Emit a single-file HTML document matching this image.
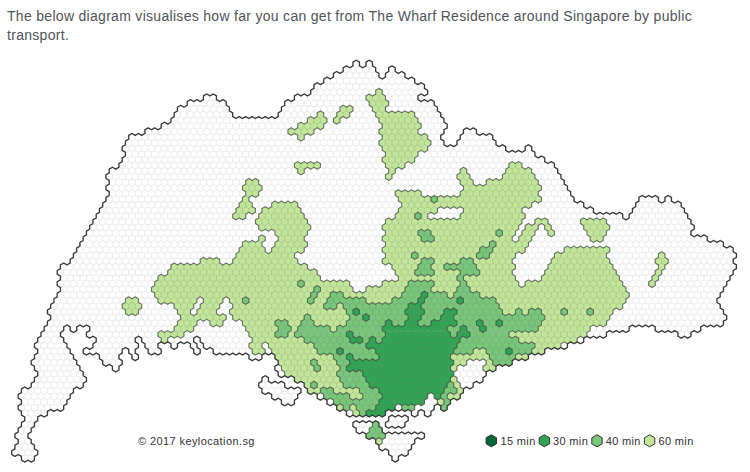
<!DOCTYPE html>
<html><head><meta charset="utf-8">
<style>
html,body{margin:0;padding:0;background:#fff;width:750px;height:472px;overflow:hidden}
body{font-family:"Liberation Sans",sans-serif;color:#333}
.intro{position:absolute;left:7px;top:7px;width:740px;font-size:14px;letter-spacing:0.3px;line-height:19.2px;color:#4f5459}
svg{position:absolute;left:0;top:0}
.copy{position:absolute;left:138px;top:435px;font-size:11px;letter-spacing:0.4px;color:#333;white-space:nowrap}
.lg{position:absolute;top:435px;font-size:11px;letter-spacing:0.35px;color:#333;white-space:nowrap}
</style></head><body>
<div class="intro">The below diagram visualises how far you can get from The Wharf Residence around Singapore by public transport.</div>
<svg width="750" height="472" viewBox="0 0 750 472">
<path fill="#ffffff" stroke="rgba(0,0,0,0.07)" stroke-width="1.2" d="M359.45,62.12v3.75l-3.25,1.88-3.25-1.88v-3.75l3.25-1.88zM372.45,62.12v3.75l-3.25,1.88-3.25-1.88v-3.75l3.25-1.88zM349.7,67.76v3.75l-3.25,1.88-3.25-1.88v-3.75l3.25-1.88zM356.2,67.76v3.75l-3.25,1.88-3.25-1.88v-3.75l3.25-1.88zM362.7,67.76v3.75l-3.25,1.88-3.25-1.88v-3.75l3.25-1.88zM369.2,67.76v3.75l-3.25,1.88-3.25-1.88v-3.75l3.25-1.88zM375.7,67.76v3.75l-3.25,1.88-3.25-1.88v-3.75l3.25-1.88zM395.2,67.76v3.75l-3.25,1.88-3.25-1.88v-3.75l3.25-1.88zM339.95,73.39v3.75l-3.25,1.88-3.25-1.88v-3.75l3.25-1.88zM346.45,73.39v3.75l-3.25,1.88-3.25-1.88v-3.75l3.25-1.88zM352.95,73.39v3.75l-3.25,1.88-3.25-1.88v-3.75l3.25-1.88zM359.45,73.39v3.75l-3.25,1.88-3.25-1.88v-3.75l3.25-1.88zM365.95,73.39v3.75l-3.25,1.88-3.25-1.88v-3.75l3.25-1.88zM372.45,73.39v3.75l-3.25,1.88-3.25-1.88v-3.75l3.25-1.88zM378.95,73.39v3.75l-3.25,1.88-3.25-1.88v-3.75l3.25-1.88zM391.95,73.39v3.75l-3.25,1.88-3.25-1.88v-3.75l3.25-1.88zM398.45,73.39v3.75l-3.25,1.88-3.25-1.88v-3.75l3.25-1.88zM404.95,73.39v3.75l-3.25,1.88-3.25-1.88v-3.75l3.25-1.88zM330.2,79.02v3.75l-3.25,1.88-3.25-1.88v-3.75l3.25-1.88zM336.7,79.02v3.75l-3.25,1.88-3.25-1.88v-3.75l3.25-1.88zM343.2,79.02v3.75l-3.25,1.88-3.25-1.88v-3.75l3.25-1.88zM349.7,79.02v3.75l-3.25,1.88-3.25-1.88v-3.75l3.25-1.88zM356.2,79.02v3.75l-3.25,1.88-3.25-1.88v-3.75l3.25-1.88zM362.7,79.02v3.75l-3.25,1.88-3.25-1.88v-3.75l3.25-1.88zM369.2,79.02v3.75l-3.25,1.88-3.25-1.88v-3.75l3.25-1.88zM375.7,79.02v3.75l-3.25,1.88-3.25-1.88v-3.75l3.25-1.88zM382.2,79.02v3.75l-3.25,1.88-3.25-1.88v-3.75l3.25-1.88zM388.7,79.02v3.75l-3.25,1.88-3.25-1.88v-3.75l3.25-1.88zM395.2,79.02v3.75l-3.25,1.88-3.25-1.88v-3.75l3.25-1.88zM401.7,79.02v3.75l-3.25,1.88-3.25-1.88v-3.75l3.25-1.88zM408.2,79.02v3.75l-3.25,1.88-3.25-1.88v-3.75l3.25-1.88zM414.7,79.02v3.75l-3.25,1.88-3.25-1.88v-3.75l3.25-1.88zM320.45,84.66v3.75l-3.25,1.88-3.25-1.88v-3.75l3.25-1.88zM326.95,84.66v3.75l-3.25,1.88-3.25-1.88v-3.75l3.25-1.88zM333.45,84.66v3.75l-3.25,1.88-3.25-1.88v-3.75l3.25-1.88zM339.95,84.66v3.75l-3.25,1.88-3.25-1.88v-3.75l3.25-1.88zM346.45,84.66v3.75l-3.25,1.88-3.25-1.88v-3.75l3.25-1.88zM352.95,84.66v3.75l-3.25,1.88-3.25-1.88v-3.75l3.25-1.88zM359.45,84.66v3.75l-3.25,1.88-3.25-1.88v-3.75l3.25-1.88zM365.95,84.66v3.75l-3.25,1.88-3.25-1.88v-3.75l3.25-1.88zM372.45,84.66v3.75l-3.25,1.88-3.25-1.88v-3.75l3.25-1.88zM378.95,84.66v3.75l-3.25,1.88-3.25-1.88v-3.75l3.25-1.88zM385.45,84.66v3.75l-3.25,1.88-3.25-1.88v-3.75l3.25-1.88zM391.95,84.66v3.75l-3.25,1.88-3.25-1.88v-3.75l3.25-1.88zM398.45,84.66v3.75l-3.25,1.88-3.25-1.88v-3.75l3.25-1.88zM404.95,84.66v3.75l-3.25,1.88-3.25-1.88v-3.75l3.25-1.88zM411.45,84.66v3.75l-3.25,1.88-3.25-1.88v-3.75l3.25-1.88zM417.95,84.66v3.75l-3.25,1.88-3.25-1.88v-3.75l3.25-1.88zM424.45,84.66v3.75l-3.25,1.88-3.25-1.88v-3.75l3.25-1.88zM317.2,90.29v3.75l-3.25,1.88-3.25-1.88v-3.75l3.25-1.88zM323.7,90.29v3.75l-3.25,1.88-3.25-1.88v-3.75l3.25-1.88zM330.2,90.29v3.75l-3.25,1.88-3.25-1.88v-3.75l3.25-1.88zM336.7,90.29v3.75l-3.25,1.88-3.25-1.88v-3.75l3.25-1.88zM343.2,90.29v3.75l-3.25,1.88-3.25-1.88v-3.75l3.25-1.88zM349.7,90.29v3.75l-3.25,1.88-3.25-1.88v-3.75l3.25-1.88zM356.2,90.29v3.75l-3.25,1.88-3.25-1.88v-3.75l3.25-1.88zM362.7,90.29v3.75l-3.25,1.88-3.25-1.88v-3.75l3.25-1.88zM369.2,90.29v3.75l-3.25,1.88-3.25-1.88v-3.75l3.25-1.88zM375.7,90.29v3.75l-3.25,1.88-3.25-1.88v-3.75l3.25-1.88zM388.7,90.29v3.75l-3.25,1.88-3.25-1.88v-3.75l3.25-1.88zM395.2,90.29v3.75l-3.25,1.88-3.25-1.88v-3.75l3.25-1.88zM401.7,90.29v3.75l-3.25,1.88-3.25-1.88v-3.75l3.25-1.88zM408.2,90.29v3.75l-3.25,1.88-3.25-1.88v-3.75l3.25-1.88zM414.7,90.29v3.75l-3.25,1.88-3.25-1.88v-3.75l3.25-1.88zM421.2,90.29v3.75l-3.25,1.88-3.25-1.88v-3.75l3.25-1.88zM427.7,90.29v3.75l-3.25,1.88-3.25-1.88v-3.75l3.25-1.88zM209.95,95.92v3.75l-3.25,1.88-3.25-1.88v-3.75l3.25-1.88zM216.45,95.92v3.75l-3.25,1.88-3.25-1.88v-3.75l3.25-1.88zM300.95,95.92v3.75l-3.25,1.88-3.25-1.88v-3.75l3.25-1.88zM307.45,95.92v3.75l-3.25,1.88-3.25-1.88v-3.75l3.25-1.88zM313.95,95.92v3.75l-3.25,1.88-3.25-1.88v-3.75l3.25-1.88zM320.45,95.92v3.75l-3.25,1.88-3.25-1.88v-3.75l3.25-1.88zM326.95,95.92v3.75l-3.25,1.88-3.25-1.88v-3.75l3.25-1.88zM333.45,95.92v3.75l-3.25,1.88-3.25-1.88v-3.75l3.25-1.88zM339.95,95.92v3.75l-3.25,1.88-3.25-1.88v-3.75l3.25-1.88zM346.45,95.92v3.75l-3.25,1.88-3.25-1.88v-3.75l3.25-1.88zM352.95,95.92v3.75l-3.25,1.88-3.25-1.88v-3.75l3.25-1.88zM359.45,95.92v3.75l-3.25,1.88-3.25-1.88v-3.75l3.25-1.88zM365.95,95.92v3.75l-3.25,1.88-3.25-1.88v-3.75l3.25-1.88zM391.95,95.92v3.75l-3.25,1.88-3.25-1.88v-3.75l3.25-1.88zM398.45,95.92v3.75l-3.25,1.88-3.25-1.88v-3.75l3.25-1.88zM404.95,95.92v3.75l-3.25,1.88-3.25-1.88v-3.75l3.25-1.88zM411.45,95.92v3.75l-3.25,1.88-3.25-1.88v-3.75l3.25-1.88zM417.95,95.92v3.75l-3.25,1.88-3.25-1.88v-3.75l3.25-1.88zM193.7,101.55v3.75l-3.25,1.88-3.25-1.88v-3.75l3.25-1.88zM200.2,101.55v3.75l-3.25,1.88-3.25-1.88v-3.75l3.25-1.88zM206.7,101.55v3.75l-3.25,1.88-3.25-1.88v-3.75l3.25-1.88zM213.2,101.55v3.75l-3.25,1.88-3.25-1.88v-3.75l3.25-1.88zM219.7,101.55v3.75l-3.25,1.88-3.25-1.88v-3.75l3.25-1.88zM226.2,101.55v3.75l-3.25,1.88-3.25-1.88v-3.75l3.25-1.88zM291.2,101.55v3.75l-3.25,1.88-3.25-1.88v-3.75l3.25-1.88zM297.7,101.55v3.75l-3.25,1.88-3.25-1.88v-3.75l3.25-1.88zM304.2,101.55v3.75l-3.25,1.88-3.25-1.88v-3.75l3.25-1.88zM310.7,101.55v3.75l-3.25,1.88-3.25-1.88v-3.75l3.25-1.88zM317.2,101.55v3.75l-3.25,1.88-3.25-1.88v-3.75l3.25-1.88zM323.7,101.55v3.75l-3.25,1.88-3.25-1.88v-3.75l3.25-1.88zM330.2,101.55v3.75l-3.25,1.88-3.25-1.88v-3.75l3.25-1.88zM336.7,101.55v3.75l-3.25,1.88-3.25-1.88v-3.75l3.25-1.88zM343.2,101.55v3.75l-3.25,1.88-3.25-1.88v-3.75l3.25-1.88zM349.7,101.55v3.75l-3.25,1.88-3.25-1.88v-3.75l3.25-1.88zM356.2,101.55v3.75l-3.25,1.88-3.25-1.88v-3.75l3.25-1.88zM362.7,101.55v3.75l-3.25,1.88-3.25-1.88v-3.75l3.25-1.88zM369.2,101.55v3.75l-3.25,1.88-3.25-1.88v-3.75l3.25-1.88zM395.2,101.55v3.75l-3.25,1.88-3.25-1.88v-3.75l3.25-1.88zM401.7,101.55v3.75l-3.25,1.88-3.25-1.88v-3.75l3.25-1.88zM408.2,101.55v3.75l-3.25,1.88-3.25-1.88v-3.75l3.25-1.88zM414.7,101.55v3.75l-3.25,1.88-3.25-1.88v-3.75l3.25-1.88zM421.2,101.55v3.75l-3.25,1.88-3.25-1.88v-3.75l3.25-1.88zM427.7,101.55v3.75l-3.25,1.88-3.25-1.88v-3.75l3.25-1.88zM434.2,101.55v3.75l-3.25,1.88-3.25-1.88v-3.75l3.25-1.88zM183.95,107.19v3.75l-3.25,1.88-3.25-1.88v-3.75l3.25-1.88zM190.45,107.19v3.75l-3.25,1.88-3.25-1.88v-3.75l3.25-1.88zM196.95,107.19v3.75l-3.25,1.88-3.25-1.88v-3.75l3.25-1.88zM203.45,107.19v3.75l-3.25,1.88-3.25-1.88v-3.75l3.25-1.88zM209.95,107.19v3.75l-3.25,1.88-3.25-1.88v-3.75l3.25-1.88zM216.45,107.19v3.75l-3.25,1.88-3.25-1.88v-3.75l3.25-1.88zM222.95,107.19v3.75l-3.25,1.88-3.25-1.88v-3.75l3.25-1.88zM229.45,107.19v3.75l-3.25,1.88-3.25-1.88v-3.75l3.25-1.88zM287.95,107.19v3.75l-3.25,1.88-3.25-1.88v-3.75l3.25-1.88zM294.45,107.19v3.75l-3.25,1.88-3.25-1.88v-3.75l3.25-1.88zM300.95,107.19v3.75l-3.25,1.88-3.25-1.88v-3.75l3.25-1.88zM307.45,107.19v3.75l-3.25,1.88-3.25-1.88v-3.75l3.25-1.88zM313.95,107.19v3.75l-3.25,1.88-3.25-1.88v-3.75l3.25-1.88zM320.45,107.19v3.75l-3.25,1.88-3.25-1.88v-3.75l3.25-1.88zM326.95,107.19v3.75l-3.25,1.88-3.25-1.88v-3.75l3.25-1.88zM333.45,107.19v3.75l-3.25,1.88-3.25-1.88v-3.75l3.25-1.88zM339.95,107.19v3.75l-3.25,1.88-3.25-1.88v-3.75l3.25-1.88zM359.45,107.19v3.75l-3.25,1.88-3.25-1.88v-3.75l3.25-1.88zM365.95,107.19v3.75l-3.25,1.88-3.25-1.88v-3.75l3.25-1.88zM372.45,107.19v3.75l-3.25,1.88-3.25-1.88v-3.75l3.25-1.88zM391.95,107.19v3.75l-3.25,1.88-3.25-1.88v-3.75l3.25-1.88zM398.45,107.19v3.75l-3.25,1.88-3.25-1.88v-3.75l3.25-1.88zM404.95,107.19v3.75l-3.25,1.88-3.25-1.88v-3.75l3.25-1.88zM411.45,107.19v3.75l-3.25,1.88-3.25-1.88v-3.75l3.25-1.88zM417.95,107.19v3.75l-3.25,1.88-3.25-1.88v-3.75l3.25-1.88zM424.45,107.19v3.75l-3.25,1.88-3.25-1.88v-3.75l3.25-1.88zM430.95,107.19v3.75l-3.25,1.88-3.25-1.88v-3.75l3.25-1.88zM437.45,107.19v3.75l-3.25,1.88-3.25-1.88v-3.75l3.25-1.88zM180.7,112.82v3.75l-3.25,1.88-3.25-1.88v-3.75l3.25-1.88zM187.2,112.82v3.75l-3.25,1.88-3.25-1.88v-3.75l3.25-1.88zM193.7,112.82v3.75l-3.25,1.88-3.25-1.88v-3.75l3.25-1.88zM200.2,112.82v3.75l-3.25,1.88-3.25-1.88v-3.75l3.25-1.88zM206.7,112.82v3.75l-3.25,1.88-3.25-1.88v-3.75l3.25-1.88zM213.2,112.82v3.75l-3.25,1.88-3.25-1.88v-3.75l3.25-1.88zM219.7,112.82v3.75l-3.25,1.88-3.25-1.88v-3.75l3.25-1.88zM226.2,112.82v3.75l-3.25,1.88-3.25-1.88v-3.75l3.25-1.88zM232.7,112.82v3.75l-3.25,1.88-3.25-1.88v-3.75l3.25-1.88zM284.7,112.82v3.75l-3.25,1.88-3.25-1.88v-3.75l3.25-1.88zM291.2,112.82v3.75l-3.25,1.88-3.25-1.88v-3.75l3.25-1.88zM297.7,112.82v3.75l-3.25,1.88-3.25-1.88v-3.75l3.25-1.88zM304.2,112.82v3.75l-3.25,1.88-3.25-1.88v-3.75l3.25-1.88zM310.7,112.82v3.75l-3.25,1.88-3.25-1.88v-3.75l3.25-1.88zM317.2,112.82v3.75l-3.25,1.88-3.25-1.88v-3.75l3.25-1.88zM330.2,112.82v3.75l-3.25,1.88-3.25-1.88v-3.75l3.25-1.88zM336.7,112.82v3.75l-3.25,1.88-3.25-1.88v-3.75l3.25-1.88zM356.2,112.82v3.75l-3.25,1.88-3.25-1.88v-3.75l3.25-1.88zM362.7,112.82v3.75l-3.25,1.88-3.25-1.88v-3.75l3.25-1.88zM369.2,112.82v3.75l-3.25,1.88-3.25-1.88v-3.75l3.25-1.88zM375.7,112.82v3.75l-3.25,1.88-3.25-1.88v-3.75l3.25-1.88zM421.2,112.82v3.75l-3.25,1.88-3.25-1.88v-3.75l3.25-1.88zM427.7,112.82v3.75l-3.25,1.88-3.25-1.88v-3.75l3.25-1.88zM434.2,112.82v3.75l-3.25,1.88-3.25-1.88v-3.75l3.25-1.88zM440.7,112.82v3.75l-3.25,1.88-3.25-1.88v-3.75l3.25-1.88zM177.45,118.45v3.75l-3.25,1.88-3.25-1.88v-3.75l3.25-1.88zM183.95,118.45v3.75l-3.25,1.88-3.25-1.88v-3.75l3.25-1.88zM190.45,118.45v3.75l-3.25,1.88-3.25-1.88v-3.75l3.25-1.88zM196.95,118.45v3.75l-3.25,1.88-3.25-1.88v-3.75l3.25-1.88zM203.45,118.45v3.75l-3.25,1.88-3.25-1.88v-3.75l3.25-1.88zM209.95,118.45v3.75l-3.25,1.88-3.25-1.88v-3.75l3.25-1.88zM216.45,118.45v3.75l-3.25,1.88-3.25-1.88v-3.75l3.25-1.88zM222.95,118.45v3.75l-3.25,1.88-3.25-1.88v-3.75l3.25-1.88zM229.45,118.45v3.75l-3.25,1.88-3.25-1.88v-3.75l3.25-1.88zM235.95,118.45v3.75l-3.25,1.88-3.25-1.88v-3.75l3.25-1.88zM242.45,118.45v3.75l-3.25,1.88-3.25-1.88v-3.75l3.25-1.88zM248.95,118.45v3.75l-3.25,1.88-3.25-1.88v-3.75l3.25-1.88zM255.45,118.45v3.75l-3.25,1.88-3.25-1.88v-3.75l3.25-1.88zM261.95,118.45v3.75l-3.25,1.88-3.25-1.88v-3.75l3.25-1.88zM268.45,118.45v3.75l-3.25,1.88-3.25-1.88v-3.75l3.25-1.88zM274.95,118.45v3.75l-3.25,1.88-3.25-1.88v-3.75l3.25-1.88zM281.45,118.45v3.75l-3.25,1.88-3.25-1.88v-3.75l3.25-1.88zM287.95,118.45v3.75l-3.25,1.88-3.25-1.88v-3.75l3.25-1.88zM294.45,118.45v3.75l-3.25,1.88-3.25-1.88v-3.75l3.25-1.88zM300.95,118.45v3.75l-3.25,1.88-3.25-1.88v-3.75l3.25-1.88zM307.45,118.45v3.75l-3.25,1.88-3.25-1.88v-3.75l3.25-1.88zM333.45,118.45v3.75l-3.25,1.88-3.25-1.88v-3.75l3.25-1.88zM346.45,118.45v3.75l-3.25,1.88-3.25-1.88v-3.75l3.25-1.88zM352.95,118.45v3.75l-3.25,1.88-3.25-1.88v-3.75l3.25-1.88zM359.45,118.45v3.75l-3.25,1.88-3.25-1.88v-3.75l3.25-1.88zM365.95,118.45v3.75l-3.25,1.88-3.25-1.88v-3.75l3.25-1.88zM372.45,118.45v3.75l-3.25,1.88-3.25-1.88v-3.75l3.25-1.88zM378.95,118.45v3.75l-3.25,1.88-3.25-1.88v-3.75l3.25-1.88zM424.45,118.45v3.75l-3.25,1.88-3.25-1.88v-3.75l3.25-1.88zM430.95,118.45v3.75l-3.25,1.88-3.25-1.88v-3.75l3.25-1.88zM437.45,118.45v3.75l-3.25,1.88-3.25-1.88v-3.75l3.25-1.88zM443.95,118.45v3.75l-3.25,1.88-3.25-1.88v-3.75l3.25-1.88zM167.7,124.09v3.75l-3.25,1.88-3.25-1.88v-3.75l3.25-1.88zM174.2,124.09v3.75l-3.25,1.88-3.25-1.88v-3.75l3.25-1.88zM180.7,124.09v3.75l-3.25,1.88-3.25-1.88v-3.75l3.25-1.88zM187.2,124.09v3.75l-3.25,1.88-3.25-1.88v-3.75l3.25-1.88zM193.7,124.09v3.75l-3.25,1.88-3.25-1.88v-3.75l3.25-1.88zM200.2,124.09v3.75l-3.25,1.88-3.25-1.88v-3.75l3.25-1.88zM206.7,124.09v3.75l-3.25,1.88-3.25-1.88v-3.75l3.25-1.88zM213.2,124.09v3.75l-3.25,1.88-3.25-1.88v-3.75l3.25-1.88zM219.7,124.09v3.75l-3.25,1.88-3.25-1.88v-3.75l3.25-1.88zM226.2,124.09v3.75l-3.25,1.88-3.25-1.88v-3.75l3.25-1.88zM232.7,124.09v3.75l-3.25,1.88-3.25-1.88v-3.75l3.25-1.88zM239.2,124.09v3.75l-3.25,1.88-3.25-1.88v-3.75l3.25-1.88zM245.7,124.09v3.75l-3.25,1.88-3.25-1.88v-3.75l3.25-1.88zM252.2,124.09v3.75l-3.25,1.88-3.25-1.88v-3.75l3.25-1.88zM258.7,124.09v3.75l-3.25,1.88-3.25-1.88v-3.75l3.25-1.88zM265.2,124.09v3.75l-3.25,1.88-3.25-1.88v-3.75l3.25-1.88zM271.7,124.09v3.75l-3.25,1.88-3.25-1.88v-3.75l3.25-1.88zM278.2,124.09v3.75l-3.25,1.88-3.25-1.88v-3.75l3.25-1.88zM284.7,124.09v3.75l-3.25,1.88-3.25-1.88v-3.75l3.25-1.88zM291.2,124.09v3.75l-3.25,1.88-3.25-1.88v-3.75l3.25-1.88zM297.7,124.09v3.75l-3.25,1.88-3.25-1.88v-3.75l3.25-1.88zM330.2,124.09v3.75l-3.25,1.88-3.25-1.88v-3.75l3.25-1.88zM336.7,124.09v3.75l-3.25,1.88-3.25-1.88v-3.75l3.25-1.88zM343.2,124.09v3.75l-3.25,1.88-3.25-1.88v-3.75l3.25-1.88zM349.7,124.09v3.75l-3.25,1.88-3.25-1.88v-3.75l3.25-1.88zM356.2,124.09v3.75l-3.25,1.88-3.25-1.88v-3.75l3.25-1.88zM362.7,124.09v3.75l-3.25,1.88-3.25-1.88v-3.75l3.25-1.88zM369.2,124.09v3.75l-3.25,1.88-3.25-1.88v-3.75l3.25-1.88zM375.7,124.09v3.75l-3.25,1.88-3.25-1.88v-3.75l3.25-1.88zM382.2,124.09v3.75l-3.25,1.88-3.25-1.88v-3.75l3.25-1.88zM427.7,124.09v3.75l-3.25,1.88-3.25-1.88v-3.75l3.25-1.88zM434.2,124.09v3.75l-3.25,1.88-3.25-1.88v-3.75l3.25-1.88zM440.7,124.09v3.75l-3.25,1.88-3.25-1.88v-3.75l3.25-1.88zM447.2,124.09v3.75l-3.25,1.88-3.25-1.88v-3.75l3.25-1.88zM151.45,129.72v3.75l-3.25,1.88-3.25-1.88v-3.75l3.25-1.88zM157.95,129.72v3.75l-3.25,1.88-3.25-1.88v-3.75l3.25-1.88zM164.45,129.72v3.75l-3.25,1.88-3.25-1.88v-3.75l3.25-1.88zM170.95,129.72v3.75l-3.25,1.88-3.25-1.88v-3.75l3.25-1.88zM177.45,129.72v3.75l-3.25,1.88-3.25-1.88v-3.75l3.25-1.88zM183.95,129.72v3.75l-3.25,1.88-3.25-1.88v-3.75l3.25-1.88zM190.45,129.72v3.75l-3.25,1.88-3.25-1.88v-3.75l3.25-1.88zM196.95,129.72v3.75l-3.25,1.88-3.25-1.88v-3.75l3.25-1.88zM203.45,129.72v3.75l-3.25,1.88-3.25-1.88v-3.75l3.25-1.88zM209.95,129.72v3.75l-3.25,1.88-3.25-1.88v-3.75l3.25-1.88zM216.45,129.72v3.75l-3.25,1.88-3.25-1.88v-3.75l3.25-1.88zM222.95,129.72v3.75l-3.25,1.88-3.25-1.88v-3.75l3.25-1.88zM229.45,129.72v3.75l-3.25,1.88-3.25-1.88v-3.75l3.25-1.88zM235.95,129.72v3.75l-3.25,1.88-3.25-1.88v-3.75l3.25-1.88zM242.45,129.72v3.75l-3.25,1.88-3.25-1.88v-3.75l3.25-1.88zM248.95,129.72v3.75l-3.25,1.88-3.25-1.88v-3.75l3.25-1.88zM255.45,129.72v3.75l-3.25,1.88-3.25-1.88v-3.75l3.25-1.88zM261.95,129.72v3.75l-3.25,1.88-3.25-1.88v-3.75l3.25-1.88zM268.45,129.72v3.75l-3.25,1.88-3.25-1.88v-3.75l3.25-1.88zM274.95,129.72v3.75l-3.25,1.88-3.25-1.88v-3.75l3.25-1.88zM281.45,129.72v3.75l-3.25,1.88-3.25-1.88v-3.75l3.25-1.88zM287.95,129.72v3.75l-3.25,1.88-3.25-1.88v-3.75l3.25-1.88zM320.45,129.72v3.75l-3.25,1.88-3.25-1.88v-3.75l3.25-1.88zM326.95,129.72v3.75l-3.25,1.88-3.25-1.88v-3.75l3.25-1.88zM333.45,129.72v3.75l-3.25,1.88-3.25-1.88v-3.75l3.25-1.88zM339.95,129.72v3.75l-3.25,1.88-3.25-1.88v-3.75l3.25-1.88zM346.45,129.72v3.75l-3.25,1.88-3.25-1.88v-3.75l3.25-1.88zM352.95,129.72v3.75l-3.25,1.88-3.25-1.88v-3.75l3.25-1.88zM359.45,129.72v3.75l-3.25,1.88-3.25-1.88v-3.75l3.25-1.88zM365.95,129.72v3.75l-3.25,1.88-3.25-1.88v-3.75l3.25-1.88zM372.45,129.72v3.75l-3.25,1.88-3.25-1.88v-3.75l3.25-1.88zM378.95,129.72v3.75l-3.25,1.88-3.25-1.88v-3.75l3.25-1.88zM424.45,129.72v3.75l-3.25,1.88-3.25-1.88v-3.75l3.25-1.88zM430.95,129.72v3.75l-3.25,1.88-3.25-1.88v-3.75l3.25-1.88zM437.45,129.72v3.75l-3.25,1.88-3.25-1.88v-3.75l3.25-1.88zM443.95,129.72v3.75l-3.25,1.88-3.25-1.88v-3.75l3.25-1.88zM469.95,129.72v3.75l-3.25,1.88-3.25-1.88v-3.75l3.25-1.88zM476.45,129.72v3.75l-3.25,1.88-3.25-1.88v-3.75l3.25-1.88zM135.2,135.35v3.75l-3.25,1.88-3.25-1.88v-3.75l3.25-1.88zM141.7,135.35v3.75l-3.25,1.88-3.25-1.88v-3.75l3.25-1.88zM148.2,135.35v3.75l-3.25,1.88-3.25-1.88v-3.75l3.25-1.88zM154.7,135.35v3.75l-3.25,1.88-3.25-1.88v-3.75l3.25-1.88zM161.2,135.35v3.75l-3.25,1.88-3.25-1.88v-3.75l3.25-1.88zM167.7,135.35v3.75l-3.25,1.88-3.25-1.88v-3.75l3.25-1.88zM174.2,135.35v3.75l-3.25,1.88-3.25-1.88v-3.75l3.25-1.88zM180.7,135.35v3.75l-3.25,1.88-3.25-1.88v-3.75l3.25-1.88zM187.2,135.35v3.75l-3.25,1.88-3.25-1.88v-3.75l3.25-1.88zM193.7,135.35v3.75l-3.25,1.88-3.25-1.88v-3.75l3.25-1.88zM200.2,135.35v3.75l-3.25,1.88-3.25-1.88v-3.75l3.25-1.88zM206.7,135.35v3.75l-3.25,1.88-3.25-1.88v-3.75l3.25-1.88zM213.2,135.35v3.75l-3.25,1.88-3.25-1.88v-3.75l3.25-1.88zM219.7,135.35v3.75l-3.25,1.88-3.25-1.88v-3.75l3.25-1.88zM226.2,135.35v3.75l-3.25,1.88-3.25-1.88v-3.75l3.25-1.88zM232.7,135.35v3.75l-3.25,1.88-3.25-1.88v-3.75l3.25-1.88zM239.2,135.35v3.75l-3.25,1.88-3.25-1.88v-3.75l3.25-1.88zM245.7,135.35v3.75l-3.25,1.88-3.25-1.88v-3.75l3.25-1.88zM252.2,135.35v3.75l-3.25,1.88-3.25-1.88v-3.75l3.25-1.88zM258.7,135.35v3.75l-3.25,1.88-3.25-1.88v-3.75l3.25-1.88zM265.2,135.35v3.75l-3.25,1.88-3.25-1.88v-3.75l3.25-1.88zM271.7,135.35v3.75l-3.25,1.88-3.25-1.88v-3.75l3.25-1.88zM278.2,135.35v3.75l-3.25,1.88-3.25-1.88v-3.75l3.25-1.88zM284.7,135.35v3.75l-3.25,1.88-3.25-1.88v-3.75l3.25-1.88zM291.2,135.35v3.75l-3.25,1.88-3.25-1.88v-3.75l3.25-1.88zM297.7,135.35v3.75l-3.25,1.88-3.25-1.88v-3.75l3.25-1.88zM310.7,135.35v3.75l-3.25,1.88-3.25-1.88v-3.75l3.25-1.88zM317.2,135.35v3.75l-3.25,1.88-3.25-1.88v-3.75l3.25-1.88zM323.7,135.35v3.75l-3.25,1.88-3.25-1.88v-3.75l3.25-1.88zM330.2,135.35v3.75l-3.25,1.88-3.25-1.88v-3.75l3.25-1.88zM336.7,135.35v3.75l-3.25,1.88-3.25-1.88v-3.75l3.25-1.88zM343.2,135.35v3.75l-3.25,1.88-3.25-1.88v-3.75l3.25-1.88zM349.7,135.35v3.75l-3.25,1.88-3.25-1.88v-3.75l3.25-1.88zM356.2,135.35v3.75l-3.25,1.88-3.25-1.88v-3.75l3.25-1.88zM362.7,135.35v3.75l-3.25,1.88-3.25-1.88v-3.75l3.25-1.88zM369.2,135.35v3.75l-3.25,1.88-3.25-1.88v-3.75l3.25-1.88zM375.7,135.35v3.75l-3.25,1.88-3.25-1.88v-3.75l3.25-1.88zM382.2,135.35v3.75l-3.25,1.88-3.25-1.88v-3.75l3.25-1.88zM434.2,135.35v3.75l-3.25,1.88-3.25-1.88v-3.75l3.25-1.88zM440.7,135.35v3.75l-3.25,1.88-3.25-1.88v-3.75l3.25-1.88zM466.7,135.35v3.75l-3.25,1.88-3.25-1.88v-3.75l3.25-1.88zM473.2,135.35v3.75l-3.25,1.88-3.25-1.88v-3.75l3.25-1.88zM479.7,135.35v3.75l-3.25,1.88-3.25-1.88v-3.75l3.25-1.88zM486.2,135.35v3.75l-3.25,1.88-3.25-1.88v-3.75l3.25-1.88zM492.7,135.35v3.75l-3.25,1.88-3.25-1.88v-3.75l3.25-1.88zM131.95,140.99v3.75l-3.25,1.88-3.25-1.88v-3.75l3.25-1.88zM138.45,140.99v3.75l-3.25,1.88-3.25-1.88v-3.75l3.25-1.88zM144.95,140.99v3.75l-3.25,1.88-3.25-1.88v-3.75l3.25-1.88zM151.45,140.99v3.75l-3.25,1.88-3.25-1.88v-3.75l3.25-1.88zM157.95,140.99v3.75l-3.25,1.88-3.25-1.88v-3.75l3.25-1.88zM164.45,140.99v3.75l-3.25,1.88-3.25-1.88v-3.75l3.25-1.88zM170.95,140.99v3.75l-3.25,1.88-3.25-1.88v-3.75l3.25-1.88zM177.45,140.99v3.75l-3.25,1.88-3.25-1.88v-3.75l3.25-1.88zM183.95,140.99v3.75l-3.25,1.88-3.25-1.88v-3.75l3.25-1.88zM190.45,140.99v3.75l-3.25,1.88-3.25-1.88v-3.75l3.25-1.88zM196.95,140.99v3.75l-3.25,1.88-3.25-1.88v-3.75l3.25-1.88zM203.45,140.99v3.75l-3.25,1.88-3.25-1.88v-3.75l3.25-1.88zM209.95,140.99v3.75l-3.25,1.88-3.25-1.88v-3.75l3.25-1.88zM216.45,140.99v3.75l-3.25,1.88-3.25-1.88v-3.75l3.25-1.88zM222.95,140.99v3.75l-3.25,1.88-3.25-1.88v-3.75l3.25-1.88zM229.45,140.99v3.75l-3.25,1.88-3.25-1.88v-3.75l3.25-1.88zM235.95,140.99v3.75l-3.25,1.88-3.25-1.88v-3.75l3.25-1.88zM242.45,140.99v3.75l-3.25,1.88-3.25-1.88v-3.75l3.25-1.88zM248.95,140.99v3.75l-3.25,1.88-3.25-1.88v-3.75l3.25-1.88zM255.45,140.99v3.75l-3.25,1.88-3.25-1.88v-3.75l3.25-1.88zM261.95,140.99v3.75l-3.25,1.88-3.25-1.88v-3.75l3.25-1.88zM268.45,140.99v3.75l-3.25,1.88-3.25-1.88v-3.75l3.25-1.88zM274.95,140.99v3.75l-3.25,1.88-3.25-1.88v-3.75l3.25-1.88zM281.45,140.99v3.75l-3.25,1.88-3.25-1.88v-3.75l3.25-1.88zM287.95,140.99v3.75l-3.25,1.88-3.25-1.88v-3.75l3.25-1.88zM294.45,140.99v3.75l-3.25,1.88-3.25-1.88v-3.75l3.25-1.88zM300.95,140.99v3.75l-3.25,1.88-3.25-1.88v-3.75l3.25-1.88zM307.45,140.99v3.75l-3.25,1.88-3.25-1.88v-3.75l3.25-1.88zM313.95,140.99v3.75l-3.25,1.88-3.25-1.88v-3.75l3.25-1.88zM320.45,140.99v3.75l-3.25,1.88-3.25-1.88v-3.75l3.25-1.88zM326.95,140.99v3.75l-3.25,1.88-3.25-1.88v-3.75l3.25-1.88zM333.45,140.99v3.75l-3.25,1.88-3.25-1.88v-3.75l3.25-1.88zM339.95,140.99v3.75l-3.25,1.88-3.25-1.88v-3.75l3.25-1.88zM346.45,140.99v3.75l-3.25,1.88-3.25-1.88v-3.75l3.25-1.88zM352.95,140.99v3.75l-3.25,1.88-3.25-1.88v-3.75l3.25-1.88zM359.45,140.99v3.75l-3.25,1.88-3.25-1.88v-3.75l3.25-1.88zM365.95,140.99v3.75l-3.25,1.88-3.25-1.88v-3.75l3.25-1.88zM372.45,140.99v3.75l-3.25,1.88-3.25-1.88v-3.75l3.25-1.88zM378.95,140.99v3.75l-3.25,1.88-3.25-1.88v-3.75l3.25-1.88zM437.45,140.99v3.75l-3.25,1.88-3.25-1.88v-3.75l3.25-1.88zM443.95,140.99v3.75l-3.25,1.88-3.25-1.88v-3.75l3.25-1.88zM463.45,140.99v3.75l-3.25,1.88-3.25-1.88v-3.75l3.25-1.88zM469.95,140.99v3.75l-3.25,1.88-3.25-1.88v-3.75l3.25-1.88zM476.45,140.99v3.75l-3.25,1.88-3.25-1.88v-3.75l3.25-1.88zM482.95,140.99v3.75l-3.25,1.88-3.25-1.88v-3.75l3.25-1.88zM489.45,140.99v3.75l-3.25,1.88-3.25-1.88v-3.75l3.25-1.88zM495.95,140.99v3.75l-3.25,1.88-3.25-1.88v-3.75l3.25-1.88zM128.7,146.62v3.75l-3.25,1.88-3.25-1.88v-3.75l3.25-1.88zM135.2,146.62v3.75l-3.25,1.88-3.25-1.88v-3.75l3.25-1.88zM141.7,146.62v3.75l-3.25,1.88-3.25-1.88v-3.75l3.25-1.88zM148.2,146.62v3.75l-3.25,1.88-3.25-1.88v-3.75l3.25-1.88zM154.7,146.62v3.75l-3.25,1.88-3.25-1.88v-3.75l3.25-1.88zM161.2,146.62v3.75l-3.25,1.88-3.25-1.88v-3.75l3.25-1.88zM167.7,146.62v3.75l-3.25,1.88-3.25-1.88v-3.75l3.25-1.88zM174.2,146.62v3.75l-3.25,1.88-3.25-1.88v-3.75l3.25-1.88zM180.7,146.62v3.75l-3.25,1.88-3.25-1.88v-3.75l3.25-1.88zM187.2,146.62v3.75l-3.25,1.88-3.25-1.88v-3.75l3.25-1.88zM193.7,146.62v3.75l-3.25,1.88-3.25-1.88v-3.75l3.25-1.88zM200.2,146.62v3.75l-3.25,1.88-3.25-1.88v-3.75l3.25-1.88zM206.7,146.62v3.75l-3.25,1.88-3.25-1.88v-3.75l3.25-1.88zM213.2,146.62v3.75l-3.25,1.88-3.25-1.88v-3.75l3.25-1.88zM219.7,146.62v3.75l-3.25,1.88-3.25-1.88v-3.75l3.25-1.88zM226.2,146.62v3.75l-3.25,1.88-3.25-1.88v-3.75l3.25-1.88zM232.7,146.62v3.75l-3.25,1.88-3.25-1.88v-3.75l3.25-1.88zM239.2,146.62v3.75l-3.25,1.88-3.25-1.88v-3.75l3.25-1.88zM245.7,146.62v3.75l-3.25,1.88-3.25-1.88v-3.75l3.25-1.88zM252.2,146.62v3.75l-3.25,1.88-3.25-1.88v-3.75l3.25-1.88zM258.7,146.62v3.75l-3.25,1.88-3.25-1.88v-3.75l3.25-1.88zM265.2,146.62v3.75l-3.25,1.88-3.25-1.88v-3.75l3.25-1.88zM271.7,146.62v3.75l-3.25,1.88-3.25-1.88v-3.75l3.25-1.88zM278.2,146.62v3.75l-3.25,1.88-3.25-1.88v-3.75l3.25-1.88zM284.7,146.62v3.75l-3.25,1.88-3.25-1.88v-3.75l3.25-1.88zM291.2,146.62v3.75l-3.25,1.88-3.25-1.88v-3.75l3.25-1.88zM297.7,146.62v3.75l-3.25,1.88-3.25-1.88v-3.75l3.25-1.88zM304.2,146.62v3.75l-3.25,1.88-3.25-1.88v-3.75l3.25-1.88zM310.7,146.62v3.75l-3.25,1.88-3.25-1.88v-3.75l3.25-1.88zM317.2,146.62v3.75l-3.25,1.88-3.25-1.88v-3.75l3.25-1.88zM323.7,146.62v3.75l-3.25,1.88-3.25-1.88v-3.75l3.25-1.88zM330.2,146.62v3.75l-3.25,1.88-3.25-1.88v-3.75l3.25-1.88zM336.7,146.62v3.75l-3.25,1.88-3.25-1.88v-3.75l3.25-1.88zM343.2,146.62v3.75l-3.25,1.88-3.25-1.88v-3.75l3.25-1.88zM349.7,146.62v3.75l-3.25,1.88-3.25-1.88v-3.75l3.25-1.88zM356.2,146.62v3.75l-3.25,1.88-3.25-1.88v-3.75l3.25-1.88zM362.7,146.62v3.75l-3.25,1.88-3.25-1.88v-3.75l3.25-1.88zM369.2,146.62v3.75l-3.25,1.88-3.25-1.88v-3.75l3.25-1.88zM375.7,146.62v3.75l-3.25,1.88-3.25-1.88v-3.75l3.25-1.88zM382.2,146.62v3.75l-3.25,1.88-3.25-1.88v-3.75l3.25-1.88zM434.2,146.62v3.75l-3.25,1.88-3.25-1.88v-3.75l3.25-1.88zM440.7,146.62v3.75l-3.25,1.88-3.25-1.88v-3.75l3.25-1.88zM447.2,146.62v3.75l-3.25,1.88-3.25-1.88v-3.75l3.25-1.88zM453.7,146.62v3.75l-3.25,1.88-3.25-1.88v-3.75l3.25-1.88zM460.2,146.62v3.75l-3.25,1.88-3.25-1.88v-3.75l3.25-1.88zM466.7,146.62v3.75l-3.25,1.88-3.25-1.88v-3.75l3.25-1.88zM473.2,146.62v3.75l-3.25,1.88-3.25-1.88v-3.75l3.25-1.88zM479.7,146.62v3.75l-3.25,1.88-3.25-1.88v-3.75l3.25-1.88zM486.2,146.62v3.75l-3.25,1.88-3.25-1.88v-3.75l3.25-1.88zM492.7,146.62v3.75l-3.25,1.88-3.25-1.88v-3.75l3.25-1.88zM499.2,146.62v3.75l-3.25,1.88-3.25-1.88v-3.75l3.25-1.88zM505.7,146.62v3.75l-3.25,1.88-3.25-1.88v-3.75l3.25-1.88zM531.7,146.62v3.75l-3.25,1.88-3.25-1.88v-3.75l3.25-1.88zM131.95,152.25v3.75l-3.25,1.88-3.25-1.88v-3.75l3.25-1.88zM138.45,152.25v3.75l-3.25,1.88-3.25-1.88v-3.75l3.25-1.88zM144.95,152.25v3.75l-3.25,1.88-3.25-1.88v-3.75l3.25-1.88zM151.45,152.25v3.75l-3.25,1.88-3.25-1.88v-3.75l3.25-1.88zM157.95,152.25v3.75l-3.25,1.88-3.25-1.88v-3.75l3.25-1.88zM164.45,152.25v3.75l-3.25,1.88-3.25-1.88v-3.75l3.25-1.88zM170.95,152.25v3.75l-3.25,1.88-3.25-1.88v-3.75l3.25-1.88zM177.45,152.25v3.75l-3.25,1.88-3.25-1.88v-3.75l3.25-1.88zM183.95,152.25v3.75l-3.25,1.88-3.25-1.88v-3.75l3.25-1.88zM190.45,152.25v3.75l-3.25,1.88-3.25-1.88v-3.75l3.25-1.88zM196.95,152.25v3.75l-3.25,1.88-3.25-1.88v-3.75l3.25-1.88zM203.45,152.25v3.75l-3.25,1.88-3.25-1.88v-3.75l3.25-1.88zM209.95,152.25v3.75l-3.25,1.88-3.25-1.88v-3.75l3.25-1.88zM216.45,152.25v3.75l-3.25,1.88-3.25-1.88v-3.75l3.25-1.88zM222.95,152.25v3.75l-3.25,1.88-3.25-1.88v-3.75l3.25-1.88zM229.45,152.25v3.75l-3.25,1.88-3.25-1.88v-3.75l3.25-1.88zM235.95,152.25v3.75l-3.25,1.88-3.25-1.88v-3.75l3.25-1.88zM242.45,152.25v3.75l-3.25,1.88-3.25-1.88v-3.75l3.25-1.88zM248.95,152.25v3.75l-3.25,1.88-3.25-1.88v-3.75l3.25-1.88zM255.45,152.25v3.75l-3.25,1.88-3.25-1.88v-3.75l3.25-1.88zM261.95,152.25v3.75l-3.25,1.88-3.25-1.88v-3.75l3.25-1.88zM268.45,152.25v3.75l-3.25,1.88-3.25-1.88v-3.75l3.25-1.88zM274.95,152.25v3.75l-3.25,1.88-3.25-1.88v-3.75l3.25-1.88zM281.45,152.25v3.75l-3.25,1.88-3.25-1.88v-3.75l3.25-1.88zM287.95,152.25v3.75l-3.25,1.88-3.25-1.88v-3.75l3.25-1.88zM294.45,152.25v3.75l-3.25,1.88-3.25-1.88v-3.75l3.25-1.88zM300.95,152.25v3.75l-3.25,1.88-3.25-1.88v-3.75l3.25-1.88zM307.45,152.25v3.75l-3.25,1.88-3.25-1.88v-3.75l3.25-1.88zM313.95,152.25v3.75l-3.25,1.88-3.25-1.88v-3.75l3.25-1.88zM320.45,152.25v3.75l-3.25,1.88-3.25-1.88v-3.75l3.25-1.88zM326.95,152.25v3.75l-3.25,1.88-3.25-1.88v-3.75l3.25-1.88zM333.45,152.25v3.75l-3.25,1.88-3.25-1.88v-3.75l3.25-1.88zM339.95,152.25v3.75l-3.25,1.88-3.25-1.88v-3.75l3.25-1.88zM346.45,152.25v3.75l-3.25,1.88-3.25-1.88v-3.75l3.25-1.88zM352.95,152.25v3.75l-3.25,1.88-3.25-1.88v-3.75l3.25-1.88zM359.45,152.25v3.75l-3.25,1.88-3.25-1.88v-3.75l3.25-1.88zM365.95,152.25v3.75l-3.25,1.88-3.25-1.88v-3.75l3.25-1.88zM372.45,152.25v3.75l-3.25,1.88-3.25-1.88v-3.75l3.25-1.88zM378.95,152.25v3.75l-3.25,1.88-3.25-1.88v-3.75l3.25-1.88zM385.45,152.25v3.75l-3.25,1.88-3.25-1.88v-3.75l3.25-1.88zM424.45,152.25v3.75l-3.25,1.88-3.25-1.88v-3.75l3.25-1.88zM430.95,152.25v3.75l-3.25,1.88-3.25-1.88v-3.75l3.25-1.88zM437.45,152.25v3.75l-3.25,1.88-3.25-1.88v-3.75l3.25-1.88zM443.95,152.25v3.75l-3.25,1.88-3.25-1.88v-3.75l3.25-1.88zM450.45,152.25v3.75l-3.25,1.88-3.25-1.88v-3.75l3.25-1.88zM456.95,152.25v3.75l-3.25,1.88-3.25-1.88v-3.75l3.25-1.88zM463.45,152.25v3.75l-3.25,1.88-3.25-1.88v-3.75l3.25-1.88zM469.95,152.25v3.75l-3.25,1.88-3.25-1.88v-3.75l3.25-1.88zM476.45,152.25v3.75l-3.25,1.88-3.25-1.88v-3.75l3.25-1.88zM482.95,152.25v3.75l-3.25,1.88-3.25-1.88v-3.75l3.25-1.88zM489.45,152.25v3.75l-3.25,1.88-3.25-1.88v-3.75l3.25-1.88zM495.95,152.25v3.75l-3.25,1.88-3.25-1.88v-3.75l3.25-1.88zM502.45,152.25v3.75l-3.25,1.88-3.25-1.88v-3.75l3.25-1.88zM508.95,152.25v3.75l-3.25,1.88-3.25-1.88v-3.75l3.25-1.88zM515.45,152.25v3.75l-3.25,1.88-3.25-1.88v-3.75l3.25-1.88zM521.95,152.25v3.75l-3.25,1.88-3.25-1.88v-3.75l3.25-1.88zM528.45,152.25v3.75l-3.25,1.88-3.25-1.88v-3.75l3.25-1.88zM534.95,152.25v3.75l-3.25,1.88-3.25-1.88v-3.75l3.25-1.88zM128.7,157.88v3.75l-3.25,1.88-3.25-1.88v-3.75l3.25-1.88zM135.2,157.88v3.75l-3.25,1.88-3.25-1.88v-3.75l3.25-1.88zM141.7,157.88v3.75l-3.25,1.88-3.25-1.88v-3.75l3.25-1.88zM148.2,157.88v3.75l-3.25,1.88-3.25-1.88v-3.75l3.25-1.88zM154.7,157.88v3.75l-3.25,1.88-3.25-1.88v-3.75l3.25-1.88zM161.2,157.88v3.75l-3.25,1.88-3.25-1.88v-3.75l3.25-1.88zM167.7,157.88v3.75l-3.25,1.88-3.25-1.88v-3.75l3.25-1.88zM174.2,157.88v3.75l-3.25,1.88-3.25-1.88v-3.75l3.25-1.88zM180.7,157.88v3.75l-3.25,1.88-3.25-1.88v-3.75l3.25-1.88zM187.2,157.88v3.75l-3.25,1.88-3.25-1.88v-3.75l3.25-1.88zM193.7,157.88v3.75l-3.25,1.88-3.25-1.88v-3.75l3.25-1.88zM200.2,157.88v3.75l-3.25,1.88-3.25-1.88v-3.75l3.25-1.88zM206.7,157.88v3.75l-3.25,1.88-3.25-1.88v-3.75l3.25-1.88zM213.2,157.88v3.75l-3.25,1.88-3.25-1.88v-3.75l3.25-1.88zM219.7,157.88v3.75l-3.25,1.88-3.25-1.88v-3.75l3.25-1.88zM226.2,157.88v3.75l-3.25,1.88-3.25-1.88v-3.75l3.25-1.88zM232.7,157.88v3.75l-3.25,1.88-3.25-1.88v-3.75l3.25-1.88zM239.2,157.88v3.75l-3.25,1.88-3.25-1.88v-3.75l3.25-1.88zM245.7,157.88v3.75l-3.25,1.88-3.25-1.88v-3.75l3.25-1.88zM252.2,157.88v3.75l-3.25,1.88-3.25-1.88v-3.75l3.25-1.88zM258.7,157.88v3.75l-3.25,1.88-3.25-1.88v-3.75l3.25-1.88zM265.2,157.88v3.75l-3.25,1.88-3.25-1.88v-3.75l3.25-1.88zM271.7,157.88v3.75l-3.25,1.88-3.25-1.88v-3.75l3.25-1.88zM278.2,157.88v3.75l-3.25,1.88-3.25-1.88v-3.75l3.25-1.88zM284.7,157.88v3.75l-3.25,1.88-3.25-1.88v-3.75l3.25-1.88zM291.2,157.88v3.75l-3.25,1.88-3.25-1.88v-3.75l3.25-1.88zM297.7,157.88v3.75l-3.25,1.88-3.25-1.88v-3.75l3.25-1.88zM304.2,157.88v3.75l-3.25,1.88-3.25-1.88v-3.75l3.25-1.88zM310.7,157.88v3.75l-3.25,1.88-3.25-1.88v-3.75l3.25-1.88zM317.2,157.88v3.75l-3.25,1.88-3.25-1.88v-3.75l3.25-1.88zM323.7,157.88v3.75l-3.25,1.88-3.25-1.88v-3.75l3.25-1.88zM330.2,157.88v3.75l-3.25,1.88-3.25-1.88v-3.75l3.25-1.88zM336.7,157.88v3.75l-3.25,1.88-3.25-1.88v-3.75l3.25-1.88zM343.2,157.88v3.75l-3.25,1.88-3.25-1.88v-3.75l3.25-1.88zM349.7,157.88v3.75l-3.25,1.88-3.25-1.88v-3.75l3.25-1.88zM356.2,157.88v3.75l-3.25,1.88-3.25-1.88v-3.75l3.25-1.88zM362.7,157.88v3.75l-3.25,1.88-3.25-1.88v-3.75l3.25-1.88zM369.2,157.88v3.75l-3.25,1.88-3.25-1.88v-3.75l3.25-1.88zM375.7,157.88v3.75l-3.25,1.88-3.25-1.88v-3.75l3.25-1.88zM382.2,157.88v3.75l-3.25,1.88-3.25-1.88v-3.75l3.25-1.88zM421.2,157.88v3.75l-3.25,1.88-3.25-1.88v-3.75l3.25-1.88zM427.7,157.88v3.75l-3.25,1.88-3.25-1.88v-3.75l3.25-1.88zM434.2,157.88v3.75l-3.25,1.88-3.25-1.88v-3.75l3.25-1.88zM440.7,157.88v3.75l-3.25,1.88-3.25-1.88v-3.75l3.25-1.88zM447.2,157.88v3.75l-3.25,1.88-3.25-1.88v-3.75l3.25-1.88zM453.7,157.88v3.75l-3.25,1.88-3.25-1.88v-3.75l3.25-1.88zM460.2,157.88v3.75l-3.25,1.88-3.25-1.88v-3.75l3.25-1.88zM466.7,157.88v3.75l-3.25,1.88-3.25-1.88v-3.75l3.25-1.88zM473.2,157.88v3.75l-3.25,1.88-3.25-1.88v-3.75l3.25-1.88zM479.7,157.88v3.75l-3.25,1.88-3.25-1.88v-3.75l3.25-1.88zM486.2,157.88v3.75l-3.25,1.88-3.25-1.88v-3.75l3.25-1.88zM492.7,157.88v3.75l-3.25,1.88-3.25-1.88v-3.75l3.25-1.88zM499.2,157.88v3.75l-3.25,1.88-3.25-1.88v-3.75l3.25-1.88zM505.7,157.88v3.75l-3.25,1.88-3.25-1.88v-3.75l3.25-1.88zM512.2,157.88v3.75l-3.25,1.88-3.25-1.88v-3.75l3.25-1.88zM518.7,157.88v3.75l-3.25,1.88-3.25-1.88v-3.75l3.25-1.88zM525.2,157.88v3.75l-3.25,1.88-3.25-1.88v-3.75l3.25-1.88zM531.7,157.88v3.75l-3.25,1.88-3.25-1.88v-3.75l3.25-1.88zM538.2,157.88v3.75l-3.25,1.88-3.25-1.88v-3.75l3.25-1.88zM544.7,157.88v3.75l-3.25,1.88-3.25-1.88v-3.75l3.25-1.88zM125.45,163.52v3.75l-3.25,1.88-3.25-1.88v-3.75l3.25-1.88zM131.95,163.52v3.75l-3.25,1.88-3.25-1.88v-3.75l3.25-1.88zM138.45,163.52v3.75l-3.25,1.88-3.25-1.88v-3.75l3.25-1.88zM144.95,163.52v3.75l-3.25,1.88-3.25-1.88v-3.75l3.25-1.88zM151.45,163.52v3.75l-3.25,1.88-3.25-1.88v-3.75l3.25-1.88zM157.95,163.52v3.75l-3.25,1.88-3.25-1.88v-3.75l3.25-1.88zM164.45,163.52v3.75l-3.25,1.88-3.25-1.88v-3.75l3.25-1.88zM170.95,163.52v3.75l-3.25,1.88-3.25-1.88v-3.75l3.25-1.88zM177.45,163.52v3.75l-3.25,1.88-3.25-1.88v-3.75l3.25-1.88zM183.95,163.52v3.75l-3.25,1.88-3.25-1.88v-3.75l3.25-1.88zM190.45,163.52v3.75l-3.25,1.88-3.25-1.88v-3.75l3.25-1.88zM196.95,163.52v3.75l-3.25,1.88-3.25-1.88v-3.75l3.25-1.88zM203.45,163.52v3.75l-3.25,1.88-3.25-1.88v-3.75l3.25-1.88zM209.95,163.52v3.75l-3.25,1.88-3.25-1.88v-3.75l3.25-1.88zM216.45,163.52v3.75l-3.25,1.88-3.25-1.88v-3.75l3.25-1.88zM222.95,163.52v3.75l-3.25,1.88-3.25-1.88v-3.75l3.25-1.88zM229.45,163.52v3.75l-3.25,1.88-3.25-1.88v-3.75l3.25-1.88zM235.95,163.52v3.75l-3.25,1.88-3.25-1.88v-3.75l3.25-1.88zM242.45,163.52v3.75l-3.25,1.88-3.25-1.88v-3.75l3.25-1.88zM248.95,163.52v3.75l-3.25,1.88-3.25-1.88v-3.75l3.25-1.88zM255.45,163.52v3.75l-3.25,1.88-3.25-1.88v-3.75l3.25-1.88zM261.95,163.52v3.75l-3.25,1.88-3.25-1.88v-3.75l3.25-1.88zM268.45,163.52v3.75l-3.25,1.88-3.25-1.88v-3.75l3.25-1.88zM274.95,163.52v3.75l-3.25,1.88-3.25-1.88v-3.75l3.25-1.88zM281.45,163.52v3.75l-3.25,1.88-3.25-1.88v-3.75l3.25-1.88zM287.95,163.52v3.75l-3.25,1.88-3.25-1.88v-3.75l3.25-1.88zM294.45,163.52v3.75l-3.25,1.88-3.25-1.88v-3.75l3.25-1.88zM326.95,163.52v3.75l-3.25,1.88-3.25-1.88v-3.75l3.25-1.88zM333.45,163.52v3.75l-3.25,1.88-3.25-1.88v-3.75l3.25-1.88zM339.95,163.52v3.75l-3.25,1.88-3.25-1.88v-3.75l3.25-1.88zM346.45,163.52v3.75l-3.25,1.88-3.25-1.88v-3.75l3.25-1.88zM352.95,163.52v3.75l-3.25,1.88-3.25-1.88v-3.75l3.25-1.88zM359.45,163.52v3.75l-3.25,1.88-3.25-1.88v-3.75l3.25-1.88zM365.95,163.52v3.75l-3.25,1.88-3.25-1.88v-3.75l3.25-1.88zM372.45,163.52v3.75l-3.25,1.88-3.25-1.88v-3.75l3.25-1.88zM378.95,163.52v3.75l-3.25,1.88-3.25-1.88v-3.75l3.25-1.88zM385.45,163.52v3.75l-3.25,1.88-3.25-1.88v-3.75l3.25-1.88zM411.45,163.52v3.75l-3.25,1.88-3.25-1.88v-3.75l3.25-1.88zM417.95,163.52v3.75l-3.25,1.88-3.25-1.88v-3.75l3.25-1.88zM424.45,163.52v3.75l-3.25,1.88-3.25-1.88v-3.75l3.25-1.88zM430.95,163.52v3.75l-3.25,1.88-3.25-1.88v-3.75l3.25-1.88zM437.45,163.52v3.75l-3.25,1.88-3.25-1.88v-3.75l3.25-1.88zM443.95,163.52v3.75l-3.25,1.88-3.25-1.88v-3.75l3.25-1.88zM450.45,163.52v3.75l-3.25,1.88-3.25-1.88v-3.75l3.25-1.88zM456.95,163.52v3.75l-3.25,1.88-3.25-1.88v-3.75l3.25-1.88zM463.45,163.52v3.75l-3.25,1.88-3.25-1.88v-3.75l3.25-1.88zM469.95,163.52v3.75l-3.25,1.88-3.25-1.88v-3.75l3.25-1.88zM476.45,163.52v3.75l-3.25,1.88-3.25-1.88v-3.75l3.25-1.88zM482.95,163.52v3.75l-3.25,1.88-3.25-1.88v-3.75l3.25-1.88zM489.45,163.52v3.75l-3.25,1.88-3.25-1.88v-3.75l3.25-1.88zM495.95,163.52v3.75l-3.25,1.88-3.25-1.88v-3.75l3.25-1.88zM502.45,163.52v3.75l-3.25,1.88-3.25-1.88v-3.75l3.25-1.88zM508.95,163.52v3.75l-3.25,1.88-3.25-1.88v-3.75l3.25-1.88zM528.45,163.52v3.75l-3.25,1.88-3.25-1.88v-3.75l3.25-1.88zM534.95,163.52v3.75l-3.25,1.88-3.25-1.88v-3.75l3.25-1.88zM541.45,163.52v3.75l-3.25,1.88-3.25-1.88v-3.75l3.25-1.88zM547.95,163.52v3.75l-3.25,1.88-3.25-1.88v-3.75l3.25-1.88zM554.45,163.52v3.75l-3.25,1.88-3.25-1.88v-3.75l3.25-1.88zM115.7,169.15v3.75l-3.25,1.88-3.25-1.88v-3.75l3.25-1.88zM122.2,169.15v3.75l-3.25,1.88-3.25-1.88v-3.75l3.25-1.88zM128.7,169.15v3.75l-3.25,1.88-3.25-1.88v-3.75l3.25-1.88zM135.2,169.15v3.75l-3.25,1.88-3.25-1.88v-3.75l3.25-1.88zM141.7,169.15v3.75l-3.25,1.88-3.25-1.88v-3.75l3.25-1.88zM148.2,169.15v3.75l-3.25,1.88-3.25-1.88v-3.75l3.25-1.88zM154.7,169.15v3.75l-3.25,1.88-3.25-1.88v-3.75l3.25-1.88zM161.2,169.15v3.75l-3.25,1.88-3.25-1.88v-3.75l3.25-1.88zM167.7,169.15v3.75l-3.25,1.88-3.25-1.88v-3.75l3.25-1.88zM174.2,169.15v3.75l-3.25,1.88-3.25-1.88v-3.75l3.25-1.88zM180.7,169.15v3.75l-3.25,1.88-3.25-1.88v-3.75l3.25-1.88zM187.2,169.15v3.75l-3.25,1.88-3.25-1.88v-3.75l3.25-1.88zM193.7,169.15v3.75l-3.25,1.88-3.25-1.88v-3.75l3.25-1.88zM200.2,169.15v3.75l-3.25,1.88-3.25-1.88v-3.75l3.25-1.88zM206.7,169.15v3.75l-3.25,1.88-3.25-1.88v-3.75l3.25-1.88zM213.2,169.15v3.75l-3.25,1.88-3.25-1.88v-3.75l3.25-1.88zM219.7,169.15v3.75l-3.25,1.88-3.25-1.88v-3.75l3.25-1.88zM226.2,169.15v3.75l-3.25,1.88-3.25-1.88v-3.75l3.25-1.88zM232.7,169.15v3.75l-3.25,1.88-3.25-1.88v-3.75l3.25-1.88zM239.2,169.15v3.75l-3.25,1.88-3.25-1.88v-3.75l3.25-1.88zM245.7,169.15v3.75l-3.25,1.88-3.25-1.88v-3.75l3.25-1.88zM252.2,169.15v3.75l-3.25,1.88-3.25-1.88v-3.75l3.25-1.88zM258.7,169.15v3.75l-3.25,1.88-3.25-1.88v-3.75l3.25-1.88zM265.2,169.15v3.75l-3.25,1.88-3.25-1.88v-3.75l3.25-1.88zM271.7,169.15v3.75l-3.25,1.88-3.25-1.88v-3.75l3.25-1.88zM278.2,169.15v3.75l-3.25,1.88-3.25-1.88v-3.75l3.25-1.88zM284.7,169.15v3.75l-3.25,1.88-3.25-1.88v-3.75l3.25-1.88zM291.2,169.15v3.75l-3.25,1.88-3.25-1.88v-3.75l3.25-1.88zM297.7,169.15v3.75l-3.25,1.88-3.25-1.88v-3.75l3.25-1.88zM310.7,169.15v3.75l-3.25,1.88-3.25-1.88v-3.75l3.25-1.88zM317.2,169.15v3.75l-3.25,1.88-3.25-1.88v-3.75l3.25-1.88zM323.7,169.15v3.75l-3.25,1.88-3.25-1.88v-3.75l3.25-1.88zM330.2,169.15v3.75l-3.25,1.88-3.25-1.88v-3.75l3.25-1.88zM336.7,169.15v3.75l-3.25,1.88-3.25-1.88v-3.75l3.25-1.88zM343.2,169.15v3.75l-3.25,1.88-3.25-1.88v-3.75l3.25-1.88zM349.7,169.15v3.75l-3.25,1.88-3.25-1.88v-3.75l3.25-1.88zM356.2,169.15v3.75l-3.25,1.88-3.25-1.88v-3.75l3.25-1.88zM362.7,169.15v3.75l-3.25,1.88-3.25-1.88v-3.75l3.25-1.88zM369.2,169.15v3.75l-3.25,1.88-3.25-1.88v-3.75l3.25-1.88zM375.7,169.15v3.75l-3.25,1.88-3.25-1.88v-3.75l3.25-1.88zM382.2,169.15v3.75l-3.25,1.88-3.25-1.88v-3.75l3.25-1.88zM388.7,169.15v3.75l-3.25,1.88-3.25-1.88v-3.75l3.25-1.88zM401.7,169.15v3.75l-3.25,1.88-3.25-1.88v-3.75l3.25-1.88zM408.2,169.15v3.75l-3.25,1.88-3.25-1.88v-3.75l3.25-1.88zM414.7,169.15v3.75l-3.25,1.88-3.25-1.88v-3.75l3.25-1.88zM421.2,169.15v3.75l-3.25,1.88-3.25-1.88v-3.75l3.25-1.88zM427.7,169.15v3.75l-3.25,1.88-3.25-1.88v-3.75l3.25-1.88zM434.2,169.15v3.75l-3.25,1.88-3.25-1.88v-3.75l3.25-1.88zM440.7,169.15v3.75l-3.25,1.88-3.25-1.88v-3.75l3.25-1.88zM447.2,169.15v3.75l-3.25,1.88-3.25-1.88v-3.75l3.25-1.88zM453.7,169.15v3.75l-3.25,1.88-3.25-1.88v-3.75l3.25-1.88zM460.2,169.15v3.75l-3.25,1.88-3.25-1.88v-3.75l3.25-1.88zM473.2,169.15v3.75l-3.25,1.88-3.25-1.88v-3.75l3.25-1.88zM479.7,169.15v3.75l-3.25,1.88-3.25-1.88v-3.75l3.25-1.88zM486.2,169.15v3.75l-3.25,1.88-3.25-1.88v-3.75l3.25-1.88zM492.7,169.15v3.75l-3.25,1.88-3.25-1.88v-3.75l3.25-1.88zM499.2,169.15v3.75l-3.25,1.88-3.25-1.88v-3.75l3.25-1.88zM505.7,169.15v3.75l-3.25,1.88-3.25-1.88v-3.75l3.25-1.88zM538.2,169.15v3.75l-3.25,1.88-3.25-1.88v-3.75l3.25-1.88zM544.7,169.15v3.75l-3.25,1.88-3.25-1.88v-3.75l3.25-1.88zM551.2,169.15v3.75l-3.25,1.88-3.25-1.88v-3.75l3.25-1.88zM557.7,169.15v3.75l-3.25,1.88-3.25-1.88v-3.75l3.25-1.88zM112.45,174.78v3.75l-3.25,1.88-3.25-1.88v-3.75l3.25-1.88zM118.95,174.78v3.75l-3.25,1.88-3.25-1.88v-3.75l3.25-1.88zM125.45,174.78v3.75l-3.25,1.88-3.25-1.88v-3.75l3.25-1.88zM131.95,174.78v3.75l-3.25,1.88-3.25-1.88v-3.75l3.25-1.88zM138.45,174.78v3.75l-3.25,1.88-3.25-1.88v-3.75l3.25-1.88zM144.95,174.78v3.75l-3.25,1.88-3.25-1.88v-3.75l3.25-1.88zM151.45,174.78v3.75l-3.25,1.88-3.25-1.88v-3.75l3.25-1.88zM157.95,174.78v3.75l-3.25,1.88-3.25-1.88v-3.75l3.25-1.88zM164.45,174.78v3.75l-3.25,1.88-3.25-1.88v-3.75l3.25-1.88zM170.95,174.78v3.75l-3.25,1.88-3.25-1.88v-3.75l3.25-1.88zM177.45,174.78v3.75l-3.25,1.88-3.25-1.88v-3.75l3.25-1.88zM183.95,174.78v3.75l-3.25,1.88-3.25-1.88v-3.75l3.25-1.88zM190.45,174.78v3.75l-3.25,1.88-3.25-1.88v-3.75l3.25-1.88zM196.95,174.78v3.75l-3.25,1.88-3.25-1.88v-3.75l3.25-1.88zM203.45,174.78v3.75l-3.25,1.88-3.25-1.88v-3.75l3.25-1.88zM209.95,174.78v3.75l-3.25,1.88-3.25-1.88v-3.75l3.25-1.88zM216.45,174.78v3.75l-3.25,1.88-3.25-1.88v-3.75l3.25-1.88zM222.95,174.78v3.75l-3.25,1.88-3.25-1.88v-3.75l3.25-1.88zM229.45,174.78v3.75l-3.25,1.88-3.25-1.88v-3.75l3.25-1.88zM235.95,174.78v3.75l-3.25,1.88-3.25-1.88v-3.75l3.25-1.88zM242.45,174.78v3.75l-3.25,1.88-3.25-1.88v-3.75l3.25-1.88zM248.95,174.78v3.75l-3.25,1.88-3.25-1.88v-3.75l3.25-1.88zM255.45,174.78v3.75l-3.25,1.88-3.25-1.88v-3.75l3.25-1.88zM261.95,174.78v3.75l-3.25,1.88-3.25-1.88v-3.75l3.25-1.88zM268.45,174.78v3.75l-3.25,1.88-3.25-1.88v-3.75l3.25-1.88zM274.95,174.78v3.75l-3.25,1.88-3.25-1.88v-3.75l3.25-1.88zM281.45,174.78v3.75l-3.25,1.88-3.25-1.88v-3.75l3.25-1.88zM287.95,174.78v3.75l-3.25,1.88-3.25-1.88v-3.75l3.25-1.88zM294.45,174.78v3.75l-3.25,1.88-3.25-1.88v-3.75l3.25-1.88zM300.95,174.78v3.75l-3.25,1.88-3.25-1.88v-3.75l3.25-1.88zM307.45,174.78v3.75l-3.25,1.88-3.25-1.88v-3.75l3.25-1.88zM313.95,174.78v3.75l-3.25,1.88-3.25-1.88v-3.75l3.25-1.88zM320.45,174.78v3.75l-3.25,1.88-3.25-1.88v-3.75l3.25-1.88zM326.95,174.78v3.75l-3.25,1.88-3.25-1.88v-3.75l3.25-1.88zM333.45,174.78v3.75l-3.25,1.88-3.25-1.88v-3.75l3.25-1.88zM339.95,174.78v3.75l-3.25,1.88-3.25-1.88v-3.75l3.25-1.88zM346.45,174.78v3.75l-3.25,1.88-3.25-1.88v-3.75l3.25-1.88zM352.95,174.78v3.75l-3.25,1.88-3.25-1.88v-3.75l3.25-1.88zM359.45,174.78v3.75l-3.25,1.88-3.25-1.88v-3.75l3.25-1.88zM365.95,174.78v3.75l-3.25,1.88-3.25-1.88v-3.75l3.25-1.88zM372.45,174.78v3.75l-3.25,1.88-3.25-1.88v-3.75l3.25-1.88zM378.95,174.78v3.75l-3.25,1.88-3.25-1.88v-3.75l3.25-1.88zM385.45,174.78v3.75l-3.25,1.88-3.25-1.88v-3.75l3.25-1.88zM398.45,174.78v3.75l-3.25,1.88-3.25-1.88v-3.75l3.25-1.88zM404.95,174.78v3.75l-3.25,1.88-3.25-1.88v-3.75l3.25-1.88zM411.45,174.78v3.75l-3.25,1.88-3.25-1.88v-3.75l3.25-1.88zM417.95,174.78v3.75l-3.25,1.88-3.25-1.88v-3.75l3.25-1.88zM424.45,174.78v3.75l-3.25,1.88-3.25-1.88v-3.75l3.25-1.88zM430.95,174.78v3.75l-3.25,1.88-3.25-1.88v-3.75l3.25-1.88zM437.45,174.78v3.75l-3.25,1.88-3.25-1.88v-3.75l3.25-1.88zM443.95,174.78v3.75l-3.25,1.88-3.25-1.88v-3.75l3.25-1.88zM450.45,174.78v3.75l-3.25,1.88-3.25-1.88v-3.75l3.25-1.88zM456.95,174.78v3.75l-3.25,1.88-3.25-1.88v-3.75l3.25-1.88zM476.45,174.78v3.75l-3.25,1.88-3.25-1.88v-3.75l3.25-1.88zM482.95,174.78v3.75l-3.25,1.88-3.25-1.88v-3.75l3.25-1.88zM489.45,174.78v3.75l-3.25,1.88-3.25-1.88v-3.75l3.25-1.88zM495.95,174.78v3.75l-3.25,1.88-3.25-1.88v-3.75l3.25-1.88zM502.45,174.78v3.75l-3.25,1.88-3.25-1.88v-3.75l3.25-1.88zM541.45,174.78v3.75l-3.25,1.88-3.25-1.88v-3.75l3.25-1.88zM547.95,174.78v3.75l-3.25,1.88-3.25-1.88v-3.75l3.25-1.88zM554.45,174.78v3.75l-3.25,1.88-3.25-1.88v-3.75l3.25-1.88zM560.95,174.78v3.75l-3.25,1.88-3.25-1.88v-3.75l3.25-1.88zM115.7,180.42v3.75l-3.25,1.88-3.25-1.88v-3.75l3.25-1.88zM122.2,180.42v3.75l-3.25,1.88-3.25-1.88v-3.75l3.25-1.88zM128.7,180.42v3.75l-3.25,1.88-3.25-1.88v-3.75l3.25-1.88zM135.2,180.42v3.75l-3.25,1.88-3.25-1.88v-3.75l3.25-1.88zM141.7,180.42v3.75l-3.25,1.88-3.25-1.88v-3.75l3.25-1.88zM148.2,180.42v3.75l-3.25,1.88-3.25-1.88v-3.75l3.25-1.88zM154.7,180.42v3.75l-3.25,1.88-3.25-1.88v-3.75l3.25-1.88zM161.2,180.42v3.75l-3.25,1.88-3.25-1.88v-3.75l3.25-1.88zM167.7,180.42v3.75l-3.25,1.88-3.25-1.88v-3.75l3.25-1.88zM174.2,180.42v3.75l-3.25,1.88-3.25-1.88v-3.75l3.25-1.88zM180.7,180.42v3.75l-3.25,1.88-3.25-1.88v-3.75l3.25-1.88zM187.2,180.42v3.75l-3.25,1.88-3.25-1.88v-3.75l3.25-1.88zM193.7,180.42v3.75l-3.25,1.88-3.25-1.88v-3.75l3.25-1.88zM200.2,180.42v3.75l-3.25,1.88-3.25-1.88v-3.75l3.25-1.88zM206.7,180.42v3.75l-3.25,1.88-3.25-1.88v-3.75l3.25-1.88zM213.2,180.42v3.75l-3.25,1.88-3.25-1.88v-3.75l3.25-1.88zM219.7,180.42v3.75l-3.25,1.88-3.25-1.88v-3.75l3.25-1.88zM226.2,180.42v3.75l-3.25,1.88-3.25-1.88v-3.75l3.25-1.88zM232.7,180.42v3.75l-3.25,1.88-3.25-1.88v-3.75l3.25-1.88zM239.2,180.42v3.75l-3.25,1.88-3.25-1.88v-3.75l3.25-1.88zM245.7,180.42v3.75l-3.25,1.88-3.25-1.88v-3.75l3.25-1.88zM265.2,180.42v3.75l-3.25,1.88-3.25-1.88v-3.75l3.25-1.88zM271.7,180.42v3.75l-3.25,1.88-3.25-1.88v-3.75l3.25-1.88zM278.2,180.42v3.75l-3.25,1.88-3.25-1.88v-3.75l3.25-1.88zM284.7,180.42v3.75l-3.25,1.88-3.25-1.88v-3.75l3.25-1.88zM291.2,180.42v3.75l-3.25,1.88-3.25-1.88v-3.75l3.25-1.88zM297.7,180.42v3.75l-3.25,1.88-3.25-1.88v-3.75l3.25-1.88zM304.2,180.42v3.75l-3.25,1.88-3.25-1.88v-3.75l3.25-1.88zM310.7,180.42v3.75l-3.25,1.88-3.25-1.88v-3.75l3.25-1.88zM317.2,180.42v3.75l-3.25,1.88-3.25-1.88v-3.75l3.25-1.88zM323.7,180.42v3.75l-3.25,1.88-3.25-1.88v-3.75l3.25-1.88zM330.2,180.42v3.75l-3.25,1.88-3.25-1.88v-3.75l3.25-1.88zM336.7,180.42v3.75l-3.25,1.88-3.25-1.88v-3.75l3.25-1.88zM343.2,180.42v3.75l-3.25,1.88-3.25-1.88v-3.75l3.25-1.88zM349.7,180.42v3.75l-3.25,1.88-3.25-1.88v-3.75l3.25-1.88zM356.2,180.42v3.75l-3.25,1.88-3.25-1.88v-3.75l3.25-1.88zM362.7,180.42v3.75l-3.25,1.88-3.25-1.88v-3.75l3.25-1.88zM369.2,180.42v3.75l-3.25,1.88-3.25-1.88v-3.75l3.25-1.88zM375.7,180.42v3.75l-3.25,1.88-3.25-1.88v-3.75l3.25-1.88zM382.2,180.42v3.75l-3.25,1.88-3.25-1.88v-3.75l3.25-1.88zM388.7,180.42v3.75l-3.25,1.88-3.25-1.88v-3.75l3.25-1.88zM395.2,180.42v3.75l-3.25,1.88-3.25-1.88v-3.75l3.25-1.88zM401.7,180.42v3.75l-3.25,1.88-3.25-1.88v-3.75l3.25-1.88zM408.2,180.42v3.75l-3.25,1.88-3.25-1.88v-3.75l3.25-1.88zM414.7,180.42v3.75l-3.25,1.88-3.25-1.88v-3.75l3.25-1.88zM421.2,180.42v3.75l-3.25,1.88-3.25-1.88v-3.75l3.25-1.88zM427.7,180.42v3.75l-3.25,1.88-3.25-1.88v-3.75l3.25-1.88zM434.2,180.42v3.75l-3.25,1.88-3.25-1.88v-3.75l3.25-1.88zM440.7,180.42v3.75l-3.25,1.88-3.25-1.88v-3.75l3.25-1.88zM447.2,180.42v3.75l-3.25,1.88-3.25-1.88v-3.75l3.25-1.88zM453.7,180.42v3.75l-3.25,1.88-3.25-1.88v-3.75l3.25-1.88zM460.2,180.42v3.75l-3.25,1.88-3.25-1.88v-3.75l3.25-1.88zM479.7,180.42v3.75l-3.25,1.88-3.25-1.88v-3.75l3.25-1.88zM486.2,180.42v3.75l-3.25,1.88-3.25-1.88v-3.75l3.25-1.88zM544.7,180.42v3.75l-3.25,1.88-3.25-1.88v-3.75l3.25-1.88zM551.2,180.42v3.75l-3.25,1.88-3.25-1.88v-3.75l3.25-1.88zM557.7,180.42v3.75l-3.25,1.88-3.25-1.88v-3.75l3.25-1.88zM564.2,180.42v3.75l-3.25,1.88-3.25-1.88v-3.75l3.25-1.88zM112.45,186.05v3.75l-3.25,1.88-3.25-1.88v-3.75l3.25-1.88zM118.95,186.05v3.75l-3.25,1.88-3.25-1.88v-3.75l3.25-1.88zM125.45,186.05v3.75l-3.25,1.88-3.25-1.88v-3.75l3.25-1.88zM131.95,186.05v3.75l-3.25,1.88-3.25-1.88v-3.75l3.25-1.88zM138.45,186.05v3.75l-3.25,1.88-3.25-1.88v-3.75l3.25-1.88zM144.95,186.05v3.75l-3.25,1.88-3.25-1.88v-3.75l3.25-1.88zM151.45,186.05v3.75l-3.25,1.88-3.25-1.88v-3.75l3.25-1.88zM157.95,186.05v3.75l-3.25,1.88-3.25-1.88v-3.75l3.25-1.88zM164.45,186.05v3.75l-3.25,1.88-3.25-1.88v-3.75l3.25-1.88zM170.95,186.05v3.75l-3.25,1.88-3.25-1.88v-3.75l3.25-1.88zM177.45,186.05v3.75l-3.25,1.88-3.25-1.88v-3.75l3.25-1.88zM183.95,186.05v3.75l-3.25,1.88-3.25-1.88v-3.75l3.25-1.88zM190.45,186.05v3.75l-3.25,1.88-3.25-1.88v-3.75l3.25-1.88zM196.95,186.05v3.75l-3.25,1.88-3.25-1.88v-3.75l3.25-1.88zM203.45,186.05v3.75l-3.25,1.88-3.25-1.88v-3.75l3.25-1.88zM209.95,186.05v3.75l-3.25,1.88-3.25-1.88v-3.75l3.25-1.88zM216.45,186.05v3.75l-3.25,1.88-3.25-1.88v-3.75l3.25-1.88zM222.95,186.05v3.75l-3.25,1.88-3.25-1.88v-3.75l3.25-1.88zM229.45,186.05v3.75l-3.25,1.88-3.25-1.88v-3.75l3.25-1.88zM235.95,186.05v3.75l-3.25,1.88-3.25-1.88v-3.75l3.25-1.88zM242.45,186.05v3.75l-3.25,1.88-3.25-1.88v-3.75l3.25-1.88zM268.45,186.05v3.75l-3.25,1.88-3.25-1.88v-3.75l3.25-1.88zM274.95,186.05v3.75l-3.25,1.88-3.25-1.88v-3.75l3.25-1.88zM281.45,186.05v3.75l-3.25,1.88-3.25-1.88v-3.75l3.25-1.88zM287.95,186.05v3.75l-3.25,1.88-3.25-1.88v-3.75l3.25-1.88zM294.45,186.05v3.75l-3.25,1.88-3.25-1.88v-3.75l3.25-1.88zM300.95,186.05v3.75l-3.25,1.88-3.25-1.88v-3.75l3.25-1.88zM307.45,186.05v3.75l-3.25,1.88-3.25-1.88v-3.75l3.25-1.88zM313.95,186.05v3.75l-3.25,1.88-3.25-1.88v-3.75l3.25-1.88zM320.45,186.05v3.75l-3.25,1.88-3.25-1.88v-3.75l3.25-1.88zM326.95,186.05v3.75l-3.25,1.88-3.25-1.88v-3.75l3.25-1.88zM333.45,186.05v3.75l-3.25,1.88-3.25-1.88v-3.75l3.25-1.88zM339.95,186.05v3.75l-3.25,1.88-3.25-1.88v-3.75l3.25-1.88zM346.45,186.05v3.75l-3.25,1.88-3.25-1.88v-3.75l3.25-1.88zM352.95,186.05v3.75l-3.25,1.88-3.25-1.88v-3.75l3.25-1.88zM359.45,186.05v3.75l-3.25,1.88-3.25-1.88v-3.75l3.25-1.88zM365.95,186.05v3.75l-3.25,1.88-3.25-1.88v-3.75l3.25-1.88zM372.45,186.05v3.75l-3.25,1.88-3.25-1.88v-3.75l3.25-1.88zM378.95,186.05v3.75l-3.25,1.88-3.25-1.88v-3.75l3.25-1.88zM385.45,186.05v3.75l-3.25,1.88-3.25-1.88v-3.75l3.25-1.88zM391.95,186.05v3.75l-3.25,1.88-3.25-1.88v-3.75l3.25-1.88zM398.45,186.05v3.75l-3.25,1.88-3.25-1.88v-3.75l3.25-1.88zM404.95,186.05v3.75l-3.25,1.88-3.25-1.88v-3.75l3.25-1.88zM411.45,186.05v3.75l-3.25,1.88-3.25-1.88v-3.75l3.25-1.88zM417.95,186.05v3.75l-3.25,1.88-3.25-1.88v-3.75l3.25-1.88zM424.45,186.05v3.75l-3.25,1.88-3.25-1.88v-3.75l3.25-1.88zM430.95,186.05v3.75l-3.25,1.88-3.25-1.88v-3.75l3.25-1.88zM437.45,186.05v3.75l-3.25,1.88-3.25-1.88v-3.75l3.25-1.88zM443.95,186.05v3.75l-3.25,1.88-3.25-1.88v-3.75l3.25-1.88zM450.45,186.05v3.75l-3.25,1.88-3.25-1.88v-3.75l3.25-1.88zM456.95,186.05v3.75l-3.25,1.88-3.25-1.88v-3.75l3.25-1.88zM463.45,186.05v3.75l-3.25,1.88-3.25-1.88v-3.75l3.25-1.88zM547.95,186.05v3.75l-3.25,1.88-3.25-1.88v-3.75l3.25-1.88zM554.45,186.05v3.75l-3.25,1.88-3.25-1.88v-3.75l3.25-1.88zM560.95,186.05v3.75l-3.25,1.88-3.25-1.88v-3.75l3.25-1.88zM567.45,186.05v3.75l-3.25,1.88-3.25-1.88v-3.75l3.25-1.88zM115.7,191.68v3.75l-3.25,1.88-3.25-1.88v-3.75l3.25-1.88zM122.2,191.68v3.75l-3.25,1.88-3.25-1.88v-3.75l3.25-1.88zM128.7,191.68v3.75l-3.25,1.88-3.25-1.88v-3.75l3.25-1.88zM135.2,191.68v3.75l-3.25,1.88-3.25-1.88v-3.75l3.25-1.88zM141.7,191.68v3.75l-3.25,1.88-3.25-1.88v-3.75l3.25-1.88zM148.2,191.68v3.75l-3.25,1.88-3.25-1.88v-3.75l3.25-1.88zM154.7,191.68v3.75l-3.25,1.88-3.25-1.88v-3.75l3.25-1.88zM161.2,191.68v3.75l-3.25,1.88-3.25-1.88v-3.75l3.25-1.88zM167.7,191.68v3.75l-3.25,1.88-3.25-1.88v-3.75l3.25-1.88zM174.2,191.68v3.75l-3.25,1.88-3.25-1.88v-3.75l3.25-1.88zM180.7,191.68v3.75l-3.25,1.88-3.25-1.88v-3.75l3.25-1.88zM187.2,191.68v3.75l-3.25,1.88-3.25-1.88v-3.75l3.25-1.88zM193.7,191.68v3.75l-3.25,1.88-3.25-1.88v-3.75l3.25-1.88zM200.2,191.68v3.75l-3.25,1.88-3.25-1.88v-3.75l3.25-1.88zM206.7,191.68v3.75l-3.25,1.88-3.25-1.88v-3.75l3.25-1.88zM213.2,191.68v3.75l-3.25,1.88-3.25-1.88v-3.75l3.25-1.88zM219.7,191.68v3.75l-3.25,1.88-3.25-1.88v-3.75l3.25-1.88zM226.2,191.68v3.75l-3.25,1.88-3.25-1.88v-3.75l3.25-1.88zM232.7,191.68v3.75l-3.25,1.88-3.25-1.88v-3.75l3.25-1.88zM239.2,191.68v3.75l-3.25,1.88-3.25-1.88v-3.75l3.25-1.88zM245.7,191.68v3.75l-3.25,1.88-3.25-1.88v-3.75l3.25-1.88zM265.2,191.68v3.75l-3.25,1.88-3.25-1.88v-3.75l3.25-1.88zM271.7,191.68v3.75l-3.25,1.88-3.25-1.88v-3.75l3.25-1.88zM278.2,191.68v3.75l-3.25,1.88-3.25-1.88v-3.75l3.25-1.88zM284.7,191.68v3.75l-3.25,1.88-3.25-1.88v-3.75l3.25-1.88zM291.2,191.68v3.75l-3.25,1.88-3.25-1.88v-3.75l3.25-1.88zM297.7,191.68v3.75l-3.25,1.88-3.25-1.88v-3.75l3.25-1.88zM304.2,191.68v3.75l-3.25,1.88-3.25-1.88v-3.75l3.25-1.88zM310.7,191.68v3.75l-3.25,1.88-3.25-1.88v-3.75l3.25-1.88zM317.2,191.68v3.75l-3.25,1.88-3.25-1.88v-3.75l3.25-1.88zM323.7,191.68v3.75l-3.25,1.88-3.25-1.88v-3.75l3.25-1.88zM330.2,191.68v3.75l-3.25,1.88-3.25-1.88v-3.75l3.25-1.88zM336.7,191.68v3.75l-3.25,1.88-3.25-1.88v-3.75l3.25-1.88zM343.2,191.68v3.75l-3.25,1.88-3.25-1.88v-3.75l3.25-1.88zM349.7,191.68v3.75l-3.25,1.88-3.25-1.88v-3.75l3.25-1.88zM356.2,191.68v3.75l-3.25,1.88-3.25-1.88v-3.75l3.25-1.88zM362.7,191.68v3.75l-3.25,1.88-3.25-1.88v-3.75l3.25-1.88zM369.2,191.68v3.75l-3.25,1.88-3.25-1.88v-3.75l3.25-1.88zM375.7,191.68v3.75l-3.25,1.88-3.25-1.88v-3.75l3.25-1.88zM382.2,191.68v3.75l-3.25,1.88-3.25-1.88v-3.75l3.25-1.88zM388.7,191.68v3.75l-3.25,1.88-3.25-1.88v-3.75l3.25-1.88zM395.2,191.68v3.75l-3.25,1.88-3.25-1.88v-3.75l3.25-1.88zM427.7,191.68v3.75l-3.25,1.88-3.25-1.88v-3.75l3.25-1.88zM434.2,191.68v3.75l-3.25,1.88-3.25-1.88v-3.75l3.25-1.88zM440.7,191.68v3.75l-3.25,1.88-3.25-1.88v-3.75l3.25-1.88zM447.2,191.68v3.75l-3.25,1.88-3.25-1.88v-3.75l3.25-1.88zM453.7,191.68v3.75l-3.25,1.88-3.25-1.88v-3.75l3.25-1.88zM460.2,191.68v3.75l-3.25,1.88-3.25-1.88v-3.75l3.25-1.88zM544.7,191.68v3.75l-3.25,1.88-3.25-1.88v-3.75l3.25-1.88zM551.2,191.68v3.75l-3.25,1.88-3.25-1.88v-3.75l3.25-1.88zM557.7,191.68v3.75l-3.25,1.88-3.25-1.88v-3.75l3.25-1.88zM564.2,191.68v3.75l-3.25,1.88-3.25-1.88v-3.75l3.25-1.88zM570.7,191.68v3.75l-3.25,1.88-3.25-1.88v-3.75l3.25-1.88zM112.45,197.32v3.75l-3.25,1.88-3.25-1.88v-3.75l3.25-1.88zM118.95,197.32v3.75l-3.25,1.88-3.25-1.88v-3.75l3.25-1.88zM125.45,197.32v3.75l-3.25,1.88-3.25-1.88v-3.75l3.25-1.88zM131.95,197.32v3.75l-3.25,1.88-3.25-1.88v-3.75l3.25-1.88zM138.45,197.32v3.75l-3.25,1.88-3.25-1.88v-3.75l3.25-1.88zM144.95,197.32v3.75l-3.25,1.88-3.25-1.88v-3.75l3.25-1.88zM151.45,197.32v3.75l-3.25,1.88-3.25-1.88v-3.75l3.25-1.88zM157.95,197.32v3.75l-3.25,1.88-3.25-1.88v-3.75l3.25-1.88zM164.45,197.32v3.75l-3.25,1.88-3.25-1.88v-3.75l3.25-1.88zM170.95,197.32v3.75l-3.25,1.88-3.25-1.88v-3.75l3.25-1.88zM177.45,197.32v3.75l-3.25,1.88-3.25-1.88v-3.75l3.25-1.88zM183.95,197.32v3.75l-3.25,1.88-3.25-1.88v-3.75l3.25-1.88zM190.45,197.32v3.75l-3.25,1.88-3.25-1.88v-3.75l3.25-1.88zM196.95,197.32v3.75l-3.25,1.88-3.25-1.88v-3.75l3.25-1.88zM203.45,197.32v3.75l-3.25,1.88-3.25-1.88v-3.75l3.25-1.88zM209.95,197.32v3.75l-3.25,1.88-3.25-1.88v-3.75l3.25-1.88zM216.45,197.32v3.75l-3.25,1.88-3.25-1.88v-3.75l3.25-1.88zM222.95,197.32v3.75l-3.25,1.88-3.25-1.88v-3.75l3.25-1.88zM229.45,197.32v3.75l-3.25,1.88-3.25-1.88v-3.75l3.25-1.88zM235.95,197.32v3.75l-3.25,1.88-3.25-1.88v-3.75l3.25-1.88zM242.45,197.32v3.75l-3.25,1.88-3.25-1.88v-3.75l3.25-1.88zM255.45,197.32v3.75l-3.25,1.88-3.25-1.88v-3.75l3.25-1.88zM261.95,197.32v3.75l-3.25,1.88-3.25-1.88v-3.75l3.25-1.88zM268.45,197.32v3.75l-3.25,1.88-3.25-1.88v-3.75l3.25-1.88zM274.95,197.32v3.75l-3.25,1.88-3.25-1.88v-3.75l3.25-1.88zM281.45,197.32v3.75l-3.25,1.88-3.25-1.88v-3.75l3.25-1.88zM287.95,197.32v3.75l-3.25,1.88-3.25-1.88v-3.75l3.25-1.88zM294.45,197.32v3.75l-3.25,1.88-3.25-1.88v-3.75l3.25-1.88zM300.95,197.32v3.75l-3.25,1.88-3.25-1.88v-3.75l3.25-1.88zM307.45,197.32v3.75l-3.25,1.88-3.25-1.88v-3.75l3.25-1.88zM313.95,197.32v3.75l-3.25,1.88-3.25-1.88v-3.75l3.25-1.88zM320.45,197.32v3.75l-3.25,1.88-3.25-1.88v-3.75l3.25-1.88zM326.95,197.32v3.75l-3.25,1.88-3.25-1.88v-3.75l3.25-1.88zM333.45,197.32v3.75l-3.25,1.88-3.25-1.88v-3.75l3.25-1.88zM339.95,197.32v3.75l-3.25,1.88-3.25-1.88v-3.75l3.25-1.88zM346.45,197.32v3.75l-3.25,1.88-3.25-1.88v-3.75l3.25-1.88zM352.95,197.32v3.75l-3.25,1.88-3.25-1.88v-3.75l3.25-1.88zM359.45,197.32v3.75l-3.25,1.88-3.25-1.88v-3.75l3.25-1.88zM365.95,197.32v3.75l-3.25,1.88-3.25-1.88v-3.75l3.25-1.88zM372.45,197.32v3.75l-3.25,1.88-3.25-1.88v-3.75l3.25-1.88zM378.95,197.32v3.75l-3.25,1.88-3.25-1.88v-3.75l3.25-1.88zM385.45,197.32v3.75l-3.25,1.88-3.25-1.88v-3.75l3.25-1.88zM391.95,197.32v3.75l-3.25,1.88-3.25-1.88v-3.75l3.25-1.88zM398.45,197.32v3.75l-3.25,1.88-3.25-1.88v-3.75l3.25-1.88zM547.95,197.32v3.75l-3.25,1.88-3.25-1.88v-3.75l3.25-1.88zM554.45,197.32v3.75l-3.25,1.88-3.25-1.88v-3.75l3.25-1.88zM560.95,197.32v3.75l-3.25,1.88-3.25-1.88v-3.75l3.25-1.88zM567.45,197.32v3.75l-3.25,1.88-3.25-1.88v-3.75l3.25-1.88zM573.95,197.32v3.75l-3.25,1.88-3.25-1.88v-3.75l3.25-1.88zM645.45,197.32v3.75l-3.25,1.88-3.25-1.88v-3.75l3.25-1.88zM651.95,197.32v3.75l-3.25,1.88-3.25-1.88v-3.75l3.25-1.88zM658.45,197.32v3.75l-3.25,1.88-3.25-1.88v-3.75l3.25-1.88zM671.45,197.32v3.75l-3.25,1.88-3.25-1.88v-3.75l3.25-1.88zM109.2,202.95v3.75l-3.25,1.88-3.25-1.88v-3.75l3.25-1.88zM115.7,202.95v3.75l-3.25,1.88-3.25-1.88v-3.75l3.25-1.88zM122.2,202.95v3.75l-3.25,1.88-3.25-1.88v-3.75l3.25-1.88zM128.7,202.95v3.75l-3.25,1.88-3.25-1.88v-3.75l3.25-1.88zM135.2,202.95v3.75l-3.25,1.88-3.25-1.88v-3.75l3.25-1.88zM141.7,202.95v3.75l-3.25,1.88-3.25-1.88v-3.75l3.25-1.88zM148.2,202.95v3.75l-3.25,1.88-3.25-1.88v-3.75l3.25-1.88zM154.7,202.95v3.75l-3.25,1.88-3.25-1.88v-3.75l3.25-1.88zM161.2,202.95v3.75l-3.25,1.88-3.25-1.88v-3.75l3.25-1.88zM167.7,202.95v3.75l-3.25,1.88-3.25-1.88v-3.75l3.25-1.88zM174.2,202.95v3.75l-3.25,1.88-3.25-1.88v-3.75l3.25-1.88zM180.7,202.95v3.75l-3.25,1.88-3.25-1.88v-3.75l3.25-1.88zM187.2,202.95v3.75l-3.25,1.88-3.25-1.88v-3.75l3.25-1.88zM193.7,202.95v3.75l-3.25,1.88-3.25-1.88v-3.75l3.25-1.88zM200.2,202.95v3.75l-3.25,1.88-3.25-1.88v-3.75l3.25-1.88zM206.7,202.95v3.75l-3.25,1.88-3.25-1.88v-3.75l3.25-1.88zM213.2,202.95v3.75l-3.25,1.88-3.25-1.88v-3.75l3.25-1.88zM219.7,202.95v3.75l-3.25,1.88-3.25-1.88v-3.75l3.25-1.88zM226.2,202.95v3.75l-3.25,1.88-3.25-1.88v-3.75l3.25-1.88zM232.7,202.95v3.75l-3.25,1.88-3.25-1.88v-3.75l3.25-1.88zM239.2,202.95v3.75l-3.25,1.88-3.25-1.88v-3.75l3.25-1.88zM258.7,202.95v3.75l-3.25,1.88-3.25-1.88v-3.75l3.25-1.88zM265.2,202.95v3.75l-3.25,1.88-3.25-1.88v-3.75l3.25-1.88zM271.7,202.95v3.75l-3.25,1.88-3.25-1.88v-3.75l3.25-1.88zM304.2,202.95v3.75l-3.25,1.88-3.25-1.88v-3.75l3.25-1.88zM310.7,202.95v3.75l-3.25,1.88-3.25-1.88v-3.75l3.25-1.88zM317.2,202.95v3.75l-3.25,1.88-3.25-1.88v-3.75l3.25-1.88zM323.7,202.95v3.75l-3.25,1.88-3.25-1.88v-3.75l3.25-1.88zM330.2,202.95v3.75l-3.25,1.88-3.25-1.88v-3.75l3.25-1.88zM336.7,202.95v3.75l-3.25,1.88-3.25-1.88v-3.75l3.25-1.88zM343.2,202.95v3.75l-3.25,1.88-3.25-1.88v-3.75l3.25-1.88zM349.7,202.95v3.75l-3.25,1.88-3.25-1.88v-3.75l3.25-1.88zM356.2,202.95v3.75l-3.25,1.88-3.25-1.88v-3.75l3.25-1.88zM362.7,202.95v3.75l-3.25,1.88-3.25-1.88v-3.75l3.25-1.88zM369.2,202.95v3.75l-3.25,1.88-3.25-1.88v-3.75l3.25-1.88zM375.7,202.95v3.75l-3.25,1.88-3.25-1.88v-3.75l3.25-1.88zM382.2,202.95v3.75l-3.25,1.88-3.25-1.88v-3.75l3.25-1.88zM388.7,202.95v3.75l-3.25,1.88-3.25-1.88v-3.75l3.25-1.88zM395.2,202.95v3.75l-3.25,1.88-3.25-1.88v-3.75l3.25-1.88zM401.7,202.95v3.75l-3.25,1.88-3.25-1.88v-3.75l3.25-1.88zM538.2,202.95v3.75l-3.25,1.88-3.25-1.88v-3.75l3.25-1.88zM544.7,202.95v3.75l-3.25,1.88-3.25-1.88v-3.75l3.25-1.88zM551.2,202.95v3.75l-3.25,1.88-3.25-1.88v-3.75l3.25-1.88zM557.7,202.95v3.75l-3.25,1.88-3.25-1.88v-3.75l3.25-1.88zM564.2,202.95v3.75l-3.25,1.88-3.25-1.88v-3.75l3.25-1.88zM570.7,202.95v3.75l-3.25,1.88-3.25-1.88v-3.75l3.25-1.88zM577.2,202.95v3.75l-3.25,1.88-3.25-1.88v-3.75l3.25-1.88zM583.7,202.95v3.75l-3.25,1.88-3.25-1.88v-3.75l3.25-1.88zM642.2,202.95v3.75l-3.25,1.88-3.25-1.88v-3.75l3.25-1.88zM648.7,202.95v3.75l-3.25,1.88-3.25-1.88v-3.75l3.25-1.88zM655.2,202.95v3.75l-3.25,1.88-3.25-1.88v-3.75l3.25-1.88zM661.7,202.95v3.75l-3.25,1.88-3.25-1.88v-3.75l3.25-1.88zM668.2,202.95v3.75l-3.25,1.88-3.25-1.88v-3.75l3.25-1.88zM674.7,202.95v3.75l-3.25,1.88-3.25-1.88v-3.75l3.25-1.88zM681.2,202.95v3.75l-3.25,1.88-3.25-1.88v-3.75l3.25-1.88zM105.95,208.58v3.75l-3.25,1.88-3.25-1.88v-3.75l3.25-1.88zM112.45,208.58v3.75l-3.25,1.88-3.25-1.88v-3.75l3.25-1.88zM118.95,208.58v3.75l-3.25,1.88-3.25-1.88v-3.75l3.25-1.88zM125.45,208.58v3.75l-3.25,1.88-3.25-1.88v-3.75l3.25-1.88zM131.95,208.58v3.75l-3.25,1.88-3.25-1.88v-3.75l3.25-1.88zM138.45,208.58v3.75l-3.25,1.88-3.25-1.88v-3.75l3.25-1.88zM144.95,208.58v3.75l-3.25,1.88-3.25-1.88v-3.75l3.25-1.88zM151.45,208.58v3.75l-3.25,1.88-3.25-1.88v-3.75l3.25-1.88zM157.95,208.58v3.75l-3.25,1.88-3.25-1.88v-3.75l3.25-1.88zM164.45,208.58v3.75l-3.25,1.88-3.25-1.88v-3.75l3.25-1.88zM170.95,208.58v3.75l-3.25,1.88-3.25-1.88v-3.75l3.25-1.88zM177.45,208.58v3.75l-3.25,1.88-3.25-1.88v-3.75l3.25-1.88zM183.95,208.58v3.75l-3.25,1.88-3.25-1.88v-3.75l3.25-1.88zM190.45,208.58v3.75l-3.25,1.88-3.25-1.88v-3.75l3.25-1.88zM196.95,208.58v3.75l-3.25,1.88-3.25-1.88v-3.75l3.25-1.88zM203.45,208.58v3.75l-3.25,1.88-3.25-1.88v-3.75l3.25-1.88zM209.95,208.58v3.75l-3.25,1.88-3.25-1.88v-3.75l3.25-1.88zM216.45,208.58v3.75l-3.25,1.88-3.25-1.88v-3.75l3.25-1.88zM222.95,208.58v3.75l-3.25,1.88-3.25-1.88v-3.75l3.25-1.88zM229.45,208.58v3.75l-3.25,1.88-3.25-1.88v-3.75l3.25-1.88zM235.95,208.58v3.75l-3.25,1.88-3.25-1.88v-3.75l3.25-1.88zM261.95,208.58v3.75l-3.25,1.88-3.25-1.88v-3.75l3.25-1.88zM307.45,208.58v3.75l-3.25,1.88-3.25-1.88v-3.75l3.25-1.88zM313.95,208.58v3.75l-3.25,1.88-3.25-1.88v-3.75l3.25-1.88zM320.45,208.58v3.75l-3.25,1.88-3.25-1.88v-3.75l3.25-1.88zM326.95,208.58v3.75l-3.25,1.88-3.25-1.88v-3.75l3.25-1.88zM333.45,208.58v3.75l-3.25,1.88-3.25-1.88v-3.75l3.25-1.88zM339.95,208.58v3.75l-3.25,1.88-3.25-1.88v-3.75l3.25-1.88zM346.45,208.58v3.75l-3.25,1.88-3.25-1.88v-3.75l3.25-1.88zM352.95,208.58v3.75l-3.25,1.88-3.25-1.88v-3.75l3.25-1.88zM359.45,208.58v3.75l-3.25,1.88-3.25-1.88v-3.75l3.25-1.88zM365.95,208.58v3.75l-3.25,1.88-3.25-1.88v-3.75l3.25-1.88zM372.45,208.58v3.75l-3.25,1.88-3.25-1.88v-3.75l3.25-1.88zM378.95,208.58v3.75l-3.25,1.88-3.25-1.88v-3.75l3.25-1.88zM385.45,208.58v3.75l-3.25,1.88-3.25-1.88v-3.75l3.25-1.88zM391.95,208.58v3.75l-3.25,1.88-3.25-1.88v-3.75l3.25-1.88zM398.45,208.58v3.75l-3.25,1.88-3.25-1.88v-3.75l3.25-1.88zM443.95,208.58v3.75l-3.25,1.88-3.25-1.88v-3.75l3.25-1.88zM450.45,208.58v3.75l-3.25,1.88-3.25-1.88v-3.75l3.25-1.88zM456.95,208.58v3.75l-3.25,1.88-3.25-1.88v-3.75l3.25-1.88zM463.45,208.58v3.75l-3.25,1.88-3.25-1.88v-3.75l3.25-1.88zM528.45,208.58v3.75l-3.25,1.88-3.25-1.88v-3.75l3.25-1.88zM534.95,208.58v3.75l-3.25,1.88-3.25-1.88v-3.75l3.25-1.88zM541.45,208.58v3.75l-3.25,1.88-3.25-1.88v-3.75l3.25-1.88zM547.95,208.58v3.75l-3.25,1.88-3.25-1.88v-3.75l3.25-1.88zM554.45,208.58v3.75l-3.25,1.88-3.25-1.88v-3.75l3.25-1.88zM560.95,208.58v3.75l-3.25,1.88-3.25-1.88v-3.75l3.25-1.88zM567.45,208.58v3.75l-3.25,1.88-3.25-1.88v-3.75l3.25-1.88zM573.95,208.58v3.75l-3.25,1.88-3.25-1.88v-3.75l3.25-1.88zM580.45,208.58v3.75l-3.25,1.88-3.25-1.88v-3.75l3.25-1.88zM586.95,208.58v3.75l-3.25,1.88-3.25-1.88v-3.75l3.25-1.88zM593.45,208.58v3.75l-3.25,1.88-3.25-1.88v-3.75l3.25-1.88zM638.95,208.58v3.75l-3.25,1.88-3.25-1.88v-3.75l3.25-1.88zM645.45,208.58v3.75l-3.25,1.88-3.25-1.88v-3.75l3.25-1.88zM651.95,208.58v3.75l-3.25,1.88-3.25-1.88v-3.75l3.25-1.88zM658.45,208.58v3.75l-3.25,1.88-3.25-1.88v-3.75l3.25-1.88zM664.95,208.58v3.75l-3.25,1.88-3.25-1.88v-3.75l3.25-1.88zM671.45,208.58v3.75l-3.25,1.88-3.25-1.88v-3.75l3.25-1.88zM677.95,208.58v3.75l-3.25,1.88-3.25-1.88v-3.75l3.25-1.88zM684.45,208.58v3.75l-3.25,1.88-3.25-1.88v-3.75l3.25-1.88zM102.7,214.21v3.75l-3.25,1.88-3.25-1.88v-3.75l3.25-1.88zM109.2,214.21v3.75l-3.25,1.88-3.25-1.88v-3.75l3.25-1.88zM115.7,214.21v3.75l-3.25,1.88-3.25-1.88v-3.75l3.25-1.88zM122.2,214.21v3.75l-3.25,1.88-3.25-1.88v-3.75l3.25-1.88zM128.7,214.21v3.75l-3.25,1.88-3.25-1.88v-3.75l3.25-1.88zM135.2,214.21v3.75l-3.25,1.88-3.25-1.88v-3.75l3.25-1.88zM141.7,214.21v3.75l-3.25,1.88-3.25-1.88v-3.75l3.25-1.88zM148.2,214.21v3.75l-3.25,1.88-3.25-1.88v-3.75l3.25-1.88zM154.7,214.21v3.75l-3.25,1.88-3.25-1.88v-3.75l3.25-1.88zM161.2,214.21v3.75l-3.25,1.88-3.25-1.88v-3.75l3.25-1.88zM167.7,214.21v3.75l-3.25,1.88-3.25-1.88v-3.75l3.25-1.88zM174.2,214.21v3.75l-3.25,1.88-3.25-1.88v-3.75l3.25-1.88zM180.7,214.21v3.75l-3.25,1.88-3.25-1.88v-3.75l3.25-1.88zM187.2,214.21v3.75l-3.25,1.88-3.25-1.88v-3.75l3.25-1.88zM193.7,214.21v3.75l-3.25,1.88-3.25-1.88v-3.75l3.25-1.88zM200.2,214.21v3.75l-3.25,1.88-3.25-1.88v-3.75l3.25-1.88zM206.7,214.21v3.75l-3.25,1.88-3.25-1.88v-3.75l3.25-1.88zM213.2,214.21v3.75l-3.25,1.88-3.25-1.88v-3.75l3.25-1.88zM219.7,214.21v3.75l-3.25,1.88-3.25-1.88v-3.75l3.25-1.88zM226.2,214.21v3.75l-3.25,1.88-3.25-1.88v-3.75l3.25-1.88zM232.7,214.21v3.75l-3.25,1.88-3.25-1.88v-3.75l3.25-1.88zM252.2,214.21v3.75l-3.25,1.88-3.25-1.88v-3.75l3.25-1.88zM258.7,214.21v3.75l-3.25,1.88-3.25-1.88v-3.75l3.25-1.88zM310.7,214.21v3.75l-3.25,1.88-3.25-1.88v-3.75l3.25-1.88zM317.2,214.21v3.75l-3.25,1.88-3.25-1.88v-3.75l3.25-1.88zM323.7,214.21v3.75l-3.25,1.88-3.25-1.88v-3.75l3.25-1.88zM330.2,214.21v3.75l-3.25,1.88-3.25-1.88v-3.75l3.25-1.88zM336.7,214.21v3.75l-3.25,1.88-3.25-1.88v-3.75l3.25-1.88zM343.2,214.21v3.75l-3.25,1.88-3.25-1.88v-3.75l3.25-1.88zM349.7,214.21v3.75l-3.25,1.88-3.25-1.88v-3.75l3.25-1.88zM356.2,214.21v3.75l-3.25,1.88-3.25-1.88v-3.75l3.25-1.88zM362.7,214.21v3.75l-3.25,1.88-3.25-1.88v-3.75l3.25-1.88zM369.2,214.21v3.75l-3.25,1.88-3.25-1.88v-3.75l3.25-1.88zM375.7,214.21v3.75l-3.25,1.88-3.25-1.88v-3.75l3.25-1.88zM382.2,214.21v3.75l-3.25,1.88-3.25-1.88v-3.75l3.25-1.88zM388.7,214.21v3.75l-3.25,1.88-3.25-1.88v-3.75l3.25-1.88zM395.2,214.21v3.75l-3.25,1.88-3.25-1.88v-3.75l3.25-1.88zM434.2,214.21v3.75l-3.25,1.88-3.25-1.88v-3.75l3.25-1.88zM440.7,214.21v3.75l-3.25,1.88-3.25-1.88v-3.75l3.25-1.88zM447.2,214.21v3.75l-3.25,1.88-3.25-1.88v-3.75l3.25-1.88zM453.7,214.21v3.75l-3.25,1.88-3.25-1.88v-3.75l3.25-1.88zM460.2,214.21v3.75l-3.25,1.88-3.25-1.88v-3.75l3.25-1.88zM531.7,214.21v3.75l-3.25,1.88-3.25-1.88v-3.75l3.25-1.88zM538.2,214.21v3.75l-3.25,1.88-3.25-1.88v-3.75l3.25-1.88zM544.7,214.21v3.75l-3.25,1.88-3.25-1.88v-3.75l3.25-1.88zM551.2,214.21v3.75l-3.25,1.88-3.25-1.88v-3.75l3.25-1.88zM557.7,214.21v3.75l-3.25,1.88-3.25-1.88v-3.75l3.25-1.88zM564.2,214.21v3.75l-3.25,1.88-3.25-1.88v-3.75l3.25-1.88zM570.7,214.21v3.75l-3.25,1.88-3.25-1.88v-3.75l3.25-1.88zM577.2,214.21v3.75l-3.25,1.88-3.25-1.88v-3.75l3.25-1.88zM583.7,214.21v3.75l-3.25,1.88-3.25-1.88v-3.75l3.25-1.88zM590.2,214.21v3.75l-3.25,1.88-3.25-1.88v-3.75l3.25-1.88zM596.7,214.21v3.75l-3.25,1.88-3.25-1.88v-3.75l3.25-1.88zM603.2,214.21v3.75l-3.25,1.88-3.25-1.88v-3.75l3.25-1.88zM609.7,214.21v3.75l-3.25,1.88-3.25-1.88v-3.75l3.25-1.88zM616.2,214.21v3.75l-3.25,1.88-3.25-1.88v-3.75l3.25-1.88zM622.7,214.21v3.75l-3.25,1.88-3.25-1.88v-3.75l3.25-1.88zM635.7,214.21v3.75l-3.25,1.88-3.25-1.88v-3.75l3.25-1.88zM642.2,214.21v3.75l-3.25,1.88-3.25-1.88v-3.75l3.25-1.88zM648.7,214.21v3.75l-3.25,1.88-3.25-1.88v-3.75l3.25-1.88zM655.2,214.21v3.75l-3.25,1.88-3.25-1.88v-3.75l3.25-1.88zM661.7,214.21v3.75l-3.25,1.88-3.25-1.88v-3.75l3.25-1.88zM668.2,214.21v3.75l-3.25,1.88-3.25-1.88v-3.75l3.25-1.88zM674.7,214.21v3.75l-3.25,1.88-3.25-1.88v-3.75l3.25-1.88zM681.2,214.21v3.75l-3.25,1.88-3.25-1.88v-3.75l3.25-1.88zM687.7,214.21v3.75l-3.25,1.88-3.25-1.88v-3.75l3.25-1.88zM99.45,219.85v3.75l-3.25,1.88-3.25-1.88v-3.75l3.25-1.88zM105.95,219.85v3.75l-3.25,1.88-3.25-1.88v-3.75l3.25-1.88zM112.45,219.85v3.75l-3.25,1.88-3.25-1.88v-3.75l3.25-1.88zM118.95,219.85v3.75l-3.25,1.88-3.25-1.88v-3.75l3.25-1.88zM125.45,219.85v3.75l-3.25,1.88-3.25-1.88v-3.75l3.25-1.88zM131.95,219.85v3.75l-3.25,1.88-3.25-1.88v-3.75l3.25-1.88zM138.45,219.85v3.75l-3.25,1.88-3.25-1.88v-3.75l3.25-1.88zM144.95,219.85v3.75l-3.25,1.88-3.25-1.88v-3.75l3.25-1.88zM151.45,219.85v3.75l-3.25,1.88-3.25-1.88v-3.75l3.25-1.88zM157.95,219.85v3.75l-3.25,1.88-3.25-1.88v-3.75l3.25-1.88zM164.45,219.85v3.75l-3.25,1.88-3.25-1.88v-3.75l3.25-1.88zM170.95,219.85v3.75l-3.25,1.88-3.25-1.88v-3.75l3.25-1.88zM177.45,219.85v3.75l-3.25,1.88-3.25-1.88v-3.75l3.25-1.88zM183.95,219.85v3.75l-3.25,1.88-3.25-1.88v-3.75l3.25-1.88zM190.45,219.85v3.75l-3.25,1.88-3.25-1.88v-3.75l3.25-1.88zM196.95,219.85v3.75l-3.25,1.88-3.25-1.88v-3.75l3.25-1.88zM203.45,219.85v3.75l-3.25,1.88-3.25-1.88v-3.75l3.25-1.88zM209.95,219.85v3.75l-3.25,1.88-3.25-1.88v-3.75l3.25-1.88zM216.45,219.85v3.75l-3.25,1.88-3.25-1.88v-3.75l3.25-1.88zM222.95,219.85v3.75l-3.25,1.88-3.25-1.88v-3.75l3.25-1.88zM229.45,219.85v3.75l-3.25,1.88-3.25-1.88v-3.75l3.25-1.88zM235.95,219.85v3.75l-3.25,1.88-3.25-1.88v-3.75l3.25-1.88zM242.45,219.85v3.75l-3.25,1.88-3.25-1.88v-3.75l3.25-1.88zM248.95,219.85v3.75l-3.25,1.88-3.25-1.88v-3.75l3.25-1.88zM255.45,219.85v3.75l-3.25,1.88-3.25-1.88v-3.75l3.25-1.88zM313.95,219.85v3.75l-3.25,1.88-3.25-1.88v-3.75l3.25-1.88zM320.45,219.85v3.75l-3.25,1.88-3.25-1.88v-3.75l3.25-1.88zM326.95,219.85v3.75l-3.25,1.88-3.25-1.88v-3.75l3.25-1.88zM333.45,219.85v3.75l-3.25,1.88-3.25-1.88v-3.75l3.25-1.88zM339.95,219.85v3.75l-3.25,1.88-3.25-1.88v-3.75l3.25-1.88zM346.45,219.85v3.75l-3.25,1.88-3.25-1.88v-3.75l3.25-1.88zM352.95,219.85v3.75l-3.25,1.88-3.25-1.88v-3.75l3.25-1.88zM359.45,219.85v3.75l-3.25,1.88-3.25-1.88v-3.75l3.25-1.88zM365.95,219.85v3.75l-3.25,1.88-3.25-1.88v-3.75l3.25-1.88zM372.45,219.85v3.75l-3.25,1.88-3.25-1.88v-3.75l3.25-1.88zM378.95,219.85v3.75l-3.25,1.88-3.25-1.88v-3.75l3.25-1.88zM385.45,219.85v3.75l-3.25,1.88-3.25-1.88v-3.75l3.25-1.88zM528.45,219.85v3.75l-3.25,1.88-3.25-1.88v-3.75l3.25-1.88zM534.95,219.85v3.75l-3.25,1.88-3.25-1.88v-3.75l3.25-1.88zM554.45,219.85v3.75l-3.25,1.88-3.25-1.88v-3.75l3.25-1.88zM560.95,219.85v3.75l-3.25,1.88-3.25-1.88v-3.75l3.25-1.88zM567.45,219.85v3.75l-3.25,1.88-3.25-1.88v-3.75l3.25-1.88zM573.95,219.85v3.75l-3.25,1.88-3.25-1.88v-3.75l3.25-1.88zM580.45,219.85v3.75l-3.25,1.88-3.25-1.88v-3.75l3.25-1.88zM612.95,219.85v3.75l-3.25,1.88-3.25-1.88v-3.75l3.25-1.88zM619.45,219.85v3.75l-3.25,1.88-3.25-1.88v-3.75l3.25-1.88zM625.95,219.85v3.75l-3.25,1.88-3.25-1.88v-3.75l3.25-1.88zM632.45,219.85v3.75l-3.25,1.88-3.25-1.88v-3.75l3.25-1.88zM638.95,219.85v3.75l-3.25,1.88-3.25-1.88v-3.75l3.25-1.88zM645.45,219.85v3.75l-3.25,1.88-3.25-1.88v-3.75l3.25-1.88zM651.95,219.85v3.75l-3.25,1.88-3.25-1.88v-3.75l3.25-1.88zM658.45,219.85v3.75l-3.25,1.88-3.25-1.88v-3.75l3.25-1.88zM664.95,219.85v3.75l-3.25,1.88-3.25-1.88v-3.75l3.25-1.88zM671.45,219.85v3.75l-3.25,1.88-3.25-1.88v-3.75l3.25-1.88zM677.95,219.85v3.75l-3.25,1.88-3.25-1.88v-3.75l3.25-1.88zM684.45,219.85v3.75l-3.25,1.88-3.25-1.88v-3.75l3.25-1.88zM690.95,219.85v3.75l-3.25,1.88-3.25-1.88v-3.75l3.25-1.88zM96.2,225.48v3.75l-3.25,1.88-3.25-1.88v-3.75l3.25-1.88zM102.7,225.48v3.75l-3.25,1.88-3.25-1.88v-3.75l3.25-1.88zM109.2,225.48v3.75l-3.25,1.88-3.25-1.88v-3.75l3.25-1.88zM115.7,225.48v3.75l-3.25,1.88-3.25-1.88v-3.75l3.25-1.88zM122.2,225.48v3.75l-3.25,1.88-3.25-1.88v-3.75l3.25-1.88zM128.7,225.48v3.75l-3.25,1.88-3.25-1.88v-3.75l3.25-1.88zM135.2,225.48v3.75l-3.25,1.88-3.25-1.88v-3.75l3.25-1.88zM141.7,225.48v3.75l-3.25,1.88-3.25-1.88v-3.75l3.25-1.88zM148.2,225.48v3.75l-3.25,1.88-3.25-1.88v-3.75l3.25-1.88zM154.7,225.48v3.75l-3.25,1.88-3.25-1.88v-3.75l3.25-1.88zM161.2,225.48v3.75l-3.25,1.88-3.25-1.88v-3.75l3.25-1.88zM167.7,225.48v3.75l-3.25,1.88-3.25-1.88v-3.75l3.25-1.88zM174.2,225.48v3.75l-3.25,1.88-3.25-1.88v-3.75l3.25-1.88zM180.7,225.48v3.75l-3.25,1.88-3.25-1.88v-3.75l3.25-1.88zM187.2,225.48v3.75l-3.25,1.88-3.25-1.88v-3.75l3.25-1.88zM193.7,225.48v3.75l-3.25,1.88-3.25-1.88v-3.75l3.25-1.88zM200.2,225.48v3.75l-3.25,1.88-3.25-1.88v-3.75l3.25-1.88zM206.7,225.48v3.75l-3.25,1.88-3.25-1.88v-3.75l3.25-1.88zM213.2,225.48v3.75l-3.25,1.88-3.25-1.88v-3.75l3.25-1.88zM219.7,225.48v3.75l-3.25,1.88-3.25-1.88v-3.75l3.25-1.88zM226.2,225.48v3.75l-3.25,1.88-3.25-1.88v-3.75l3.25-1.88zM232.7,225.48v3.75l-3.25,1.88-3.25-1.88v-3.75l3.25-1.88zM239.2,225.48v3.75l-3.25,1.88-3.25-1.88v-3.75l3.25-1.88zM245.7,225.48v3.75l-3.25,1.88-3.25-1.88v-3.75l3.25-1.88zM252.2,225.48v3.75l-3.25,1.88-3.25-1.88v-3.75l3.25-1.88zM258.7,225.48v3.75l-3.25,1.88-3.25-1.88v-3.75l3.25-1.88zM317.2,225.48v3.75l-3.25,1.88-3.25-1.88v-3.75l3.25-1.88zM323.7,225.48v3.75l-3.25,1.88-3.25-1.88v-3.75l3.25-1.88zM330.2,225.48v3.75l-3.25,1.88-3.25-1.88v-3.75l3.25-1.88zM336.7,225.48v3.75l-3.25,1.88-3.25-1.88v-3.75l3.25-1.88zM343.2,225.48v3.75l-3.25,1.88-3.25-1.88v-3.75l3.25-1.88zM349.7,225.48v3.75l-3.25,1.88-3.25-1.88v-3.75l3.25-1.88zM356.2,225.48v3.75l-3.25,1.88-3.25-1.88v-3.75l3.25-1.88zM362.7,225.48v3.75l-3.25,1.88-3.25-1.88v-3.75l3.25-1.88zM369.2,225.48v3.75l-3.25,1.88-3.25-1.88v-3.75l3.25-1.88zM375.7,225.48v3.75l-3.25,1.88-3.25-1.88v-3.75l3.25-1.88zM382.2,225.48v3.75l-3.25,1.88-3.25-1.88v-3.75l3.25-1.88zM525.2,225.48v3.75l-3.25,1.88-3.25-1.88v-3.75l3.25-1.88zM544.7,225.48v3.75l-3.25,1.88-3.25-1.88v-3.75l3.25-1.88zM557.7,225.48v3.75l-3.25,1.88-3.25-1.88v-3.75l3.25-1.88zM564.2,225.48v3.75l-3.25,1.88-3.25-1.88v-3.75l3.25-1.88zM570.7,225.48v3.75l-3.25,1.88-3.25-1.88v-3.75l3.25-1.88zM577.2,225.48v3.75l-3.25,1.88-3.25-1.88v-3.75l3.25-1.88zM583.7,225.48v3.75l-3.25,1.88-3.25-1.88v-3.75l3.25-1.88zM616.2,225.48v3.75l-3.25,1.88-3.25-1.88v-3.75l3.25-1.88zM622.7,225.48v3.75l-3.25,1.88-3.25-1.88v-3.75l3.25-1.88zM629.2,225.48v3.75l-3.25,1.88-3.25-1.88v-3.75l3.25-1.88zM635.7,225.48v3.75l-3.25,1.88-3.25-1.88v-3.75l3.25-1.88zM642.2,225.48v3.75l-3.25,1.88-3.25-1.88v-3.75l3.25-1.88zM648.7,225.48v3.75l-3.25,1.88-3.25-1.88v-3.75l3.25-1.88zM655.2,225.48v3.75l-3.25,1.88-3.25-1.88v-3.75l3.25-1.88zM661.7,225.48v3.75l-3.25,1.88-3.25-1.88v-3.75l3.25-1.88zM668.2,225.48v3.75l-3.25,1.88-3.25-1.88v-3.75l3.25-1.88zM674.7,225.48v3.75l-3.25,1.88-3.25-1.88v-3.75l3.25-1.88zM681.2,225.48v3.75l-3.25,1.88-3.25-1.88v-3.75l3.25-1.88zM687.7,225.48v3.75l-3.25,1.88-3.25-1.88v-3.75l3.25-1.88zM694.2,225.48v3.75l-3.25,1.88-3.25-1.88v-3.75l3.25-1.88zM92.95,231.11v3.75l-3.25,1.88-3.25-1.88v-3.75l3.25-1.88zM99.45,231.11v3.75l-3.25,1.88-3.25-1.88v-3.75l3.25-1.88zM105.95,231.11v3.75l-3.25,1.88-3.25-1.88v-3.75l3.25-1.88zM112.45,231.11v3.75l-3.25,1.88-3.25-1.88v-3.75l3.25-1.88zM118.95,231.11v3.75l-3.25,1.88-3.25-1.88v-3.75l3.25-1.88zM125.45,231.11v3.75l-3.25,1.88-3.25-1.88v-3.75l3.25-1.88zM131.95,231.11v3.75l-3.25,1.88-3.25-1.88v-3.75l3.25-1.88zM138.45,231.11v3.75l-3.25,1.88-3.25-1.88v-3.75l3.25-1.88zM144.95,231.11v3.75l-3.25,1.88-3.25-1.88v-3.75l3.25-1.88zM151.45,231.11v3.75l-3.25,1.88-3.25-1.88v-3.75l3.25-1.88zM157.95,231.11v3.75l-3.25,1.88-3.25-1.88v-3.75l3.25-1.88zM164.45,231.11v3.75l-3.25,1.88-3.25-1.88v-3.75l3.25-1.88zM170.95,231.11v3.75l-3.25,1.88-3.25-1.88v-3.75l3.25-1.88zM177.45,231.11v3.75l-3.25,1.88-3.25-1.88v-3.75l3.25-1.88zM183.95,231.11v3.75l-3.25,1.88-3.25-1.88v-3.75l3.25-1.88zM190.45,231.11v3.75l-3.25,1.88-3.25-1.88v-3.75l3.25-1.88zM196.95,231.11v3.75l-3.25,1.88-3.25-1.88v-3.75l3.25-1.88zM203.45,231.11v3.75l-3.25,1.88-3.25-1.88v-3.75l3.25-1.88zM209.95,231.11v3.75l-3.25,1.88-3.25-1.88v-3.75l3.25-1.88zM216.45,231.11v3.75l-3.25,1.88-3.25-1.88v-3.75l3.25-1.88zM222.95,231.11v3.75l-3.25,1.88-3.25-1.88v-3.75l3.25-1.88zM229.45,231.11v3.75l-3.25,1.88-3.25-1.88v-3.75l3.25-1.88zM235.95,231.11v3.75l-3.25,1.88-3.25-1.88v-3.75l3.25-1.88zM242.45,231.11v3.75l-3.25,1.88-3.25-1.88v-3.75l3.25-1.88zM248.95,231.11v3.75l-3.25,1.88-3.25-1.88v-3.75l3.25-1.88zM255.45,231.11v3.75l-3.25,1.88-3.25-1.88v-3.75l3.25-1.88zM261.95,231.11v3.75l-3.25,1.88-3.25-1.88v-3.75l3.25-1.88zM268.45,231.11v3.75l-3.25,1.88-3.25-1.88v-3.75l3.25-1.88zM274.95,231.11v3.75l-3.25,1.88-3.25-1.88v-3.75l3.25-1.88zM313.95,231.11v3.75l-3.25,1.88-3.25-1.88v-3.75l3.25-1.88zM320.45,231.11v3.75l-3.25,1.88-3.25-1.88v-3.75l3.25-1.88zM326.95,231.11v3.75l-3.25,1.88-3.25-1.88v-3.75l3.25-1.88zM333.45,231.11v3.75l-3.25,1.88-3.25-1.88v-3.75l3.25-1.88zM339.95,231.11v3.75l-3.25,1.88-3.25-1.88v-3.75l3.25-1.88zM346.45,231.11v3.75l-3.25,1.88-3.25-1.88v-3.75l3.25-1.88zM352.95,231.11v3.75l-3.25,1.88-3.25-1.88v-3.75l3.25-1.88zM359.45,231.11v3.75l-3.25,1.88-3.25-1.88v-3.75l3.25-1.88zM365.95,231.11v3.75l-3.25,1.88-3.25-1.88v-3.75l3.25-1.88zM372.45,231.11v3.75l-3.25,1.88-3.25-1.88v-3.75l3.25-1.88zM378.95,231.11v3.75l-3.25,1.88-3.25-1.88v-3.75l3.25-1.88zM385.45,231.11v3.75l-3.25,1.88-3.25-1.88v-3.75l3.25-1.88zM521.95,231.11v3.75l-3.25,1.88-3.25-1.88v-3.75l3.25-1.88zM541.45,231.11v3.75l-3.25,1.88-3.25-1.88v-3.75l3.25-1.88zM547.95,231.11v3.75l-3.25,1.88-3.25-1.88v-3.75l3.25-1.88zM560.95,231.11v3.75l-3.25,1.88-3.25-1.88v-3.75l3.25-1.88zM567.45,231.11v3.75l-3.25,1.88-3.25-1.88v-3.75l3.25-1.88zM573.95,231.11v3.75l-3.25,1.88-3.25-1.88v-3.75l3.25-1.88zM580.45,231.11v3.75l-3.25,1.88-3.25-1.88v-3.75l3.25-1.88zM586.95,231.11v3.75l-3.25,1.88-3.25-1.88v-3.75l3.25-1.88zM612.95,231.11v3.75l-3.25,1.88-3.25-1.88v-3.75l3.25-1.88zM619.45,231.11v3.75l-3.25,1.88-3.25-1.88v-3.75l3.25-1.88zM625.95,231.11v3.75l-3.25,1.88-3.25-1.88v-3.75l3.25-1.88zM632.45,231.11v3.75l-3.25,1.88-3.25-1.88v-3.75l3.25-1.88zM638.95,231.11v3.75l-3.25,1.88-3.25-1.88v-3.75l3.25-1.88zM645.45,231.11v3.75l-3.25,1.88-3.25-1.88v-3.75l3.25-1.88zM651.95,231.11v3.75l-3.25,1.88-3.25-1.88v-3.75l3.25-1.88zM658.45,231.11v3.75l-3.25,1.88-3.25-1.88v-3.75l3.25-1.88zM664.95,231.11v3.75l-3.25,1.88-3.25-1.88v-3.75l3.25-1.88zM671.45,231.11v3.75l-3.25,1.88-3.25-1.88v-3.75l3.25-1.88zM677.95,231.11v3.75l-3.25,1.88-3.25-1.88v-3.75l3.25-1.88zM684.45,231.11v3.75l-3.25,1.88-3.25-1.88v-3.75l3.25-1.88zM690.95,231.11v3.75l-3.25,1.88-3.25-1.88v-3.75l3.25-1.88zM89.7,236.75v3.75l-3.25,1.88-3.25-1.88v-3.75l3.25-1.88zM96.2,236.75v3.75l-3.25,1.88-3.25-1.88v-3.75l3.25-1.88zM102.7,236.75v3.75l-3.25,1.88-3.25-1.88v-3.75l3.25-1.88zM109.2,236.75v3.75l-3.25,1.88-3.25-1.88v-3.75l3.25-1.88zM115.7,236.75v3.75l-3.25,1.88-3.25-1.88v-3.75l3.25-1.88zM122.2,236.75v3.75l-3.25,1.88-3.25-1.88v-3.75l3.25-1.88zM128.7,236.75v3.75l-3.25,1.88-3.25-1.88v-3.75l3.25-1.88zM135.2,236.75v3.75l-3.25,1.88-3.25-1.88v-3.75l3.25-1.88zM141.7,236.75v3.75l-3.25,1.88-3.25-1.88v-3.75l3.25-1.88zM148.2,236.75v3.75l-3.25,1.88-3.25-1.88v-3.75l3.25-1.88zM154.7,236.75v3.75l-3.25,1.88-3.25-1.88v-3.75l3.25-1.88zM161.2,236.75v3.75l-3.25,1.88-3.25-1.88v-3.75l3.25-1.88zM167.7,236.75v3.75l-3.25,1.88-3.25-1.88v-3.75l3.25-1.88zM174.2,236.75v3.75l-3.25,1.88-3.25-1.88v-3.75l3.25-1.88zM180.7,236.75v3.75l-3.25,1.88-3.25-1.88v-3.75l3.25-1.88zM187.2,236.75v3.75l-3.25,1.88-3.25-1.88v-3.75l3.25-1.88zM193.7,236.75v3.75l-3.25,1.88-3.25-1.88v-3.75l3.25-1.88zM200.2,236.75v3.75l-3.25,1.88-3.25-1.88v-3.75l3.25-1.88zM206.7,236.75v3.75l-3.25,1.88-3.25-1.88v-3.75l3.25-1.88zM213.2,236.75v3.75l-3.25,1.88-3.25-1.88v-3.75l3.25-1.88zM219.7,236.75v3.75l-3.25,1.88-3.25-1.88v-3.75l3.25-1.88zM226.2,236.75v3.75l-3.25,1.88-3.25-1.88v-3.75l3.25-1.88zM232.7,236.75v3.75l-3.25,1.88-3.25-1.88v-3.75l3.25-1.88zM239.2,236.75v3.75l-3.25,1.88-3.25-1.88v-3.75l3.25-1.88zM245.7,236.75v3.75l-3.25,1.88-3.25-1.88v-3.75l3.25-1.88zM252.2,236.75v3.75l-3.25,1.88-3.25-1.88v-3.75l3.25-1.88zM258.7,236.75v3.75l-3.25,1.88-3.25-1.88v-3.75l3.25-1.88zM271.7,236.75v3.75l-3.25,1.88-3.25-1.88v-3.75l3.25-1.88zM278.2,236.75v3.75l-3.25,1.88-3.25-1.88v-3.75l3.25-1.88zM310.7,236.75v3.75l-3.25,1.88-3.25-1.88v-3.75l3.25-1.88zM317.2,236.75v3.75l-3.25,1.88-3.25-1.88v-3.75l3.25-1.88zM323.7,236.75v3.75l-3.25,1.88-3.25-1.88v-3.75l3.25-1.88zM330.2,236.75v3.75l-3.25,1.88-3.25-1.88v-3.75l3.25-1.88zM336.7,236.75v3.75l-3.25,1.88-3.25-1.88v-3.75l3.25-1.88zM343.2,236.75v3.75l-3.25,1.88-3.25-1.88v-3.75l3.25-1.88zM349.7,236.75v3.75l-3.25,1.88-3.25-1.88v-3.75l3.25-1.88zM356.2,236.75v3.75l-3.25,1.88-3.25-1.88v-3.75l3.25-1.88zM362.7,236.75v3.75l-3.25,1.88-3.25-1.88v-3.75l3.25-1.88zM369.2,236.75v3.75l-3.25,1.88-3.25-1.88v-3.75l3.25-1.88zM375.7,236.75v3.75l-3.25,1.88-3.25-1.88v-3.75l3.25-1.88zM382.2,236.75v3.75l-3.25,1.88-3.25-1.88v-3.75l3.25-1.88zM518.7,236.75v3.75l-3.25,1.88-3.25-1.88v-3.75l3.25-1.88zM538.2,236.75v3.75l-3.25,1.88-3.25-1.88v-3.75l3.25-1.88zM544.7,236.75v3.75l-3.25,1.88-3.25-1.88v-3.75l3.25-1.88zM551.2,236.75v3.75l-3.25,1.88-3.25-1.88v-3.75l3.25-1.88zM557.7,236.75v3.75l-3.25,1.88-3.25-1.88v-3.75l3.25-1.88zM564.2,236.75v3.75l-3.25,1.88-3.25-1.88v-3.75l3.25-1.88zM570.7,236.75v3.75l-3.25,1.88-3.25-1.88v-3.75l3.25-1.88zM577.2,236.75v3.75l-3.25,1.88-3.25-1.88v-3.75l3.25-1.88zM583.7,236.75v3.75l-3.25,1.88-3.25-1.88v-3.75l3.25-1.88zM590.2,236.75v3.75l-3.25,1.88-3.25-1.88v-3.75l3.25-1.88zM609.7,236.75v3.75l-3.25,1.88-3.25-1.88v-3.75l3.25-1.88zM616.2,236.75v3.75l-3.25,1.88-3.25-1.88v-3.75l3.25-1.88zM622.7,236.75v3.75l-3.25,1.88-3.25-1.88v-3.75l3.25-1.88zM629.2,236.75v3.75l-3.25,1.88-3.25-1.88v-3.75l3.25-1.88zM635.7,236.75v3.75l-3.25,1.88-3.25-1.88v-3.75l3.25-1.88zM642.2,236.75v3.75l-3.25,1.88-3.25-1.88v-3.75l3.25-1.88zM648.7,236.75v3.75l-3.25,1.88-3.25-1.88v-3.75l3.25-1.88zM655.2,236.75v3.75l-3.25,1.88-3.25-1.88v-3.75l3.25-1.88zM661.7,236.75v3.75l-3.25,1.88-3.25-1.88v-3.75l3.25-1.88zM668.2,236.75v3.75l-3.25,1.88-3.25-1.88v-3.75l3.25-1.88zM674.7,236.75v3.75l-3.25,1.88-3.25-1.88v-3.75l3.25-1.88zM681.2,236.75v3.75l-3.25,1.88-3.25-1.88v-3.75l3.25-1.88zM687.7,236.75v3.75l-3.25,1.88-3.25-1.88v-3.75l3.25-1.88zM694.2,236.75v3.75l-3.25,1.88-3.25-1.88v-3.75l3.25-1.88zM700.7,236.75v3.75l-3.25,1.88-3.25-1.88v-3.75l3.25-1.88zM707.2,236.75v3.75l-3.25,1.88-3.25-1.88v-3.75l3.25-1.88zM86.45,242.38v3.75l-3.25,1.88-3.25-1.88v-3.75l3.25-1.88zM92.95,242.38v3.75l-3.25,1.88-3.25-1.88v-3.75l3.25-1.88zM99.45,242.38v3.75l-3.25,1.88-3.25-1.88v-3.75l3.25-1.88zM105.95,242.38v3.75l-3.25,1.88-3.25-1.88v-3.75l3.25-1.88zM112.45,242.38v3.75l-3.25,1.88-3.25-1.88v-3.75l3.25-1.88zM118.95,242.38v3.75l-3.25,1.88-3.25-1.88v-3.75l3.25-1.88zM125.45,242.38v3.75l-3.25,1.88-3.25-1.88v-3.75l3.25-1.88zM131.95,242.38v3.75l-3.25,1.88-3.25-1.88v-3.75l3.25-1.88zM138.45,242.38v3.75l-3.25,1.88-3.25-1.88v-3.75l3.25-1.88zM144.95,242.38v3.75l-3.25,1.88-3.25-1.88v-3.75l3.25-1.88zM151.45,242.38v3.75l-3.25,1.88-3.25-1.88v-3.75l3.25-1.88zM157.95,242.38v3.75l-3.25,1.88-3.25-1.88v-3.75l3.25-1.88zM164.45,242.38v3.75l-3.25,1.88-3.25-1.88v-3.75l3.25-1.88zM170.95,242.38v3.75l-3.25,1.88-3.25-1.88v-3.75l3.25-1.88zM177.45,242.38v3.75l-3.25,1.88-3.25-1.88v-3.75l3.25-1.88zM183.95,242.38v3.75l-3.25,1.88-3.25-1.88v-3.75l3.25-1.88zM190.45,242.38v3.75l-3.25,1.88-3.25-1.88v-3.75l3.25-1.88zM196.95,242.38v3.75l-3.25,1.88-3.25-1.88v-3.75l3.25-1.88zM203.45,242.38v3.75l-3.25,1.88-3.25-1.88v-3.75l3.25-1.88zM209.95,242.38v3.75l-3.25,1.88-3.25-1.88v-3.75l3.25-1.88zM216.45,242.38v3.75l-3.25,1.88-3.25-1.88v-3.75l3.25-1.88zM222.95,242.38v3.75l-3.25,1.88-3.25-1.88v-3.75l3.25-1.88zM229.45,242.38v3.75l-3.25,1.88-3.25-1.88v-3.75l3.25-1.88zM235.95,242.38v3.75l-3.25,1.88-3.25-1.88v-3.75l3.25-1.88zM242.45,242.38v3.75l-3.25,1.88-3.25-1.88v-3.75l3.25-1.88zM268.45,242.38v3.75l-3.25,1.88-3.25-1.88v-3.75l3.25-1.88zM274.95,242.38v3.75l-3.25,1.88-3.25-1.88v-3.75l3.25-1.88zM313.95,242.38v3.75l-3.25,1.88-3.25-1.88v-3.75l3.25-1.88zM320.45,242.38v3.75l-3.25,1.88-3.25-1.88v-3.75l3.25-1.88zM326.95,242.38v3.75l-3.25,1.88-3.25-1.88v-3.75l3.25-1.88zM333.45,242.38v3.75l-3.25,1.88-3.25-1.88v-3.75l3.25-1.88zM339.95,242.38v3.75l-3.25,1.88-3.25-1.88v-3.75l3.25-1.88zM346.45,242.38v3.75l-3.25,1.88-3.25-1.88v-3.75l3.25-1.88zM352.95,242.38v3.75l-3.25,1.88-3.25-1.88v-3.75l3.25-1.88zM359.45,242.38v3.75l-3.25,1.88-3.25-1.88v-3.75l3.25-1.88zM365.95,242.38v3.75l-3.25,1.88-3.25-1.88v-3.75l3.25-1.88zM372.45,242.38v3.75l-3.25,1.88-3.25-1.88v-3.75l3.25-1.88zM378.95,242.38v3.75l-3.25,1.88-3.25-1.88v-3.75l3.25-1.88zM385.45,242.38v3.75l-3.25,1.88-3.25-1.88v-3.75l3.25-1.88zM534.95,242.38v3.75l-3.25,1.88-3.25-1.88v-3.75l3.25-1.88zM541.45,242.38v3.75l-3.25,1.88-3.25-1.88v-3.75l3.25-1.88zM547.95,242.38v3.75l-3.25,1.88-3.25-1.88v-3.75l3.25-1.88zM554.45,242.38v3.75l-3.25,1.88-3.25-1.88v-3.75l3.25-1.88zM560.95,242.38v3.75l-3.25,1.88-3.25-1.88v-3.75l3.25-1.88zM567.45,242.38v3.75l-3.25,1.88-3.25-1.88v-3.75l3.25-1.88zM573.95,242.38v3.75l-3.25,1.88-3.25-1.88v-3.75l3.25-1.88zM580.45,242.38v3.75l-3.25,1.88-3.25-1.88v-3.75l3.25-1.88zM586.95,242.38v3.75l-3.25,1.88-3.25-1.88v-3.75l3.25-1.88zM593.45,242.38v3.75l-3.25,1.88-3.25-1.88v-3.75l3.25-1.88zM599.95,242.38v3.75l-3.25,1.88-3.25-1.88v-3.75l3.25-1.88zM606.45,242.38v3.75l-3.25,1.88-3.25-1.88v-3.75l3.25-1.88zM612.95,242.38v3.75l-3.25,1.88-3.25-1.88v-3.75l3.25-1.88zM619.45,242.38v3.75l-3.25,1.88-3.25-1.88v-3.75l3.25-1.88zM625.95,242.38v3.75l-3.25,1.88-3.25-1.88v-3.75l3.25-1.88zM632.45,242.38v3.75l-3.25,1.88-3.25-1.88v-3.75l3.25-1.88zM638.95,242.38v3.75l-3.25,1.88-3.25-1.88v-3.75l3.25-1.88zM645.45,242.38v3.75l-3.25,1.88-3.25-1.88v-3.75l3.25-1.88zM651.95,242.38v3.75l-3.25,1.88-3.25-1.88v-3.75l3.25-1.88zM658.45,242.38v3.75l-3.25,1.88-3.25-1.88v-3.75l3.25-1.88zM664.95,242.38v3.75l-3.25,1.88-3.25-1.88v-3.75l3.25-1.88zM671.45,242.38v3.75l-3.25,1.88-3.25-1.88v-3.75l3.25-1.88zM677.95,242.38v3.75l-3.25,1.88-3.25-1.88v-3.75l3.25-1.88zM684.45,242.38v3.75l-3.25,1.88-3.25-1.88v-3.75l3.25-1.88zM690.95,242.38v3.75l-3.25,1.88-3.25-1.88v-3.75l3.25-1.88zM697.45,242.38v3.75l-3.25,1.88-3.25-1.88v-3.75l3.25-1.88zM703.95,242.38v3.75l-3.25,1.88-3.25-1.88v-3.75l3.25-1.88zM710.45,242.38v3.75l-3.25,1.88-3.25-1.88v-3.75l3.25-1.88zM716.95,242.38v3.75l-3.25,1.88-3.25-1.88v-3.75l3.25-1.88zM723.45,242.38v3.75l-3.25,1.88-3.25-1.88v-3.75l3.25-1.88zM83.2,248.01v3.75l-3.25,1.88-3.25-1.88v-3.75l3.25-1.88zM89.7,248.01v3.75l-3.25,1.88-3.25-1.88v-3.75l3.25-1.88zM96.2,248.01v3.75l-3.25,1.88-3.25-1.88v-3.75l3.25-1.88zM102.7,248.01v3.75l-3.25,1.88-3.25-1.88v-3.75l3.25-1.88zM109.2,248.01v3.75l-3.25,1.88-3.25-1.88v-3.75l3.25-1.88zM115.7,248.01v3.75l-3.25,1.88-3.25-1.88v-3.75l3.25-1.88zM122.2,248.01v3.75l-3.25,1.88-3.25-1.88v-3.75l3.25-1.88zM128.7,248.01v3.75l-3.25,1.88-3.25-1.88v-3.75l3.25-1.88zM135.2,248.01v3.75l-3.25,1.88-3.25-1.88v-3.75l3.25-1.88zM141.7,248.01v3.75l-3.25,1.88-3.25-1.88v-3.75l3.25-1.88zM148.2,248.01v3.75l-3.25,1.88-3.25-1.88v-3.75l3.25-1.88zM154.7,248.01v3.75l-3.25,1.88-3.25-1.88v-3.75l3.25-1.88zM161.2,248.01v3.75l-3.25,1.88-3.25-1.88v-3.75l3.25-1.88zM167.7,248.01v3.75l-3.25,1.88-3.25-1.88v-3.75l3.25-1.88zM174.2,248.01v3.75l-3.25,1.88-3.25-1.88v-3.75l3.25-1.88zM180.7,248.01v3.75l-3.25,1.88-3.25-1.88v-3.75l3.25-1.88zM187.2,248.01v3.75l-3.25,1.88-3.25-1.88v-3.75l3.25-1.88zM193.7,248.01v3.75l-3.25,1.88-3.25-1.88v-3.75l3.25-1.88zM200.2,248.01v3.75l-3.25,1.88-3.25-1.88v-3.75l3.25-1.88zM206.7,248.01v3.75l-3.25,1.88-3.25-1.88v-3.75l3.25-1.88zM213.2,248.01v3.75l-3.25,1.88-3.25-1.88v-3.75l3.25-1.88zM219.7,248.01v3.75l-3.25,1.88-3.25-1.88v-3.75l3.25-1.88zM226.2,248.01v3.75l-3.25,1.88-3.25-1.88v-3.75l3.25-1.88zM232.7,248.01v3.75l-3.25,1.88-3.25-1.88v-3.75l3.25-1.88zM239.2,248.01v3.75l-3.25,1.88-3.25-1.88v-3.75l3.25-1.88zM271.7,248.01v3.75l-3.25,1.88-3.25-1.88v-3.75l3.25-1.88zM310.7,248.01v3.75l-3.25,1.88-3.25-1.88v-3.75l3.25-1.88zM317.2,248.01v3.75l-3.25,1.88-3.25-1.88v-3.75l3.25-1.88zM323.7,248.01v3.75l-3.25,1.88-3.25-1.88v-3.75l3.25-1.88zM330.2,248.01v3.75l-3.25,1.88-3.25-1.88v-3.75l3.25-1.88zM336.7,248.01v3.75l-3.25,1.88-3.25-1.88v-3.75l3.25-1.88zM343.2,248.01v3.75l-3.25,1.88-3.25-1.88v-3.75l3.25-1.88zM349.7,248.01v3.75l-3.25,1.88-3.25-1.88v-3.75l3.25-1.88zM356.2,248.01v3.75l-3.25,1.88-3.25-1.88v-3.75l3.25-1.88zM362.7,248.01v3.75l-3.25,1.88-3.25-1.88v-3.75l3.25-1.88zM369.2,248.01v3.75l-3.25,1.88-3.25-1.88v-3.75l3.25-1.88zM375.7,248.01v3.75l-3.25,1.88-3.25-1.88v-3.75l3.25-1.88zM382.2,248.01v3.75l-3.25,1.88-3.25-1.88v-3.75l3.25-1.88zM531.7,248.01v3.75l-3.25,1.88-3.25-1.88v-3.75l3.25-1.88zM538.2,248.01v3.75l-3.25,1.88-3.25-1.88v-3.75l3.25-1.88zM544.7,248.01v3.75l-3.25,1.88-3.25-1.88v-3.75l3.25-1.88zM551.2,248.01v3.75l-3.25,1.88-3.25-1.88v-3.75l3.25-1.88zM557.7,248.01v3.75l-3.25,1.88-3.25-1.88v-3.75l3.25-1.88zM564.2,248.01v3.75l-3.25,1.88-3.25-1.88v-3.75l3.25-1.88zM616.2,248.01v3.75l-3.25,1.88-3.25-1.88v-3.75l3.25-1.88zM622.7,248.01v3.75l-3.25,1.88-3.25-1.88v-3.75l3.25-1.88zM629.2,248.01v3.75l-3.25,1.88-3.25-1.88v-3.75l3.25-1.88zM635.7,248.01v3.75l-3.25,1.88-3.25-1.88v-3.75l3.25-1.88zM642.2,248.01v3.75l-3.25,1.88-3.25-1.88v-3.75l3.25-1.88zM648.7,248.01v3.75l-3.25,1.88-3.25-1.88v-3.75l3.25-1.88zM655.2,248.01v3.75l-3.25,1.88-3.25-1.88v-3.75l3.25-1.88zM661.7,248.01v3.75l-3.25,1.88-3.25-1.88v-3.75l3.25-1.88zM668.2,248.01v3.75l-3.25,1.88-3.25-1.88v-3.75l3.25-1.88zM674.7,248.01v3.75l-3.25,1.88-3.25-1.88v-3.75l3.25-1.88zM681.2,248.01v3.75l-3.25,1.88-3.25-1.88v-3.75l3.25-1.88zM687.7,248.01v3.75l-3.25,1.88-3.25-1.88v-3.75l3.25-1.88zM694.2,248.01v3.75l-3.25,1.88-3.25-1.88v-3.75l3.25-1.88zM700.7,248.01v3.75l-3.25,1.88-3.25-1.88v-3.75l3.25-1.88zM707.2,248.01v3.75l-3.25,1.88-3.25-1.88v-3.75l3.25-1.88zM713.7,248.01v3.75l-3.25,1.88-3.25-1.88v-3.75l3.25-1.88zM720.2,248.01v3.75l-3.25,1.88-3.25-1.88v-3.75l3.25-1.88zM726.7,248.01v3.75l-3.25,1.88-3.25-1.88v-3.75l3.25-1.88zM733.2,248.01v3.75l-3.25,1.88-3.25-1.88v-3.75l3.25-1.88zM79.95,253.65v3.75l-3.25,1.88-3.25-1.88v-3.75l3.25-1.88zM86.45,253.65v3.75l-3.25,1.88-3.25-1.88v-3.75l3.25-1.88zM92.95,253.65v3.75l-3.25,1.88-3.25-1.88v-3.75l3.25-1.88zM99.45,253.65v3.75l-3.25,1.88-3.25-1.88v-3.75l3.25-1.88zM105.95,253.65v3.75l-3.25,1.88-3.25-1.88v-3.75l3.25-1.88zM112.45,253.65v3.75l-3.25,1.88-3.25-1.88v-3.75l3.25-1.88zM118.95,253.65v3.75l-3.25,1.88-3.25-1.88v-3.75l3.25-1.88zM125.45,253.65v3.75l-3.25,1.88-3.25-1.88v-3.75l3.25-1.88zM131.95,253.65v3.75l-3.25,1.88-3.25-1.88v-3.75l3.25-1.88zM138.45,253.65v3.75l-3.25,1.88-3.25-1.88v-3.75l3.25-1.88zM144.95,253.65v3.75l-3.25,1.88-3.25-1.88v-3.75l3.25-1.88zM151.45,253.65v3.75l-3.25,1.88-3.25-1.88v-3.75l3.25-1.88zM157.95,253.65v3.75l-3.25,1.88-3.25-1.88v-3.75l3.25-1.88zM164.45,253.65v3.75l-3.25,1.88-3.25-1.88v-3.75l3.25-1.88zM170.95,253.65v3.75l-3.25,1.88-3.25-1.88v-3.75l3.25-1.88zM177.45,253.65v3.75l-3.25,1.88-3.25-1.88v-3.75l3.25-1.88zM183.95,253.65v3.75l-3.25,1.88-3.25-1.88v-3.75l3.25-1.88zM190.45,253.65v3.75l-3.25,1.88-3.25-1.88v-3.75l3.25-1.88zM196.95,253.65v3.75l-3.25,1.88-3.25-1.88v-3.75l3.25-1.88zM203.45,253.65v3.75l-3.25,1.88-3.25-1.88v-3.75l3.25-1.88zM209.95,253.65v3.75l-3.25,1.88-3.25-1.88v-3.75l3.25-1.88zM216.45,253.65v3.75l-3.25,1.88-3.25-1.88v-3.75l3.25-1.88zM222.95,253.65v3.75l-3.25,1.88-3.25-1.88v-3.75l3.25-1.88zM229.45,253.65v3.75l-3.25,1.88-3.25-1.88v-3.75l3.25-1.88zM235.95,253.65v3.75l-3.25,1.88-3.25-1.88v-3.75l3.25-1.88zM300.95,253.65v3.75l-3.25,1.88-3.25-1.88v-3.75l3.25-1.88zM307.45,253.65v3.75l-3.25,1.88-3.25-1.88v-3.75l3.25-1.88zM313.95,253.65v3.75l-3.25,1.88-3.25-1.88v-3.75l3.25-1.88zM320.45,253.65v3.75l-3.25,1.88-3.25-1.88v-3.75l3.25-1.88zM326.95,253.65v3.75l-3.25,1.88-3.25-1.88v-3.75l3.25-1.88zM333.45,253.65v3.75l-3.25,1.88-3.25-1.88v-3.75l3.25-1.88zM339.95,253.65v3.75l-3.25,1.88-3.25-1.88v-3.75l3.25-1.88zM346.45,253.65v3.75l-3.25,1.88-3.25-1.88v-3.75l3.25-1.88zM352.95,253.65v3.75l-3.25,1.88-3.25-1.88v-3.75l3.25-1.88zM359.45,253.65v3.75l-3.25,1.88-3.25-1.88v-3.75l3.25-1.88zM365.95,253.65v3.75l-3.25,1.88-3.25-1.88v-3.75l3.25-1.88zM372.45,253.65v3.75l-3.25,1.88-3.25-1.88v-3.75l3.25-1.88zM378.95,253.65v3.75l-3.25,1.88-3.25-1.88v-3.75l3.25-1.88zM385.45,253.65v3.75l-3.25,1.88-3.25-1.88v-3.75l3.25-1.88zM521.95,253.65v3.75l-3.25,1.88-3.25-1.88v-3.75l3.25-1.88zM528.45,253.65v3.75l-3.25,1.88-3.25-1.88v-3.75l3.25-1.88zM534.95,253.65v3.75l-3.25,1.88-3.25-1.88v-3.75l3.25-1.88zM541.45,253.65v3.75l-3.25,1.88-3.25-1.88v-3.75l3.25-1.88zM547.95,253.65v3.75l-3.25,1.88-3.25-1.88v-3.75l3.25-1.88zM554.45,253.65v3.75l-3.25,1.88-3.25-1.88v-3.75l3.25-1.88zM612.95,253.65v3.75l-3.25,1.88-3.25-1.88v-3.75l3.25-1.88zM619.45,253.65v3.75l-3.25,1.88-3.25-1.88v-3.75l3.25-1.88zM625.95,253.65v3.75l-3.25,1.88-3.25-1.88v-3.75l3.25-1.88zM632.45,253.65v3.75l-3.25,1.88-3.25-1.88v-3.75l3.25-1.88zM638.95,253.65v3.75l-3.25,1.88-3.25-1.88v-3.75l3.25-1.88zM645.45,253.65v3.75l-3.25,1.88-3.25-1.88v-3.75l3.25-1.88zM651.95,253.65v3.75l-3.25,1.88-3.25-1.88v-3.75l3.25-1.88zM658.45,253.65v3.75l-3.25,1.88-3.25-1.88v-3.75l3.25-1.88zM671.45,253.65v3.75l-3.25,1.88-3.25-1.88v-3.75l3.25-1.88zM677.95,253.65v3.75l-3.25,1.88-3.25-1.88v-3.75l3.25-1.88zM684.45,253.65v3.75l-3.25,1.88-3.25-1.88v-3.75l3.25-1.88zM690.95,253.65v3.75l-3.25,1.88-3.25-1.88v-3.75l3.25-1.88zM697.45,253.65v3.75l-3.25,1.88-3.25-1.88v-3.75l3.25-1.88zM703.95,253.65v3.75l-3.25,1.88-3.25-1.88v-3.75l3.25-1.88zM710.45,253.65v3.75l-3.25,1.88-3.25-1.88v-3.75l3.25-1.88zM716.95,253.65v3.75l-3.25,1.88-3.25-1.88v-3.75l3.25-1.88zM723.45,253.65v3.75l-3.25,1.88-3.25-1.88v-3.75l3.25-1.88zM729.95,253.65v3.75l-3.25,1.88-3.25-1.88v-3.75l3.25-1.88zM736.45,253.65v3.75l-3.25,1.88-3.25-1.88v-3.75l3.25-1.88zM76.7,259.28v3.75l-3.25,1.88-3.25-1.88v-3.75l3.25-1.88zM83.2,259.28v3.75l-3.25,1.88-3.25-1.88v-3.75l3.25-1.88zM89.7,259.28v3.75l-3.25,1.88-3.25-1.88v-3.75l3.25-1.88zM96.2,259.28v3.75l-3.25,1.88-3.25-1.88v-3.75l3.25-1.88zM102.7,259.28v3.75l-3.25,1.88-3.25-1.88v-3.75l3.25-1.88zM109.2,259.28v3.75l-3.25,1.88-3.25-1.88v-3.75l3.25-1.88zM115.7,259.28v3.75l-3.25,1.88-3.25-1.88v-3.75l3.25-1.88zM122.2,259.28v3.75l-3.25,1.88-3.25-1.88v-3.75l3.25-1.88zM128.7,259.28v3.75l-3.25,1.88-3.25-1.88v-3.75l3.25-1.88zM135.2,259.28v3.75l-3.25,1.88-3.25-1.88v-3.75l3.25-1.88zM141.7,259.28v3.75l-3.25,1.88-3.25-1.88v-3.75l3.25-1.88zM148.2,259.28v3.75l-3.25,1.88-3.25-1.88v-3.75l3.25-1.88zM154.7,259.28v3.75l-3.25,1.88-3.25-1.88v-3.75l3.25-1.88zM161.2,259.28v3.75l-3.25,1.88-3.25-1.88v-3.75l3.25-1.88zM167.7,259.28v3.75l-3.25,1.88-3.25-1.88v-3.75l3.25-1.88zM174.2,259.28v3.75l-3.25,1.88-3.25-1.88v-3.75l3.25-1.88zM180.7,259.28v3.75l-3.25,1.88-3.25-1.88v-3.75l3.25-1.88zM187.2,259.28v3.75l-3.25,1.88-3.25-1.88v-3.75l3.25-1.88zM193.7,259.28v3.75l-3.25,1.88-3.25-1.88v-3.75l3.25-1.88zM200.2,259.28v3.75l-3.25,1.88-3.25-1.88v-3.75l3.25-1.88zM226.2,259.28v3.75l-3.25,1.88-3.25-1.88v-3.75l3.25-1.88zM232.7,259.28v3.75l-3.25,1.88-3.25-1.88v-3.75l3.25-1.88zM304.2,259.28v3.75l-3.25,1.88-3.25-1.88v-3.75l3.25-1.88zM310.7,259.28v3.75l-3.25,1.88-3.25-1.88v-3.75l3.25-1.88zM317.2,259.28v3.75l-3.25,1.88-3.25-1.88v-3.75l3.25-1.88zM323.7,259.28v3.75l-3.25,1.88-3.25-1.88v-3.75l3.25-1.88zM330.2,259.28v3.75l-3.25,1.88-3.25-1.88v-3.75l3.25-1.88zM336.7,259.28v3.75l-3.25,1.88-3.25-1.88v-3.75l3.25-1.88zM343.2,259.28v3.75l-3.25,1.88-3.25-1.88v-3.75l3.25-1.88zM349.7,259.28v3.75l-3.25,1.88-3.25-1.88v-3.75l3.25-1.88zM356.2,259.28v3.75l-3.25,1.88-3.25-1.88v-3.75l3.25-1.88zM362.7,259.28v3.75l-3.25,1.88-3.25-1.88v-3.75l3.25-1.88zM369.2,259.28v3.75l-3.25,1.88-3.25-1.88v-3.75l3.25-1.88zM375.7,259.28v3.75l-3.25,1.88-3.25-1.88v-3.75l3.25-1.88zM382.2,259.28v3.75l-3.25,1.88-3.25-1.88v-3.75l3.25-1.88zM518.7,259.28v3.75l-3.25,1.88-3.25-1.88v-3.75l3.25-1.88zM525.2,259.28v3.75l-3.25,1.88-3.25-1.88v-3.75l3.25-1.88zM531.7,259.28v3.75l-3.25,1.88-3.25-1.88v-3.75l3.25-1.88zM538.2,259.28v3.75l-3.25,1.88-3.25-1.88v-3.75l3.25-1.88zM544.7,259.28v3.75l-3.25,1.88-3.25-1.88v-3.75l3.25-1.88zM551.2,259.28v3.75l-3.25,1.88-3.25-1.88v-3.75l3.25-1.88zM616.2,259.28v3.75l-3.25,1.88-3.25-1.88v-3.75l3.25-1.88zM622.7,259.28v3.75l-3.25,1.88-3.25-1.88v-3.75l3.25-1.88zM629.2,259.28v3.75l-3.25,1.88-3.25-1.88v-3.75l3.25-1.88zM635.7,259.28v3.75l-3.25,1.88-3.25-1.88v-3.75l3.25-1.88zM642.2,259.28v3.75l-3.25,1.88-3.25-1.88v-3.75l3.25-1.88zM648.7,259.28v3.75l-3.25,1.88-3.25-1.88v-3.75l3.25-1.88zM655.2,259.28v3.75l-3.25,1.88-3.25-1.88v-3.75l3.25-1.88zM674.7,259.28v3.75l-3.25,1.88-3.25-1.88v-3.75l3.25-1.88zM681.2,259.28v3.75l-3.25,1.88-3.25-1.88v-3.75l3.25-1.88zM687.7,259.28v3.75l-3.25,1.88-3.25-1.88v-3.75l3.25-1.88zM694.2,259.28v3.75l-3.25,1.88-3.25-1.88v-3.75l3.25-1.88zM700.7,259.28v3.75l-3.25,1.88-3.25-1.88v-3.75l3.25-1.88zM707.2,259.28v3.75l-3.25,1.88-3.25-1.88v-3.75l3.25-1.88zM713.7,259.28v3.75l-3.25,1.88-3.25-1.88v-3.75l3.25-1.88zM720.2,259.28v3.75l-3.25,1.88-3.25-1.88v-3.75l3.25-1.88zM726.7,259.28v3.75l-3.25,1.88-3.25-1.88v-3.75l3.25-1.88zM733.2,259.28v3.75l-3.25,1.88-3.25-1.88v-3.75l3.25-1.88zM66.95,264.91v3.75l-3.25,1.88-3.25-1.88v-3.75l3.25-1.88zM73.45,264.91v3.75l-3.25,1.88-3.25-1.88v-3.75l3.25-1.88zM79.95,264.91v3.75l-3.25,1.88-3.25-1.88v-3.75l3.25-1.88zM86.45,264.91v3.75l-3.25,1.88-3.25-1.88v-3.75l3.25-1.88zM92.95,264.91v3.75l-3.25,1.88-3.25-1.88v-3.75l3.25-1.88zM99.45,264.91v3.75l-3.25,1.88-3.25-1.88v-3.75l3.25-1.88zM105.95,264.91v3.75l-3.25,1.88-3.25-1.88v-3.75l3.25-1.88zM112.45,264.91v3.75l-3.25,1.88-3.25-1.88v-3.75l3.25-1.88zM118.95,264.91v3.75l-3.25,1.88-3.25-1.88v-3.75l3.25-1.88zM125.45,264.91v3.75l-3.25,1.88-3.25-1.88v-3.75l3.25-1.88zM131.95,264.91v3.75l-3.25,1.88-3.25-1.88v-3.75l3.25-1.88zM138.45,264.91v3.75l-3.25,1.88-3.25-1.88v-3.75l3.25-1.88zM144.95,264.91v3.75l-3.25,1.88-3.25-1.88v-3.75l3.25-1.88zM151.45,264.91v3.75l-3.25,1.88-3.25-1.88v-3.75l3.25-1.88zM157.95,264.91v3.75l-3.25,1.88-3.25-1.88v-3.75l3.25-1.88zM164.45,264.91v3.75l-3.25,1.88-3.25-1.88v-3.75l3.25-1.88zM170.95,264.91v3.75l-3.25,1.88-3.25-1.88v-3.75l3.25-1.88zM313.95,264.91v3.75l-3.25,1.88-3.25-1.88v-3.75l3.25-1.88zM320.45,264.91v3.75l-3.25,1.88-3.25-1.88v-3.75l3.25-1.88zM326.95,264.91v3.75l-3.25,1.88-3.25-1.88v-3.75l3.25-1.88zM333.45,264.91v3.75l-3.25,1.88-3.25-1.88v-3.75l3.25-1.88zM339.95,264.91v3.75l-3.25,1.88-3.25-1.88v-3.75l3.25-1.88zM346.45,264.91v3.75l-3.25,1.88-3.25-1.88v-3.75l3.25-1.88zM352.95,264.91v3.75l-3.25,1.88-3.25-1.88v-3.75l3.25-1.88zM359.45,264.91v3.75l-3.25,1.88-3.25-1.88v-3.75l3.25-1.88zM365.95,264.91v3.75l-3.25,1.88-3.25-1.88v-3.75l3.25-1.88zM372.45,264.91v3.75l-3.25,1.88-3.25-1.88v-3.75l3.25-1.88zM378.95,264.91v3.75l-3.25,1.88-3.25-1.88v-3.75l3.25-1.88zM385.45,264.91v3.75l-3.25,1.88-3.25-1.88v-3.75l3.25-1.88zM391.95,264.91v3.75l-3.25,1.88-3.25-1.88v-3.75l3.25-1.88zM521.95,264.91v3.75l-3.25,1.88-3.25-1.88v-3.75l3.25-1.88zM528.45,264.91v3.75l-3.25,1.88-3.25-1.88v-3.75l3.25-1.88zM534.95,264.91v3.75l-3.25,1.88-3.25-1.88v-3.75l3.25-1.88zM541.45,264.91v3.75l-3.25,1.88-3.25-1.88v-3.75l3.25-1.88zM547.95,264.91v3.75l-3.25,1.88-3.25-1.88v-3.75l3.25-1.88zM619.45,264.91v3.75l-3.25,1.88-3.25-1.88v-3.75l3.25-1.88zM625.95,264.91v3.75l-3.25,1.88-3.25-1.88v-3.75l3.25-1.88zM632.45,264.91v3.75l-3.25,1.88-3.25-1.88v-3.75l3.25-1.88zM638.95,264.91v3.75l-3.25,1.88-3.25-1.88v-3.75l3.25-1.88zM645.45,264.91v3.75l-3.25,1.88-3.25-1.88v-3.75l3.25-1.88zM651.95,264.91v3.75l-3.25,1.88-3.25-1.88v-3.75l3.25-1.88zM658.45,264.91v3.75l-3.25,1.88-3.25-1.88v-3.75l3.25-1.88zM671.45,264.91v3.75l-3.25,1.88-3.25-1.88v-3.75l3.25-1.88zM677.95,264.91v3.75l-3.25,1.88-3.25-1.88v-3.75l3.25-1.88zM684.45,264.91v3.75l-3.25,1.88-3.25-1.88v-3.75l3.25-1.88zM690.95,264.91v3.75l-3.25,1.88-3.25-1.88v-3.75l3.25-1.88zM697.45,264.91v3.75l-3.25,1.88-3.25-1.88v-3.75l3.25-1.88zM703.95,264.91v3.75l-3.25,1.88-3.25-1.88v-3.75l3.25-1.88zM710.45,264.91v3.75l-3.25,1.88-3.25-1.88v-3.75l3.25-1.88zM716.95,264.91v3.75l-3.25,1.88-3.25-1.88v-3.75l3.25-1.88zM723.45,264.91v3.75l-3.25,1.88-3.25-1.88v-3.75l3.25-1.88zM729.95,264.91v3.75l-3.25,1.88-3.25-1.88v-3.75l3.25-1.88zM736.45,264.91v3.75l-3.25,1.88-3.25-1.88v-3.75l3.25-1.88zM63.7,270.54v3.75l-3.25,1.88-3.25-1.88v-3.75l3.25-1.88zM70.2,270.54v3.75l-3.25,1.88-3.25-1.88v-3.75l3.25-1.88zM76.7,270.54v3.75l-3.25,1.88-3.25-1.88v-3.75l3.25-1.88zM83.2,270.54v3.75l-3.25,1.88-3.25-1.88v-3.75l3.25-1.88zM89.7,270.54v3.75l-3.25,1.88-3.25-1.88v-3.75l3.25-1.88zM96.2,270.54v3.75l-3.25,1.88-3.25-1.88v-3.75l3.25-1.88zM102.7,270.54v3.75l-3.25,1.88-3.25-1.88v-3.75l3.25-1.88zM109.2,270.54v3.75l-3.25,1.88-3.25-1.88v-3.75l3.25-1.88zM115.7,270.54v3.75l-3.25,1.88-3.25-1.88v-3.75l3.25-1.88zM122.2,270.54v3.75l-3.25,1.88-3.25-1.88v-3.75l3.25-1.88zM128.7,270.54v3.75l-3.25,1.88-3.25-1.88v-3.75l3.25-1.88zM135.2,270.54v3.75l-3.25,1.88-3.25-1.88v-3.75l3.25-1.88zM141.7,270.54v3.75l-3.25,1.88-3.25-1.88v-3.75l3.25-1.88zM148.2,270.54v3.75l-3.25,1.88-3.25-1.88v-3.75l3.25-1.88zM154.7,270.54v3.75l-3.25,1.88-3.25-1.88v-3.75l3.25-1.88zM161.2,270.54v3.75l-3.25,1.88-3.25-1.88v-3.75l3.25-1.88zM167.7,270.54v3.75l-3.25,1.88-3.25-1.88v-3.75l3.25-1.88zM323.7,270.54v3.75l-3.25,1.88-3.25-1.88v-3.75l3.25-1.88zM330.2,270.54v3.75l-3.25,1.88-3.25-1.88v-3.75l3.25-1.88zM336.7,270.54v3.75l-3.25,1.88-3.25-1.88v-3.75l3.25-1.88zM343.2,270.54v3.75l-3.25,1.88-3.25-1.88v-3.75l3.25-1.88zM349.7,270.54v3.75l-3.25,1.88-3.25-1.88v-3.75l3.25-1.88zM356.2,270.54v3.75l-3.25,1.88-3.25-1.88v-3.75l3.25-1.88zM362.7,270.54v3.75l-3.25,1.88-3.25-1.88v-3.75l3.25-1.88zM369.2,270.54v3.75l-3.25,1.88-3.25-1.88v-3.75l3.25-1.88zM375.7,270.54v3.75l-3.25,1.88-3.25-1.88v-3.75l3.25-1.88zM382.2,270.54v3.75l-3.25,1.88-3.25-1.88v-3.75l3.25-1.88zM388.7,270.54v3.75l-3.25,1.88-3.25-1.88v-3.75l3.25-1.88zM395.2,270.54v3.75l-3.25,1.88-3.25-1.88v-3.75l3.25-1.88zM518.7,270.54v3.75l-3.25,1.88-3.25-1.88v-3.75l3.25-1.88zM525.2,270.54v3.75l-3.25,1.88-3.25-1.88v-3.75l3.25-1.88zM531.7,270.54v3.75l-3.25,1.88-3.25-1.88v-3.75l3.25-1.88zM538.2,270.54v3.75l-3.25,1.88-3.25-1.88v-3.75l3.25-1.88zM544.7,270.54v3.75l-3.25,1.88-3.25-1.88v-3.75l3.25-1.88zM622.7,270.54v3.75l-3.25,1.88-3.25-1.88v-3.75l3.25-1.88zM629.2,270.54v3.75l-3.25,1.88-3.25-1.88v-3.75l3.25-1.88zM635.7,270.54v3.75l-3.25,1.88-3.25-1.88v-3.75l3.25-1.88zM642.2,270.54v3.75l-3.25,1.88-3.25-1.88v-3.75l3.25-1.88zM648.7,270.54v3.75l-3.25,1.88-3.25-1.88v-3.75l3.25-1.88zM655.2,270.54v3.75l-3.25,1.88-3.25-1.88v-3.75l3.25-1.88zM668.2,270.54v3.75l-3.25,1.88-3.25-1.88v-3.75l3.25-1.88zM674.7,270.54v3.75l-3.25,1.88-3.25-1.88v-3.75l3.25-1.88zM681.2,270.54v3.75l-3.25,1.88-3.25-1.88v-3.75l3.25-1.88zM687.7,270.54v3.75l-3.25,1.88-3.25-1.88v-3.75l3.25-1.88zM694.2,270.54v3.75l-3.25,1.88-3.25-1.88v-3.75l3.25-1.88zM700.7,270.54v3.75l-3.25,1.88-3.25-1.88v-3.75l3.25-1.88zM707.2,270.54v3.75l-3.25,1.88-3.25-1.88v-3.75l3.25-1.88zM713.7,270.54v3.75l-3.25,1.88-3.25-1.88v-3.75l3.25-1.88zM720.2,270.54v3.75l-3.25,1.88-3.25-1.88v-3.75l3.25-1.88zM726.7,270.54v3.75l-3.25,1.88-3.25-1.88v-3.75l3.25-1.88zM733.2,270.54v3.75l-3.25,1.88-3.25-1.88v-3.75l3.25-1.88zM66.95,276.18v3.75l-3.25,1.88-3.25-1.88v-3.75l3.25-1.88zM73.45,276.18v3.75l-3.25,1.88-3.25-1.88v-3.75l3.25-1.88zM79.95,276.18v3.75l-3.25,1.88-3.25-1.88v-3.75l3.25-1.88zM86.45,276.18v3.75l-3.25,1.88-3.25-1.88v-3.75l3.25-1.88zM92.95,276.18v3.75l-3.25,1.88-3.25-1.88v-3.75l3.25-1.88zM99.45,276.18v3.75l-3.25,1.88-3.25-1.88v-3.75l3.25-1.88zM105.95,276.18v3.75l-3.25,1.88-3.25-1.88v-3.75l3.25-1.88zM112.45,276.18v3.75l-3.25,1.88-3.25-1.88v-3.75l3.25-1.88zM118.95,276.18v3.75l-3.25,1.88-3.25-1.88v-3.75l3.25-1.88zM125.45,276.18v3.75l-3.25,1.88-3.25-1.88v-3.75l3.25-1.88zM131.95,276.18v3.75l-3.25,1.88-3.25-1.88v-3.75l3.25-1.88zM138.45,276.18v3.75l-3.25,1.88-3.25-1.88v-3.75l3.25-1.88zM144.95,276.18v3.75l-3.25,1.88-3.25-1.88v-3.75l3.25-1.88zM151.45,276.18v3.75l-3.25,1.88-3.25-1.88v-3.75l3.25-1.88zM157.95,276.18v3.75l-3.25,1.88-3.25-1.88v-3.75l3.25-1.88zM326.95,276.18v3.75l-3.25,1.88-3.25-1.88v-3.75l3.25-1.88zM333.45,276.18v3.75l-3.25,1.88-3.25-1.88v-3.75l3.25-1.88zM339.95,276.18v3.75l-3.25,1.88-3.25-1.88v-3.75l3.25-1.88zM346.45,276.18v3.75l-3.25,1.88-3.25-1.88v-3.75l3.25-1.88zM352.95,276.18v3.75l-3.25,1.88-3.25-1.88v-3.75l3.25-1.88zM359.45,276.18v3.75l-3.25,1.88-3.25-1.88v-3.75l3.25-1.88zM365.95,276.18v3.75l-3.25,1.88-3.25-1.88v-3.75l3.25-1.88zM372.45,276.18v3.75l-3.25,1.88-3.25-1.88v-3.75l3.25-1.88zM378.95,276.18v3.75l-3.25,1.88-3.25-1.88v-3.75l3.25-1.88zM385.45,276.18v3.75l-3.25,1.88-3.25-1.88v-3.75l3.25-1.88zM391.95,276.18v3.75l-3.25,1.88-3.25-1.88v-3.75l3.25-1.88zM398.45,276.18v3.75l-3.25,1.88-3.25-1.88v-3.75l3.25-1.88zM521.95,276.18v3.75l-3.25,1.88-3.25-1.88v-3.75l3.25-1.88zM528.45,276.18v3.75l-3.25,1.88-3.25-1.88v-3.75l3.25-1.88zM534.95,276.18v3.75l-3.25,1.88-3.25-1.88v-3.75l3.25-1.88zM541.45,276.18v3.75l-3.25,1.88-3.25-1.88v-3.75l3.25-1.88zM625.95,276.18v3.75l-3.25,1.88-3.25-1.88v-3.75l3.25-1.88zM632.45,276.18v3.75l-3.25,1.88-3.25-1.88v-3.75l3.25-1.88zM638.95,276.18v3.75l-3.25,1.88-3.25-1.88v-3.75l3.25-1.88zM645.45,276.18v3.75l-3.25,1.88-3.25-1.88v-3.75l3.25-1.88zM651.95,276.18v3.75l-3.25,1.88-3.25-1.88v-3.75l3.25-1.88zM664.95,276.18v3.75l-3.25,1.88-3.25-1.88v-3.75l3.25-1.88zM671.45,276.18v3.75l-3.25,1.88-3.25-1.88v-3.75l3.25-1.88zM677.95,276.18v3.75l-3.25,1.88-3.25-1.88v-3.75l3.25-1.88zM684.45,276.18v3.75l-3.25,1.88-3.25-1.88v-3.75l3.25-1.88zM690.95,276.18v3.75l-3.25,1.88-3.25-1.88v-3.75l3.25-1.88zM697.45,276.18v3.75l-3.25,1.88-3.25-1.88v-3.75l3.25-1.88zM703.95,276.18v3.75l-3.25,1.88-3.25-1.88v-3.75l3.25-1.88zM710.45,276.18v3.75l-3.25,1.88-3.25-1.88v-3.75l3.25-1.88zM716.95,276.18v3.75l-3.25,1.88-3.25-1.88v-3.75l3.25-1.88zM723.45,276.18v3.75l-3.25,1.88-3.25-1.88v-3.75l3.25-1.88zM729.95,276.18v3.75l-3.25,1.88-3.25-1.88v-3.75l3.25-1.88zM63.7,281.81v3.75l-3.25,1.88-3.25-1.88v-3.75l3.25-1.88zM70.2,281.81v3.75l-3.25,1.88-3.25-1.88v-3.75l3.25-1.88zM76.7,281.81v3.75l-3.25,1.88-3.25-1.88v-3.75l3.25-1.88zM83.2,281.81v3.75l-3.25,1.88-3.25-1.88v-3.75l3.25-1.88zM89.7,281.81v3.75l-3.25,1.88-3.25-1.88v-3.75l3.25-1.88zM96.2,281.81v3.75l-3.25,1.88-3.25-1.88v-3.75l3.25-1.88zM102.7,281.81v3.75l-3.25,1.88-3.25-1.88v-3.75l3.25-1.88zM109.2,281.81v3.75l-3.25,1.88-3.25-1.88v-3.75l3.25-1.88zM115.7,281.81v3.75l-3.25,1.88-3.25-1.88v-3.75l3.25-1.88zM122.2,281.81v3.75l-3.25,1.88-3.25-1.88v-3.75l3.25-1.88zM128.7,281.81v3.75l-3.25,1.88-3.25-1.88v-3.75l3.25-1.88zM135.2,281.81v3.75l-3.25,1.88-3.25-1.88v-3.75l3.25-1.88zM141.7,281.81v3.75l-3.25,1.88-3.25-1.88v-3.75l3.25-1.88zM148.2,281.81v3.75l-3.25,1.88-3.25-1.88v-3.75l3.25-1.88zM154.7,281.81v3.75l-3.25,1.88-3.25-1.88v-3.75l3.25-1.88zM356.2,281.81v3.75l-3.25,1.88-3.25-1.88v-3.75l3.25-1.88zM362.7,281.81v3.75l-3.25,1.88-3.25-1.88v-3.75l3.25-1.88zM369.2,281.81v3.75l-3.25,1.88-3.25-1.88v-3.75l3.25-1.88zM375.7,281.81v3.75l-3.25,1.88-3.25-1.88v-3.75l3.25-1.88zM382.2,281.81v3.75l-3.25,1.88-3.25-1.88v-3.75l3.25-1.88zM525.2,281.81v3.75l-3.25,1.88-3.25-1.88v-3.75l3.25-1.88zM629.2,281.81v3.75l-3.25,1.88-3.25-1.88v-3.75l3.25-1.88zM635.7,281.81v3.75l-3.25,1.88-3.25-1.88v-3.75l3.25-1.88zM642.2,281.81v3.75l-3.25,1.88-3.25-1.88v-3.75l3.25-1.88zM648.7,281.81v3.75l-3.25,1.88-3.25-1.88v-3.75l3.25-1.88zM661.7,281.81v3.75l-3.25,1.88-3.25-1.88v-3.75l3.25-1.88zM668.2,281.81v3.75l-3.25,1.88-3.25-1.88v-3.75l3.25-1.88zM674.7,281.81v3.75l-3.25,1.88-3.25-1.88v-3.75l3.25-1.88zM681.2,281.81v3.75l-3.25,1.88-3.25-1.88v-3.75l3.25-1.88zM687.7,281.81v3.75l-3.25,1.88-3.25-1.88v-3.75l3.25-1.88zM694.2,281.81v3.75l-3.25,1.88-3.25-1.88v-3.75l3.25-1.88zM700.7,281.81v3.75l-3.25,1.88-3.25-1.88v-3.75l3.25-1.88zM707.2,281.81v3.75l-3.25,1.88-3.25-1.88v-3.75l3.25-1.88zM713.7,281.81v3.75l-3.25,1.88-3.25-1.88v-3.75l3.25-1.88zM720.2,281.81v3.75l-3.25,1.88-3.25-1.88v-3.75l3.25-1.88zM726.7,281.81v3.75l-3.25,1.88-3.25-1.88v-3.75l3.25-1.88zM66.95,287.44v3.75l-3.25,1.88-3.25-1.88v-3.75l3.25-1.88zM73.45,287.44v3.75l-3.25,1.88-3.25-1.88v-3.75l3.25-1.88zM79.95,287.44v3.75l-3.25,1.88-3.25-1.88v-3.75l3.25-1.88zM86.45,287.44v3.75l-3.25,1.88-3.25-1.88v-3.75l3.25-1.88zM92.95,287.44v3.75l-3.25,1.88-3.25-1.88v-3.75l3.25-1.88zM99.45,287.44v3.75l-3.25,1.88-3.25-1.88v-3.75l3.25-1.88zM105.95,287.44v3.75l-3.25,1.88-3.25-1.88v-3.75l3.25-1.88zM112.45,287.44v3.75l-3.25,1.88-3.25-1.88v-3.75l3.25-1.88zM118.95,287.44v3.75l-3.25,1.88-3.25-1.88v-3.75l3.25-1.88zM125.45,287.44v3.75l-3.25,1.88-3.25-1.88v-3.75l3.25-1.88zM131.95,287.44v3.75l-3.25,1.88-3.25-1.88v-3.75l3.25-1.88zM138.45,287.44v3.75l-3.25,1.88-3.25-1.88v-3.75l3.25-1.88zM144.95,287.44v3.75l-3.25,1.88-3.25-1.88v-3.75l3.25-1.88zM151.45,287.44v3.75l-3.25,1.88-3.25-1.88v-3.75l3.25-1.88zM359.45,287.44v3.75l-3.25,1.88-3.25-1.88v-3.75l3.25-1.88zM365.95,287.44v3.75l-3.25,1.88-3.25-1.88v-3.75l3.25-1.88zM632.45,287.44v3.75l-3.25,1.88-3.25-1.88v-3.75l3.25-1.88zM638.95,287.44v3.75l-3.25,1.88-3.25-1.88v-3.75l3.25-1.88zM645.45,287.44v3.75l-3.25,1.88-3.25-1.88v-3.75l3.25-1.88zM651.95,287.44v3.75l-3.25,1.88-3.25-1.88v-3.75l3.25-1.88zM658.45,287.44v3.75l-3.25,1.88-3.25-1.88v-3.75l3.25-1.88zM664.95,287.44v3.75l-3.25,1.88-3.25-1.88v-3.75l3.25-1.88zM671.45,287.44v3.75l-3.25,1.88-3.25-1.88v-3.75l3.25-1.88zM677.95,287.44v3.75l-3.25,1.88-3.25-1.88v-3.75l3.25-1.88zM684.45,287.44v3.75l-3.25,1.88-3.25-1.88v-3.75l3.25-1.88zM690.95,287.44v3.75l-3.25,1.88-3.25-1.88v-3.75l3.25-1.88zM697.45,287.44v3.75l-3.25,1.88-3.25-1.88v-3.75l3.25-1.88zM703.95,287.44v3.75l-3.25,1.88-3.25-1.88v-3.75l3.25-1.88zM710.45,287.44v3.75l-3.25,1.88-3.25-1.88v-3.75l3.25-1.88zM716.95,287.44v3.75l-3.25,1.88-3.25-1.88v-3.75l3.25-1.88zM723.45,287.44v3.75l-3.25,1.88-3.25-1.88v-3.75l3.25-1.88zM63.7,293.08v3.75l-3.25,1.88-3.25-1.88v-3.75l3.25-1.88zM70.2,293.08v3.75l-3.25,1.88-3.25-1.88v-3.75l3.25-1.88zM76.7,293.08v3.75l-3.25,1.88-3.25-1.88v-3.75l3.25-1.88zM83.2,293.08v3.75l-3.25,1.88-3.25-1.88v-3.75l3.25-1.88zM89.7,293.08v3.75l-3.25,1.88-3.25-1.88v-3.75l3.25-1.88zM96.2,293.08v3.75l-3.25,1.88-3.25-1.88v-3.75l3.25-1.88zM102.7,293.08v3.75l-3.25,1.88-3.25-1.88v-3.75l3.25-1.88zM109.2,293.08v3.75l-3.25,1.88-3.25-1.88v-3.75l3.25-1.88zM115.7,293.08v3.75l-3.25,1.88-3.25-1.88v-3.75l3.25-1.88zM122.2,293.08v3.75l-3.25,1.88-3.25-1.88v-3.75l3.25-1.88zM128.7,293.08v3.75l-3.25,1.88-3.25-1.88v-3.75l3.25-1.88zM135.2,293.08v3.75l-3.25,1.88-3.25-1.88v-3.75l3.25-1.88zM141.7,293.08v3.75l-3.25,1.88-3.25-1.88v-3.75l3.25-1.88zM148.2,293.08v3.75l-3.25,1.88-3.25-1.88v-3.75l3.25-1.88zM154.7,293.08v3.75l-3.25,1.88-3.25-1.88v-3.75l3.25-1.88zM635.7,293.08v3.75l-3.25,1.88-3.25-1.88v-3.75l3.25-1.88zM642.2,293.08v3.75l-3.25,1.88-3.25-1.88v-3.75l3.25-1.88zM648.7,293.08v3.75l-3.25,1.88-3.25-1.88v-3.75l3.25-1.88zM655.2,293.08v3.75l-3.25,1.88-3.25-1.88v-3.75l3.25-1.88zM661.7,293.08v3.75l-3.25,1.88-3.25-1.88v-3.75l3.25-1.88zM668.2,293.08v3.75l-3.25,1.88-3.25-1.88v-3.75l3.25-1.88zM674.7,293.08v3.75l-3.25,1.88-3.25-1.88v-3.75l3.25-1.88zM681.2,293.08v3.75l-3.25,1.88-3.25-1.88v-3.75l3.25-1.88zM687.7,293.08v3.75l-3.25,1.88-3.25-1.88v-3.75l3.25-1.88zM694.2,293.08v3.75l-3.25,1.88-3.25-1.88v-3.75l3.25-1.88zM700.7,293.08v3.75l-3.25,1.88-3.25-1.88v-3.75l3.25-1.88zM707.2,293.08v3.75l-3.25,1.88-3.25-1.88v-3.75l3.25-1.88zM713.7,293.08v3.75l-3.25,1.88-3.25-1.88v-3.75l3.25-1.88zM720.2,293.08v3.75l-3.25,1.88-3.25-1.88v-3.75l3.25-1.88zM60.45,298.71v3.75l-3.25,1.88-3.25-1.88v-3.75l3.25-1.88zM66.95,298.71v3.75l-3.25,1.88-3.25-1.88v-3.75l3.25-1.88zM73.45,298.71v3.75l-3.25,1.88-3.25-1.88v-3.75l3.25-1.88zM79.95,298.71v3.75l-3.25,1.88-3.25-1.88v-3.75l3.25-1.88zM86.45,298.71v3.75l-3.25,1.88-3.25-1.88v-3.75l3.25-1.88zM92.95,298.71v3.75l-3.25,1.88-3.25-1.88v-3.75l3.25-1.88zM99.45,298.71v3.75l-3.25,1.88-3.25-1.88v-3.75l3.25-1.88zM105.95,298.71v3.75l-3.25,1.88-3.25-1.88v-3.75l3.25-1.88zM112.45,298.71v3.75l-3.25,1.88-3.25-1.88v-3.75l3.25-1.88zM118.95,298.71v3.75l-3.25,1.88-3.25-1.88v-3.75l3.25-1.88zM125.45,298.71v3.75l-3.25,1.88-3.25-1.88v-3.75l3.25-1.88zM144.95,298.71v3.75l-3.25,1.88-3.25-1.88v-3.75l3.25-1.88zM151.45,298.71v3.75l-3.25,1.88-3.25-1.88v-3.75l3.25-1.88zM157.95,298.71v3.75l-3.25,1.88-3.25-1.88v-3.75l3.25-1.88zM203.45,298.71v3.75l-3.25,1.88-3.25-1.88v-3.75l3.25-1.88zM229.45,298.71v3.75l-3.25,1.88-3.25-1.88v-3.75l3.25-1.88zM632.45,298.71v3.75l-3.25,1.88-3.25-1.88v-3.75l3.25-1.88zM638.95,298.71v3.75l-3.25,1.88-3.25-1.88v-3.75l3.25-1.88zM645.45,298.71v3.75l-3.25,1.88-3.25-1.88v-3.75l3.25-1.88zM651.95,298.71v3.75l-3.25,1.88-3.25-1.88v-3.75l3.25-1.88zM658.45,298.71v3.75l-3.25,1.88-3.25-1.88v-3.75l3.25-1.88zM664.95,298.71v3.75l-3.25,1.88-3.25-1.88v-3.75l3.25-1.88zM671.45,298.71v3.75l-3.25,1.88-3.25-1.88v-3.75l3.25-1.88zM677.95,298.71v3.75l-3.25,1.88-3.25-1.88v-3.75l3.25-1.88zM684.45,298.71v3.75l-3.25,1.88-3.25-1.88v-3.75l3.25-1.88zM690.95,298.71v3.75l-3.25,1.88-3.25-1.88v-3.75l3.25-1.88zM697.45,298.71v3.75l-3.25,1.88-3.25-1.88v-3.75l3.25-1.88zM703.95,298.71v3.75l-3.25,1.88-3.25-1.88v-3.75l3.25-1.88zM710.45,298.71v3.75l-3.25,1.88-3.25-1.88v-3.75l3.25-1.88zM716.95,298.71v3.75l-3.25,1.88-3.25-1.88v-3.75l3.25-1.88zM57.2,304.34v3.75l-3.25,1.88-3.25-1.88v-3.75l3.25-1.88zM63.7,304.34v3.75l-3.25,1.88-3.25-1.88v-3.75l3.25-1.88zM70.2,304.34v3.75l-3.25,1.88-3.25-1.88v-3.75l3.25-1.88zM76.7,304.34v3.75l-3.25,1.88-3.25-1.88v-3.75l3.25-1.88zM83.2,304.34v3.75l-3.25,1.88-3.25-1.88v-3.75l3.25-1.88zM89.7,304.34v3.75l-3.25,1.88-3.25-1.88v-3.75l3.25-1.88zM96.2,304.34v3.75l-3.25,1.88-3.25-1.88v-3.75l3.25-1.88zM102.7,304.34v3.75l-3.25,1.88-3.25-1.88v-3.75l3.25-1.88zM109.2,304.34v3.75l-3.25,1.88-3.25-1.88v-3.75l3.25-1.88zM115.7,304.34v3.75l-3.25,1.88-3.25-1.88v-3.75l3.25-1.88zM122.2,304.34v3.75l-3.25,1.88-3.25-1.88v-3.75l3.25-1.88zM148.2,304.34v3.75l-3.25,1.88-3.25-1.88v-3.75l3.25-1.88zM154.7,304.34v3.75l-3.25,1.88-3.25-1.88v-3.75l3.25-1.88zM161.2,304.34v3.75l-3.25,1.88-3.25-1.88v-3.75l3.25-1.88zM167.7,304.34v3.75l-3.25,1.88-3.25-1.88v-3.75l3.25-1.88zM174.2,304.34v3.75l-3.25,1.88-3.25-1.88v-3.75l3.25-1.88zM200.2,304.34v3.75l-3.25,1.88-3.25-1.88v-3.75l3.25-1.88zM226.2,304.34v3.75l-3.25,1.88-3.25-1.88v-3.75l3.25-1.88zM232.7,304.34v3.75l-3.25,1.88-3.25-1.88v-3.75l3.25-1.88zM629.2,304.34v3.75l-3.25,1.88-3.25-1.88v-3.75l3.25-1.88zM635.7,304.34v3.75l-3.25,1.88-3.25-1.88v-3.75l3.25-1.88zM642.2,304.34v3.75l-3.25,1.88-3.25-1.88v-3.75l3.25-1.88zM648.7,304.34v3.75l-3.25,1.88-3.25-1.88v-3.75l3.25-1.88zM655.2,304.34v3.75l-3.25,1.88-3.25-1.88v-3.75l3.25-1.88zM661.7,304.34v3.75l-3.25,1.88-3.25-1.88v-3.75l3.25-1.88zM668.2,304.34v3.75l-3.25,1.88-3.25-1.88v-3.75l3.25-1.88zM674.7,304.34v3.75l-3.25,1.88-3.25-1.88v-3.75l3.25-1.88zM681.2,304.34v3.75l-3.25,1.88-3.25-1.88v-3.75l3.25-1.88zM687.7,304.34v3.75l-3.25,1.88-3.25-1.88v-3.75l3.25-1.88zM694.2,304.34v3.75l-3.25,1.88-3.25-1.88v-3.75l3.25-1.88zM700.7,304.34v3.75l-3.25,1.88-3.25-1.88v-3.75l3.25-1.88zM707.2,304.34v3.75l-3.25,1.88-3.25-1.88v-3.75l3.25-1.88zM713.7,304.34v3.75l-3.25,1.88-3.25-1.88v-3.75l3.25-1.88zM720.2,304.34v3.75l-3.25,1.88-3.25-1.88v-3.75l3.25-1.88zM53.95,309.98v3.75l-3.25,1.88-3.25-1.88v-3.75l3.25-1.88zM60.45,309.98v3.75l-3.25,1.88-3.25-1.88v-3.75l3.25-1.88zM66.95,309.98v3.75l-3.25,1.88-3.25-1.88v-3.75l3.25-1.88zM73.45,309.98v3.75l-3.25,1.88-3.25-1.88v-3.75l3.25-1.88zM79.95,309.98v3.75l-3.25,1.88-3.25-1.88v-3.75l3.25-1.88zM86.45,309.98v3.75l-3.25,1.88-3.25-1.88v-3.75l3.25-1.88zM92.95,309.98v3.75l-3.25,1.88-3.25-1.88v-3.75l3.25-1.88zM99.45,309.98v3.75l-3.25,1.88-3.25-1.88v-3.75l3.25-1.88zM105.95,309.98v3.75l-3.25,1.88-3.25-1.88v-3.75l3.25-1.88zM112.45,309.98v3.75l-3.25,1.88-3.25-1.88v-3.75l3.25-1.88zM118.95,309.98v3.75l-3.25,1.88-3.25-1.88v-3.75l3.25-1.88zM125.45,309.98v3.75l-3.25,1.88-3.25-1.88v-3.75l3.25-1.88zM144.95,309.98v3.75l-3.25,1.88-3.25-1.88v-3.75l3.25-1.88zM151.45,309.98v3.75l-3.25,1.88-3.25-1.88v-3.75l3.25-1.88zM157.95,309.98v3.75l-3.25,1.88-3.25-1.88v-3.75l3.25-1.88zM164.45,309.98v3.75l-3.25,1.88-3.25-1.88v-3.75l3.25-1.88zM170.95,309.98v3.75l-3.25,1.88-3.25-1.88v-3.75l3.25-1.88zM177.45,309.98v3.75l-3.25,1.88-3.25-1.88v-3.75l3.25-1.88zM196.95,309.98v3.75l-3.25,1.88-3.25-1.88v-3.75l3.25-1.88zM222.95,309.98v3.75l-3.25,1.88-3.25-1.88v-3.75l3.25-1.88zM229.45,309.98v3.75l-3.25,1.88-3.25-1.88v-3.75l3.25-1.88zM619.45,309.98v3.75l-3.25,1.88-3.25-1.88v-3.75l3.25-1.88zM625.95,309.98v3.75l-3.25,1.88-3.25-1.88v-3.75l3.25-1.88zM632.45,309.98v3.75l-3.25,1.88-3.25-1.88v-3.75l3.25-1.88zM638.95,309.98v3.75l-3.25,1.88-3.25-1.88v-3.75l3.25-1.88zM645.45,309.98v3.75l-3.25,1.88-3.25-1.88v-3.75l3.25-1.88zM651.95,309.98v3.75l-3.25,1.88-3.25-1.88v-3.75l3.25-1.88zM658.45,309.98v3.75l-3.25,1.88-3.25-1.88v-3.75l3.25-1.88zM664.95,309.98v3.75l-3.25,1.88-3.25-1.88v-3.75l3.25-1.88zM671.45,309.98v3.75l-3.25,1.88-3.25-1.88v-3.75l3.25-1.88zM677.95,309.98v3.75l-3.25,1.88-3.25-1.88v-3.75l3.25-1.88zM684.45,309.98v3.75l-3.25,1.88-3.25-1.88v-3.75l3.25-1.88zM690.95,309.98v3.75l-3.25,1.88-3.25-1.88v-3.75l3.25-1.88zM697.45,309.98v3.75l-3.25,1.88-3.25-1.88v-3.75l3.25-1.88zM703.95,309.98v3.75l-3.25,1.88-3.25-1.88v-3.75l3.25-1.88zM710.45,309.98v3.75l-3.25,1.88-3.25-1.88v-3.75l3.25-1.88zM716.95,309.98v3.75l-3.25,1.88-3.25-1.88v-3.75l3.25-1.88zM723.45,309.98v3.75l-3.25,1.88-3.25-1.88v-3.75l3.25-1.88zM57.2,315.61v3.75l-3.25,1.88-3.25-1.88v-3.75l3.25-1.88zM63.7,315.61v3.75l-3.25,1.88-3.25-1.88v-3.75l3.25-1.88zM70.2,315.61v3.75l-3.25,1.88-3.25-1.88v-3.75l3.25-1.88zM76.7,315.61v3.75l-3.25,1.88-3.25-1.88v-3.75l3.25-1.88zM83.2,315.61v3.75l-3.25,1.88-3.25-1.88v-3.75l3.25-1.88zM89.7,315.61v3.75l-3.25,1.88-3.25-1.88v-3.75l3.25-1.88zM96.2,315.61v3.75l-3.25,1.88-3.25-1.88v-3.75l3.25-1.88zM102.7,315.61v3.75l-3.25,1.88-3.25-1.88v-3.75l3.25-1.88zM109.2,315.61v3.75l-3.25,1.88-3.25-1.88v-3.75l3.25-1.88zM115.7,315.61v3.75l-3.25,1.88-3.25-1.88v-3.75l3.25-1.88zM122.2,315.61v3.75l-3.25,1.88-3.25-1.88v-3.75l3.25-1.88zM128.7,315.61v3.75l-3.25,1.88-3.25-1.88v-3.75l3.25-1.88zM135.2,315.61v3.75l-3.25,1.88-3.25-1.88v-3.75l3.25-1.88zM141.7,315.61v3.75l-3.25,1.88-3.25-1.88v-3.75l3.25-1.88zM148.2,315.61v3.75l-3.25,1.88-3.25-1.88v-3.75l3.25-1.88zM154.7,315.61v3.75l-3.25,1.88-3.25-1.88v-3.75l3.25-1.88zM161.2,315.61v3.75l-3.25,1.88-3.25-1.88v-3.75l3.25-1.88zM167.7,315.61v3.75l-3.25,1.88-3.25-1.88v-3.75l3.25-1.88zM174.2,315.61v3.75l-3.25,1.88-3.25-1.88v-3.75l3.25-1.88zM180.7,315.61v3.75l-3.25,1.88-3.25-1.88v-3.75l3.25-1.88zM232.7,315.61v3.75l-3.25,1.88-3.25-1.88v-3.75l3.25-1.88zM616.2,315.61v3.75l-3.25,1.88-3.25-1.88v-3.75l3.25-1.88zM622.7,315.61v3.75l-3.25,1.88-3.25-1.88v-3.75l3.25-1.88zM629.2,315.61v3.75l-3.25,1.88-3.25-1.88v-3.75l3.25-1.88zM635.7,315.61v3.75l-3.25,1.88-3.25-1.88v-3.75l3.25-1.88zM642.2,315.61v3.75l-3.25,1.88-3.25-1.88v-3.75l3.25-1.88zM648.7,315.61v3.75l-3.25,1.88-3.25-1.88v-3.75l3.25-1.88zM655.2,315.61v3.75l-3.25,1.88-3.25-1.88v-3.75l3.25-1.88zM661.7,315.61v3.75l-3.25,1.88-3.25-1.88v-3.75l3.25-1.88zM668.2,315.61v3.75l-3.25,1.88-3.25-1.88v-3.75l3.25-1.88zM674.7,315.61v3.75l-3.25,1.88-3.25-1.88v-3.75l3.25-1.88zM681.2,315.61v3.75l-3.25,1.88-3.25-1.88v-3.75l3.25-1.88zM687.7,315.61v3.75l-3.25,1.88-3.25-1.88v-3.75l3.25-1.88zM694.2,315.61v3.75l-3.25,1.88-3.25-1.88v-3.75l3.25-1.88zM700.7,315.61v3.75l-3.25,1.88-3.25-1.88v-3.75l3.25-1.88zM707.2,315.61v3.75l-3.25,1.88-3.25-1.88v-3.75l3.25-1.88zM713.7,315.61v3.75l-3.25,1.88-3.25-1.88v-3.75l3.25-1.88zM720.2,315.61v3.75l-3.25,1.88-3.25-1.88v-3.75l3.25-1.88zM726.7,315.61v3.75l-3.25,1.88-3.25-1.88v-3.75l3.25-1.88zM53.95,321.24v3.75l-3.25,1.88-3.25-1.88v-3.75l3.25-1.88zM60.45,321.24v3.75l-3.25,1.88-3.25-1.88v-3.75l3.25-1.88zM66.95,321.24v3.75l-3.25,1.88-3.25-1.88v-3.75l3.25-1.88zM73.45,321.24v3.75l-3.25,1.88-3.25-1.88v-3.75l3.25-1.88zM79.95,321.24v3.75l-3.25,1.88-3.25-1.88v-3.75l3.25-1.88zM86.45,321.24v3.75l-3.25,1.88-3.25-1.88v-3.75l3.25-1.88zM92.95,321.24v3.75l-3.25,1.88-3.25-1.88v-3.75l3.25-1.88zM99.45,321.24v3.75l-3.25,1.88-3.25-1.88v-3.75l3.25-1.88zM105.95,321.24v3.75l-3.25,1.88-3.25-1.88v-3.75l3.25-1.88zM112.45,321.24v3.75l-3.25,1.88-3.25-1.88v-3.75l3.25-1.88zM118.95,321.24v3.75l-3.25,1.88-3.25-1.88v-3.75l3.25-1.88zM125.45,321.24v3.75l-3.25,1.88-3.25-1.88v-3.75l3.25-1.88zM131.95,321.24v3.75l-3.25,1.88-3.25-1.88v-3.75l3.25-1.88zM138.45,321.24v3.75l-3.25,1.88-3.25-1.88v-3.75l3.25-1.88zM144.95,321.24v3.75l-3.25,1.88-3.25-1.88v-3.75l3.25-1.88zM151.45,321.24v3.75l-3.25,1.88-3.25-1.88v-3.75l3.25-1.88zM157.95,321.24v3.75l-3.25,1.88-3.25-1.88v-3.75l3.25-1.88zM164.45,321.24v3.75l-3.25,1.88-3.25-1.88v-3.75l3.25-1.88zM170.95,321.24v3.75l-3.25,1.88-3.25-1.88v-3.75l3.25-1.88zM177.45,321.24v3.75l-3.25,1.88-3.25-1.88v-3.75l3.25-1.88zM203.45,321.24v3.75l-3.25,1.88-3.25-1.88v-3.75l3.25-1.88zM209.95,321.24v3.75l-3.25,1.88-3.25-1.88v-3.75l3.25-1.88zM229.45,321.24v3.75l-3.25,1.88-3.25-1.88v-3.75l3.25-1.88zM235.95,321.24v3.75l-3.25,1.88-3.25-1.88v-3.75l3.25-1.88zM242.45,321.24v3.75l-3.25,1.88-3.25-1.88v-3.75l3.25-1.88zM612.95,321.24v3.75l-3.25,1.88-3.25-1.88v-3.75l3.25-1.88zM619.45,321.24v3.75l-3.25,1.88-3.25-1.88v-3.75l3.25-1.88zM625.95,321.24v3.75l-3.25,1.88-3.25-1.88v-3.75l3.25-1.88zM632.45,321.24v3.75l-3.25,1.88-3.25-1.88v-3.75l3.25-1.88zM638.95,321.24v3.75l-3.25,1.88-3.25-1.88v-3.75l3.25-1.88zM645.45,321.24v3.75l-3.25,1.88-3.25-1.88v-3.75l3.25-1.88zM651.95,321.24v3.75l-3.25,1.88-3.25-1.88v-3.75l3.25-1.88zM658.45,321.24v3.75l-3.25,1.88-3.25-1.88v-3.75l3.25-1.88zM664.95,321.24v3.75l-3.25,1.88-3.25-1.88v-3.75l3.25-1.88zM671.45,321.24v3.75l-3.25,1.88-3.25-1.88v-3.75l3.25-1.88zM677.95,321.24v3.75l-3.25,1.88-3.25-1.88v-3.75l3.25-1.88zM684.45,321.24v3.75l-3.25,1.88-3.25-1.88v-3.75l3.25-1.88zM690.95,321.24v3.75l-3.25,1.88-3.25-1.88v-3.75l3.25-1.88zM697.45,321.24v3.75l-3.25,1.88-3.25-1.88v-3.75l3.25-1.88zM703.95,321.24v3.75l-3.25,1.88-3.25-1.88v-3.75l3.25-1.88zM710.45,321.24v3.75l-3.25,1.88-3.25-1.88v-3.75l3.25-1.88zM716.95,321.24v3.75l-3.25,1.88-3.25-1.88v-3.75l3.25-1.88zM723.45,321.24v3.75l-3.25,1.88-3.25-1.88v-3.75l3.25-1.88zM50.7,326.87v3.75l-3.25,1.88-3.25-1.88v-3.75l3.25-1.88zM57.2,326.87v3.75l-3.25,1.88-3.25-1.88v-3.75l3.25-1.88zM63.7,326.87v3.75l-3.25,1.88-3.25-1.88v-3.75l3.25-1.88zM76.7,326.87v3.75l-3.25,1.88-3.25-1.88v-3.75l3.25-1.88zM96.2,326.87v3.75l-3.25,1.88-3.25-1.88v-3.75l3.25-1.88zM102.7,326.87v3.75l-3.25,1.88-3.25-1.88v-3.75l3.25-1.88zM109.2,326.87v3.75l-3.25,1.88-3.25-1.88v-3.75l3.25-1.88zM115.7,326.87v3.75l-3.25,1.88-3.25-1.88v-3.75l3.25-1.88zM122.2,326.87v3.75l-3.25,1.88-3.25-1.88v-3.75l3.25-1.88zM128.7,326.87v3.75l-3.25,1.88-3.25-1.88v-3.75l3.25-1.88zM135.2,326.87v3.75l-3.25,1.88-3.25-1.88v-3.75l3.25-1.88zM141.7,326.87v3.75l-3.25,1.88-3.25-1.88v-3.75l3.25-1.88zM148.2,326.87v3.75l-3.25,1.88-3.25-1.88v-3.75l3.25-1.88zM154.7,326.87v3.75l-3.25,1.88-3.25-1.88v-3.75l3.25-1.88zM161.2,326.87v3.75l-3.25,1.88-3.25-1.88v-3.75l3.25-1.88zM167.7,326.87v3.75l-3.25,1.88-3.25-1.88v-3.75l3.25-1.88zM174.2,326.87v3.75l-3.25,1.88-3.25-1.88v-3.75l3.25-1.88zM200.2,326.87v3.75l-3.25,1.88-3.25-1.88v-3.75l3.25-1.88zM206.7,326.87v3.75l-3.25,1.88-3.25-1.88v-3.75l3.25-1.88zM213.2,326.87v3.75l-3.25,1.88-3.25-1.88v-3.75l3.25-1.88zM219.7,326.87v3.75l-3.25,1.88-3.25-1.88v-3.75l3.25-1.88zM226.2,326.87v3.75l-3.25,1.88-3.25-1.88v-3.75l3.25-1.88zM232.7,326.87v3.75l-3.25,1.88-3.25-1.88v-3.75l3.25-1.88zM239.2,326.87v3.75l-3.25,1.88-3.25-1.88v-3.75l3.25-1.88zM245.7,326.87v3.75l-3.25,1.88-3.25-1.88v-3.75l3.25-1.88zM596.7,326.87v3.75l-3.25,1.88-3.25-1.88v-3.75l3.25-1.88zM603.2,326.87v3.75l-3.25,1.88-3.25-1.88v-3.75l3.25-1.88zM609.7,326.87v3.75l-3.25,1.88-3.25-1.88v-3.75l3.25-1.88zM616.2,326.87v3.75l-3.25,1.88-3.25-1.88v-3.75l3.25-1.88zM622.7,326.87v3.75l-3.25,1.88-3.25-1.88v-3.75l3.25-1.88zM629.2,326.87v3.75l-3.25,1.88-3.25-1.88v-3.75l3.25-1.88zM661.7,326.87v3.75l-3.25,1.88-3.25-1.88v-3.75l3.25-1.88zM668.2,326.87v3.75l-3.25,1.88-3.25-1.88v-3.75l3.25-1.88zM674.7,326.87v3.75l-3.25,1.88-3.25-1.88v-3.75l3.25-1.88zM681.2,326.87v3.75l-3.25,1.88-3.25-1.88v-3.75l3.25-1.88zM687.7,326.87v3.75l-3.25,1.88-3.25-1.88v-3.75l3.25-1.88zM694.2,326.87v3.75l-3.25,1.88-3.25-1.88v-3.75l3.25-1.88zM700.7,326.87v3.75l-3.25,1.88-3.25-1.88v-3.75l3.25-1.88zM47.45,332.51v3.75l-3.25,1.88-3.25-1.88v-3.75l3.25-1.88zM53.95,332.51v3.75l-3.25,1.88-3.25-1.88v-3.75l3.25-1.88zM60.45,332.51v3.75l-3.25,1.88-3.25-1.88v-3.75l3.25-1.88zM92.95,332.51v3.75l-3.25,1.88-3.25-1.88v-3.75l3.25-1.88zM99.45,332.51v3.75l-3.25,1.88-3.25-1.88v-3.75l3.25-1.88zM105.95,332.51v3.75l-3.25,1.88-3.25-1.88v-3.75l3.25-1.88zM112.45,332.51v3.75l-3.25,1.88-3.25-1.88v-3.75l3.25-1.88zM118.95,332.51v3.75l-3.25,1.88-3.25-1.88v-3.75l3.25-1.88zM125.45,332.51v3.75l-3.25,1.88-3.25-1.88v-3.75l3.25-1.88zM131.95,332.51v3.75l-3.25,1.88-3.25-1.88v-3.75l3.25-1.88zM138.45,332.51v3.75l-3.25,1.88-3.25-1.88v-3.75l3.25-1.88zM144.95,332.51v3.75l-3.25,1.88-3.25-1.88v-3.75l3.25-1.88zM151.45,332.51v3.75l-3.25,1.88-3.25-1.88v-3.75l3.25-1.88zM157.95,332.51v3.75l-3.25,1.88-3.25-1.88v-3.75l3.25-1.88zM190.45,332.51v3.75l-3.25,1.88-3.25-1.88v-3.75l3.25-1.88zM196.95,332.51v3.75l-3.25,1.88-3.25-1.88v-3.75l3.25-1.88zM203.45,332.51v3.75l-3.25,1.88-3.25-1.88v-3.75l3.25-1.88zM209.95,332.51v3.75l-3.25,1.88-3.25-1.88v-3.75l3.25-1.88zM216.45,332.51v3.75l-3.25,1.88-3.25-1.88v-3.75l3.25-1.88zM222.95,332.51v3.75l-3.25,1.88-3.25-1.88v-3.75l3.25-1.88zM229.45,332.51v3.75l-3.25,1.88-3.25-1.88v-3.75l3.25-1.88zM235.95,332.51v3.75l-3.25,1.88-3.25-1.88v-3.75l3.25-1.88zM242.45,332.51v3.75l-3.25,1.88-3.25-1.88v-3.75l3.25-1.88zM248.95,332.51v3.75l-3.25,1.88-3.25-1.88v-3.75l3.25-1.88zM593.45,332.51v3.75l-3.25,1.88-3.25-1.88v-3.75l3.25-1.88zM599.95,332.51v3.75l-3.25,1.88-3.25-1.88v-3.75l3.25-1.88zM606.45,332.51v3.75l-3.25,1.88-3.25-1.88v-3.75l3.25-1.88zM684.45,332.51v3.75l-3.25,1.88-3.25-1.88v-3.75l3.25-1.88zM690.95,332.51v3.75l-3.25,1.88-3.25-1.88v-3.75l3.25-1.88zM44.2,338.14v3.75l-3.25,1.88-3.25-1.88v-3.75l3.25-1.88zM50.7,338.14v3.75l-3.25,1.88-3.25-1.88v-3.75l3.25-1.88zM57.2,338.14v3.75l-3.25,1.88-3.25-1.88v-3.75l3.25-1.88zM63.7,338.14v3.75l-3.25,1.88-3.25-1.88v-3.75l3.25-1.88zM102.7,338.14v3.75l-3.25,1.88-3.25-1.88v-3.75l3.25-1.88zM109.2,338.14v3.75l-3.25,1.88-3.25-1.88v-3.75l3.25-1.88zM115.7,338.14v3.75l-3.25,1.88-3.25-1.88v-3.75l3.25-1.88zM122.2,338.14v3.75l-3.25,1.88-3.25-1.88v-3.75l3.25-1.88zM128.7,338.14v3.75l-3.25,1.88-3.25-1.88v-3.75l3.25-1.88zM135.2,338.14v3.75l-3.25,1.88-3.25-1.88v-3.75l3.25-1.88zM148.2,338.14v3.75l-3.25,1.88-3.25-1.88v-3.75l3.25-1.88zM154.7,338.14v3.75l-3.25,1.88-3.25-1.88v-3.75l3.25-1.88zM161.2,338.14v3.75l-3.25,1.88-3.25-1.88v-3.75l3.25-1.88zM174.2,338.14v3.75l-3.25,1.88-3.25-1.88v-3.75l3.25-1.88zM180.7,338.14v3.75l-3.25,1.88-3.25-1.88v-3.75l3.25-1.88zM187.2,338.14v3.75l-3.25,1.88-3.25-1.88v-3.75l3.25-1.88zM193.7,338.14v3.75l-3.25,1.88-3.25-1.88v-3.75l3.25-1.88zM206.7,338.14v3.75l-3.25,1.88-3.25-1.88v-3.75l3.25-1.88zM213.2,338.14v3.75l-3.25,1.88-3.25-1.88v-3.75l3.25-1.88zM219.7,338.14v3.75l-3.25,1.88-3.25-1.88v-3.75l3.25-1.88zM226.2,338.14v3.75l-3.25,1.88-3.25-1.88v-3.75l3.25-1.88zM232.7,338.14v3.75l-3.25,1.88-3.25-1.88v-3.75l3.25-1.88zM239.2,338.14v3.75l-3.25,1.88-3.25-1.88v-3.75l3.25-1.88zM245.7,338.14v3.75l-3.25,1.88-3.25-1.88v-3.75l3.25-1.88zM252.2,338.14v3.75l-3.25,1.88-3.25-1.88v-3.75l3.25-1.88zM583.7,338.14v3.75l-3.25,1.88-3.25-1.88v-3.75l3.25-1.88zM40.95,343.77v3.75l-3.25,1.88-3.25-1.88v-3.75l3.25-1.88zM47.45,343.77v3.75l-3.25,1.88-3.25-1.88v-3.75l3.25-1.88zM53.95,343.77v3.75l-3.25,1.88-3.25-1.88v-3.75l3.25-1.88zM60.45,343.77v3.75l-3.25,1.88-3.25-1.88v-3.75l3.25-1.88zM66.95,343.77v3.75l-3.25,1.88-3.25-1.88v-3.75l3.25-1.88zM99.45,343.77v3.75l-3.25,1.88-3.25-1.88v-3.75l3.25-1.88zM105.95,343.77v3.75l-3.25,1.88-3.25-1.88v-3.75l3.25-1.88zM112.45,343.77v3.75l-3.25,1.88-3.25-1.88v-3.75l3.25-1.88zM118.95,343.77v3.75l-3.25,1.88-3.25-1.88v-3.75l3.25-1.88zM125.45,343.77v3.75l-3.25,1.88-3.25-1.88v-3.75l3.25-1.88zM131.95,343.77v3.75l-3.25,1.88-3.25-1.88v-3.75l3.25-1.88zM138.45,343.77v3.75l-3.25,1.88-3.25-1.88v-3.75l3.25-1.88zM151.45,343.77v3.75l-3.25,1.88-3.25-1.88v-3.75l3.25-1.88zM157.95,343.77v3.75l-3.25,1.88-3.25-1.88v-3.75l3.25-1.88zM177.45,343.77v3.75l-3.25,1.88-3.25-1.88v-3.75l3.25-1.88zM196.95,343.77v3.75l-3.25,1.88-3.25-1.88v-3.75l3.25-1.88zM209.95,343.77v3.75l-3.25,1.88-3.25-1.88v-3.75l3.25-1.88zM216.45,343.77v3.75l-3.25,1.88-3.25-1.88v-3.75l3.25-1.88zM222.95,343.77v3.75l-3.25,1.88-3.25-1.88v-3.75l3.25-1.88zM229.45,343.77v3.75l-3.25,1.88-3.25-1.88v-3.75l3.25-1.88zM235.95,343.77v3.75l-3.25,1.88-3.25-1.88v-3.75l3.25-1.88zM242.45,343.77v3.75l-3.25,1.88-3.25-1.88v-3.75l3.25-1.88zM248.95,343.77v3.75l-3.25,1.88-3.25-1.88v-3.75l3.25-1.88zM268.45,343.77v3.75l-3.25,1.88-3.25-1.88v-3.75l3.25-1.88zM567.45,343.77v3.75l-3.25,1.88-3.25-1.88v-3.75l3.25-1.88zM44.2,349.41v3.75l-3.25,1.88-3.25-1.88v-3.75l3.25-1.88zM50.7,349.41v3.75l-3.25,1.88-3.25-1.88v-3.75l3.25-1.88zM57.2,349.41v3.75l-3.25,1.88-3.25-1.88v-3.75l3.25-1.88zM63.7,349.41v3.75l-3.25,1.88-3.25-1.88v-3.75l3.25-1.88zM70.2,349.41v3.75l-3.25,1.88-3.25-1.88v-3.75l3.25-1.88zM89.7,349.41v3.75l-3.25,1.88-3.25-1.88v-3.75l3.25-1.88zM96.2,349.41v3.75l-3.25,1.88-3.25-1.88v-3.75l3.25-1.88zM102.7,349.41v3.75l-3.25,1.88-3.25-1.88v-3.75l3.25-1.88zM109.2,349.41v3.75l-3.25,1.88-3.25-1.88v-3.75l3.25-1.88zM115.7,349.41v3.75l-3.25,1.88-3.25-1.88v-3.75l3.25-1.88zM122.2,349.41v3.75l-3.25,1.88-3.25-1.88v-3.75l3.25-1.88zM135.2,349.41v3.75l-3.25,1.88-3.25-1.88v-3.75l3.25-1.88zM154.7,349.41v3.75l-3.25,1.88-3.25-1.88v-3.75l3.25-1.88zM161.2,349.41v3.75l-3.25,1.88-3.25-1.88v-3.75l3.25-1.88zM200.2,349.41v3.75l-3.25,1.88-3.25-1.88v-3.75l3.25-1.88zM219.7,349.41v3.75l-3.25,1.88-3.25-1.88v-3.75l3.25-1.88zM226.2,349.41v3.75l-3.25,1.88-3.25-1.88v-3.75l3.25-1.88zM232.7,349.41v3.75l-3.25,1.88-3.25-1.88v-3.75l3.25-1.88zM239.2,349.41v3.75l-3.25,1.88-3.25-1.88v-3.75l3.25-1.88zM245.7,349.41v3.75l-3.25,1.88-3.25-1.88v-3.75l3.25-1.88zM252.2,349.41v3.75l-3.25,1.88-3.25-1.88v-3.75l3.25-1.88zM271.7,349.41v3.75l-3.25,1.88-3.25-1.88v-3.75l3.25-1.88zM40.95,355.04v3.75l-3.25,1.88-3.25-1.88v-3.75l3.25-1.88zM47.45,355.04v3.75l-3.25,1.88-3.25-1.88v-3.75l3.25-1.88zM53.95,355.04v3.75l-3.25,1.88-3.25-1.88v-3.75l3.25-1.88zM60.45,355.04v3.75l-3.25,1.88-3.25-1.88v-3.75l3.25-1.88zM66.95,355.04v3.75l-3.25,1.88-3.25-1.88v-3.75l3.25-1.88zM73.45,355.04v3.75l-3.25,1.88-3.25-1.88v-3.75l3.25-1.88zM105.95,355.04v3.75l-3.25,1.88-3.25-1.88v-3.75l3.25-1.88zM112.45,355.04v3.75l-3.25,1.88-3.25-1.88v-3.75l3.25-1.88zM118.95,355.04v3.75l-3.25,1.88-3.25-1.88v-3.75l3.25-1.88zM138.45,355.04v3.75l-3.25,1.88-3.25-1.88v-3.75l3.25-1.88zM255.45,355.04v3.75l-3.25,1.88-3.25-1.88v-3.75l3.25-1.88zM261.95,355.04v3.75l-3.25,1.88-3.25-1.88v-3.75l3.25-1.88zM37.7,360.67v3.75l-3.25,1.88-3.25-1.88v-3.75l3.25-1.88zM44.2,360.67v3.75l-3.25,1.88-3.25-1.88v-3.75l3.25-1.88zM50.7,360.67v3.75l-3.25,1.88-3.25-1.88v-3.75l3.25-1.88zM57.2,360.67v3.75l-3.25,1.88-3.25-1.88v-3.75l3.25-1.88zM63.7,360.67v3.75l-3.25,1.88-3.25-1.88v-3.75l3.25-1.88zM70.2,360.67v3.75l-3.25,1.88-3.25-1.88v-3.75l3.25-1.88zM76.7,360.67v3.75l-3.25,1.88-3.25-1.88v-3.75l3.25-1.88zM109.2,360.67v3.75l-3.25,1.88-3.25-1.88v-3.75l3.25-1.88zM115.7,360.67v3.75l-3.25,1.88-3.25-1.88v-3.75l3.25-1.88zM122.2,360.67v3.75l-3.25,1.88-3.25-1.88v-3.75l3.25-1.88zM473.2,360.67v3.75l-3.25,1.88-3.25-1.88v-3.75l3.25-1.88zM479.7,360.67v3.75l-3.25,1.88-3.25-1.88v-3.75l3.25-1.88zM486.2,360.67v3.75l-3.25,1.88-3.25-1.88v-3.75l3.25-1.88zM40.95,366.31v3.75l-3.25,1.88-3.25-1.88v-3.75l3.25-1.88zM47.45,366.31v3.75l-3.25,1.88-3.25-1.88v-3.75l3.25-1.88zM53.95,366.31v3.75l-3.25,1.88-3.25-1.88v-3.75l3.25-1.88zM60.45,366.31v3.75l-3.25,1.88-3.25-1.88v-3.75l3.25-1.88zM66.95,366.31v3.75l-3.25,1.88-3.25-1.88v-3.75l3.25-1.88zM73.45,366.31v3.75l-3.25,1.88-3.25-1.88v-3.75l3.25-1.88zM79.95,366.31v3.75l-3.25,1.88-3.25-1.88v-3.75l3.25-1.88zM118.95,366.31v3.75l-3.25,1.88-3.25-1.88v-3.75l3.25-1.88zM281.45,366.31v3.75l-3.25,1.88-3.25-1.88v-3.75l3.25-1.88zM463.45,366.31v3.75l-3.25,1.88-3.25-1.88v-3.75l3.25-1.88zM469.95,366.31v3.75l-3.25,1.88-3.25-1.88v-3.75l3.25-1.88zM476.45,366.31v3.75l-3.25,1.88-3.25-1.88v-3.75l3.25-1.88zM482.95,366.31v3.75l-3.25,1.88-3.25-1.88v-3.75l3.25-1.88zM44.2,371.94v3.75l-3.25,1.88-3.25-1.88v-3.75l3.25-1.88zM50.7,371.94v3.75l-3.25,1.88-3.25-1.88v-3.75l3.25-1.88zM57.2,371.94v3.75l-3.25,1.88-3.25-1.88v-3.75l3.25-1.88zM63.7,371.94v3.75l-3.25,1.88-3.25-1.88v-3.75l3.25-1.88zM70.2,371.94v3.75l-3.25,1.88-3.25-1.88v-3.75l3.25-1.88zM76.7,371.94v3.75l-3.25,1.88-3.25-1.88v-3.75l3.25-1.88zM83.2,371.94v3.75l-3.25,1.88-3.25-1.88v-3.75l3.25-1.88zM284.7,371.94v3.75l-3.25,1.88-3.25-1.88v-3.75l3.25-1.88zM460.2,371.94v3.75l-3.25,1.88-3.25-1.88v-3.75l3.25-1.88zM466.7,371.94v3.75l-3.25,1.88-3.25-1.88v-3.75l3.25-1.88zM473.2,371.94v3.75l-3.25,1.88-3.25-1.88v-3.75l3.25-1.88zM479.7,371.94v3.75l-3.25,1.88-3.25-1.88v-3.75l3.25-1.88zM486.2,371.94v3.75l-3.25,1.88-3.25-1.88v-3.75l3.25-1.88zM40.95,377.57v3.75l-3.25,1.88-3.25-1.88v-3.75l3.25-1.88zM47.45,377.57v3.75l-3.25,1.88-3.25-1.88v-3.75l3.25-1.88zM53.95,377.57v3.75l-3.25,1.88-3.25-1.88v-3.75l3.25-1.88zM60.45,377.57v3.75l-3.25,1.88-3.25-1.88v-3.75l3.25-1.88zM66.95,377.57v3.75l-3.25,1.88-3.25-1.88v-3.75l3.25-1.88zM73.45,377.57v3.75l-3.25,1.88-3.25-1.88v-3.75l3.25-1.88zM79.95,377.57v3.75l-3.25,1.88-3.25-1.88v-3.75l3.25-1.88zM86.45,377.57v3.75l-3.25,1.88-3.25-1.88v-3.75l3.25-1.88zM463.45,377.57v3.75l-3.25,1.88-3.25-1.88v-3.75l3.25-1.88zM469.95,377.57v3.75l-3.25,1.88-3.25-1.88v-3.75l3.25-1.88zM476.45,377.57v3.75l-3.25,1.88-3.25-1.88v-3.75l3.25-1.88zM482.95,377.57v3.75l-3.25,1.88-3.25-1.88v-3.75l3.25-1.88zM37.7,383.2v3.75l-3.25,1.88-3.25-1.88v-3.75l3.25-1.88zM44.2,383.2v3.75l-3.25,1.88-3.25-1.88v-3.75l3.25-1.88zM50.7,383.2v3.75l-3.25,1.88-3.25-1.88v-3.75l3.25-1.88zM57.2,383.2v3.75l-3.25,1.88-3.25-1.88v-3.75l3.25-1.88zM63.7,383.2v3.75l-3.25,1.88-3.25-1.88v-3.75l3.25-1.88zM70.2,383.2v3.75l-3.25,1.88-3.25-1.88v-3.75l3.25-1.88zM76.7,383.2v3.75l-3.25,1.88-3.25-1.88v-3.75l3.25-1.88zM83.2,383.2v3.75l-3.25,1.88-3.25-1.88v-3.75l3.25-1.88zM466.7,383.2v3.75l-3.25,1.88-3.25-1.88v-3.75l3.25-1.88zM473.2,383.2v3.75l-3.25,1.88-3.25-1.88v-3.75l3.25-1.88zM27.95,388.84v3.75l-3.25,1.88-3.25-1.88v-3.75l3.25-1.88zM34.45,388.84v3.75l-3.25,1.88-3.25-1.88v-3.75l3.25-1.88zM40.95,388.84v3.75l-3.25,1.88-3.25-1.88v-3.75l3.25-1.88zM47.45,388.84v3.75l-3.25,1.88-3.25-1.88v-3.75l3.25-1.88zM53.95,388.84v3.75l-3.25,1.88-3.25-1.88v-3.75l3.25-1.88zM60.45,388.84v3.75l-3.25,1.88-3.25-1.88v-3.75l3.25-1.88zM66.95,388.84v3.75l-3.25,1.88-3.25-1.88v-3.75l3.25-1.88zM73.45,388.84v3.75l-3.25,1.88-3.25-1.88v-3.75l3.25-1.88zM24.7,394.47v3.75l-3.25,1.88-3.25-1.88v-3.75l3.25-1.88zM31.2,394.47v3.75l-3.25,1.88-3.25-1.88v-3.75l3.25-1.88zM37.7,394.47v3.75l-3.25,1.88-3.25-1.88v-3.75l3.25-1.88zM44.2,394.47v3.75l-3.25,1.88-3.25-1.88v-3.75l3.25-1.88zM50.7,394.47v3.75l-3.25,1.88-3.25-1.88v-3.75l3.25-1.88zM57.2,394.47v3.75l-3.25,1.88-3.25-1.88v-3.75l3.25-1.88zM63.7,394.47v3.75l-3.25,1.88-3.25-1.88v-3.75l3.25-1.88zM70.2,394.47v3.75l-3.25,1.88-3.25-1.88v-3.75l3.25-1.88zM323.7,394.47v3.75l-3.25,1.88-3.25-1.88v-3.75l3.25-1.88zM434.2,394.47v3.75l-3.25,1.88-3.25-1.88v-3.75l3.25-1.88zM27.95,400.1v3.75l-3.25,1.88-3.25-1.88v-3.75l3.25-1.88zM34.45,400.1v3.75l-3.25,1.88-3.25-1.88v-3.75l3.25-1.88zM40.95,400.1v3.75l-3.25,1.88-3.25-1.88v-3.75l3.25-1.88zM47.45,400.1v3.75l-3.25,1.88-3.25-1.88v-3.75l3.25-1.88zM53.95,400.1v3.75l-3.25,1.88-3.25-1.88v-3.75l3.25-1.88zM60.45,400.1v3.75l-3.25,1.88-3.25-1.88v-3.75l3.25-1.88zM66.95,400.1v3.75l-3.25,1.88-3.25-1.88v-3.75l3.25-1.88zM333.45,400.1v3.75l-3.25,1.88-3.25-1.88v-3.75l3.25-1.88zM430.95,400.1v3.75l-3.25,1.88-3.25-1.88v-3.75l3.25-1.88zM437.45,400.1v3.75l-3.25,1.88-3.25-1.88v-3.75l3.25-1.88zM24.7,405.74v3.75l-3.25,1.88-3.25-1.88v-3.75l3.25-1.88zM31.2,405.74v3.75l-3.25,1.88-3.25-1.88v-3.75l3.25-1.88zM37.7,405.74v3.75l-3.25,1.88-3.25-1.88v-3.75l3.25-1.88zM44.2,405.74v3.75l-3.25,1.88-3.25-1.88v-3.75l3.25-1.88zM50.7,405.74v3.75l-3.25,1.88-3.25-1.88v-3.75l3.25-1.88zM57.2,405.74v3.75l-3.25,1.88-3.25-1.88v-3.75l3.25-1.88zM63.7,405.74v3.75l-3.25,1.88-3.25-1.88v-3.75l3.25-1.88zM401.7,405.74v3.75l-3.25,1.88-3.25-1.88v-3.75l3.25-1.88zM421.2,405.74v3.75l-3.25,1.88-3.25-1.88v-3.75l3.25-1.88zM427.7,405.74v3.75l-3.25,1.88-3.25-1.88v-3.75l3.25-1.88zM27.95,411.37v3.75l-3.25,1.88-3.25-1.88v-3.75l3.25-1.88zM34.45,411.37v3.75l-3.25,1.88-3.25-1.88v-3.75l3.25-1.88zM40.95,411.37v3.75l-3.25,1.88-3.25-1.88v-3.75l3.25-1.88zM47.45,411.37v3.75l-3.25,1.88-3.25-1.88v-3.75l3.25-1.88zM352.95,411.37v3.75l-3.25,1.88-3.25-1.88v-3.75l3.25-1.88zM31.2,417v3.75l-3.25,1.88-3.25-1.88v-3.75l3.25-1.88zM37.7,417v3.75l-3.25,1.88-3.25-1.88v-3.75l3.25-1.88zM27.95,422.64v3.75l-3.25,1.88-3.25-1.88v-3.75l3.25-1.88zM34.45,422.64v3.75l-3.25,1.88-3.25-1.88v-3.75l3.25-1.88zM24.7,428.27v3.75l-3.25,1.88-3.25-1.88v-3.75l3.25-1.88zM31.2,428.27v3.75l-3.25,1.88-3.25-1.88v-3.75l3.25-1.88zM21.45,433.9v3.75l-3.25,1.88-3.25-1.88v-3.75l3.25-1.88zM27.95,433.9v3.75l-3.25,1.88-3.25-1.88v-3.75l3.25-1.88zM24.7,439.53v3.75l-3.25,1.88-3.25-1.88v-3.75l3.25-1.88zM31.2,439.53v3.75l-3.25,1.88-3.25-1.88v-3.75l3.25-1.88zM21.45,445.17v3.75l-3.25,1.88-3.25-1.88v-3.75l3.25-1.88zM27.95,445.17v3.75l-3.25,1.88-3.25-1.88v-3.75l3.25-1.88zM34.45,445.17v3.75l-3.25,1.88-3.25-1.88v-3.75l3.25-1.88zM18.2,450.8v3.75l-3.25,1.88-3.25-1.88v-3.75l3.25-1.88zM24.7,450.8v3.75l-3.25,1.88-3.25-1.88v-3.75l3.25-1.88zM31.2,450.8v3.75l-3.25,1.88-3.25-1.88v-3.75l3.25-1.88zM37.7,450.8v3.75l-3.25,1.88-3.25-1.88v-3.75l3.25-1.88zM27.95,456.43v3.75l-3.25,1.88-3.25-1.88v-3.75l3.25-1.88zM34.45,456.43v3.75l-3.25,1.88-3.25-1.88v-3.75l3.25-1.88zM268.45,377.57v3.75l-3.25,1.88-3.25-1.88v-3.75l3.25-1.88zM265.2,383.2v3.75l-3.25,1.88-3.25-1.88v-3.75l3.25-1.88zM271.7,383.2v3.75l-3.25,1.88-3.25-1.88v-3.75l3.25-1.88zM278.2,383.2v3.75l-3.25,1.88-3.25-1.88v-3.75l3.25-1.88zM284.7,383.2v3.75l-3.25,1.88-3.25-1.88v-3.75l3.25-1.88zM268.45,388.84v3.75l-3.25,1.88-3.25-1.88v-3.75l3.25-1.88zM274.95,388.84v3.75l-3.25,1.88-3.25-1.88v-3.75l3.25-1.88zM281.45,388.84v3.75l-3.25,1.88-3.25-1.88v-3.75l3.25-1.88zM287.95,388.84v3.75l-3.25,1.88-3.25-1.88v-3.75l3.25-1.88zM294.45,388.84v3.75l-3.25,1.88-3.25-1.88v-3.75l3.25-1.88zM300.95,388.84v3.75l-3.25,1.88-3.25-1.88v-3.75l3.25-1.88zM278.2,394.47v3.75l-3.25,1.88-3.25-1.88v-3.75l3.25-1.88zM284.7,394.47v3.75l-3.25,1.88-3.25-1.88v-3.75l3.25-1.88zM291.2,394.47v3.75l-3.25,1.88-3.25-1.88v-3.75l3.25-1.88zM297.7,394.47v3.75l-3.25,1.88-3.25-1.88v-3.75l3.25-1.88zM287.95,400.1v3.75l-3.25,1.88-3.25-1.88v-3.75l3.25-1.88zM294.45,400.1v3.75l-3.25,1.88-3.25-1.88v-3.75l3.25-1.88zM395.2,417v3.75l-3.25,1.88-3.25-1.88v-3.75l3.25-1.88zM401.7,417v3.75l-3.25,1.88-3.25-1.88v-3.75l3.25-1.88zM408.2,417v3.75l-3.25,1.88-3.25-1.88v-3.75l3.25-1.88zM391.95,422.64v3.75l-3.25,1.88-3.25-1.88v-3.75l3.25-1.88zM398.45,422.64v3.75l-3.25,1.88-3.25-1.88v-3.75l3.25-1.88zM404.95,422.64v3.75l-3.25,1.88-3.25-1.88v-3.75l3.25-1.88zM359.45,422.64v3.75l-3.25,1.88-3.25-1.88v-3.75l3.25-1.88zM365.95,422.64v3.75l-3.25,1.88-3.25-1.88v-3.75l3.25-1.88zM372.45,422.64v3.75l-3.25,1.88-3.25-1.88v-3.75l3.25-1.88zM362.7,428.27v3.75l-3.25,1.88-3.25-1.88v-3.75l3.25-1.88zM369.2,428.27v3.75l-3.25,1.88-3.25-1.88v-3.75l3.25-1.88zM391.95,433.9v3.75l-3.25,1.88-3.25-1.88v-3.75l3.25-1.88zM398.45,433.9v3.75l-3.25,1.88-3.25-1.88v-3.75l3.25-1.88zM404.95,433.9v3.75l-3.25,1.88-3.25-1.88v-3.75l3.25-1.88zM411.45,433.9v3.75l-3.25,1.88-3.25-1.88v-3.75l3.25-1.88zM417.95,433.9v3.75l-3.25,1.88-3.25-1.88v-3.75l3.25-1.88zM424.45,433.9v3.75l-3.25,1.88-3.25-1.88v-3.75l3.25-1.88zM388.7,439.53v3.75l-3.25,1.88-3.25-1.88v-3.75l3.25-1.88zM395.2,439.53v3.75l-3.25,1.88-3.25-1.88v-3.75l3.25-1.88zM401.7,439.53v3.75l-3.25,1.88-3.25-1.88v-3.75l3.25-1.88zM408.2,439.53v3.75l-3.25,1.88-3.25-1.88v-3.75l3.25-1.88zM414.7,439.53v3.75l-3.25,1.88-3.25-1.88v-3.75l3.25-1.88zM385.45,445.17v3.75l-3.25,1.88-3.25-1.88v-3.75l3.25-1.88zM391.95,445.17v3.75l-3.25,1.88-3.25-1.88v-3.75l3.25-1.88zM398.45,445.17v3.75l-3.25,1.88-3.25-1.88v-3.75l3.25-1.88zM404.95,445.17v3.75l-3.25,1.88-3.25-1.88v-3.75l3.25-1.88zM411.45,445.17v3.75l-3.25,1.88-3.25-1.88v-3.75l3.25-1.88zM395.2,450.8v3.75l-3.25,1.88-3.25-1.88v-3.75l3.25-1.88zM401.7,450.8v3.75l-3.25,1.88-3.25-1.88v-3.75l3.25-1.88zM408.2,450.8v3.75l-3.25,1.88-3.25-1.88v-3.75l3.25-1.88zM398.45,456.43v3.75l-3.25,1.88-3.25-1.88v-3.75l3.25-1.88zM434.2,405.74v3.75l-3.25,1.88-3.25-1.88v-3.75l3.25-1.88zM417.95,411.37v3.75l-3.25,1.88-3.25-1.88v-3.75l3.25-1.88zM430.95,411.37v3.75l-3.25,1.88-3.25-1.88v-3.75l3.25-1.88z"/>
<path fill="#c2e699" stroke="rgba(120,120,120,0.12)" stroke-width="1" d="M382.2,90.29v3.75l-3.25,1.88-3.25-1.88v-3.75l3.25-1.88zM372.45,95.92v3.75l-3.25,1.88-3.25-1.88v-3.75l3.25-1.88zM378.95,95.92v3.75l-3.25,1.88-3.25-1.88v-3.75l3.25-1.88zM385.45,95.92v3.75l-3.25,1.88-3.25-1.88v-3.75l3.25-1.88zM375.7,101.55v3.75l-3.25,1.88-3.25-1.88v-3.75l3.25-1.88zM382.2,101.55v3.75l-3.25,1.88-3.25-1.88v-3.75l3.25-1.88zM388.7,101.55v3.75l-3.25,1.88-3.25-1.88v-3.75l3.25-1.88zM346.45,107.19v3.75l-3.25,1.88-3.25-1.88v-3.75l3.25-1.88zM352.95,107.19v3.75l-3.25,1.88-3.25-1.88v-3.75l3.25-1.88zM378.95,107.19v3.75l-3.25,1.88-3.25-1.88v-3.75l3.25-1.88zM385.45,107.19v3.75l-3.25,1.88-3.25-1.88v-3.75l3.25-1.88zM323.7,112.82v3.75l-3.25,1.88-3.25-1.88v-3.75l3.25-1.88zM343.2,112.82v3.75l-3.25,1.88-3.25-1.88v-3.75l3.25-1.88zM349.7,112.82v3.75l-3.25,1.88-3.25-1.88v-3.75l3.25-1.88zM382.2,112.82v3.75l-3.25,1.88-3.25-1.88v-3.75l3.25-1.88zM388.7,112.82v3.75l-3.25,1.88-3.25-1.88v-3.75l3.25-1.88zM395.2,112.82v3.75l-3.25,1.88-3.25-1.88v-3.75l3.25-1.88zM401.7,112.82v3.75l-3.25,1.88-3.25-1.88v-3.75l3.25-1.88zM408.2,112.82v3.75l-3.25,1.88-3.25-1.88v-3.75l3.25-1.88zM414.7,112.82v3.75l-3.25,1.88-3.25-1.88v-3.75l3.25-1.88zM313.95,118.45v3.75l-3.25,1.88-3.25-1.88v-3.75l3.25-1.88zM320.45,118.45v3.75l-3.25,1.88-3.25-1.88v-3.75l3.25-1.88zM326.95,118.45v3.75l-3.25,1.88-3.25-1.88v-3.75l3.25-1.88zM339.95,118.45v3.75l-3.25,1.88-3.25-1.88v-3.75l3.25-1.88zM385.45,118.45v3.75l-3.25,1.88-3.25-1.88v-3.75l3.25-1.88zM391.95,118.45v3.75l-3.25,1.88-3.25-1.88v-3.75l3.25-1.88zM398.45,118.45v3.75l-3.25,1.88-3.25-1.88v-3.75l3.25-1.88zM404.95,118.45v3.75l-3.25,1.88-3.25-1.88v-3.75l3.25-1.88zM411.45,118.45v3.75l-3.25,1.88-3.25-1.88v-3.75l3.25-1.88zM417.95,118.45v3.75l-3.25,1.88-3.25-1.88v-3.75l3.25-1.88zM304.2,124.09v3.75l-3.25,1.88-3.25-1.88v-3.75l3.25-1.88zM310.7,124.09v3.75l-3.25,1.88-3.25-1.88v-3.75l3.25-1.88zM317.2,124.09v3.75l-3.25,1.88-3.25-1.88v-3.75l3.25-1.88zM323.7,124.09v3.75l-3.25,1.88-3.25-1.88v-3.75l3.25-1.88zM388.7,124.09v3.75l-3.25,1.88-3.25-1.88v-3.75l3.25-1.88zM395.2,124.09v3.75l-3.25,1.88-3.25-1.88v-3.75l3.25-1.88zM401.7,124.09v3.75l-3.25,1.88-3.25-1.88v-3.75l3.25-1.88zM408.2,124.09v3.75l-3.25,1.88-3.25-1.88v-3.75l3.25-1.88zM414.7,124.09v3.75l-3.25,1.88-3.25-1.88v-3.75l3.25-1.88zM421.2,124.09v3.75l-3.25,1.88-3.25-1.88v-3.75l3.25-1.88zM294.45,129.72v3.75l-3.25,1.88-3.25-1.88v-3.75l3.25-1.88zM300.95,129.72v3.75l-3.25,1.88-3.25-1.88v-3.75l3.25-1.88zM307.45,129.72v3.75l-3.25,1.88-3.25-1.88v-3.75l3.25-1.88zM313.95,129.72v3.75l-3.25,1.88-3.25-1.88v-3.75l3.25-1.88zM385.45,129.72v3.75l-3.25,1.88-3.25-1.88v-3.75l3.25-1.88zM391.95,129.72v3.75l-3.25,1.88-3.25-1.88v-3.75l3.25-1.88zM398.45,129.72v3.75l-3.25,1.88-3.25-1.88v-3.75l3.25-1.88zM404.95,129.72v3.75l-3.25,1.88-3.25-1.88v-3.75l3.25-1.88zM411.45,129.72v3.75l-3.25,1.88-3.25-1.88v-3.75l3.25-1.88zM417.95,129.72v3.75l-3.25,1.88-3.25-1.88v-3.75l3.25-1.88zM304.2,135.35v3.75l-3.25,1.88-3.25-1.88v-3.75l3.25-1.88zM388.7,135.35v3.75l-3.25,1.88-3.25-1.88v-3.75l3.25-1.88zM395.2,135.35v3.75l-3.25,1.88-3.25-1.88v-3.75l3.25-1.88zM401.7,135.35v3.75l-3.25,1.88-3.25-1.88v-3.75l3.25-1.88zM408.2,135.35v3.75l-3.25,1.88-3.25-1.88v-3.75l3.25-1.88zM414.7,135.35v3.75l-3.25,1.88-3.25-1.88v-3.75l3.25-1.88zM421.2,135.35v3.75l-3.25,1.88-3.25-1.88v-3.75l3.25-1.88zM427.7,135.35v3.75l-3.25,1.88-3.25-1.88v-3.75l3.25-1.88zM385.45,140.99v3.75l-3.25,1.88-3.25-1.88v-3.75l3.25-1.88zM391.95,140.99v3.75l-3.25,1.88-3.25-1.88v-3.75l3.25-1.88zM398.45,140.99v3.75l-3.25,1.88-3.25-1.88v-3.75l3.25-1.88zM404.95,140.99v3.75l-3.25,1.88-3.25-1.88v-3.75l3.25-1.88zM411.45,140.99v3.75l-3.25,1.88-3.25-1.88v-3.75l3.25-1.88zM417.95,140.99v3.75l-3.25,1.88-3.25-1.88v-3.75l3.25-1.88zM424.45,140.99v3.75l-3.25,1.88-3.25-1.88v-3.75l3.25-1.88zM430.95,140.99v3.75l-3.25,1.88-3.25-1.88v-3.75l3.25-1.88zM388.7,146.62v3.75l-3.25,1.88-3.25-1.88v-3.75l3.25-1.88zM395.2,146.62v3.75l-3.25,1.88-3.25-1.88v-3.75l3.25-1.88zM401.7,146.62v3.75l-3.25,1.88-3.25-1.88v-3.75l3.25-1.88zM408.2,146.62v3.75l-3.25,1.88-3.25-1.88v-3.75l3.25-1.88zM414.7,146.62v3.75l-3.25,1.88-3.25-1.88v-3.75l3.25-1.88zM421.2,146.62v3.75l-3.25,1.88-3.25-1.88v-3.75l3.25-1.88zM427.7,146.62v3.75l-3.25,1.88-3.25-1.88v-3.75l3.25-1.88zM391.95,152.25v3.75l-3.25,1.88-3.25-1.88v-3.75l3.25-1.88zM398.45,152.25v3.75l-3.25,1.88-3.25-1.88v-3.75l3.25-1.88zM404.95,152.25v3.75l-3.25,1.88-3.25-1.88v-3.75l3.25-1.88zM411.45,152.25v3.75l-3.25,1.88-3.25-1.88v-3.75l3.25-1.88zM417.95,152.25v3.75l-3.25,1.88-3.25-1.88v-3.75l3.25-1.88zM388.7,157.88v3.75l-3.25,1.88-3.25-1.88v-3.75l3.25-1.88zM395.2,157.88v3.75l-3.25,1.88-3.25-1.88v-3.75l3.25-1.88zM401.7,157.88v3.75l-3.25,1.88-3.25-1.88v-3.75l3.25-1.88zM408.2,157.88v3.75l-3.25,1.88-3.25-1.88v-3.75l3.25-1.88zM414.7,157.88v3.75l-3.25,1.88-3.25-1.88v-3.75l3.25-1.88zM300.95,163.52v3.75l-3.25,1.88-3.25-1.88v-3.75l3.25-1.88zM307.45,163.52v3.75l-3.25,1.88-3.25-1.88v-3.75l3.25-1.88zM313.95,163.52v3.75l-3.25,1.88-3.25-1.88v-3.75l3.25-1.88zM320.45,163.52v3.75l-3.25,1.88-3.25-1.88v-3.75l3.25-1.88zM391.95,163.52v3.75l-3.25,1.88-3.25-1.88v-3.75l3.25-1.88zM398.45,163.52v3.75l-3.25,1.88-3.25-1.88v-3.75l3.25-1.88zM404.95,163.52v3.75l-3.25,1.88-3.25-1.88v-3.75l3.25-1.88zM515.45,163.52v3.75l-3.25,1.88-3.25-1.88v-3.75l3.25-1.88zM521.95,163.52v3.75l-3.25,1.88-3.25-1.88v-3.75l3.25-1.88zM304.2,169.15v3.75l-3.25,1.88-3.25-1.88v-3.75l3.25-1.88zM395.2,169.15v3.75l-3.25,1.88-3.25-1.88v-3.75l3.25-1.88zM466.7,169.15v3.75l-3.25,1.88-3.25-1.88v-3.75l3.25-1.88zM512.2,169.15v3.75l-3.25,1.88-3.25-1.88v-3.75l3.25-1.88zM518.7,169.15v3.75l-3.25,1.88-3.25-1.88v-3.75l3.25-1.88zM525.2,169.15v3.75l-3.25,1.88-3.25-1.88v-3.75l3.25-1.88zM531.7,169.15v3.75l-3.25,1.88-3.25-1.88v-3.75l3.25-1.88zM391.95,174.78v3.75l-3.25,1.88-3.25-1.88v-3.75l3.25-1.88zM463.45,174.78v3.75l-3.25,1.88-3.25-1.88v-3.75l3.25-1.88zM469.95,174.78v3.75l-3.25,1.88-3.25-1.88v-3.75l3.25-1.88zM508.95,174.78v3.75l-3.25,1.88-3.25-1.88v-3.75l3.25-1.88zM515.45,174.78v3.75l-3.25,1.88-3.25-1.88v-3.75l3.25-1.88zM521.95,174.78v3.75l-3.25,1.88-3.25-1.88v-3.75l3.25-1.88zM528.45,174.78v3.75l-3.25,1.88-3.25-1.88v-3.75l3.25-1.88zM534.95,174.78v3.75l-3.25,1.88-3.25-1.88v-3.75l3.25-1.88zM252.2,180.42v3.75l-3.25,1.88-3.25-1.88v-3.75l3.25-1.88zM258.7,180.42v3.75l-3.25,1.88-3.25-1.88v-3.75l3.25-1.88zM466.7,180.42v3.75l-3.25,1.88-3.25-1.88v-3.75l3.25-1.88zM473.2,180.42v3.75l-3.25,1.88-3.25-1.88v-3.75l3.25-1.88zM492.7,180.42v3.75l-3.25,1.88-3.25-1.88v-3.75l3.25-1.88zM499.2,180.42v3.75l-3.25,1.88-3.25-1.88v-3.75l3.25-1.88zM505.7,180.42v3.75l-3.25,1.88-3.25-1.88v-3.75l3.25-1.88zM512.2,180.42v3.75l-3.25,1.88-3.25-1.88v-3.75l3.25-1.88zM518.7,180.42v3.75l-3.25,1.88-3.25-1.88v-3.75l3.25-1.88zM525.2,180.42v3.75l-3.25,1.88-3.25-1.88v-3.75l3.25-1.88zM531.7,180.42v3.75l-3.25,1.88-3.25-1.88v-3.75l3.25-1.88zM538.2,180.42v3.75l-3.25,1.88-3.25-1.88v-3.75l3.25-1.88zM248.95,186.05v3.75l-3.25,1.88-3.25-1.88v-3.75l3.25-1.88zM255.45,186.05v3.75l-3.25,1.88-3.25-1.88v-3.75l3.25-1.88zM261.95,186.05v3.75l-3.25,1.88-3.25-1.88v-3.75l3.25-1.88zM469.95,186.05v3.75l-3.25,1.88-3.25-1.88v-3.75l3.25-1.88zM476.45,186.05v3.75l-3.25,1.88-3.25-1.88v-3.75l3.25-1.88zM482.95,186.05v3.75l-3.25,1.88-3.25-1.88v-3.75l3.25-1.88zM489.45,186.05v3.75l-3.25,1.88-3.25-1.88v-3.75l3.25-1.88zM495.95,186.05v3.75l-3.25,1.88-3.25-1.88v-3.75l3.25-1.88zM502.45,186.05v3.75l-3.25,1.88-3.25-1.88v-3.75l3.25-1.88zM508.95,186.05v3.75l-3.25,1.88-3.25-1.88v-3.75l3.25-1.88zM515.45,186.05v3.75l-3.25,1.88-3.25-1.88v-3.75l3.25-1.88zM521.95,186.05v3.75l-3.25,1.88-3.25-1.88v-3.75l3.25-1.88zM528.45,186.05v3.75l-3.25,1.88-3.25-1.88v-3.75l3.25-1.88zM534.95,186.05v3.75l-3.25,1.88-3.25-1.88v-3.75l3.25-1.88zM541.45,186.05v3.75l-3.25,1.88-3.25-1.88v-3.75l3.25-1.88zM252.2,191.68v3.75l-3.25,1.88-3.25-1.88v-3.75l3.25-1.88zM258.7,191.68v3.75l-3.25,1.88-3.25-1.88v-3.75l3.25-1.88zM401.7,191.68v3.75l-3.25,1.88-3.25-1.88v-3.75l3.25-1.88zM408.2,191.68v3.75l-3.25,1.88-3.25-1.88v-3.75l3.25-1.88zM414.7,191.68v3.75l-3.25,1.88-3.25-1.88v-3.75l3.25-1.88zM421.2,191.68v3.75l-3.25,1.88-3.25-1.88v-3.75l3.25-1.88zM466.7,191.68v3.75l-3.25,1.88-3.25-1.88v-3.75l3.25-1.88zM473.2,191.68v3.75l-3.25,1.88-3.25-1.88v-3.75l3.25-1.88zM479.7,191.68v3.75l-3.25,1.88-3.25-1.88v-3.75l3.25-1.88zM486.2,191.68v3.75l-3.25,1.88-3.25-1.88v-3.75l3.25-1.88zM492.7,191.68v3.75l-3.25,1.88-3.25-1.88v-3.75l3.25-1.88zM499.2,191.68v3.75l-3.25,1.88-3.25-1.88v-3.75l3.25-1.88zM505.7,191.68v3.75l-3.25,1.88-3.25-1.88v-3.75l3.25-1.88zM512.2,191.68v3.75l-3.25,1.88-3.25-1.88v-3.75l3.25-1.88zM518.7,191.68v3.75l-3.25,1.88-3.25-1.88v-3.75l3.25-1.88zM525.2,191.68v3.75l-3.25,1.88-3.25-1.88v-3.75l3.25-1.88zM531.7,191.68v3.75l-3.25,1.88-3.25-1.88v-3.75l3.25-1.88zM538.2,191.68v3.75l-3.25,1.88-3.25-1.88v-3.75l3.25-1.88zM248.95,197.32v3.75l-3.25,1.88-3.25-1.88v-3.75l3.25-1.88zM404.95,197.32v3.75l-3.25,1.88-3.25-1.88v-3.75l3.25-1.88zM411.45,197.32v3.75l-3.25,1.88-3.25-1.88v-3.75l3.25-1.88zM417.95,197.32v3.75l-3.25,1.88-3.25-1.88v-3.75l3.25-1.88zM424.45,197.32v3.75l-3.25,1.88-3.25-1.88v-3.75l3.25-1.88zM430.95,197.32v3.75l-3.25,1.88-3.25-1.88v-3.75l3.25-1.88zM443.95,197.32v3.75l-3.25,1.88-3.25-1.88v-3.75l3.25-1.88zM450.45,197.32v3.75l-3.25,1.88-3.25-1.88v-3.75l3.25-1.88zM456.95,197.32v3.75l-3.25,1.88-3.25-1.88v-3.75l3.25-1.88zM463.45,197.32v3.75l-3.25,1.88-3.25-1.88v-3.75l3.25-1.88zM469.95,197.32v3.75l-3.25,1.88-3.25-1.88v-3.75l3.25-1.88zM476.45,197.32v3.75l-3.25,1.88-3.25-1.88v-3.75l3.25-1.88zM482.95,197.32v3.75l-3.25,1.88-3.25-1.88v-3.75l3.25-1.88zM489.45,197.32v3.75l-3.25,1.88-3.25-1.88v-3.75l3.25-1.88zM495.95,197.32v3.75l-3.25,1.88-3.25-1.88v-3.75l3.25-1.88zM502.45,197.32v3.75l-3.25,1.88-3.25-1.88v-3.75l3.25-1.88zM508.95,197.32v3.75l-3.25,1.88-3.25-1.88v-3.75l3.25-1.88zM515.45,197.32v3.75l-3.25,1.88-3.25-1.88v-3.75l3.25-1.88zM521.95,197.32v3.75l-3.25,1.88-3.25-1.88v-3.75l3.25-1.88zM528.45,197.32v3.75l-3.25,1.88-3.25-1.88v-3.75l3.25-1.88zM534.95,197.32v3.75l-3.25,1.88-3.25-1.88v-3.75l3.25-1.88zM541.45,197.32v3.75l-3.25,1.88-3.25-1.88v-3.75l3.25-1.88zM245.7,202.95v3.75l-3.25,1.88-3.25-1.88v-3.75l3.25-1.88zM252.2,202.95v3.75l-3.25,1.88-3.25-1.88v-3.75l3.25-1.88zM278.2,202.95v3.75l-3.25,1.88-3.25-1.88v-3.75l3.25-1.88zM284.7,202.95v3.75l-3.25,1.88-3.25-1.88v-3.75l3.25-1.88zM291.2,202.95v3.75l-3.25,1.88-3.25-1.88v-3.75l3.25-1.88zM297.7,202.95v3.75l-3.25,1.88-3.25-1.88v-3.75l3.25-1.88zM408.2,202.95v3.75l-3.25,1.88-3.25-1.88v-3.75l3.25-1.88zM414.7,202.95v3.75l-3.25,1.88-3.25-1.88v-3.75l3.25-1.88zM421.2,202.95v3.75l-3.25,1.88-3.25-1.88v-3.75l3.25-1.88zM427.7,202.95v3.75l-3.25,1.88-3.25-1.88v-3.75l3.25-1.88zM434.2,202.95v3.75l-3.25,1.88-3.25-1.88v-3.75l3.25-1.88zM440.7,202.95v3.75l-3.25,1.88-3.25-1.88v-3.75l3.25-1.88zM447.2,202.95v3.75l-3.25,1.88-3.25-1.88v-3.75l3.25-1.88zM453.7,202.95v3.75l-3.25,1.88-3.25-1.88v-3.75l3.25-1.88zM460.2,202.95v3.75l-3.25,1.88-3.25-1.88v-3.75l3.25-1.88zM466.7,202.95v3.75l-3.25,1.88-3.25-1.88v-3.75l3.25-1.88zM473.2,202.95v3.75l-3.25,1.88-3.25-1.88v-3.75l3.25-1.88zM479.7,202.95v3.75l-3.25,1.88-3.25-1.88v-3.75l3.25-1.88zM486.2,202.95v3.75l-3.25,1.88-3.25-1.88v-3.75l3.25-1.88zM492.7,202.95v3.75l-3.25,1.88-3.25-1.88v-3.75l3.25-1.88zM499.2,202.95v3.75l-3.25,1.88-3.25-1.88v-3.75l3.25-1.88zM505.7,202.95v3.75l-3.25,1.88-3.25-1.88v-3.75l3.25-1.88zM512.2,202.95v3.75l-3.25,1.88-3.25-1.88v-3.75l3.25-1.88zM518.7,202.95v3.75l-3.25,1.88-3.25-1.88v-3.75l3.25-1.88zM525.2,202.95v3.75l-3.25,1.88-3.25-1.88v-3.75l3.25-1.88zM531.7,202.95v3.75l-3.25,1.88-3.25-1.88v-3.75l3.25-1.88zM242.45,208.58v3.75l-3.25,1.88-3.25-1.88v-3.75l3.25-1.88zM248.95,208.58v3.75l-3.25,1.88-3.25-1.88v-3.75l3.25-1.88zM255.45,208.58v3.75l-3.25,1.88-3.25-1.88v-3.75l3.25-1.88zM268.45,208.58v3.75l-3.25,1.88-3.25-1.88v-3.75l3.25-1.88zM274.95,208.58v3.75l-3.25,1.88-3.25-1.88v-3.75l3.25-1.88zM281.45,208.58v3.75l-3.25,1.88-3.25-1.88v-3.75l3.25-1.88zM287.95,208.58v3.75l-3.25,1.88-3.25-1.88v-3.75l3.25-1.88zM294.45,208.58v3.75l-3.25,1.88-3.25-1.88v-3.75l3.25-1.88zM300.95,208.58v3.75l-3.25,1.88-3.25-1.88v-3.75l3.25-1.88zM404.95,208.58v3.75l-3.25,1.88-3.25-1.88v-3.75l3.25-1.88zM411.45,208.58v3.75l-3.25,1.88-3.25-1.88v-3.75l3.25-1.88zM417.95,208.58v3.75l-3.25,1.88-3.25-1.88v-3.75l3.25-1.88zM424.45,208.58v3.75l-3.25,1.88-3.25-1.88v-3.75l3.25-1.88zM430.95,208.58v3.75l-3.25,1.88-3.25-1.88v-3.75l3.25-1.88zM437.45,208.58v3.75l-3.25,1.88-3.25-1.88v-3.75l3.25-1.88zM469.95,208.58v3.75l-3.25,1.88-3.25-1.88v-3.75l3.25-1.88zM476.45,208.58v3.75l-3.25,1.88-3.25-1.88v-3.75l3.25-1.88zM482.95,208.58v3.75l-3.25,1.88-3.25-1.88v-3.75l3.25-1.88zM489.45,208.58v3.75l-3.25,1.88-3.25-1.88v-3.75l3.25-1.88zM495.95,208.58v3.75l-3.25,1.88-3.25-1.88v-3.75l3.25-1.88zM502.45,208.58v3.75l-3.25,1.88-3.25-1.88v-3.75l3.25-1.88zM508.95,208.58v3.75l-3.25,1.88-3.25-1.88v-3.75l3.25-1.88zM515.45,208.58v3.75l-3.25,1.88-3.25-1.88v-3.75l3.25-1.88zM521.95,208.58v3.75l-3.25,1.88-3.25-1.88v-3.75l3.25-1.88zM239.2,214.21v3.75l-3.25,1.88-3.25-1.88v-3.75l3.25-1.88zM245.7,214.21v3.75l-3.25,1.88-3.25-1.88v-3.75l3.25-1.88zM265.2,214.21v3.75l-3.25,1.88-3.25-1.88v-3.75l3.25-1.88zM271.7,214.21v3.75l-3.25,1.88-3.25-1.88v-3.75l3.25-1.88zM278.2,214.21v3.75l-3.25,1.88-3.25-1.88v-3.75l3.25-1.88zM284.7,214.21v3.75l-3.25,1.88-3.25-1.88v-3.75l3.25-1.88zM291.2,214.21v3.75l-3.25,1.88-3.25-1.88v-3.75l3.25-1.88zM297.7,214.21v3.75l-3.25,1.88-3.25-1.88v-3.75l3.25-1.88zM304.2,214.21v3.75l-3.25,1.88-3.25-1.88v-3.75l3.25-1.88zM401.7,214.21v3.75l-3.25,1.88-3.25-1.88v-3.75l3.25-1.88zM408.2,214.21v3.75l-3.25,1.88-3.25-1.88v-3.75l3.25-1.88zM414.7,214.21v3.75l-3.25,1.88-3.25-1.88v-3.75l3.25-1.88zM427.7,214.21v3.75l-3.25,1.88-3.25-1.88v-3.75l3.25-1.88zM466.7,214.21v3.75l-3.25,1.88-3.25-1.88v-3.75l3.25-1.88zM473.2,214.21v3.75l-3.25,1.88-3.25-1.88v-3.75l3.25-1.88zM479.7,214.21v3.75l-3.25,1.88-3.25-1.88v-3.75l3.25-1.88zM486.2,214.21v3.75l-3.25,1.88-3.25-1.88v-3.75l3.25-1.88zM492.7,214.21v3.75l-3.25,1.88-3.25-1.88v-3.75l3.25-1.88zM499.2,214.21v3.75l-3.25,1.88-3.25-1.88v-3.75l3.25-1.88zM505.7,214.21v3.75l-3.25,1.88-3.25-1.88v-3.75l3.25-1.88zM512.2,214.21v3.75l-3.25,1.88-3.25-1.88v-3.75l3.25-1.88zM518.7,214.21v3.75l-3.25,1.88-3.25-1.88v-3.75l3.25-1.88zM525.2,214.21v3.75l-3.25,1.88-3.25-1.88v-3.75l3.25-1.88zM261.95,219.85v3.75l-3.25,1.88-3.25-1.88v-3.75l3.25-1.88zM268.45,219.85v3.75l-3.25,1.88-3.25-1.88v-3.75l3.25-1.88zM274.95,219.85v3.75l-3.25,1.88-3.25-1.88v-3.75l3.25-1.88zM281.45,219.85v3.75l-3.25,1.88-3.25-1.88v-3.75l3.25-1.88zM287.95,219.85v3.75l-3.25,1.88-3.25-1.88v-3.75l3.25-1.88zM294.45,219.85v3.75l-3.25,1.88-3.25-1.88v-3.75l3.25-1.88zM300.95,219.85v3.75l-3.25,1.88-3.25-1.88v-3.75l3.25-1.88zM307.45,219.85v3.75l-3.25,1.88-3.25-1.88v-3.75l3.25-1.88zM391.95,219.85v3.75l-3.25,1.88-3.25-1.88v-3.75l3.25-1.88zM398.45,219.85v3.75l-3.25,1.88-3.25-1.88v-3.75l3.25-1.88zM404.95,219.85v3.75l-3.25,1.88-3.25-1.88v-3.75l3.25-1.88zM411.45,219.85v3.75l-3.25,1.88-3.25-1.88v-3.75l3.25-1.88zM417.95,219.85v3.75l-3.25,1.88-3.25-1.88v-3.75l3.25-1.88zM424.45,219.85v3.75l-3.25,1.88-3.25-1.88v-3.75l3.25-1.88zM430.95,219.85v3.75l-3.25,1.88-3.25-1.88v-3.75l3.25-1.88zM437.45,219.85v3.75l-3.25,1.88-3.25-1.88v-3.75l3.25-1.88zM443.95,219.85v3.75l-3.25,1.88-3.25-1.88v-3.75l3.25-1.88zM450.45,219.85v3.75l-3.25,1.88-3.25-1.88v-3.75l3.25-1.88zM456.95,219.85v3.75l-3.25,1.88-3.25-1.88v-3.75l3.25-1.88zM463.45,219.85v3.75l-3.25,1.88-3.25-1.88v-3.75l3.25-1.88zM469.95,219.85v3.75l-3.25,1.88-3.25-1.88v-3.75l3.25-1.88zM476.45,219.85v3.75l-3.25,1.88-3.25-1.88v-3.75l3.25-1.88zM482.95,219.85v3.75l-3.25,1.88-3.25-1.88v-3.75l3.25-1.88zM489.45,219.85v3.75l-3.25,1.88-3.25-1.88v-3.75l3.25-1.88zM495.95,219.85v3.75l-3.25,1.88-3.25-1.88v-3.75l3.25-1.88zM502.45,219.85v3.75l-3.25,1.88-3.25-1.88v-3.75l3.25-1.88zM508.95,219.85v3.75l-3.25,1.88-3.25-1.88v-3.75l3.25-1.88zM515.45,219.85v3.75l-3.25,1.88-3.25-1.88v-3.75l3.25-1.88zM521.95,219.85v3.75l-3.25,1.88-3.25-1.88v-3.75l3.25-1.88zM541.45,219.85v3.75l-3.25,1.88-3.25-1.88v-3.75l3.25-1.88zM547.95,219.85v3.75l-3.25,1.88-3.25-1.88v-3.75l3.25-1.88zM586.95,219.85v3.75l-3.25,1.88-3.25-1.88v-3.75l3.25-1.88zM593.45,219.85v3.75l-3.25,1.88-3.25-1.88v-3.75l3.25-1.88zM599.95,219.85v3.75l-3.25,1.88-3.25-1.88v-3.75l3.25-1.88zM606.45,219.85v3.75l-3.25,1.88-3.25-1.88v-3.75l3.25-1.88zM265.2,225.48v3.75l-3.25,1.88-3.25-1.88v-3.75l3.25-1.88zM271.7,225.48v3.75l-3.25,1.88-3.25-1.88v-3.75l3.25-1.88zM278.2,225.48v3.75l-3.25,1.88-3.25-1.88v-3.75l3.25-1.88zM284.7,225.48v3.75l-3.25,1.88-3.25-1.88v-3.75l3.25-1.88zM291.2,225.48v3.75l-3.25,1.88-3.25-1.88v-3.75l3.25-1.88zM297.7,225.48v3.75l-3.25,1.88-3.25-1.88v-3.75l3.25-1.88zM304.2,225.48v3.75l-3.25,1.88-3.25-1.88v-3.75l3.25-1.88zM310.7,225.48v3.75l-3.25,1.88-3.25-1.88v-3.75l3.25-1.88zM388.7,225.48v3.75l-3.25,1.88-3.25-1.88v-3.75l3.25-1.88zM395.2,225.48v3.75l-3.25,1.88-3.25-1.88v-3.75l3.25-1.88zM401.7,225.48v3.75l-3.25,1.88-3.25-1.88v-3.75l3.25-1.88zM408.2,225.48v3.75l-3.25,1.88-3.25-1.88v-3.75l3.25-1.88zM414.7,225.48v3.75l-3.25,1.88-3.25-1.88v-3.75l3.25-1.88zM421.2,225.48v3.75l-3.25,1.88-3.25-1.88v-3.75l3.25-1.88zM427.7,225.48v3.75l-3.25,1.88-3.25-1.88v-3.75l3.25-1.88zM434.2,225.48v3.75l-3.25,1.88-3.25-1.88v-3.75l3.25-1.88zM440.7,225.48v3.75l-3.25,1.88-3.25-1.88v-3.75l3.25-1.88zM447.2,225.48v3.75l-3.25,1.88-3.25-1.88v-3.75l3.25-1.88zM453.7,225.48v3.75l-3.25,1.88-3.25-1.88v-3.75l3.25-1.88zM460.2,225.48v3.75l-3.25,1.88-3.25-1.88v-3.75l3.25-1.88zM466.7,225.48v3.75l-3.25,1.88-3.25-1.88v-3.75l3.25-1.88zM473.2,225.48v3.75l-3.25,1.88-3.25-1.88v-3.75l3.25-1.88zM479.7,225.48v3.75l-3.25,1.88-3.25-1.88v-3.75l3.25-1.88zM486.2,225.48v3.75l-3.25,1.88-3.25-1.88v-3.75l3.25-1.88zM492.7,225.48v3.75l-3.25,1.88-3.25-1.88v-3.75l3.25-1.88zM499.2,225.48v3.75l-3.25,1.88-3.25-1.88v-3.75l3.25-1.88zM505.7,225.48v3.75l-3.25,1.88-3.25-1.88v-3.75l3.25-1.88zM512.2,225.48v3.75l-3.25,1.88-3.25-1.88v-3.75l3.25-1.88zM518.7,225.48v3.75l-3.25,1.88-3.25-1.88v-3.75l3.25-1.88zM531.7,225.48v3.75l-3.25,1.88-3.25-1.88v-3.75l3.25-1.88zM538.2,225.48v3.75l-3.25,1.88-3.25-1.88v-3.75l3.25-1.88zM551.2,225.48v3.75l-3.25,1.88-3.25-1.88v-3.75l3.25-1.88zM590.2,225.48v3.75l-3.25,1.88-3.25-1.88v-3.75l3.25-1.88zM596.7,225.48v3.75l-3.25,1.88-3.25-1.88v-3.75l3.25-1.88zM603.2,225.48v3.75l-3.25,1.88-3.25-1.88v-3.75l3.25-1.88zM609.7,225.48v3.75l-3.25,1.88-3.25-1.88v-3.75l3.25-1.88zM281.45,231.11v3.75l-3.25,1.88-3.25-1.88v-3.75l3.25-1.88zM287.95,231.11v3.75l-3.25,1.88-3.25-1.88v-3.75l3.25-1.88zM294.45,231.11v3.75l-3.25,1.88-3.25-1.88v-3.75l3.25-1.88zM300.95,231.11v3.75l-3.25,1.88-3.25-1.88v-3.75l3.25-1.88zM307.45,231.11v3.75l-3.25,1.88-3.25-1.88v-3.75l3.25-1.88zM391.95,231.11v3.75l-3.25,1.88-3.25-1.88v-3.75l3.25-1.88zM398.45,231.11v3.75l-3.25,1.88-3.25-1.88v-3.75l3.25-1.88zM404.95,231.11v3.75l-3.25,1.88-3.25-1.88v-3.75l3.25-1.88zM411.45,231.11v3.75l-3.25,1.88-3.25-1.88v-3.75l3.25-1.88zM417.95,231.11v3.75l-3.25,1.88-3.25-1.88v-3.75l3.25-1.88zM437.45,231.11v3.75l-3.25,1.88-3.25-1.88v-3.75l3.25-1.88zM443.95,231.11v3.75l-3.25,1.88-3.25-1.88v-3.75l3.25-1.88zM450.45,231.11v3.75l-3.25,1.88-3.25-1.88v-3.75l3.25-1.88zM456.95,231.11v3.75l-3.25,1.88-3.25-1.88v-3.75l3.25-1.88zM463.45,231.11v3.75l-3.25,1.88-3.25-1.88v-3.75l3.25-1.88zM469.95,231.11v3.75l-3.25,1.88-3.25-1.88v-3.75l3.25-1.88zM476.45,231.11v3.75l-3.25,1.88-3.25-1.88v-3.75l3.25-1.88zM482.95,231.11v3.75l-3.25,1.88-3.25-1.88v-3.75l3.25-1.88zM489.45,231.11v3.75l-3.25,1.88-3.25-1.88v-3.75l3.25-1.88zM495.95,231.11v3.75l-3.25,1.88-3.25-1.88v-3.75l3.25-1.88zM508.95,231.11v3.75l-3.25,1.88-3.25-1.88v-3.75l3.25-1.88zM515.45,231.11v3.75l-3.25,1.88-3.25-1.88v-3.75l3.25-1.88zM528.45,231.11v3.75l-3.25,1.88-3.25-1.88v-3.75l3.25-1.88zM534.95,231.11v3.75l-3.25,1.88-3.25-1.88v-3.75l3.25-1.88zM554.45,231.11v3.75l-3.25,1.88-3.25-1.88v-3.75l3.25-1.88zM593.45,231.11v3.75l-3.25,1.88-3.25-1.88v-3.75l3.25-1.88zM599.95,231.11v3.75l-3.25,1.88-3.25-1.88v-3.75l3.25-1.88zM606.45,231.11v3.75l-3.25,1.88-3.25-1.88v-3.75l3.25-1.88zM265.2,236.75v3.75l-3.25,1.88-3.25-1.88v-3.75l3.25-1.88zM284.7,236.75v3.75l-3.25,1.88-3.25-1.88v-3.75l3.25-1.88zM291.2,236.75v3.75l-3.25,1.88-3.25-1.88v-3.75l3.25-1.88zM297.7,236.75v3.75l-3.25,1.88-3.25-1.88v-3.75l3.25-1.88zM304.2,236.75v3.75l-3.25,1.88-3.25-1.88v-3.75l3.25-1.88zM388.7,236.75v3.75l-3.25,1.88-3.25-1.88v-3.75l3.25-1.88zM395.2,236.75v3.75l-3.25,1.88-3.25-1.88v-3.75l3.25-1.88zM401.7,236.75v3.75l-3.25,1.88-3.25-1.88v-3.75l3.25-1.88zM408.2,236.75v3.75l-3.25,1.88-3.25-1.88v-3.75l3.25-1.88zM414.7,236.75v3.75l-3.25,1.88-3.25-1.88v-3.75l3.25-1.88zM421.2,236.75v3.75l-3.25,1.88-3.25-1.88v-3.75l3.25-1.88zM440.7,236.75v3.75l-3.25,1.88-3.25-1.88v-3.75l3.25-1.88zM447.2,236.75v3.75l-3.25,1.88-3.25-1.88v-3.75l3.25-1.88zM453.7,236.75v3.75l-3.25,1.88-3.25-1.88v-3.75l3.25-1.88zM460.2,236.75v3.75l-3.25,1.88-3.25-1.88v-3.75l3.25-1.88zM466.7,236.75v3.75l-3.25,1.88-3.25-1.88v-3.75l3.25-1.88zM473.2,236.75v3.75l-3.25,1.88-3.25-1.88v-3.75l3.25-1.88zM479.7,236.75v3.75l-3.25,1.88-3.25-1.88v-3.75l3.25-1.88zM486.2,236.75v3.75l-3.25,1.88-3.25-1.88v-3.75l3.25-1.88zM492.7,236.75v3.75l-3.25,1.88-3.25-1.88v-3.75l3.25-1.88zM499.2,236.75v3.75l-3.25,1.88-3.25-1.88v-3.75l3.25-1.88zM505.7,236.75v3.75l-3.25,1.88-3.25-1.88v-3.75l3.25-1.88zM512.2,236.75v3.75l-3.25,1.88-3.25-1.88v-3.75l3.25-1.88zM525.2,236.75v3.75l-3.25,1.88-3.25-1.88v-3.75l3.25-1.88zM531.7,236.75v3.75l-3.25,1.88-3.25-1.88v-3.75l3.25-1.88zM596.7,236.75v3.75l-3.25,1.88-3.25-1.88v-3.75l3.25-1.88zM603.2,236.75v3.75l-3.25,1.88-3.25-1.88v-3.75l3.25-1.88zM248.95,242.38v3.75l-3.25,1.88-3.25-1.88v-3.75l3.25-1.88zM255.45,242.38v3.75l-3.25,1.88-3.25-1.88v-3.75l3.25-1.88zM261.95,242.38v3.75l-3.25,1.88-3.25-1.88v-3.75l3.25-1.88zM281.45,242.38v3.75l-3.25,1.88-3.25-1.88v-3.75l3.25-1.88zM287.95,242.38v3.75l-3.25,1.88-3.25-1.88v-3.75l3.25-1.88zM294.45,242.38v3.75l-3.25,1.88-3.25-1.88v-3.75l3.25-1.88zM300.95,242.38v3.75l-3.25,1.88-3.25-1.88v-3.75l3.25-1.88zM307.45,242.38v3.75l-3.25,1.88-3.25-1.88v-3.75l3.25-1.88zM391.95,242.38v3.75l-3.25,1.88-3.25-1.88v-3.75l3.25-1.88zM398.45,242.38v3.75l-3.25,1.88-3.25-1.88v-3.75l3.25-1.88zM404.95,242.38v3.75l-3.25,1.88-3.25-1.88v-3.75l3.25-1.88zM411.45,242.38v3.75l-3.25,1.88-3.25-1.88v-3.75l3.25-1.88zM417.95,242.38v3.75l-3.25,1.88-3.25-1.88v-3.75l3.25-1.88zM424.45,242.38v3.75l-3.25,1.88-3.25-1.88v-3.75l3.25-1.88zM430.95,242.38v3.75l-3.25,1.88-3.25-1.88v-3.75l3.25-1.88zM437.45,242.38v3.75l-3.25,1.88-3.25-1.88v-3.75l3.25-1.88zM443.95,242.38v3.75l-3.25,1.88-3.25-1.88v-3.75l3.25-1.88zM450.45,242.38v3.75l-3.25,1.88-3.25-1.88v-3.75l3.25-1.88zM456.95,242.38v3.75l-3.25,1.88-3.25-1.88v-3.75l3.25-1.88zM463.45,242.38v3.75l-3.25,1.88-3.25-1.88v-3.75l3.25-1.88zM469.95,242.38v3.75l-3.25,1.88-3.25-1.88v-3.75l3.25-1.88zM476.45,242.38v3.75l-3.25,1.88-3.25-1.88v-3.75l3.25-1.88zM482.95,242.38v3.75l-3.25,1.88-3.25-1.88v-3.75l3.25-1.88zM489.45,242.38v3.75l-3.25,1.88-3.25-1.88v-3.75l3.25-1.88zM502.45,242.38v3.75l-3.25,1.88-3.25-1.88v-3.75l3.25-1.88zM508.95,242.38v3.75l-3.25,1.88-3.25-1.88v-3.75l3.25-1.88zM515.45,242.38v3.75l-3.25,1.88-3.25-1.88v-3.75l3.25-1.88zM521.95,242.38v3.75l-3.25,1.88-3.25-1.88v-3.75l3.25-1.88zM528.45,242.38v3.75l-3.25,1.88-3.25-1.88v-3.75l3.25-1.88zM245.7,248.01v3.75l-3.25,1.88-3.25-1.88v-3.75l3.25-1.88zM252.2,248.01v3.75l-3.25,1.88-3.25-1.88v-3.75l3.25-1.88zM258.7,248.01v3.75l-3.25,1.88-3.25-1.88v-3.75l3.25-1.88zM265.2,248.01v3.75l-3.25,1.88-3.25-1.88v-3.75l3.25-1.88zM278.2,248.01v3.75l-3.25,1.88-3.25-1.88v-3.75l3.25-1.88zM284.7,248.01v3.75l-3.25,1.88-3.25-1.88v-3.75l3.25-1.88zM291.2,248.01v3.75l-3.25,1.88-3.25-1.88v-3.75l3.25-1.88zM297.7,248.01v3.75l-3.25,1.88-3.25-1.88v-3.75l3.25-1.88zM304.2,248.01v3.75l-3.25,1.88-3.25-1.88v-3.75l3.25-1.88zM388.7,248.01v3.75l-3.25,1.88-3.25-1.88v-3.75l3.25-1.88zM395.2,248.01v3.75l-3.25,1.88-3.25-1.88v-3.75l3.25-1.88zM401.7,248.01v3.75l-3.25,1.88-3.25-1.88v-3.75l3.25-1.88zM408.2,248.01v3.75l-3.25,1.88-3.25-1.88v-3.75l3.25-1.88zM414.7,248.01v3.75l-3.25,1.88-3.25-1.88v-3.75l3.25-1.88zM421.2,248.01v3.75l-3.25,1.88-3.25-1.88v-3.75l3.25-1.88zM427.7,248.01v3.75l-3.25,1.88-3.25-1.88v-3.75l3.25-1.88zM434.2,248.01v3.75l-3.25,1.88-3.25-1.88v-3.75l3.25-1.88zM440.7,248.01v3.75l-3.25,1.88-3.25-1.88v-3.75l3.25-1.88zM447.2,248.01v3.75l-3.25,1.88-3.25-1.88v-3.75l3.25-1.88zM453.7,248.01v3.75l-3.25,1.88-3.25-1.88v-3.75l3.25-1.88zM460.2,248.01v3.75l-3.25,1.88-3.25-1.88v-3.75l3.25-1.88zM466.7,248.01v3.75l-3.25,1.88-3.25-1.88v-3.75l3.25-1.88zM473.2,248.01v3.75l-3.25,1.88-3.25-1.88v-3.75l3.25-1.88zM479.7,248.01v3.75l-3.25,1.88-3.25-1.88v-3.75l3.25-1.88zM499.2,248.01v3.75l-3.25,1.88-3.25-1.88v-3.75l3.25-1.88zM505.7,248.01v3.75l-3.25,1.88-3.25-1.88v-3.75l3.25-1.88zM512.2,248.01v3.75l-3.25,1.88-3.25-1.88v-3.75l3.25-1.88zM518.7,248.01v3.75l-3.25,1.88-3.25-1.88v-3.75l3.25-1.88zM525.2,248.01v3.75l-3.25,1.88-3.25-1.88v-3.75l3.25-1.88zM570.7,248.01v3.75l-3.25,1.88-3.25-1.88v-3.75l3.25-1.88zM577.2,248.01v3.75l-3.25,1.88-3.25-1.88v-3.75l3.25-1.88zM583.7,248.01v3.75l-3.25,1.88-3.25-1.88v-3.75l3.25-1.88zM590.2,248.01v3.75l-3.25,1.88-3.25-1.88v-3.75l3.25-1.88zM596.7,248.01v3.75l-3.25,1.88-3.25-1.88v-3.75l3.25-1.88zM603.2,248.01v3.75l-3.25,1.88-3.25-1.88v-3.75l3.25-1.88zM609.7,248.01v3.75l-3.25,1.88-3.25-1.88v-3.75l3.25-1.88zM242.45,253.65v3.75l-3.25,1.88-3.25-1.88v-3.75l3.25-1.88zM248.95,253.65v3.75l-3.25,1.88-3.25-1.88v-3.75l3.25-1.88zM255.45,253.65v3.75l-3.25,1.88-3.25-1.88v-3.75l3.25-1.88zM261.95,253.65v3.75l-3.25,1.88-3.25-1.88v-3.75l3.25-1.88zM268.45,253.65v3.75l-3.25,1.88-3.25-1.88v-3.75l3.25-1.88zM274.95,253.65v3.75l-3.25,1.88-3.25-1.88v-3.75l3.25-1.88zM281.45,253.65v3.75l-3.25,1.88-3.25-1.88v-3.75l3.25-1.88zM287.95,253.65v3.75l-3.25,1.88-3.25-1.88v-3.75l3.25-1.88zM294.45,253.65v3.75l-3.25,1.88-3.25-1.88v-3.75l3.25-1.88zM391.95,253.65v3.75l-3.25,1.88-3.25-1.88v-3.75l3.25-1.88zM398.45,253.65v3.75l-3.25,1.88-3.25-1.88v-3.75l3.25-1.88zM404.95,253.65v3.75l-3.25,1.88-3.25-1.88v-3.75l3.25-1.88zM411.45,253.65v3.75l-3.25,1.88-3.25-1.88v-3.75l3.25-1.88zM424.45,253.65v3.75l-3.25,1.88-3.25-1.88v-3.75l3.25-1.88zM430.95,253.65v3.75l-3.25,1.88-3.25-1.88v-3.75l3.25-1.88zM437.45,253.65v3.75l-3.25,1.88-3.25-1.88v-3.75l3.25-1.88zM443.95,253.65v3.75l-3.25,1.88-3.25-1.88v-3.75l3.25-1.88zM450.45,253.65v3.75l-3.25,1.88-3.25-1.88v-3.75l3.25-1.88zM456.95,253.65v3.75l-3.25,1.88-3.25-1.88v-3.75l3.25-1.88zM463.45,253.65v3.75l-3.25,1.88-3.25-1.88v-3.75l3.25-1.88zM469.95,253.65v3.75l-3.25,1.88-3.25-1.88v-3.75l3.25-1.88zM476.45,253.65v3.75l-3.25,1.88-3.25-1.88v-3.75l3.25-1.88zM495.95,253.65v3.75l-3.25,1.88-3.25-1.88v-3.75l3.25-1.88zM502.45,253.65v3.75l-3.25,1.88-3.25-1.88v-3.75l3.25-1.88zM508.95,253.65v3.75l-3.25,1.88-3.25-1.88v-3.75l3.25-1.88zM515.45,253.65v3.75l-3.25,1.88-3.25-1.88v-3.75l3.25-1.88zM560.95,253.65v3.75l-3.25,1.88-3.25-1.88v-3.75l3.25-1.88zM567.45,253.65v3.75l-3.25,1.88-3.25-1.88v-3.75l3.25-1.88zM573.95,253.65v3.75l-3.25,1.88-3.25-1.88v-3.75l3.25-1.88zM580.45,253.65v3.75l-3.25,1.88-3.25-1.88v-3.75l3.25-1.88zM586.95,253.65v3.75l-3.25,1.88-3.25-1.88v-3.75l3.25-1.88zM593.45,253.65v3.75l-3.25,1.88-3.25-1.88v-3.75l3.25-1.88zM599.95,253.65v3.75l-3.25,1.88-3.25-1.88v-3.75l3.25-1.88zM606.45,253.65v3.75l-3.25,1.88-3.25-1.88v-3.75l3.25-1.88zM664.95,253.65v3.75l-3.25,1.88-3.25-1.88v-3.75l3.25-1.88zM206.7,259.28v3.75l-3.25,1.88-3.25-1.88v-3.75l3.25-1.88zM213.2,259.28v3.75l-3.25,1.88-3.25-1.88v-3.75l3.25-1.88zM219.7,259.28v3.75l-3.25,1.88-3.25-1.88v-3.75l3.25-1.88zM239.2,259.28v3.75l-3.25,1.88-3.25-1.88v-3.75l3.25-1.88zM245.7,259.28v3.75l-3.25,1.88-3.25-1.88v-3.75l3.25-1.88zM252.2,259.28v3.75l-3.25,1.88-3.25-1.88v-3.75l3.25-1.88zM258.7,259.28v3.75l-3.25,1.88-3.25-1.88v-3.75l3.25-1.88zM265.2,259.28v3.75l-3.25,1.88-3.25-1.88v-3.75l3.25-1.88zM271.7,259.28v3.75l-3.25,1.88-3.25-1.88v-3.75l3.25-1.88zM278.2,259.28v3.75l-3.25,1.88-3.25-1.88v-3.75l3.25-1.88zM284.7,259.28v3.75l-3.25,1.88-3.25-1.88v-3.75l3.25-1.88zM291.2,259.28v3.75l-3.25,1.88-3.25-1.88v-3.75l3.25-1.88zM297.7,259.28v3.75l-3.25,1.88-3.25-1.88v-3.75l3.25-1.88zM388.7,259.28v3.75l-3.25,1.88-3.25-1.88v-3.75l3.25-1.88zM395.2,259.28v3.75l-3.25,1.88-3.25-1.88v-3.75l3.25-1.88zM401.7,259.28v3.75l-3.25,1.88-3.25-1.88v-3.75l3.25-1.88zM408.2,259.28v3.75l-3.25,1.88-3.25-1.88v-3.75l3.25-1.88zM414.7,259.28v3.75l-3.25,1.88-3.25-1.88v-3.75l3.25-1.88zM421.2,259.28v3.75l-3.25,1.88-3.25-1.88v-3.75l3.25-1.88zM440.7,259.28v3.75l-3.25,1.88-3.25-1.88v-3.75l3.25-1.88zM447.2,259.28v3.75l-3.25,1.88-3.25-1.88v-3.75l3.25-1.88zM453.7,259.28v3.75l-3.25,1.88-3.25-1.88v-3.75l3.25-1.88zM460.2,259.28v3.75l-3.25,1.88-3.25-1.88v-3.75l3.25-1.88zM479.7,259.28v3.75l-3.25,1.88-3.25-1.88v-3.75l3.25-1.88zM486.2,259.28v3.75l-3.25,1.88-3.25-1.88v-3.75l3.25-1.88zM492.7,259.28v3.75l-3.25,1.88-3.25-1.88v-3.75l3.25-1.88zM499.2,259.28v3.75l-3.25,1.88-3.25-1.88v-3.75l3.25-1.88zM505.7,259.28v3.75l-3.25,1.88-3.25-1.88v-3.75l3.25-1.88zM512.2,259.28v3.75l-3.25,1.88-3.25-1.88v-3.75l3.25-1.88zM557.7,259.28v3.75l-3.25,1.88-3.25-1.88v-3.75l3.25-1.88zM564.2,259.28v3.75l-3.25,1.88-3.25-1.88v-3.75l3.25-1.88zM570.7,259.28v3.75l-3.25,1.88-3.25-1.88v-3.75l3.25-1.88zM577.2,259.28v3.75l-3.25,1.88-3.25-1.88v-3.75l3.25-1.88zM583.7,259.28v3.75l-3.25,1.88-3.25-1.88v-3.75l3.25-1.88zM590.2,259.28v3.75l-3.25,1.88-3.25-1.88v-3.75l3.25-1.88zM596.7,259.28v3.75l-3.25,1.88-3.25-1.88v-3.75l3.25-1.88zM603.2,259.28v3.75l-3.25,1.88-3.25-1.88v-3.75l3.25-1.88zM609.7,259.28v3.75l-3.25,1.88-3.25-1.88v-3.75l3.25-1.88zM661.7,259.28v3.75l-3.25,1.88-3.25-1.88v-3.75l3.25-1.88zM668.2,259.28v3.75l-3.25,1.88-3.25-1.88v-3.75l3.25-1.88zM177.45,264.91v3.75l-3.25,1.88-3.25-1.88v-3.75l3.25-1.88zM183.95,264.91v3.75l-3.25,1.88-3.25-1.88v-3.75l3.25-1.88zM190.45,264.91v3.75l-3.25,1.88-3.25-1.88v-3.75l3.25-1.88zM196.95,264.91v3.75l-3.25,1.88-3.25-1.88v-3.75l3.25-1.88zM203.45,264.91v3.75l-3.25,1.88-3.25-1.88v-3.75l3.25-1.88zM209.95,264.91v3.75l-3.25,1.88-3.25-1.88v-3.75l3.25-1.88zM216.45,264.91v3.75l-3.25,1.88-3.25-1.88v-3.75l3.25-1.88zM222.95,264.91v3.75l-3.25,1.88-3.25-1.88v-3.75l3.25-1.88zM229.45,264.91v3.75l-3.25,1.88-3.25-1.88v-3.75l3.25-1.88zM235.95,264.91v3.75l-3.25,1.88-3.25-1.88v-3.75l3.25-1.88zM242.45,264.91v3.75l-3.25,1.88-3.25-1.88v-3.75l3.25-1.88zM248.95,264.91v3.75l-3.25,1.88-3.25-1.88v-3.75l3.25-1.88zM255.45,264.91v3.75l-3.25,1.88-3.25-1.88v-3.75l3.25-1.88zM261.95,264.91v3.75l-3.25,1.88-3.25-1.88v-3.75l3.25-1.88zM268.45,264.91v3.75l-3.25,1.88-3.25-1.88v-3.75l3.25-1.88zM274.95,264.91v3.75l-3.25,1.88-3.25-1.88v-3.75l3.25-1.88zM281.45,264.91v3.75l-3.25,1.88-3.25-1.88v-3.75l3.25-1.88zM287.95,264.91v3.75l-3.25,1.88-3.25-1.88v-3.75l3.25-1.88zM294.45,264.91v3.75l-3.25,1.88-3.25-1.88v-3.75l3.25-1.88zM300.95,264.91v3.75l-3.25,1.88-3.25-1.88v-3.75l3.25-1.88zM307.45,264.91v3.75l-3.25,1.88-3.25-1.88v-3.75l3.25-1.88zM398.45,264.91v3.75l-3.25,1.88-3.25-1.88v-3.75l3.25-1.88zM404.95,264.91v3.75l-3.25,1.88-3.25-1.88v-3.75l3.25-1.88zM411.45,264.91v3.75l-3.25,1.88-3.25-1.88v-3.75l3.25-1.88zM417.95,264.91v3.75l-3.25,1.88-3.25-1.88v-3.75l3.25-1.88zM437.45,264.91v3.75l-3.25,1.88-3.25-1.88v-3.75l3.25-1.88zM443.95,264.91v3.75l-3.25,1.88-3.25-1.88v-3.75l3.25-1.88zM482.95,264.91v3.75l-3.25,1.88-3.25-1.88v-3.75l3.25-1.88zM489.45,264.91v3.75l-3.25,1.88-3.25-1.88v-3.75l3.25-1.88zM495.95,264.91v3.75l-3.25,1.88-3.25-1.88v-3.75l3.25-1.88zM502.45,264.91v3.75l-3.25,1.88-3.25-1.88v-3.75l3.25-1.88zM508.95,264.91v3.75l-3.25,1.88-3.25-1.88v-3.75l3.25-1.88zM515.45,264.91v3.75l-3.25,1.88-3.25-1.88v-3.75l3.25-1.88zM554.45,264.91v3.75l-3.25,1.88-3.25-1.88v-3.75l3.25-1.88zM560.95,264.91v3.75l-3.25,1.88-3.25-1.88v-3.75l3.25-1.88zM567.45,264.91v3.75l-3.25,1.88-3.25-1.88v-3.75l3.25-1.88zM573.95,264.91v3.75l-3.25,1.88-3.25-1.88v-3.75l3.25-1.88zM580.45,264.91v3.75l-3.25,1.88-3.25-1.88v-3.75l3.25-1.88zM586.95,264.91v3.75l-3.25,1.88-3.25-1.88v-3.75l3.25-1.88zM593.45,264.91v3.75l-3.25,1.88-3.25-1.88v-3.75l3.25-1.88zM599.95,264.91v3.75l-3.25,1.88-3.25-1.88v-3.75l3.25-1.88zM606.45,264.91v3.75l-3.25,1.88-3.25-1.88v-3.75l3.25-1.88zM612.95,264.91v3.75l-3.25,1.88-3.25-1.88v-3.75l3.25-1.88zM664.95,264.91v3.75l-3.25,1.88-3.25-1.88v-3.75l3.25-1.88zM174.2,270.54v3.75l-3.25,1.88-3.25-1.88v-3.75l3.25-1.88zM180.7,270.54v3.75l-3.25,1.88-3.25-1.88v-3.75l3.25-1.88zM187.2,270.54v3.75l-3.25,1.88-3.25-1.88v-3.75l3.25-1.88zM193.7,270.54v3.75l-3.25,1.88-3.25-1.88v-3.75l3.25-1.88zM200.2,270.54v3.75l-3.25,1.88-3.25-1.88v-3.75l3.25-1.88zM206.7,270.54v3.75l-3.25,1.88-3.25-1.88v-3.75l3.25-1.88zM213.2,270.54v3.75l-3.25,1.88-3.25-1.88v-3.75l3.25-1.88zM219.7,270.54v3.75l-3.25,1.88-3.25-1.88v-3.75l3.25-1.88zM226.2,270.54v3.75l-3.25,1.88-3.25-1.88v-3.75l3.25-1.88zM232.7,270.54v3.75l-3.25,1.88-3.25-1.88v-3.75l3.25-1.88zM239.2,270.54v3.75l-3.25,1.88-3.25-1.88v-3.75l3.25-1.88zM245.7,270.54v3.75l-3.25,1.88-3.25-1.88v-3.75l3.25-1.88zM252.2,270.54v3.75l-3.25,1.88-3.25-1.88v-3.75l3.25-1.88zM258.7,270.54v3.75l-3.25,1.88-3.25-1.88v-3.75l3.25-1.88zM265.2,270.54v3.75l-3.25,1.88-3.25-1.88v-3.75l3.25-1.88zM271.7,270.54v3.75l-3.25,1.88-3.25-1.88v-3.75l3.25-1.88zM278.2,270.54v3.75l-3.25,1.88-3.25-1.88v-3.75l3.25-1.88zM284.7,270.54v3.75l-3.25,1.88-3.25-1.88v-3.75l3.25-1.88zM291.2,270.54v3.75l-3.25,1.88-3.25-1.88v-3.75l3.25-1.88zM297.7,270.54v3.75l-3.25,1.88-3.25-1.88v-3.75l3.25-1.88zM304.2,270.54v3.75l-3.25,1.88-3.25-1.88v-3.75l3.25-1.88zM310.7,270.54v3.75l-3.25,1.88-3.25-1.88v-3.75l3.25-1.88zM317.2,270.54v3.75l-3.25,1.88-3.25-1.88v-3.75l3.25-1.88zM401.7,270.54v3.75l-3.25,1.88-3.25-1.88v-3.75l3.25-1.88zM408.2,270.54v3.75l-3.25,1.88-3.25-1.88v-3.75l3.25-1.88zM414.7,270.54v3.75l-3.25,1.88-3.25-1.88v-3.75l3.25-1.88zM440.7,270.54v3.75l-3.25,1.88-3.25-1.88v-3.75l3.25-1.88zM447.2,270.54v3.75l-3.25,1.88-3.25-1.88v-3.75l3.25-1.88zM453.7,270.54v3.75l-3.25,1.88-3.25-1.88v-3.75l3.25-1.88zM460.2,270.54v3.75l-3.25,1.88-3.25-1.88v-3.75l3.25-1.88zM486.2,270.54v3.75l-3.25,1.88-3.25-1.88v-3.75l3.25-1.88zM492.7,270.54v3.75l-3.25,1.88-3.25-1.88v-3.75l3.25-1.88zM499.2,270.54v3.75l-3.25,1.88-3.25-1.88v-3.75l3.25-1.88zM505.7,270.54v3.75l-3.25,1.88-3.25-1.88v-3.75l3.25-1.88zM512.2,270.54v3.75l-3.25,1.88-3.25-1.88v-3.75l3.25-1.88zM551.2,270.54v3.75l-3.25,1.88-3.25-1.88v-3.75l3.25-1.88zM557.7,270.54v3.75l-3.25,1.88-3.25-1.88v-3.75l3.25-1.88zM564.2,270.54v3.75l-3.25,1.88-3.25-1.88v-3.75l3.25-1.88zM570.7,270.54v3.75l-3.25,1.88-3.25-1.88v-3.75l3.25-1.88zM577.2,270.54v3.75l-3.25,1.88-3.25-1.88v-3.75l3.25-1.88zM583.7,270.54v3.75l-3.25,1.88-3.25-1.88v-3.75l3.25-1.88zM590.2,270.54v3.75l-3.25,1.88-3.25-1.88v-3.75l3.25-1.88zM596.7,270.54v3.75l-3.25,1.88-3.25-1.88v-3.75l3.25-1.88zM603.2,270.54v3.75l-3.25,1.88-3.25-1.88v-3.75l3.25-1.88zM609.7,270.54v3.75l-3.25,1.88-3.25-1.88v-3.75l3.25-1.88zM616.2,270.54v3.75l-3.25,1.88-3.25-1.88v-3.75l3.25-1.88zM661.7,270.54v3.75l-3.25,1.88-3.25-1.88v-3.75l3.25-1.88zM164.45,276.18v3.75l-3.25,1.88-3.25-1.88v-3.75l3.25-1.88zM170.95,276.18v3.75l-3.25,1.88-3.25-1.88v-3.75l3.25-1.88zM177.45,276.18v3.75l-3.25,1.88-3.25-1.88v-3.75l3.25-1.88zM183.95,276.18v3.75l-3.25,1.88-3.25-1.88v-3.75l3.25-1.88zM190.45,276.18v3.75l-3.25,1.88-3.25-1.88v-3.75l3.25-1.88zM196.95,276.18v3.75l-3.25,1.88-3.25-1.88v-3.75l3.25-1.88zM203.45,276.18v3.75l-3.25,1.88-3.25-1.88v-3.75l3.25-1.88zM209.95,276.18v3.75l-3.25,1.88-3.25-1.88v-3.75l3.25-1.88zM216.45,276.18v3.75l-3.25,1.88-3.25-1.88v-3.75l3.25-1.88zM222.95,276.18v3.75l-3.25,1.88-3.25-1.88v-3.75l3.25-1.88zM229.45,276.18v3.75l-3.25,1.88-3.25-1.88v-3.75l3.25-1.88zM235.95,276.18v3.75l-3.25,1.88-3.25-1.88v-3.75l3.25-1.88zM242.45,276.18v3.75l-3.25,1.88-3.25-1.88v-3.75l3.25-1.88zM248.95,276.18v3.75l-3.25,1.88-3.25-1.88v-3.75l3.25-1.88zM255.45,276.18v3.75l-3.25,1.88-3.25-1.88v-3.75l3.25-1.88zM261.95,276.18v3.75l-3.25,1.88-3.25-1.88v-3.75l3.25-1.88zM268.45,276.18v3.75l-3.25,1.88-3.25-1.88v-3.75l3.25-1.88zM274.95,276.18v3.75l-3.25,1.88-3.25-1.88v-3.75l3.25-1.88zM281.45,276.18v3.75l-3.25,1.88-3.25-1.88v-3.75l3.25-1.88zM287.95,276.18v3.75l-3.25,1.88-3.25-1.88v-3.75l3.25-1.88zM294.45,276.18v3.75l-3.25,1.88-3.25-1.88v-3.75l3.25-1.88zM300.95,276.18v3.75l-3.25,1.88-3.25-1.88v-3.75l3.25-1.88zM307.45,276.18v3.75l-3.25,1.88-3.25-1.88v-3.75l3.25-1.88zM313.95,276.18v3.75l-3.25,1.88-3.25-1.88v-3.75l3.25-1.88zM320.45,276.18v3.75l-3.25,1.88-3.25-1.88v-3.75l3.25-1.88zM404.95,276.18v3.75l-3.25,1.88-3.25-1.88v-3.75l3.25-1.88zM411.45,276.18v3.75l-3.25,1.88-3.25-1.88v-3.75l3.25-1.88zM417.95,276.18v3.75l-3.25,1.88-3.25-1.88v-3.75l3.25-1.88zM424.45,276.18v3.75l-3.25,1.88-3.25-1.88v-3.75l3.25-1.88zM430.95,276.18v3.75l-3.25,1.88-3.25-1.88v-3.75l3.25-1.88zM437.45,276.18v3.75l-3.25,1.88-3.25-1.88v-3.75l3.25-1.88zM443.95,276.18v3.75l-3.25,1.88-3.25-1.88v-3.75l3.25-1.88zM450.45,276.18v3.75l-3.25,1.88-3.25-1.88v-3.75l3.25-1.88zM456.95,276.18v3.75l-3.25,1.88-3.25-1.88v-3.75l3.25-1.88zM469.95,276.18v3.75l-3.25,1.88-3.25-1.88v-3.75l3.25-1.88zM476.45,276.18v3.75l-3.25,1.88-3.25-1.88v-3.75l3.25-1.88zM482.95,276.18v3.75l-3.25,1.88-3.25-1.88v-3.75l3.25-1.88zM489.45,276.18v3.75l-3.25,1.88-3.25-1.88v-3.75l3.25-1.88zM495.95,276.18v3.75l-3.25,1.88-3.25-1.88v-3.75l3.25-1.88zM502.45,276.18v3.75l-3.25,1.88-3.25-1.88v-3.75l3.25-1.88zM508.95,276.18v3.75l-3.25,1.88-3.25-1.88v-3.75l3.25-1.88zM515.45,276.18v3.75l-3.25,1.88-3.25-1.88v-3.75l3.25-1.88zM547.95,276.18v3.75l-3.25,1.88-3.25-1.88v-3.75l3.25-1.88zM554.45,276.18v3.75l-3.25,1.88-3.25-1.88v-3.75l3.25-1.88zM560.95,276.18v3.75l-3.25,1.88-3.25-1.88v-3.75l3.25-1.88zM567.45,276.18v3.75l-3.25,1.88-3.25-1.88v-3.75l3.25-1.88zM573.95,276.18v3.75l-3.25,1.88-3.25-1.88v-3.75l3.25-1.88zM580.45,276.18v3.75l-3.25,1.88-3.25-1.88v-3.75l3.25-1.88zM586.95,276.18v3.75l-3.25,1.88-3.25-1.88v-3.75l3.25-1.88zM593.45,276.18v3.75l-3.25,1.88-3.25-1.88v-3.75l3.25-1.88zM599.95,276.18v3.75l-3.25,1.88-3.25-1.88v-3.75l3.25-1.88zM606.45,276.18v3.75l-3.25,1.88-3.25-1.88v-3.75l3.25-1.88zM612.95,276.18v3.75l-3.25,1.88-3.25-1.88v-3.75l3.25-1.88zM619.45,276.18v3.75l-3.25,1.88-3.25-1.88v-3.75l3.25-1.88zM658.45,276.18v3.75l-3.25,1.88-3.25-1.88v-3.75l3.25-1.88zM161.2,281.81v3.75l-3.25,1.88-3.25-1.88v-3.75l3.25-1.88zM167.7,281.81v3.75l-3.25,1.88-3.25-1.88v-3.75l3.25-1.88zM174.2,281.81v3.75l-3.25,1.88-3.25-1.88v-3.75l3.25-1.88zM180.7,281.81v3.75l-3.25,1.88-3.25-1.88v-3.75l3.25-1.88zM187.2,281.81v3.75l-3.25,1.88-3.25-1.88v-3.75l3.25-1.88zM193.7,281.81v3.75l-3.25,1.88-3.25-1.88v-3.75l3.25-1.88zM200.2,281.81v3.75l-3.25,1.88-3.25-1.88v-3.75l3.25-1.88zM206.7,281.81v3.75l-3.25,1.88-3.25-1.88v-3.75l3.25-1.88zM213.2,281.81v3.75l-3.25,1.88-3.25-1.88v-3.75l3.25-1.88zM219.7,281.81v3.75l-3.25,1.88-3.25-1.88v-3.75l3.25-1.88zM226.2,281.81v3.75l-3.25,1.88-3.25-1.88v-3.75l3.25-1.88zM232.7,281.81v3.75l-3.25,1.88-3.25-1.88v-3.75l3.25-1.88zM239.2,281.81v3.75l-3.25,1.88-3.25-1.88v-3.75l3.25-1.88zM245.7,281.81v3.75l-3.25,1.88-3.25-1.88v-3.75l3.25-1.88zM252.2,281.81v3.75l-3.25,1.88-3.25-1.88v-3.75l3.25-1.88zM258.7,281.81v3.75l-3.25,1.88-3.25-1.88v-3.75l3.25-1.88zM265.2,281.81v3.75l-3.25,1.88-3.25-1.88v-3.75l3.25-1.88zM271.7,281.81v3.75l-3.25,1.88-3.25-1.88v-3.75l3.25-1.88zM278.2,281.81v3.75l-3.25,1.88-3.25-1.88v-3.75l3.25-1.88zM284.7,281.81v3.75l-3.25,1.88-3.25-1.88v-3.75l3.25-1.88zM291.2,281.81v3.75l-3.25,1.88-3.25-1.88v-3.75l3.25-1.88zM297.7,281.81v3.75l-3.25,1.88-3.25-1.88v-3.75l3.25-1.88zM310.7,281.81v3.75l-3.25,1.88-3.25-1.88v-3.75l3.25-1.88zM317.2,281.81v3.75l-3.25,1.88-3.25-1.88v-3.75l3.25-1.88zM323.7,281.81v3.75l-3.25,1.88-3.25-1.88v-3.75l3.25-1.88zM330.2,281.81v3.75l-3.25,1.88-3.25-1.88v-3.75l3.25-1.88zM336.7,281.81v3.75l-3.25,1.88-3.25-1.88v-3.75l3.25-1.88zM343.2,281.81v3.75l-3.25,1.88-3.25-1.88v-3.75l3.25-1.88zM349.7,281.81v3.75l-3.25,1.88-3.25-1.88v-3.75l3.25-1.88zM388.7,281.81v3.75l-3.25,1.88-3.25-1.88v-3.75l3.25-1.88zM395.2,281.81v3.75l-3.25,1.88-3.25-1.88v-3.75l3.25-1.88zM401.7,281.81v3.75l-3.25,1.88-3.25-1.88v-3.75l3.25-1.88zM408.2,281.81v3.75l-3.25,1.88-3.25-1.88v-3.75l3.25-1.88zM440.7,281.81v3.75l-3.25,1.88-3.25-1.88v-3.75l3.25-1.88zM447.2,281.81v3.75l-3.25,1.88-3.25-1.88v-3.75l3.25-1.88zM453.7,281.81v3.75l-3.25,1.88-3.25-1.88v-3.75l3.25-1.88zM460.2,281.81v3.75l-3.25,1.88-3.25-1.88v-3.75l3.25-1.88zM473.2,281.81v3.75l-3.25,1.88-3.25-1.88v-3.75l3.25-1.88zM479.7,281.81v3.75l-3.25,1.88-3.25-1.88v-3.75l3.25-1.88zM486.2,281.81v3.75l-3.25,1.88-3.25-1.88v-3.75l3.25-1.88zM492.7,281.81v3.75l-3.25,1.88-3.25-1.88v-3.75l3.25-1.88zM499.2,281.81v3.75l-3.25,1.88-3.25-1.88v-3.75l3.25-1.88zM505.7,281.81v3.75l-3.25,1.88-3.25-1.88v-3.75l3.25-1.88zM512.2,281.81v3.75l-3.25,1.88-3.25-1.88v-3.75l3.25-1.88zM518.7,281.81v3.75l-3.25,1.88-3.25-1.88v-3.75l3.25-1.88zM531.7,281.81v3.75l-3.25,1.88-3.25-1.88v-3.75l3.25-1.88zM538.2,281.81v3.75l-3.25,1.88-3.25-1.88v-3.75l3.25-1.88zM544.7,281.81v3.75l-3.25,1.88-3.25-1.88v-3.75l3.25-1.88zM551.2,281.81v3.75l-3.25,1.88-3.25-1.88v-3.75l3.25-1.88zM557.7,281.81v3.75l-3.25,1.88-3.25-1.88v-3.75l3.25-1.88zM564.2,281.81v3.75l-3.25,1.88-3.25-1.88v-3.75l3.25-1.88zM570.7,281.81v3.75l-3.25,1.88-3.25-1.88v-3.75l3.25-1.88zM577.2,281.81v3.75l-3.25,1.88-3.25-1.88v-3.75l3.25-1.88zM583.7,281.81v3.75l-3.25,1.88-3.25-1.88v-3.75l3.25-1.88zM590.2,281.81v3.75l-3.25,1.88-3.25-1.88v-3.75l3.25-1.88zM596.7,281.81v3.75l-3.25,1.88-3.25-1.88v-3.75l3.25-1.88zM603.2,281.81v3.75l-3.25,1.88-3.25-1.88v-3.75l3.25-1.88zM609.7,281.81v3.75l-3.25,1.88-3.25-1.88v-3.75l3.25-1.88zM616.2,281.81v3.75l-3.25,1.88-3.25-1.88v-3.75l3.25-1.88zM622.7,281.81v3.75l-3.25,1.88-3.25-1.88v-3.75l3.25-1.88zM655.2,281.81v3.75l-3.25,1.88-3.25-1.88v-3.75l3.25-1.88zM157.95,287.44v3.75l-3.25,1.88-3.25-1.88v-3.75l3.25-1.88zM164.45,287.44v3.75l-3.25,1.88-3.25-1.88v-3.75l3.25-1.88zM170.95,287.44v3.75l-3.25,1.88-3.25-1.88v-3.75l3.25-1.88zM177.45,287.44v3.75l-3.25,1.88-3.25-1.88v-3.75l3.25-1.88zM183.95,287.44v3.75l-3.25,1.88-3.25-1.88v-3.75l3.25-1.88zM190.45,287.44v3.75l-3.25,1.88-3.25-1.88v-3.75l3.25-1.88zM196.95,287.44v3.75l-3.25,1.88-3.25-1.88v-3.75l3.25-1.88zM203.45,287.44v3.75l-3.25,1.88-3.25-1.88v-3.75l3.25-1.88zM209.95,287.44v3.75l-3.25,1.88-3.25-1.88v-3.75l3.25-1.88zM216.45,287.44v3.75l-3.25,1.88-3.25-1.88v-3.75l3.25-1.88zM222.95,287.44v3.75l-3.25,1.88-3.25-1.88v-3.75l3.25-1.88zM229.45,287.44v3.75l-3.25,1.88-3.25-1.88v-3.75l3.25-1.88zM235.95,287.44v3.75l-3.25,1.88-3.25-1.88v-3.75l3.25-1.88zM242.45,287.44v3.75l-3.25,1.88-3.25-1.88v-3.75l3.25-1.88zM248.95,287.44v3.75l-3.25,1.88-3.25-1.88v-3.75l3.25-1.88zM255.45,287.44v3.75l-3.25,1.88-3.25-1.88v-3.75l3.25-1.88zM261.95,287.44v3.75l-3.25,1.88-3.25-1.88v-3.75l3.25-1.88zM268.45,287.44v3.75l-3.25,1.88-3.25-1.88v-3.75l3.25-1.88zM274.95,287.44v3.75l-3.25,1.88-3.25-1.88v-3.75l3.25-1.88zM281.45,287.44v3.75l-3.25,1.88-3.25-1.88v-3.75l3.25-1.88zM287.95,287.44v3.75l-3.25,1.88-3.25-1.88v-3.75l3.25-1.88zM294.45,287.44v3.75l-3.25,1.88-3.25-1.88v-3.75l3.25-1.88zM300.95,287.44v3.75l-3.25,1.88-3.25-1.88v-3.75l3.25-1.88zM307.45,287.44v3.75l-3.25,1.88-3.25-1.88v-3.75l3.25-1.88zM313.95,287.44v3.75l-3.25,1.88-3.25-1.88v-3.75l3.25-1.88zM326.95,287.44v3.75l-3.25,1.88-3.25-1.88v-3.75l3.25-1.88zM333.45,287.44v3.75l-3.25,1.88-3.25-1.88v-3.75l3.25-1.88zM339.95,287.44v3.75l-3.25,1.88-3.25-1.88v-3.75l3.25-1.88zM346.45,287.44v3.75l-3.25,1.88-3.25-1.88v-3.75l3.25-1.88zM352.95,287.44v3.75l-3.25,1.88-3.25-1.88v-3.75l3.25-1.88zM372.45,287.44v3.75l-3.25,1.88-3.25-1.88v-3.75l3.25-1.88zM378.95,287.44v3.75l-3.25,1.88-3.25-1.88v-3.75l3.25-1.88zM385.45,287.44v3.75l-3.25,1.88-3.25-1.88v-3.75l3.25-1.88zM391.95,287.44v3.75l-3.25,1.88-3.25-1.88v-3.75l3.25-1.88zM398.45,287.44v3.75l-3.25,1.88-3.25-1.88v-3.75l3.25-1.88zM404.95,287.44v3.75l-3.25,1.88-3.25-1.88v-3.75l3.25-1.88zM437.45,287.44v3.75l-3.25,1.88-3.25-1.88v-3.75l3.25-1.88zM443.95,287.44v3.75l-3.25,1.88-3.25-1.88v-3.75l3.25-1.88zM450.45,287.44v3.75l-3.25,1.88-3.25-1.88v-3.75l3.25-1.88zM456.95,287.44v3.75l-3.25,1.88-3.25-1.88v-3.75l3.25-1.88zM476.45,287.44v3.75l-3.25,1.88-3.25-1.88v-3.75l3.25-1.88zM482.95,287.44v3.75l-3.25,1.88-3.25-1.88v-3.75l3.25-1.88zM489.45,287.44v3.75l-3.25,1.88-3.25-1.88v-3.75l3.25-1.88zM495.95,287.44v3.75l-3.25,1.88-3.25-1.88v-3.75l3.25-1.88zM502.45,287.44v3.75l-3.25,1.88-3.25-1.88v-3.75l3.25-1.88zM508.95,287.44v3.75l-3.25,1.88-3.25-1.88v-3.75l3.25-1.88zM515.45,287.44v3.75l-3.25,1.88-3.25-1.88v-3.75l3.25-1.88zM521.95,287.44v3.75l-3.25,1.88-3.25-1.88v-3.75l3.25-1.88zM528.45,287.44v3.75l-3.25,1.88-3.25-1.88v-3.75l3.25-1.88zM534.95,287.44v3.75l-3.25,1.88-3.25-1.88v-3.75l3.25-1.88zM541.45,287.44v3.75l-3.25,1.88-3.25-1.88v-3.75l3.25-1.88zM547.95,287.44v3.75l-3.25,1.88-3.25-1.88v-3.75l3.25-1.88zM554.45,287.44v3.75l-3.25,1.88-3.25-1.88v-3.75l3.25-1.88zM560.95,287.44v3.75l-3.25,1.88-3.25-1.88v-3.75l3.25-1.88zM567.45,287.44v3.75l-3.25,1.88-3.25-1.88v-3.75l3.25-1.88zM573.95,287.44v3.75l-3.25,1.88-3.25-1.88v-3.75l3.25-1.88zM580.45,287.44v3.75l-3.25,1.88-3.25-1.88v-3.75l3.25-1.88zM586.95,287.44v3.75l-3.25,1.88-3.25-1.88v-3.75l3.25-1.88zM593.45,287.44v3.75l-3.25,1.88-3.25-1.88v-3.75l3.25-1.88zM599.95,287.44v3.75l-3.25,1.88-3.25-1.88v-3.75l3.25-1.88zM606.45,287.44v3.75l-3.25,1.88-3.25-1.88v-3.75l3.25-1.88zM612.95,287.44v3.75l-3.25,1.88-3.25-1.88v-3.75l3.25-1.88zM619.45,287.44v3.75l-3.25,1.88-3.25-1.88v-3.75l3.25-1.88zM625.95,287.44v3.75l-3.25,1.88-3.25-1.88v-3.75l3.25-1.88zM161.2,293.08v3.75l-3.25,1.88-3.25-1.88v-3.75l3.25-1.88zM167.7,293.08v3.75l-3.25,1.88-3.25-1.88v-3.75l3.25-1.88zM174.2,293.08v3.75l-3.25,1.88-3.25-1.88v-3.75l3.25-1.88zM180.7,293.08v3.75l-3.25,1.88-3.25-1.88v-3.75l3.25-1.88zM187.2,293.08v3.75l-3.25,1.88-3.25-1.88v-3.75l3.25-1.88zM193.7,293.08v3.75l-3.25,1.88-3.25-1.88v-3.75l3.25-1.88zM200.2,293.08v3.75l-3.25,1.88-3.25-1.88v-3.75l3.25-1.88zM206.7,293.08v3.75l-3.25,1.88-3.25-1.88v-3.75l3.25-1.88zM213.2,293.08v3.75l-3.25,1.88-3.25-1.88v-3.75l3.25-1.88zM219.7,293.08v3.75l-3.25,1.88-3.25-1.88v-3.75l3.25-1.88zM226.2,293.08v3.75l-3.25,1.88-3.25-1.88v-3.75l3.25-1.88zM232.7,293.08v3.75l-3.25,1.88-3.25-1.88v-3.75l3.25-1.88zM239.2,293.08v3.75l-3.25,1.88-3.25-1.88v-3.75l3.25-1.88zM245.7,293.08v3.75l-3.25,1.88-3.25-1.88v-3.75l3.25-1.88zM252.2,293.08v3.75l-3.25,1.88-3.25-1.88v-3.75l3.25-1.88zM258.7,293.08v3.75l-3.25,1.88-3.25-1.88v-3.75l3.25-1.88zM265.2,293.08v3.75l-3.25,1.88-3.25-1.88v-3.75l3.25-1.88zM271.7,293.08v3.75l-3.25,1.88-3.25-1.88v-3.75l3.25-1.88zM278.2,293.08v3.75l-3.25,1.88-3.25-1.88v-3.75l3.25-1.88zM284.7,293.08v3.75l-3.25,1.88-3.25-1.88v-3.75l3.25-1.88zM291.2,293.08v3.75l-3.25,1.88-3.25-1.88v-3.75l3.25-1.88zM297.7,293.08v3.75l-3.25,1.88-3.25-1.88v-3.75l3.25-1.88zM304.2,293.08v3.75l-3.25,1.88-3.25-1.88v-3.75l3.25-1.88zM310.7,293.08v3.75l-3.25,1.88-3.25-1.88v-3.75l3.25-1.88zM323.7,293.08v3.75l-3.25,1.88-3.25-1.88v-3.75l3.25-1.88zM330.2,293.08v3.75l-3.25,1.88-3.25-1.88v-3.75l3.25-1.88zM349.7,293.08v3.75l-3.25,1.88-3.25-1.88v-3.75l3.25-1.88zM356.2,293.08v3.75l-3.25,1.88-3.25-1.88v-3.75l3.25-1.88zM362.7,293.08v3.75l-3.25,1.88-3.25-1.88v-3.75l3.25-1.88zM369.2,293.08v3.75l-3.25,1.88-3.25-1.88v-3.75l3.25-1.88zM375.7,293.08v3.75l-3.25,1.88-3.25-1.88v-3.75l3.25-1.88zM382.2,293.08v3.75l-3.25,1.88-3.25-1.88v-3.75l3.25-1.88zM388.7,293.08v3.75l-3.25,1.88-3.25-1.88v-3.75l3.25-1.88zM395.2,293.08v3.75l-3.25,1.88-3.25-1.88v-3.75l3.25-1.88zM401.7,293.08v3.75l-3.25,1.88-3.25-1.88v-3.75l3.25-1.88zM453.7,293.08v3.75l-3.25,1.88-3.25-1.88v-3.75l3.25-1.88zM486.2,293.08v3.75l-3.25,1.88-3.25-1.88v-3.75l3.25-1.88zM492.7,293.08v3.75l-3.25,1.88-3.25-1.88v-3.75l3.25-1.88zM499.2,293.08v3.75l-3.25,1.88-3.25-1.88v-3.75l3.25-1.88zM505.7,293.08v3.75l-3.25,1.88-3.25-1.88v-3.75l3.25-1.88zM512.2,293.08v3.75l-3.25,1.88-3.25-1.88v-3.75l3.25-1.88zM518.7,293.08v3.75l-3.25,1.88-3.25-1.88v-3.75l3.25-1.88zM525.2,293.08v3.75l-3.25,1.88-3.25-1.88v-3.75l3.25-1.88zM531.7,293.08v3.75l-3.25,1.88-3.25-1.88v-3.75l3.25-1.88zM538.2,293.08v3.75l-3.25,1.88-3.25-1.88v-3.75l3.25-1.88zM544.7,293.08v3.75l-3.25,1.88-3.25-1.88v-3.75l3.25-1.88zM551.2,293.08v3.75l-3.25,1.88-3.25-1.88v-3.75l3.25-1.88zM557.7,293.08v3.75l-3.25,1.88-3.25-1.88v-3.75l3.25-1.88zM564.2,293.08v3.75l-3.25,1.88-3.25-1.88v-3.75l3.25-1.88zM570.7,293.08v3.75l-3.25,1.88-3.25-1.88v-3.75l3.25-1.88zM577.2,293.08v3.75l-3.25,1.88-3.25-1.88v-3.75l3.25-1.88zM583.7,293.08v3.75l-3.25,1.88-3.25-1.88v-3.75l3.25-1.88zM590.2,293.08v3.75l-3.25,1.88-3.25-1.88v-3.75l3.25-1.88zM596.7,293.08v3.75l-3.25,1.88-3.25-1.88v-3.75l3.25-1.88zM603.2,293.08v3.75l-3.25,1.88-3.25-1.88v-3.75l3.25-1.88zM609.7,293.08v3.75l-3.25,1.88-3.25-1.88v-3.75l3.25-1.88zM616.2,293.08v3.75l-3.25,1.88-3.25-1.88v-3.75l3.25-1.88zM622.7,293.08v3.75l-3.25,1.88-3.25-1.88v-3.75l3.25-1.88zM629.2,293.08v3.75l-3.25,1.88-3.25-1.88v-3.75l3.25-1.88zM131.95,298.71v3.75l-3.25,1.88-3.25-1.88v-3.75l3.25-1.88zM138.45,298.71v3.75l-3.25,1.88-3.25-1.88v-3.75l3.25-1.88zM164.45,298.71v3.75l-3.25,1.88-3.25-1.88v-3.75l3.25-1.88zM170.95,298.71v3.75l-3.25,1.88-3.25-1.88v-3.75l3.25-1.88zM177.45,298.71v3.75l-3.25,1.88-3.25-1.88v-3.75l3.25-1.88zM183.95,298.71v3.75l-3.25,1.88-3.25-1.88v-3.75l3.25-1.88zM190.45,298.71v3.75l-3.25,1.88-3.25-1.88v-3.75l3.25-1.88zM196.95,298.71v3.75l-3.25,1.88-3.25-1.88v-3.75l3.25-1.88zM209.95,298.71v3.75l-3.25,1.88-3.25-1.88v-3.75l3.25-1.88zM216.45,298.71v3.75l-3.25,1.88-3.25-1.88v-3.75l3.25-1.88zM222.95,298.71v3.75l-3.25,1.88-3.25-1.88v-3.75l3.25-1.88zM235.95,298.71v3.75l-3.25,1.88-3.25-1.88v-3.75l3.25-1.88zM242.45,298.71v3.75l-3.25,1.88-3.25-1.88v-3.75l3.25-1.88zM255.45,298.71v3.75l-3.25,1.88-3.25-1.88v-3.75l3.25-1.88zM261.95,298.71v3.75l-3.25,1.88-3.25-1.88v-3.75l3.25-1.88zM268.45,298.71v3.75l-3.25,1.88-3.25-1.88v-3.75l3.25-1.88zM274.95,298.71v3.75l-3.25,1.88-3.25-1.88v-3.75l3.25-1.88zM281.45,298.71v3.75l-3.25,1.88-3.25-1.88v-3.75l3.25-1.88zM287.95,298.71v3.75l-3.25,1.88-3.25-1.88v-3.75l3.25-1.88zM294.45,298.71v3.75l-3.25,1.88-3.25-1.88v-3.75l3.25-1.88zM300.95,298.71v3.75l-3.25,1.88-3.25-1.88v-3.75l3.25-1.88zM307.45,298.71v3.75l-3.25,1.88-3.25-1.88v-3.75l3.25-1.88zM320.45,298.71v3.75l-3.25,1.88-3.25-1.88v-3.75l3.25-1.88zM326.95,298.71v3.75l-3.25,1.88-3.25-1.88v-3.75l3.25-1.88zM372.45,298.71v3.75l-3.25,1.88-3.25-1.88v-3.75l3.25-1.88zM378.95,298.71v3.75l-3.25,1.88-3.25-1.88v-3.75l3.25-1.88zM385.45,298.71v3.75l-3.25,1.88-3.25-1.88v-3.75l3.25-1.88zM391.95,298.71v3.75l-3.25,1.88-3.25-1.88v-3.75l3.25-1.88zM502.45,298.71v3.75l-3.25,1.88-3.25-1.88v-3.75l3.25-1.88zM508.95,298.71v3.75l-3.25,1.88-3.25-1.88v-3.75l3.25-1.88zM515.45,298.71v3.75l-3.25,1.88-3.25-1.88v-3.75l3.25-1.88zM521.95,298.71v3.75l-3.25,1.88-3.25-1.88v-3.75l3.25-1.88zM528.45,298.71v3.75l-3.25,1.88-3.25-1.88v-3.75l3.25-1.88zM534.95,298.71v3.75l-3.25,1.88-3.25-1.88v-3.75l3.25-1.88zM541.45,298.71v3.75l-3.25,1.88-3.25-1.88v-3.75l3.25-1.88zM547.95,298.71v3.75l-3.25,1.88-3.25-1.88v-3.75l3.25-1.88zM554.45,298.71v3.75l-3.25,1.88-3.25-1.88v-3.75l3.25-1.88zM560.95,298.71v3.75l-3.25,1.88-3.25-1.88v-3.75l3.25-1.88zM567.45,298.71v3.75l-3.25,1.88-3.25-1.88v-3.75l3.25-1.88zM573.95,298.71v3.75l-3.25,1.88-3.25-1.88v-3.75l3.25-1.88zM580.45,298.71v3.75l-3.25,1.88-3.25-1.88v-3.75l3.25-1.88zM586.95,298.71v3.75l-3.25,1.88-3.25-1.88v-3.75l3.25-1.88zM593.45,298.71v3.75l-3.25,1.88-3.25-1.88v-3.75l3.25-1.88zM599.95,298.71v3.75l-3.25,1.88-3.25-1.88v-3.75l3.25-1.88zM606.45,298.71v3.75l-3.25,1.88-3.25-1.88v-3.75l3.25-1.88zM612.95,298.71v3.75l-3.25,1.88-3.25-1.88v-3.75l3.25-1.88zM619.45,298.71v3.75l-3.25,1.88-3.25-1.88v-3.75l3.25-1.88zM625.95,298.71v3.75l-3.25,1.88-3.25-1.88v-3.75l3.25-1.88zM128.7,304.34v3.75l-3.25,1.88-3.25-1.88v-3.75l3.25-1.88zM135.2,304.34v3.75l-3.25,1.88-3.25-1.88v-3.75l3.25-1.88zM141.7,304.34v3.75l-3.25,1.88-3.25-1.88v-3.75l3.25-1.88zM180.7,304.34v3.75l-3.25,1.88-3.25-1.88v-3.75l3.25-1.88zM187.2,304.34v3.75l-3.25,1.88-3.25-1.88v-3.75l3.25-1.88zM193.7,304.34v3.75l-3.25,1.88-3.25-1.88v-3.75l3.25-1.88zM206.7,304.34v3.75l-3.25,1.88-3.25-1.88v-3.75l3.25-1.88zM213.2,304.34v3.75l-3.25,1.88-3.25-1.88v-3.75l3.25-1.88zM219.7,304.34v3.75l-3.25,1.88-3.25-1.88v-3.75l3.25-1.88zM239.2,304.34v3.75l-3.25,1.88-3.25-1.88v-3.75l3.25-1.88zM245.7,304.34v3.75l-3.25,1.88-3.25-1.88v-3.75l3.25-1.88zM252.2,304.34v3.75l-3.25,1.88-3.25-1.88v-3.75l3.25-1.88zM258.7,304.34v3.75l-3.25,1.88-3.25-1.88v-3.75l3.25-1.88zM265.2,304.34v3.75l-3.25,1.88-3.25-1.88v-3.75l3.25-1.88zM271.7,304.34v3.75l-3.25,1.88-3.25-1.88v-3.75l3.25-1.88zM278.2,304.34v3.75l-3.25,1.88-3.25-1.88v-3.75l3.25-1.88zM284.7,304.34v3.75l-3.25,1.88-3.25-1.88v-3.75l3.25-1.88zM291.2,304.34v3.75l-3.25,1.88-3.25-1.88v-3.75l3.25-1.88zM297.7,304.34v3.75l-3.25,1.88-3.25-1.88v-3.75l3.25-1.88zM304.2,304.34v3.75l-3.25,1.88-3.25-1.88v-3.75l3.25-1.88zM310.7,304.34v3.75l-3.25,1.88-3.25-1.88v-3.75l3.25-1.88zM317.2,304.34v3.75l-3.25,1.88-3.25-1.88v-3.75l3.25-1.88zM323.7,304.34v3.75l-3.25,1.88-3.25-1.88v-3.75l3.25-1.88zM343.2,304.34v3.75l-3.25,1.88-3.25-1.88v-3.75l3.25-1.88zM505.7,304.34v3.75l-3.25,1.88-3.25-1.88v-3.75l3.25-1.88zM512.2,304.34v3.75l-3.25,1.88-3.25-1.88v-3.75l3.25-1.88zM518.7,304.34v3.75l-3.25,1.88-3.25-1.88v-3.75l3.25-1.88zM525.2,304.34v3.75l-3.25,1.88-3.25-1.88v-3.75l3.25-1.88zM531.7,304.34v3.75l-3.25,1.88-3.25-1.88v-3.75l3.25-1.88zM538.2,304.34v3.75l-3.25,1.88-3.25-1.88v-3.75l3.25-1.88zM544.7,304.34v3.75l-3.25,1.88-3.25-1.88v-3.75l3.25-1.88zM551.2,304.34v3.75l-3.25,1.88-3.25-1.88v-3.75l3.25-1.88zM557.7,304.34v3.75l-3.25,1.88-3.25-1.88v-3.75l3.25-1.88zM564.2,304.34v3.75l-3.25,1.88-3.25-1.88v-3.75l3.25-1.88zM570.7,304.34v3.75l-3.25,1.88-3.25-1.88v-3.75l3.25-1.88zM577.2,304.34v3.75l-3.25,1.88-3.25-1.88v-3.75l3.25-1.88zM583.7,304.34v3.75l-3.25,1.88-3.25-1.88v-3.75l3.25-1.88zM590.2,304.34v3.75l-3.25,1.88-3.25-1.88v-3.75l3.25-1.88zM596.7,304.34v3.75l-3.25,1.88-3.25-1.88v-3.75l3.25-1.88zM603.2,304.34v3.75l-3.25,1.88-3.25-1.88v-3.75l3.25-1.88zM609.7,304.34v3.75l-3.25,1.88-3.25-1.88v-3.75l3.25-1.88zM616.2,304.34v3.75l-3.25,1.88-3.25-1.88v-3.75l3.25-1.88zM622.7,304.34v3.75l-3.25,1.88-3.25-1.88v-3.75l3.25-1.88zM131.95,309.98v3.75l-3.25,1.88-3.25-1.88v-3.75l3.25-1.88zM138.45,309.98v3.75l-3.25,1.88-3.25-1.88v-3.75l3.25-1.88zM183.95,309.98v3.75l-3.25,1.88-3.25-1.88v-3.75l3.25-1.88zM190.45,309.98v3.75l-3.25,1.88-3.25-1.88v-3.75l3.25-1.88zM203.45,309.98v3.75l-3.25,1.88-3.25-1.88v-3.75l3.25-1.88zM209.95,309.98v3.75l-3.25,1.88-3.25-1.88v-3.75l3.25-1.88zM216.45,309.98v3.75l-3.25,1.88-3.25-1.88v-3.75l3.25-1.88zM235.95,309.98v3.75l-3.25,1.88-3.25-1.88v-3.75l3.25-1.88zM242.45,309.98v3.75l-3.25,1.88-3.25-1.88v-3.75l3.25-1.88zM248.95,309.98v3.75l-3.25,1.88-3.25-1.88v-3.75l3.25-1.88zM255.45,309.98v3.75l-3.25,1.88-3.25-1.88v-3.75l3.25-1.88zM261.95,309.98v3.75l-3.25,1.88-3.25-1.88v-3.75l3.25-1.88zM268.45,309.98v3.75l-3.25,1.88-3.25-1.88v-3.75l3.25-1.88zM274.95,309.98v3.75l-3.25,1.88-3.25-1.88v-3.75l3.25-1.88zM281.45,309.98v3.75l-3.25,1.88-3.25-1.88v-3.75l3.25-1.88zM287.95,309.98v3.75l-3.25,1.88-3.25-1.88v-3.75l3.25-1.88zM294.45,309.98v3.75l-3.25,1.88-3.25-1.88v-3.75l3.25-1.88zM300.95,309.98v3.75l-3.25,1.88-3.25-1.88v-3.75l3.25-1.88zM307.45,309.98v3.75l-3.25,1.88-3.25-1.88v-3.75l3.25-1.88zM313.95,309.98v3.75l-3.25,1.88-3.25-1.88v-3.75l3.25-1.88zM320.45,309.98v3.75l-3.25,1.88-3.25-1.88v-3.75l3.25-1.88zM326.95,309.98v3.75l-3.25,1.88-3.25-1.88v-3.75l3.25-1.88zM333.45,309.98v3.75l-3.25,1.88-3.25-1.88v-3.75l3.25-1.88zM339.95,309.98v3.75l-3.25,1.88-3.25-1.88v-3.75l3.25-1.88zM346.45,309.98v3.75l-3.25,1.88-3.25-1.88v-3.75l3.25-1.88zM508.95,309.98v3.75l-3.25,1.88-3.25-1.88v-3.75l3.25-1.88zM515.45,309.98v3.75l-3.25,1.88-3.25-1.88v-3.75l3.25-1.88zM528.45,309.98v3.75l-3.25,1.88-3.25-1.88v-3.75l3.25-1.88zM547.95,309.98v3.75l-3.25,1.88-3.25-1.88v-3.75l3.25-1.88zM554.45,309.98v3.75l-3.25,1.88-3.25-1.88v-3.75l3.25-1.88zM560.95,309.98v3.75l-3.25,1.88-3.25-1.88v-3.75l3.25-1.88zM573.95,309.98v3.75l-3.25,1.88-3.25-1.88v-3.75l3.25-1.88zM580.45,309.98v3.75l-3.25,1.88-3.25-1.88v-3.75l3.25-1.88zM586.95,309.98v3.75l-3.25,1.88-3.25-1.88v-3.75l3.25-1.88zM599.95,309.98v3.75l-3.25,1.88-3.25-1.88v-3.75l3.25-1.88zM606.45,309.98v3.75l-3.25,1.88-3.25-1.88v-3.75l3.25-1.88zM612.95,309.98v3.75l-3.25,1.88-3.25-1.88v-3.75l3.25-1.88zM187.2,315.61v3.75l-3.25,1.88-3.25-1.88v-3.75l3.25-1.88zM193.7,315.61v3.75l-3.25,1.88-3.25-1.88v-3.75l3.25-1.88zM200.2,315.61v3.75l-3.25,1.88-3.25-1.88v-3.75l3.25-1.88zM206.7,315.61v3.75l-3.25,1.88-3.25-1.88v-3.75l3.25-1.88zM213.2,315.61v3.75l-3.25,1.88-3.25-1.88v-3.75l3.25-1.88zM219.7,315.61v3.75l-3.25,1.88-3.25-1.88v-3.75l3.25-1.88zM226.2,315.61v3.75l-3.25,1.88-3.25-1.88v-3.75l3.25-1.88zM239.2,315.61v3.75l-3.25,1.88-3.25-1.88v-3.75l3.25-1.88zM245.7,315.61v3.75l-3.25,1.88-3.25-1.88v-3.75l3.25-1.88zM252.2,315.61v3.75l-3.25,1.88-3.25-1.88v-3.75l3.25-1.88zM258.7,315.61v3.75l-3.25,1.88-3.25-1.88v-3.75l3.25-1.88zM265.2,315.61v3.75l-3.25,1.88-3.25-1.88v-3.75l3.25-1.88zM271.7,315.61v3.75l-3.25,1.88-3.25-1.88v-3.75l3.25-1.88zM278.2,315.61v3.75l-3.25,1.88-3.25-1.88v-3.75l3.25-1.88zM284.7,315.61v3.75l-3.25,1.88-3.25-1.88v-3.75l3.25-1.88zM291.2,315.61v3.75l-3.25,1.88-3.25-1.88v-3.75l3.25-1.88zM297.7,315.61v3.75l-3.25,1.88-3.25-1.88v-3.75l3.25-1.88zM304.2,315.61v3.75l-3.25,1.88-3.25-1.88v-3.75l3.25-1.88zM317.2,315.61v3.75l-3.25,1.88-3.25-1.88v-3.75l3.25-1.88zM323.7,315.61v3.75l-3.25,1.88-3.25-1.88v-3.75l3.25-1.88zM330.2,315.61v3.75l-3.25,1.88-3.25-1.88v-3.75l3.25-1.88zM336.7,315.61v3.75l-3.25,1.88-3.25-1.88v-3.75l3.25-1.88zM343.2,315.61v3.75l-3.25,1.88-3.25-1.88v-3.75l3.25-1.88zM349.7,315.61v3.75l-3.25,1.88-3.25-1.88v-3.75l3.25-1.88zM551.2,315.61v3.75l-3.25,1.88-3.25-1.88v-3.75l3.25-1.88zM557.7,315.61v3.75l-3.25,1.88-3.25-1.88v-3.75l3.25-1.88zM564.2,315.61v3.75l-3.25,1.88-3.25-1.88v-3.75l3.25-1.88zM570.7,315.61v3.75l-3.25,1.88-3.25-1.88v-3.75l3.25-1.88zM577.2,315.61v3.75l-3.25,1.88-3.25-1.88v-3.75l3.25-1.88zM583.7,315.61v3.75l-3.25,1.88-3.25-1.88v-3.75l3.25-1.88zM590.2,315.61v3.75l-3.25,1.88-3.25-1.88v-3.75l3.25-1.88zM596.7,315.61v3.75l-3.25,1.88-3.25-1.88v-3.75l3.25-1.88zM603.2,315.61v3.75l-3.25,1.88-3.25-1.88v-3.75l3.25-1.88zM609.7,315.61v3.75l-3.25,1.88-3.25-1.88v-3.75l3.25-1.88zM183.95,321.24v3.75l-3.25,1.88-3.25-1.88v-3.75l3.25-1.88zM190.45,321.24v3.75l-3.25,1.88-3.25-1.88v-3.75l3.25-1.88zM196.95,321.24v3.75l-3.25,1.88-3.25-1.88v-3.75l3.25-1.88zM216.45,321.24v3.75l-3.25,1.88-3.25-1.88v-3.75l3.25-1.88zM222.95,321.24v3.75l-3.25,1.88-3.25-1.88v-3.75l3.25-1.88zM248.95,321.24v3.75l-3.25,1.88-3.25-1.88v-3.75l3.25-1.88zM255.45,321.24v3.75l-3.25,1.88-3.25-1.88v-3.75l3.25-1.88zM261.95,321.24v3.75l-3.25,1.88-3.25-1.88v-3.75l3.25-1.88zM268.45,321.24v3.75l-3.25,1.88-3.25-1.88v-3.75l3.25-1.88zM274.95,321.24v3.75l-3.25,1.88-3.25-1.88v-3.75l3.25-1.88zM294.45,321.24v3.75l-3.25,1.88-3.25-1.88v-3.75l3.25-1.88zM300.95,321.24v3.75l-3.25,1.88-3.25-1.88v-3.75l3.25-1.88zM320.45,321.24v3.75l-3.25,1.88-3.25-1.88v-3.75l3.25-1.88zM326.95,321.24v3.75l-3.25,1.88-3.25-1.88v-3.75l3.25-1.88zM333.45,321.24v3.75l-3.25,1.88-3.25-1.88v-3.75l3.25-1.88zM339.95,321.24v3.75l-3.25,1.88-3.25-1.88v-3.75l3.25-1.88zM346.45,321.24v3.75l-3.25,1.88-3.25-1.88v-3.75l3.25-1.88zM547.95,321.24v3.75l-3.25,1.88-3.25-1.88v-3.75l3.25-1.88zM554.45,321.24v3.75l-3.25,1.88-3.25-1.88v-3.75l3.25-1.88zM560.95,321.24v3.75l-3.25,1.88-3.25-1.88v-3.75l3.25-1.88zM567.45,321.24v3.75l-3.25,1.88-3.25-1.88v-3.75l3.25-1.88zM573.95,321.24v3.75l-3.25,1.88-3.25-1.88v-3.75l3.25-1.88zM580.45,321.24v3.75l-3.25,1.88-3.25-1.88v-3.75l3.25-1.88zM586.95,321.24v3.75l-3.25,1.88-3.25-1.88v-3.75l3.25-1.88zM593.45,321.24v3.75l-3.25,1.88-3.25-1.88v-3.75l3.25-1.88zM599.95,321.24v3.75l-3.25,1.88-3.25-1.88v-3.75l3.25-1.88zM606.45,321.24v3.75l-3.25,1.88-3.25-1.88v-3.75l3.25-1.88zM180.7,326.87v3.75l-3.25,1.88-3.25-1.88v-3.75l3.25-1.88zM187.2,326.87v3.75l-3.25,1.88-3.25-1.88v-3.75l3.25-1.88zM193.7,326.87v3.75l-3.25,1.88-3.25-1.88v-3.75l3.25-1.88zM252.2,326.87v3.75l-3.25,1.88-3.25-1.88v-3.75l3.25-1.88zM258.7,326.87v3.75l-3.25,1.88-3.25-1.88v-3.75l3.25-1.88zM265.2,326.87v3.75l-3.25,1.88-3.25-1.88v-3.75l3.25-1.88zM271.7,326.87v3.75l-3.25,1.88-3.25-1.88v-3.75l3.25-1.88zM278.2,326.87v3.75l-3.25,1.88-3.25-1.88v-3.75l3.25-1.88zM297.7,326.87v3.75l-3.25,1.88-3.25-1.88v-3.75l3.25-1.88zM336.7,326.87v3.75l-3.25,1.88-3.25-1.88v-3.75l3.25-1.88zM544.7,326.87v3.75l-3.25,1.88-3.25-1.88v-3.75l3.25-1.88zM551.2,326.87v3.75l-3.25,1.88-3.25-1.88v-3.75l3.25-1.88zM557.7,326.87v3.75l-3.25,1.88-3.25-1.88v-3.75l3.25-1.88zM564.2,326.87v3.75l-3.25,1.88-3.25-1.88v-3.75l3.25-1.88zM570.7,326.87v3.75l-3.25,1.88-3.25-1.88v-3.75l3.25-1.88zM577.2,326.87v3.75l-3.25,1.88-3.25-1.88v-3.75l3.25-1.88zM583.7,326.87v3.75l-3.25,1.88-3.25-1.88v-3.75l3.25-1.88zM590.2,326.87v3.75l-3.25,1.88-3.25-1.88v-3.75l3.25-1.88zM164.45,332.51v3.75l-3.25,1.88-3.25-1.88v-3.75l3.25-1.88zM170.95,332.51v3.75l-3.25,1.88-3.25-1.88v-3.75l3.25-1.88zM177.45,332.51v3.75l-3.25,1.88-3.25-1.88v-3.75l3.25-1.88zM183.95,332.51v3.75l-3.25,1.88-3.25-1.88v-3.75l3.25-1.88zM255.45,332.51v3.75l-3.25,1.88-3.25-1.88v-3.75l3.25-1.88zM261.95,332.51v3.75l-3.25,1.88-3.25-1.88v-3.75l3.25-1.88zM268.45,332.51v3.75l-3.25,1.88-3.25-1.88v-3.75l3.25-1.88zM274.95,332.51v3.75l-3.25,1.88-3.25-1.88v-3.75l3.25-1.88zM294.45,332.51v3.75l-3.25,1.88-3.25-1.88v-3.75l3.25-1.88zM515.45,332.51v3.75l-3.25,1.88-3.25-1.88v-3.75l3.25-1.88zM521.95,332.51v3.75l-3.25,1.88-3.25-1.88v-3.75l3.25-1.88zM528.45,332.51v3.75l-3.25,1.88-3.25-1.88v-3.75l3.25-1.88zM534.95,332.51v3.75l-3.25,1.88-3.25-1.88v-3.75l3.25-1.88zM541.45,332.51v3.75l-3.25,1.88-3.25-1.88v-3.75l3.25-1.88zM547.95,332.51v3.75l-3.25,1.88-3.25-1.88v-3.75l3.25-1.88zM554.45,332.51v3.75l-3.25,1.88-3.25-1.88v-3.75l3.25-1.88zM560.95,332.51v3.75l-3.25,1.88-3.25-1.88v-3.75l3.25-1.88zM567.45,332.51v3.75l-3.25,1.88-3.25-1.88v-3.75l3.25-1.88zM573.95,332.51v3.75l-3.25,1.88-3.25-1.88v-3.75l3.25-1.88zM580.45,332.51v3.75l-3.25,1.88-3.25-1.88v-3.75l3.25-1.88zM586.95,332.51v3.75l-3.25,1.88-3.25-1.88v-3.75l3.25-1.88zM167.7,338.14v3.75l-3.25,1.88-3.25-1.88v-3.75l3.25-1.88zM258.7,338.14v3.75l-3.25,1.88-3.25-1.88v-3.75l3.25-1.88zM265.2,338.14v3.75l-3.25,1.88-3.25-1.88v-3.75l3.25-1.88zM271.7,338.14v3.75l-3.25,1.88-3.25-1.88v-3.75l3.25-1.88zM278.2,338.14v3.75l-3.25,1.88-3.25-1.88v-3.75l3.25-1.88zM284.7,338.14v3.75l-3.25,1.88-3.25-1.88v-3.75l3.25-1.88zM291.2,338.14v3.75l-3.25,1.88-3.25-1.88v-3.75l3.25-1.88zM297.7,338.14v3.75l-3.25,1.88-3.25-1.88v-3.75l3.25-1.88zM304.2,338.14v3.75l-3.25,1.88-3.25-1.88v-3.75l3.25-1.88zM525.2,338.14v3.75l-3.25,1.88-3.25-1.88v-3.75l3.25-1.88zM531.7,338.14v3.75l-3.25,1.88-3.25-1.88v-3.75l3.25-1.88zM538.2,338.14v3.75l-3.25,1.88-3.25-1.88v-3.75l3.25-1.88zM544.7,338.14v3.75l-3.25,1.88-3.25-1.88v-3.75l3.25-1.88zM551.2,338.14v3.75l-3.25,1.88-3.25-1.88v-3.75l3.25-1.88zM557.7,338.14v3.75l-3.25,1.88-3.25-1.88v-3.75l3.25-1.88zM564.2,338.14v3.75l-3.25,1.88-3.25-1.88v-3.75l3.25-1.88zM570.7,338.14v3.75l-3.25,1.88-3.25-1.88v-3.75l3.25-1.88zM577.2,338.14v3.75l-3.25,1.88-3.25-1.88v-3.75l3.25-1.88zM255.45,343.77v3.75l-3.25,1.88-3.25-1.88v-3.75l3.25-1.88zM261.95,343.77v3.75l-3.25,1.88-3.25-1.88v-3.75l3.25-1.88zM274.95,343.77v3.75l-3.25,1.88-3.25-1.88v-3.75l3.25-1.88zM281.45,343.77v3.75l-3.25,1.88-3.25-1.88v-3.75l3.25-1.88zM287.95,343.77v3.75l-3.25,1.88-3.25-1.88v-3.75l3.25-1.88zM294.45,343.77v3.75l-3.25,1.88-3.25-1.88v-3.75l3.25-1.88zM300.95,343.77v3.75l-3.25,1.88-3.25-1.88v-3.75l3.25-1.88zM307.45,343.77v3.75l-3.25,1.88-3.25-1.88v-3.75l3.25-1.88zM313.95,343.77v3.75l-3.25,1.88-3.25-1.88v-3.75l3.25-1.88zM541.45,343.77v3.75l-3.25,1.88-3.25-1.88v-3.75l3.25-1.88zM547.95,343.77v3.75l-3.25,1.88-3.25-1.88v-3.75l3.25-1.88zM554.45,343.77v3.75l-3.25,1.88-3.25-1.88v-3.75l3.25-1.88zM560.95,343.77v3.75l-3.25,1.88-3.25-1.88v-3.75l3.25-1.88zM258.7,349.41v3.75l-3.25,1.88-3.25-1.88v-3.75l3.25-1.88zM265.2,349.41v3.75l-3.25,1.88-3.25-1.88v-3.75l3.25-1.88zM278.2,349.41v3.75l-3.25,1.88-3.25-1.88v-3.75l3.25-1.88zM284.7,349.41v3.75l-3.25,1.88-3.25-1.88v-3.75l3.25-1.88zM291.2,349.41v3.75l-3.25,1.88-3.25-1.88v-3.75l3.25-1.88zM297.7,349.41v3.75l-3.25,1.88-3.25-1.88v-3.75l3.25-1.88zM304.2,349.41v3.75l-3.25,1.88-3.25-1.88v-3.75l3.25-1.88zM310.7,349.41v3.75l-3.25,1.88-3.25-1.88v-3.75l3.25-1.88zM317.2,349.41v3.75l-3.25,1.88-3.25-1.88v-3.75l3.25-1.88zM479.7,349.41v3.75l-3.25,1.88-3.25-1.88v-3.75l3.25-1.88zM486.2,349.41v3.75l-3.25,1.88-3.25-1.88v-3.75l3.25-1.88zM538.2,349.41v3.75l-3.25,1.88-3.25-1.88v-3.75l3.25-1.88zM544.7,349.41v3.75l-3.25,1.88-3.25-1.88v-3.75l3.25-1.88zM281.45,355.04v3.75l-3.25,1.88-3.25-1.88v-3.75l3.25-1.88zM287.95,355.04v3.75l-3.25,1.88-3.25-1.88v-3.75l3.25-1.88zM294.45,355.04v3.75l-3.25,1.88-3.25-1.88v-3.75l3.25-1.88zM300.95,355.04v3.75l-3.25,1.88-3.25-1.88v-3.75l3.25-1.88zM307.45,355.04v3.75l-3.25,1.88-3.25-1.88v-3.75l3.25-1.88zM313.95,355.04v3.75l-3.25,1.88-3.25-1.88v-3.75l3.25-1.88zM320.45,355.04v3.75l-3.25,1.88-3.25-1.88v-3.75l3.25-1.88zM326.95,355.04v3.75l-3.25,1.88-3.25-1.88v-3.75l3.25-1.88zM333.45,355.04v3.75l-3.25,1.88-3.25-1.88v-3.75l3.25-1.88zM456.95,355.04v3.75l-3.25,1.88-3.25-1.88v-3.75l3.25-1.88zM463.45,355.04v3.75l-3.25,1.88-3.25-1.88v-3.75l3.25-1.88zM469.95,355.04v3.75l-3.25,1.88-3.25-1.88v-3.75l3.25-1.88zM476.45,355.04v3.75l-3.25,1.88-3.25-1.88v-3.75l3.25-1.88zM482.95,355.04v3.75l-3.25,1.88-3.25-1.88v-3.75l3.25-1.88zM489.45,355.04v3.75l-3.25,1.88-3.25-1.88v-3.75l3.25-1.88zM521.95,355.04v3.75l-3.25,1.88-3.25-1.88v-3.75l3.25-1.88zM528.45,355.04v3.75l-3.25,1.88-3.25-1.88v-3.75l3.25-1.88zM284.7,360.67v3.75l-3.25,1.88-3.25-1.88v-3.75l3.25-1.88zM291.2,360.67v3.75l-3.25,1.88-3.25-1.88v-3.75l3.25-1.88zM297.7,360.67v3.75l-3.25,1.88-3.25-1.88v-3.75l3.25-1.88zM304.2,360.67v3.75l-3.25,1.88-3.25-1.88v-3.75l3.25-1.88zM310.7,360.67v3.75l-3.25,1.88-3.25-1.88v-3.75l3.25-1.88zM323.7,360.67v3.75l-3.25,1.88-3.25-1.88v-3.75l3.25-1.88zM330.2,360.67v3.75l-3.25,1.88-3.25-1.88v-3.75l3.25-1.88zM336.7,360.67v3.75l-3.25,1.88-3.25-1.88v-3.75l3.25-1.88zM460.2,360.67v3.75l-3.25,1.88-3.25-1.88v-3.75l3.25-1.88zM466.7,360.67v3.75l-3.25,1.88-3.25-1.88v-3.75l3.25-1.88zM492.7,360.67v3.75l-3.25,1.88-3.25-1.88v-3.75l3.25-1.88zM287.95,366.31v3.75l-3.25,1.88-3.25-1.88v-3.75l3.25-1.88zM294.45,366.31v3.75l-3.25,1.88-3.25-1.88v-3.75l3.25-1.88zM300.95,366.31v3.75l-3.25,1.88-3.25-1.88v-3.75l3.25-1.88zM307.45,366.31v3.75l-3.25,1.88-3.25-1.88v-3.75l3.25-1.88zM313.95,366.31v3.75l-3.25,1.88-3.25-1.88v-3.75l3.25-1.88zM326.95,366.31v3.75l-3.25,1.88-3.25-1.88v-3.75l3.25-1.88zM333.45,366.31v3.75l-3.25,1.88-3.25-1.88v-3.75l3.25-1.88zM339.95,366.31v3.75l-3.25,1.88-3.25-1.88v-3.75l3.25-1.88zM456.95,366.31v3.75l-3.25,1.88-3.25-1.88v-3.75l3.25-1.88zM489.45,366.31v3.75l-3.25,1.88-3.25-1.88v-3.75l3.25-1.88zM495.95,366.31v3.75l-3.25,1.88-3.25-1.88v-3.75l3.25-1.88zM291.2,371.94v3.75l-3.25,1.88-3.25-1.88v-3.75l3.25-1.88zM297.7,371.94v3.75l-3.25,1.88-3.25-1.88v-3.75l3.25-1.88zM304.2,371.94v3.75l-3.25,1.88-3.25-1.88v-3.75l3.25-1.88zM310.7,371.94v3.75l-3.25,1.88-3.25-1.88v-3.75l3.25-1.88zM317.2,371.94v3.75l-3.25,1.88-3.25-1.88v-3.75l3.25-1.88zM323.7,371.94v3.75l-3.25,1.88-3.25-1.88v-3.75l3.25-1.88zM330.2,371.94v3.75l-3.25,1.88-3.25-1.88v-3.75l3.25-1.88zM336.7,371.94v3.75l-3.25,1.88-3.25-1.88v-3.75l3.25-1.88zM300.95,377.57v3.75l-3.25,1.88-3.25-1.88v-3.75l3.25-1.88zM307.45,377.57v3.75l-3.25,1.88-3.25-1.88v-3.75l3.25-1.88zM313.95,377.57v3.75l-3.25,1.88-3.25-1.88v-3.75l3.25-1.88zM320.45,377.57v3.75l-3.25,1.88-3.25-1.88v-3.75l3.25-1.88zM326.95,377.57v3.75l-3.25,1.88-3.25-1.88v-3.75l3.25-1.88zM333.45,377.57v3.75l-3.25,1.88-3.25-1.88v-3.75l3.25-1.88zM339.95,377.57v3.75l-3.25,1.88-3.25-1.88v-3.75l3.25-1.88zM456.95,377.57v3.75l-3.25,1.88-3.25-1.88v-3.75l3.25-1.88zM310.7,383.2v3.75l-3.25,1.88-3.25-1.88v-3.75l3.25-1.88zM323.7,383.2v3.75l-3.25,1.88-3.25-1.88v-3.75l3.25-1.88zM330.2,383.2v3.75l-3.25,1.88-3.25-1.88v-3.75l3.25-1.88zM336.7,383.2v3.75l-3.25,1.88-3.25-1.88v-3.75l3.25-1.88zM343.2,383.2v3.75l-3.25,1.88-3.25-1.88v-3.75l3.25-1.88zM460.2,383.2v3.75l-3.25,1.88-3.25-1.88v-3.75l3.25-1.88zM313.95,388.84v3.75l-3.25,1.88-3.25-1.88v-3.75l3.25-1.88zM320.45,388.84v3.75l-3.25,1.88-3.25-1.88v-3.75l3.25-1.88zM339.95,388.84v3.75l-3.25,1.88-3.25-1.88v-3.75l3.25-1.88zM346.45,388.84v3.75l-3.25,1.88-3.25-1.88v-3.75l3.25-1.88zM352.95,388.84v3.75l-3.25,1.88-3.25-1.88v-3.75l3.25-1.88zM359.45,388.84v3.75l-3.25,1.88-3.25-1.88v-3.75l3.25-1.88zM463.45,388.84v3.75l-3.25,1.88-3.25-1.88v-3.75l3.25-1.88zM356.2,394.47v3.75l-3.25,1.88-3.25-1.88v-3.75l3.25-1.88zM362.7,394.47v3.75l-3.25,1.88-3.25-1.88v-3.75l3.25-1.88zM453.7,394.47v3.75l-3.25,1.88-3.25-1.88v-3.75l3.25-1.88zM460.2,394.47v3.75l-3.25,1.88-3.25-1.88v-3.75l3.25-1.88zM443.95,400.1v3.75l-3.25,1.88-3.25-1.88v-3.75l3.25-1.88zM343.2,405.74v3.75l-3.25,1.88-3.25-1.88v-3.75l3.25-1.88zM356.2,405.74v3.75l-3.25,1.88-3.25-1.88v-3.75l3.25-1.88zM359.45,411.37v3.75l-3.25,1.88-3.25-1.88v-3.75l3.25-1.88zM382.2,439.53v3.75l-3.25,1.88-3.25-1.88v-3.75l3.25-1.88z"/>
<path fill="#78c679" stroke="rgba(120,120,120,0.12)" stroke-width="1" d="M437.45,197.32v3.75l-3.25,1.88-3.25-1.88v-3.75l3.25-1.88zM421.2,214.21v3.75l-3.25,1.88-3.25-1.88v-3.75l3.25-1.88zM424.45,231.11v3.75l-3.25,1.88-3.25-1.88v-3.75l3.25-1.88zM430.95,231.11v3.75l-3.25,1.88-3.25-1.88v-3.75l3.25-1.88zM502.45,231.11v3.75l-3.25,1.88-3.25-1.88v-3.75l3.25-1.88zM427.7,236.75v3.75l-3.25,1.88-3.25-1.88v-3.75l3.25-1.88zM434.2,236.75v3.75l-3.25,1.88-3.25-1.88v-3.75l3.25-1.88zM495.95,242.38v3.75l-3.25,1.88-3.25-1.88v-3.75l3.25-1.88zM486.2,248.01v3.75l-3.25,1.88-3.25-1.88v-3.75l3.25-1.88zM492.7,248.01v3.75l-3.25,1.88-3.25-1.88v-3.75l3.25-1.88zM417.95,253.65v3.75l-3.25,1.88-3.25-1.88v-3.75l3.25-1.88zM482.95,253.65v3.75l-3.25,1.88-3.25-1.88v-3.75l3.25-1.88zM489.45,253.65v3.75l-3.25,1.88-3.25-1.88v-3.75l3.25-1.88zM427.7,259.28v3.75l-3.25,1.88-3.25-1.88v-3.75l3.25-1.88zM434.2,259.28v3.75l-3.25,1.88-3.25-1.88v-3.75l3.25-1.88zM466.7,259.28v3.75l-3.25,1.88-3.25-1.88v-3.75l3.25-1.88zM473.2,259.28v3.75l-3.25,1.88-3.25-1.88v-3.75l3.25-1.88zM424.45,264.91v3.75l-3.25,1.88-3.25-1.88v-3.75l3.25-1.88zM430.95,264.91v3.75l-3.25,1.88-3.25-1.88v-3.75l3.25-1.88zM450.45,264.91v3.75l-3.25,1.88-3.25-1.88v-3.75l3.25-1.88zM456.95,264.91v3.75l-3.25,1.88-3.25-1.88v-3.75l3.25-1.88zM463.45,264.91v3.75l-3.25,1.88-3.25-1.88v-3.75l3.25-1.88zM469.95,264.91v3.75l-3.25,1.88-3.25-1.88v-3.75l3.25-1.88zM476.45,264.91v3.75l-3.25,1.88-3.25-1.88v-3.75l3.25-1.88zM421.2,270.54v3.75l-3.25,1.88-3.25-1.88v-3.75l3.25-1.88zM427.7,270.54v3.75l-3.25,1.88-3.25-1.88v-3.75l3.25-1.88zM434.2,270.54v3.75l-3.25,1.88-3.25-1.88v-3.75l3.25-1.88zM466.7,270.54v3.75l-3.25,1.88-3.25-1.88v-3.75l3.25-1.88zM473.2,270.54v3.75l-3.25,1.88-3.25-1.88v-3.75l3.25-1.88zM479.7,270.54v3.75l-3.25,1.88-3.25-1.88v-3.75l3.25-1.88zM463.45,276.18v3.75l-3.25,1.88-3.25-1.88v-3.75l3.25-1.88zM304.2,281.81v3.75l-3.25,1.88-3.25-1.88v-3.75l3.25-1.88zM414.7,281.81v3.75l-3.25,1.88-3.25-1.88v-3.75l3.25-1.88zM421.2,281.81v3.75l-3.25,1.88-3.25-1.88v-3.75l3.25-1.88zM427.7,281.81v3.75l-3.25,1.88-3.25-1.88v-3.75l3.25-1.88zM434.2,281.81v3.75l-3.25,1.88-3.25-1.88v-3.75l3.25-1.88zM466.7,281.81v3.75l-3.25,1.88-3.25-1.88v-3.75l3.25-1.88zM320.45,287.44v3.75l-3.25,1.88-3.25-1.88v-3.75l3.25-1.88zM411.45,287.44v3.75l-3.25,1.88-3.25-1.88v-3.75l3.25-1.88zM417.95,287.44v3.75l-3.25,1.88-3.25-1.88v-3.75l3.25-1.88zM424.45,287.44v3.75l-3.25,1.88-3.25-1.88v-3.75l3.25-1.88zM430.95,287.44v3.75l-3.25,1.88-3.25-1.88v-3.75l3.25-1.88zM463.45,287.44v3.75l-3.25,1.88-3.25-1.88v-3.75l3.25-1.88zM469.95,287.44v3.75l-3.25,1.88-3.25-1.88v-3.75l3.25-1.88zM317.2,293.08v3.75l-3.25,1.88-3.25-1.88v-3.75l3.25-1.88zM336.7,293.08v3.75l-3.25,1.88-3.25-1.88v-3.75l3.25-1.88zM343.2,293.08v3.75l-3.25,1.88-3.25-1.88v-3.75l3.25-1.88zM408.2,293.08v3.75l-3.25,1.88-3.25-1.88v-3.75l3.25-1.88zM414.7,293.08v3.75l-3.25,1.88-3.25-1.88v-3.75l3.25-1.88zM421.2,293.08v3.75l-3.25,1.88-3.25-1.88v-3.75l3.25-1.88zM434.2,293.08v3.75l-3.25,1.88-3.25-1.88v-3.75l3.25-1.88zM440.7,293.08v3.75l-3.25,1.88-3.25-1.88v-3.75l3.25-1.88zM447.2,293.08v3.75l-3.25,1.88-3.25-1.88v-3.75l3.25-1.88zM460.2,293.08v3.75l-3.25,1.88-3.25-1.88v-3.75l3.25-1.88zM466.7,293.08v3.75l-3.25,1.88-3.25-1.88v-3.75l3.25-1.88zM473.2,293.08v3.75l-3.25,1.88-3.25-1.88v-3.75l3.25-1.88zM479.7,293.08v3.75l-3.25,1.88-3.25-1.88v-3.75l3.25-1.88zM248.95,298.71v3.75l-3.25,1.88-3.25-1.88v-3.75l3.25-1.88zM313.95,298.71v3.75l-3.25,1.88-3.25-1.88v-3.75l3.25-1.88zM333.45,298.71v3.75l-3.25,1.88-3.25-1.88v-3.75l3.25-1.88zM339.95,298.71v3.75l-3.25,1.88-3.25-1.88v-3.75l3.25-1.88zM346.45,298.71v3.75l-3.25,1.88-3.25-1.88v-3.75l3.25-1.88zM352.95,298.71v3.75l-3.25,1.88-3.25-1.88v-3.75l3.25-1.88zM359.45,298.71v3.75l-3.25,1.88-3.25-1.88v-3.75l3.25-1.88zM365.95,298.71v3.75l-3.25,1.88-3.25-1.88v-3.75l3.25-1.88zM398.45,298.71v3.75l-3.25,1.88-3.25-1.88v-3.75l3.25-1.88zM404.95,298.71v3.75l-3.25,1.88-3.25-1.88v-3.75l3.25-1.88zM411.45,298.71v3.75l-3.25,1.88-3.25-1.88v-3.75l3.25-1.88zM417.95,298.71v3.75l-3.25,1.88-3.25-1.88v-3.75l3.25-1.88zM430.95,298.71v3.75l-3.25,1.88-3.25-1.88v-3.75l3.25-1.88zM437.45,298.71v3.75l-3.25,1.88-3.25-1.88v-3.75l3.25-1.88zM443.95,298.71v3.75l-3.25,1.88-3.25-1.88v-3.75l3.25-1.88zM450.45,298.71v3.75l-3.25,1.88-3.25-1.88v-3.75l3.25-1.88zM456.95,298.71v3.75l-3.25,1.88-3.25-1.88v-3.75l3.25-1.88zM469.95,298.71v3.75l-3.25,1.88-3.25-1.88v-3.75l3.25-1.88zM476.45,298.71v3.75l-3.25,1.88-3.25-1.88v-3.75l3.25-1.88zM482.95,298.71v3.75l-3.25,1.88-3.25-1.88v-3.75l3.25-1.88zM489.45,298.71v3.75l-3.25,1.88-3.25-1.88v-3.75l3.25-1.88zM495.95,298.71v3.75l-3.25,1.88-3.25-1.88v-3.75l3.25-1.88zM330.2,304.34v3.75l-3.25,1.88-3.25-1.88v-3.75l3.25-1.88zM336.7,304.34v3.75l-3.25,1.88-3.25-1.88v-3.75l3.25-1.88zM349.7,304.34v3.75l-3.25,1.88-3.25-1.88v-3.75l3.25-1.88zM356.2,304.34v3.75l-3.25,1.88-3.25-1.88v-3.75l3.25-1.88zM362.7,304.34v3.75l-3.25,1.88-3.25-1.88v-3.75l3.25-1.88zM369.2,304.34v3.75l-3.25,1.88-3.25-1.88v-3.75l3.25-1.88zM375.7,304.34v3.75l-3.25,1.88-3.25-1.88v-3.75l3.25-1.88zM382.2,304.34v3.75l-3.25,1.88-3.25-1.88v-3.75l3.25-1.88zM388.7,304.34v3.75l-3.25,1.88-3.25-1.88v-3.75l3.25-1.88zM395.2,304.34v3.75l-3.25,1.88-3.25-1.88v-3.75l3.25-1.88zM401.7,304.34v3.75l-3.25,1.88-3.25-1.88v-3.75l3.25-1.88zM408.2,304.34v3.75l-3.25,1.88-3.25-1.88v-3.75l3.25-1.88zM427.7,304.34v3.75l-3.25,1.88-3.25-1.88v-3.75l3.25-1.88zM434.2,304.34v3.75l-3.25,1.88-3.25-1.88v-3.75l3.25-1.88zM440.7,304.34v3.75l-3.25,1.88-3.25-1.88v-3.75l3.25-1.88zM447.2,304.34v3.75l-3.25,1.88-3.25-1.88v-3.75l3.25-1.88zM453.7,304.34v3.75l-3.25,1.88-3.25-1.88v-3.75l3.25-1.88zM460.2,304.34v3.75l-3.25,1.88-3.25-1.88v-3.75l3.25-1.88zM466.7,304.34v3.75l-3.25,1.88-3.25-1.88v-3.75l3.25-1.88zM473.2,304.34v3.75l-3.25,1.88-3.25-1.88v-3.75l3.25-1.88zM479.7,304.34v3.75l-3.25,1.88-3.25-1.88v-3.75l3.25-1.88zM486.2,304.34v3.75l-3.25,1.88-3.25-1.88v-3.75l3.25-1.88zM492.7,304.34v3.75l-3.25,1.88-3.25-1.88v-3.75l3.25-1.88zM499.2,304.34v3.75l-3.25,1.88-3.25-1.88v-3.75l3.25-1.88zM352.95,309.98v3.75l-3.25,1.88-3.25-1.88v-3.75l3.25-1.88zM365.95,309.98v3.75l-3.25,1.88-3.25-1.88v-3.75l3.25-1.88zM372.45,309.98v3.75l-3.25,1.88-3.25-1.88v-3.75l3.25-1.88zM378.95,309.98v3.75l-3.25,1.88-3.25-1.88v-3.75l3.25-1.88zM385.45,309.98v3.75l-3.25,1.88-3.25-1.88v-3.75l3.25-1.88zM391.95,309.98v3.75l-3.25,1.88-3.25-1.88v-3.75l3.25-1.88zM398.45,309.98v3.75l-3.25,1.88-3.25-1.88v-3.75l3.25-1.88zM404.95,309.98v3.75l-3.25,1.88-3.25-1.88v-3.75l3.25-1.88zM430.95,309.98v3.75l-3.25,1.88-3.25-1.88v-3.75l3.25-1.88zM437.45,309.98v3.75l-3.25,1.88-3.25-1.88v-3.75l3.25-1.88zM443.95,309.98v3.75l-3.25,1.88-3.25-1.88v-3.75l3.25-1.88zM463.45,309.98v3.75l-3.25,1.88-3.25-1.88v-3.75l3.25-1.88zM469.95,309.98v3.75l-3.25,1.88-3.25-1.88v-3.75l3.25-1.88zM476.45,309.98v3.75l-3.25,1.88-3.25-1.88v-3.75l3.25-1.88zM482.95,309.98v3.75l-3.25,1.88-3.25-1.88v-3.75l3.25-1.88zM489.45,309.98v3.75l-3.25,1.88-3.25-1.88v-3.75l3.25-1.88zM495.95,309.98v3.75l-3.25,1.88-3.25-1.88v-3.75l3.25-1.88zM502.45,309.98v3.75l-3.25,1.88-3.25-1.88v-3.75l3.25-1.88zM521.95,309.98v3.75l-3.25,1.88-3.25-1.88v-3.75l3.25-1.88zM534.95,309.98v3.75l-3.25,1.88-3.25-1.88v-3.75l3.25-1.88zM541.45,309.98v3.75l-3.25,1.88-3.25-1.88v-3.75l3.25-1.88zM567.45,309.98v3.75l-3.25,1.88-3.25-1.88v-3.75l3.25-1.88zM593.45,309.98v3.75l-3.25,1.88-3.25-1.88v-3.75l3.25-1.88zM310.7,315.61v3.75l-3.25,1.88-3.25-1.88v-3.75l3.25-1.88zM356.2,315.61v3.75l-3.25,1.88-3.25-1.88v-3.75l3.25-1.88zM362.7,315.61v3.75l-3.25,1.88-3.25-1.88v-3.75l3.25-1.88zM375.7,315.61v3.75l-3.25,1.88-3.25-1.88v-3.75l3.25-1.88zM382.2,315.61v3.75l-3.25,1.88-3.25-1.88v-3.75l3.25-1.88zM388.7,315.61v3.75l-3.25,1.88-3.25-1.88v-3.75l3.25-1.88zM395.2,315.61v3.75l-3.25,1.88-3.25-1.88v-3.75l3.25-1.88zM401.7,315.61v3.75l-3.25,1.88-3.25-1.88v-3.75l3.25-1.88zM408.2,315.61v3.75l-3.25,1.88-3.25-1.88v-3.75l3.25-1.88zM427.7,315.61v3.75l-3.25,1.88-3.25-1.88v-3.75l3.25-1.88zM434.2,315.61v3.75l-3.25,1.88-3.25-1.88v-3.75l3.25-1.88zM440.7,315.61v3.75l-3.25,1.88-3.25-1.88v-3.75l3.25-1.88zM460.2,315.61v3.75l-3.25,1.88-3.25-1.88v-3.75l3.25-1.88zM466.7,315.61v3.75l-3.25,1.88-3.25-1.88v-3.75l3.25-1.88zM473.2,315.61v3.75l-3.25,1.88-3.25-1.88v-3.75l3.25-1.88zM479.7,315.61v3.75l-3.25,1.88-3.25-1.88v-3.75l3.25-1.88zM486.2,315.61v3.75l-3.25,1.88-3.25-1.88v-3.75l3.25-1.88zM492.7,315.61v3.75l-3.25,1.88-3.25-1.88v-3.75l3.25-1.88zM499.2,315.61v3.75l-3.25,1.88-3.25-1.88v-3.75l3.25-1.88zM505.7,315.61v3.75l-3.25,1.88-3.25-1.88v-3.75l3.25-1.88zM512.2,315.61v3.75l-3.25,1.88-3.25-1.88v-3.75l3.25-1.88zM518.7,315.61v3.75l-3.25,1.88-3.25-1.88v-3.75l3.25-1.88zM525.2,315.61v3.75l-3.25,1.88-3.25-1.88v-3.75l3.25-1.88zM531.7,315.61v3.75l-3.25,1.88-3.25-1.88v-3.75l3.25-1.88zM538.2,315.61v3.75l-3.25,1.88-3.25-1.88v-3.75l3.25-1.88zM544.7,315.61v3.75l-3.25,1.88-3.25-1.88v-3.75l3.25-1.88zM281.45,321.24v3.75l-3.25,1.88-3.25-1.88v-3.75l3.25-1.88zM287.95,321.24v3.75l-3.25,1.88-3.25-1.88v-3.75l3.25-1.88zM307.45,321.24v3.75l-3.25,1.88-3.25-1.88v-3.75l3.25-1.88zM313.95,321.24v3.75l-3.25,1.88-3.25-1.88v-3.75l3.25-1.88zM352.95,321.24v3.75l-3.25,1.88-3.25-1.88v-3.75l3.25-1.88zM359.45,321.24v3.75l-3.25,1.88-3.25-1.88v-3.75l3.25-1.88zM365.95,321.24v3.75l-3.25,1.88-3.25-1.88v-3.75l3.25-1.88zM372.45,321.24v3.75l-3.25,1.88-3.25-1.88v-3.75l3.25-1.88zM378.95,321.24v3.75l-3.25,1.88-3.25-1.88v-3.75l3.25-1.88zM385.45,321.24v3.75l-3.25,1.88-3.25-1.88v-3.75l3.25-1.88zM398.45,321.24v3.75l-3.25,1.88-3.25-1.88v-3.75l3.25-1.88zM404.95,321.24v3.75l-3.25,1.88-3.25-1.88v-3.75l3.25-1.88zM424.45,321.24v3.75l-3.25,1.88-3.25-1.88v-3.75l3.25-1.88zM430.95,321.24v3.75l-3.25,1.88-3.25-1.88v-3.75l3.25-1.88zM463.45,321.24v3.75l-3.25,1.88-3.25-1.88v-3.75l3.25-1.88zM469.95,321.24v3.75l-3.25,1.88-3.25-1.88v-3.75l3.25-1.88zM476.45,321.24v3.75l-3.25,1.88-3.25-1.88v-3.75l3.25-1.88zM489.45,321.24v3.75l-3.25,1.88-3.25-1.88v-3.75l3.25-1.88zM495.95,321.24v3.75l-3.25,1.88-3.25-1.88v-3.75l3.25-1.88zM508.95,321.24v3.75l-3.25,1.88-3.25-1.88v-3.75l3.25-1.88zM515.45,321.24v3.75l-3.25,1.88-3.25-1.88v-3.75l3.25-1.88zM521.95,321.24v3.75l-3.25,1.88-3.25-1.88v-3.75l3.25-1.88zM528.45,321.24v3.75l-3.25,1.88-3.25-1.88v-3.75l3.25-1.88zM534.95,321.24v3.75l-3.25,1.88-3.25-1.88v-3.75l3.25-1.88zM541.45,321.24v3.75l-3.25,1.88-3.25-1.88v-3.75l3.25-1.88zM284.7,326.87v3.75l-3.25,1.88-3.25-1.88v-3.75l3.25-1.88zM291.2,326.87v3.75l-3.25,1.88-3.25-1.88v-3.75l3.25-1.88zM304.2,326.87v3.75l-3.25,1.88-3.25-1.88v-3.75l3.25-1.88zM310.7,326.87v3.75l-3.25,1.88-3.25-1.88v-3.75l3.25-1.88zM317.2,326.87v3.75l-3.25,1.88-3.25-1.88v-3.75l3.25-1.88zM323.7,326.87v3.75l-3.25,1.88-3.25-1.88v-3.75l3.25-1.88zM330.2,326.87v3.75l-3.25,1.88-3.25-1.88v-3.75l3.25-1.88zM343.2,326.87v3.75l-3.25,1.88-3.25-1.88v-3.75l3.25-1.88zM349.7,326.87v3.75l-3.25,1.88-3.25-1.88v-3.75l3.25-1.88zM356.2,326.87v3.75l-3.25,1.88-3.25-1.88v-3.75l3.25-1.88zM362.7,326.87v3.75l-3.25,1.88-3.25-1.88v-3.75l3.25-1.88zM369.2,326.87v3.75l-3.25,1.88-3.25-1.88v-3.75l3.25-1.88zM375.7,326.87v3.75l-3.25,1.88-3.25-1.88v-3.75l3.25-1.88zM382.2,326.87v3.75l-3.25,1.88-3.25-1.88v-3.75l3.25-1.88zM453.7,326.87v3.75l-3.25,1.88-3.25-1.88v-3.75l3.25-1.88zM460.2,326.87v3.75l-3.25,1.88-3.25-1.88v-3.75l3.25-1.88zM473.2,326.87v3.75l-3.25,1.88-3.25-1.88v-3.75l3.25-1.88zM479.7,326.87v3.75l-3.25,1.88-3.25-1.88v-3.75l3.25-1.88zM492.7,326.87v3.75l-3.25,1.88-3.25-1.88v-3.75l3.25-1.88zM499.2,326.87v3.75l-3.25,1.88-3.25-1.88v-3.75l3.25-1.88zM505.7,326.87v3.75l-3.25,1.88-3.25-1.88v-3.75l3.25-1.88zM512.2,326.87v3.75l-3.25,1.88-3.25-1.88v-3.75l3.25-1.88zM518.7,326.87v3.75l-3.25,1.88-3.25-1.88v-3.75l3.25-1.88zM525.2,326.87v3.75l-3.25,1.88-3.25-1.88v-3.75l3.25-1.88zM531.7,326.87v3.75l-3.25,1.88-3.25-1.88v-3.75l3.25-1.88zM538.2,326.87v3.75l-3.25,1.88-3.25-1.88v-3.75l3.25-1.88zM281.45,332.51v3.75l-3.25,1.88-3.25-1.88v-3.75l3.25-1.88zM287.95,332.51v3.75l-3.25,1.88-3.25-1.88v-3.75l3.25-1.88zM300.95,332.51v3.75l-3.25,1.88-3.25-1.88v-3.75l3.25-1.88zM307.45,332.51v3.75l-3.25,1.88-3.25-1.88v-3.75l3.25-1.88zM313.95,332.51v3.75l-3.25,1.88-3.25-1.88v-3.75l3.25-1.88zM320.45,332.51v3.75l-3.25,1.88-3.25-1.88v-3.75l3.25-1.88zM326.95,332.51v3.75l-3.25,1.88-3.25-1.88v-3.75l3.25-1.88zM333.45,332.51v3.75l-3.25,1.88-3.25-1.88v-3.75l3.25-1.88zM339.95,332.51v3.75l-3.25,1.88-3.25-1.88v-3.75l3.25-1.88zM346.45,332.51v3.75l-3.25,1.88-3.25-1.88v-3.75l3.25-1.88zM359.45,332.51v3.75l-3.25,1.88-3.25-1.88v-3.75l3.25-1.88zM365.95,332.51v3.75l-3.25,1.88-3.25-1.88v-3.75l3.25-1.88zM372.45,332.51v3.75l-3.25,1.88-3.25-1.88v-3.75l3.25-1.88zM378.95,332.51v3.75l-3.25,1.88-3.25-1.88v-3.75l3.25-1.88zM385.45,332.51v3.75l-3.25,1.88-3.25-1.88v-3.75l3.25-1.88zM456.95,332.51v3.75l-3.25,1.88-3.25-1.88v-3.75l3.25-1.88zM476.45,332.51v3.75l-3.25,1.88-3.25-1.88v-3.75l3.25-1.88zM482.95,332.51v3.75l-3.25,1.88-3.25-1.88v-3.75l3.25-1.88zM489.45,332.51v3.75l-3.25,1.88-3.25-1.88v-3.75l3.25-1.88zM495.95,332.51v3.75l-3.25,1.88-3.25-1.88v-3.75l3.25-1.88zM502.45,332.51v3.75l-3.25,1.88-3.25-1.88v-3.75l3.25-1.88zM508.95,332.51v3.75l-3.25,1.88-3.25-1.88v-3.75l3.25-1.88zM310.7,338.14v3.75l-3.25,1.88-3.25-1.88v-3.75l3.25-1.88zM317.2,338.14v3.75l-3.25,1.88-3.25-1.88v-3.75l3.25-1.88zM323.7,338.14v3.75l-3.25,1.88-3.25-1.88v-3.75l3.25-1.88zM330.2,338.14v3.75l-3.25,1.88-3.25-1.88v-3.75l3.25-1.88zM336.7,338.14v3.75l-3.25,1.88-3.25-1.88v-3.75l3.25-1.88zM343.2,338.14v3.75l-3.25,1.88-3.25-1.88v-3.75l3.25-1.88zM349.7,338.14v3.75l-3.25,1.88-3.25-1.88v-3.75l3.25-1.88zM369.2,338.14v3.75l-3.25,1.88-3.25-1.88v-3.75l3.25-1.88zM382.2,338.14v3.75l-3.25,1.88-3.25-1.88v-3.75l3.25-1.88zM466.7,338.14v3.75l-3.25,1.88-3.25-1.88v-3.75l3.25-1.88zM473.2,338.14v3.75l-3.25,1.88-3.25-1.88v-3.75l3.25-1.88zM479.7,338.14v3.75l-3.25,1.88-3.25-1.88v-3.75l3.25-1.88zM486.2,338.14v3.75l-3.25,1.88-3.25-1.88v-3.75l3.25-1.88zM492.7,338.14v3.75l-3.25,1.88-3.25-1.88v-3.75l3.25-1.88zM499.2,338.14v3.75l-3.25,1.88-3.25-1.88v-3.75l3.25-1.88zM505.7,338.14v3.75l-3.25,1.88-3.25-1.88v-3.75l3.25-1.88zM512.2,338.14v3.75l-3.25,1.88-3.25-1.88v-3.75l3.25-1.88zM518.7,338.14v3.75l-3.25,1.88-3.25-1.88v-3.75l3.25-1.88zM320.45,343.77v3.75l-3.25,1.88-3.25-1.88v-3.75l3.25-1.88zM326.95,343.77v3.75l-3.25,1.88-3.25-1.88v-3.75l3.25-1.88zM333.45,343.77v3.75l-3.25,1.88-3.25-1.88v-3.75l3.25-1.88zM339.95,343.77v3.75l-3.25,1.88-3.25-1.88v-3.75l3.25-1.88zM346.45,343.77v3.75l-3.25,1.88-3.25-1.88v-3.75l3.25-1.88zM352.95,343.77v3.75l-3.25,1.88-3.25-1.88v-3.75l3.25-1.88zM359.45,343.77v3.75l-3.25,1.88-3.25-1.88v-3.75l3.25-1.88zM365.95,343.77v3.75l-3.25,1.88-3.25-1.88v-3.75l3.25-1.88zM463.45,343.77v3.75l-3.25,1.88-3.25-1.88v-3.75l3.25-1.88zM469.95,343.77v3.75l-3.25,1.88-3.25-1.88v-3.75l3.25-1.88zM476.45,343.77v3.75l-3.25,1.88-3.25-1.88v-3.75l3.25-1.88zM482.95,343.77v3.75l-3.25,1.88-3.25-1.88v-3.75l3.25-1.88zM489.45,343.77v3.75l-3.25,1.88-3.25-1.88v-3.75l3.25-1.88zM495.95,343.77v3.75l-3.25,1.88-3.25-1.88v-3.75l3.25-1.88zM502.45,343.77v3.75l-3.25,1.88-3.25-1.88v-3.75l3.25-1.88zM508.95,343.77v3.75l-3.25,1.88-3.25-1.88v-3.75l3.25-1.88zM515.45,343.77v3.75l-3.25,1.88-3.25-1.88v-3.75l3.25-1.88zM521.95,343.77v3.75l-3.25,1.88-3.25-1.88v-3.75l3.25-1.88zM528.45,343.77v3.75l-3.25,1.88-3.25-1.88v-3.75l3.25-1.88zM534.95,343.77v3.75l-3.25,1.88-3.25-1.88v-3.75l3.25-1.88zM323.7,349.41v3.75l-3.25,1.88-3.25-1.88v-3.75l3.25-1.88zM330.2,349.41v3.75l-3.25,1.88-3.25-1.88v-3.75l3.25-1.88zM336.7,349.41v3.75l-3.25,1.88-3.25-1.88v-3.75l3.25-1.88zM349.7,349.41v3.75l-3.25,1.88-3.25-1.88v-3.75l3.25-1.88zM356.2,349.41v3.75l-3.25,1.88-3.25-1.88v-3.75l3.25-1.88zM362.7,349.41v3.75l-3.25,1.88-3.25-1.88v-3.75l3.25-1.88zM369.2,349.41v3.75l-3.25,1.88-3.25-1.88v-3.75l3.25-1.88zM375.7,349.41v3.75l-3.25,1.88-3.25-1.88v-3.75l3.25-1.88zM460.2,349.41v3.75l-3.25,1.88-3.25-1.88v-3.75l3.25-1.88zM466.7,349.41v3.75l-3.25,1.88-3.25-1.88v-3.75l3.25-1.88zM473.2,349.41v3.75l-3.25,1.88-3.25-1.88v-3.75l3.25-1.88zM492.7,349.41v3.75l-3.25,1.88-3.25-1.88v-3.75l3.25-1.88zM499.2,349.41v3.75l-3.25,1.88-3.25-1.88v-3.75l3.25-1.88zM505.7,349.41v3.75l-3.25,1.88-3.25-1.88v-3.75l3.25-1.88zM518.7,349.41v3.75l-3.25,1.88-3.25-1.88v-3.75l3.25-1.88zM525.2,349.41v3.75l-3.25,1.88-3.25-1.88v-3.75l3.25-1.88zM531.7,349.41v3.75l-3.25,1.88-3.25-1.88v-3.75l3.25-1.88zM339.95,355.04v3.75l-3.25,1.88-3.25-1.88v-3.75l3.25-1.88zM346.45,355.04v3.75l-3.25,1.88-3.25-1.88v-3.75l3.25-1.88zM359.45,355.04v3.75l-3.25,1.88-3.25-1.88v-3.75l3.25-1.88zM365.95,355.04v3.75l-3.25,1.88-3.25-1.88v-3.75l3.25-1.88zM372.45,355.04v3.75l-3.25,1.88-3.25-1.88v-3.75l3.25-1.88zM378.95,355.04v3.75l-3.25,1.88-3.25-1.88v-3.75l3.25-1.88zM495.95,355.04v3.75l-3.25,1.88-3.25-1.88v-3.75l3.25-1.88zM502.45,355.04v3.75l-3.25,1.88-3.25-1.88v-3.75l3.25-1.88zM508.95,355.04v3.75l-3.25,1.88-3.25-1.88v-3.75l3.25-1.88zM515.45,355.04v3.75l-3.25,1.88-3.25-1.88v-3.75l3.25-1.88zM317.2,360.67v3.75l-3.25,1.88-3.25-1.88v-3.75l3.25-1.88zM343.2,360.67v3.75l-3.25,1.88-3.25-1.88v-3.75l3.25-1.88zM349.7,360.67v3.75l-3.25,1.88-3.25-1.88v-3.75l3.25-1.88zM499.2,360.67v3.75l-3.25,1.88-3.25-1.88v-3.75l3.25-1.88zM505.7,360.67v3.75l-3.25,1.88-3.25-1.88v-3.75l3.25-1.88zM512.2,360.67v3.75l-3.25,1.88-3.25-1.88v-3.75l3.25-1.88zM320.45,366.31v3.75l-3.25,1.88-3.25-1.88v-3.75l3.25-1.88zM346.45,366.31v3.75l-3.25,1.88-3.25-1.88v-3.75l3.25-1.88zM343.2,371.94v3.75l-3.25,1.88-3.25-1.88v-3.75l3.25-1.88zM349.7,371.94v3.75l-3.25,1.88-3.25-1.88v-3.75l3.25-1.88zM356.2,371.94v3.75l-3.25,1.88-3.25-1.88v-3.75l3.25-1.88zM362.7,371.94v3.75l-3.25,1.88-3.25-1.88v-3.75l3.25-1.88zM346.45,377.57v3.75l-3.25,1.88-3.25-1.88v-3.75l3.25-1.88zM352.95,377.57v3.75l-3.25,1.88-3.25-1.88v-3.75l3.25-1.88zM359.45,377.57v3.75l-3.25,1.88-3.25-1.88v-3.75l3.25-1.88zM365.95,377.57v3.75l-3.25,1.88-3.25-1.88v-3.75l3.25-1.88zM317.2,383.2v3.75l-3.25,1.88-3.25-1.88v-3.75l3.25-1.88zM349.7,383.2v3.75l-3.25,1.88-3.25-1.88v-3.75l3.25-1.88zM356.2,383.2v3.75l-3.25,1.88-3.25-1.88v-3.75l3.25-1.88zM362.7,383.2v3.75l-3.25,1.88-3.25-1.88v-3.75l3.25-1.88zM369.2,383.2v3.75l-3.25,1.88-3.25-1.88v-3.75l3.25-1.88zM453.7,383.2v3.75l-3.25,1.88-3.25-1.88v-3.75l3.25-1.88zM326.95,388.84v3.75l-3.25,1.88-3.25-1.88v-3.75l3.25-1.88zM333.45,388.84v3.75l-3.25,1.88-3.25-1.88v-3.75l3.25-1.88zM365.95,388.84v3.75l-3.25,1.88-3.25-1.88v-3.75l3.25-1.88zM372.45,388.84v3.75l-3.25,1.88-3.25-1.88v-3.75l3.25-1.88zM378.95,388.84v3.75l-3.25,1.88-3.25-1.88v-3.75l3.25-1.88zM450.45,388.84v3.75l-3.25,1.88-3.25-1.88v-3.75l3.25-1.88zM456.95,388.84v3.75l-3.25,1.88-3.25-1.88v-3.75l3.25-1.88zM330.2,394.47v3.75l-3.25,1.88-3.25-1.88v-3.75l3.25-1.88zM336.7,394.47v3.75l-3.25,1.88-3.25-1.88v-3.75l3.25-1.88zM343.2,394.47v3.75l-3.25,1.88-3.25-1.88v-3.75l3.25-1.88zM349.7,394.47v3.75l-3.25,1.88-3.25-1.88v-3.75l3.25-1.88zM369.2,394.47v3.75l-3.25,1.88-3.25-1.88v-3.75l3.25-1.88zM375.7,394.47v3.75l-3.25,1.88-3.25-1.88v-3.75l3.25-1.88zM382.2,394.47v3.75l-3.25,1.88-3.25-1.88v-3.75l3.25-1.88zM447.2,394.47v3.75l-3.25,1.88-3.25-1.88v-3.75l3.25-1.88zM339.95,400.1v3.75l-3.25,1.88-3.25-1.88v-3.75l3.25-1.88zM346.45,400.1v3.75l-3.25,1.88-3.25-1.88v-3.75l3.25-1.88zM352.95,400.1v3.75l-3.25,1.88-3.25-1.88v-3.75l3.25-1.88zM359.45,400.1v3.75l-3.25,1.88-3.25-1.88v-3.75l3.25-1.88zM365.95,400.1v3.75l-3.25,1.88-3.25-1.88v-3.75l3.25-1.88zM372.45,400.1v3.75l-3.25,1.88-3.25-1.88v-3.75l3.25-1.88zM378.95,400.1v3.75l-3.25,1.88-3.25-1.88v-3.75l3.25-1.88zM450.45,400.1v3.75l-3.25,1.88-3.25-1.88v-3.75l3.25-1.88zM349.7,405.74v3.75l-3.25,1.88-3.25-1.88v-3.75l3.25-1.88zM362.7,405.74v3.75l-3.25,1.88-3.25-1.88v-3.75l3.25-1.88zM369.2,405.74v3.75l-3.25,1.88-3.25-1.88v-3.75l3.25-1.88zM375.7,405.74v3.75l-3.25,1.88-3.25-1.88v-3.75l3.25-1.88zM408.2,405.74v3.75l-3.25,1.88-3.25-1.88v-3.75l3.25-1.88zM414.7,405.74v3.75l-3.25,1.88-3.25-1.88v-3.75l3.25-1.88zM447.2,405.74v3.75l-3.25,1.88-3.25-1.88v-3.75l3.25-1.88zM365.95,411.37v3.75l-3.25,1.88-3.25-1.88v-3.75l3.25-1.88zM378.95,422.64v3.75l-3.25,1.88-3.25-1.88v-3.75l3.25-1.88zM375.7,428.27v3.75l-3.25,1.88-3.25-1.88v-3.75l3.25-1.88zM382.2,428.27v3.75l-3.25,1.88-3.25-1.88v-3.75l3.25-1.88zM372.45,433.9v3.75l-3.25,1.88-3.25-1.88v-3.75l3.25-1.88zM378.95,433.9v3.75l-3.25,1.88-3.25-1.88v-3.75l3.25-1.88zM385.45,433.9v3.75l-3.25,1.88-3.25-1.88v-3.75l3.25-1.88z"/>
<path fill="#31a354" stroke="rgba(120,120,120,0.12)" stroke-width="1" d="M427.7,293.08v3.75l-3.25,1.88-3.25-1.88v-3.75l3.25-1.88zM424.45,298.71v3.75l-3.25,1.88-3.25-1.88v-3.75l3.25-1.88zM463.45,298.71v3.75l-3.25,1.88-3.25-1.88v-3.75l3.25-1.88zM414.7,304.34v3.75l-3.25,1.88-3.25-1.88v-3.75l3.25-1.88zM421.2,304.34v3.75l-3.25,1.88-3.25-1.88v-3.75l3.25-1.88zM359.45,309.98v3.75l-3.25,1.88-3.25-1.88v-3.75l3.25-1.88zM411.45,309.98v3.75l-3.25,1.88-3.25-1.88v-3.75l3.25-1.88zM417.95,309.98v3.75l-3.25,1.88-3.25-1.88v-3.75l3.25-1.88zM424.45,309.98v3.75l-3.25,1.88-3.25-1.88v-3.75l3.25-1.88zM450.45,309.98v3.75l-3.25,1.88-3.25-1.88v-3.75l3.25-1.88zM456.95,309.98v3.75l-3.25,1.88-3.25-1.88v-3.75l3.25-1.88zM369.2,315.61v3.75l-3.25,1.88-3.25-1.88v-3.75l3.25-1.88zM414.7,315.61v3.75l-3.25,1.88-3.25-1.88v-3.75l3.25-1.88zM421.2,315.61v3.75l-3.25,1.88-3.25-1.88v-3.75l3.25-1.88zM447.2,315.61v3.75l-3.25,1.88-3.25-1.88v-3.75l3.25-1.88zM453.7,315.61v3.75l-3.25,1.88-3.25-1.88v-3.75l3.25-1.88zM391.95,321.24v3.75l-3.25,1.88-3.25-1.88v-3.75l3.25-1.88zM411.45,321.24v3.75l-3.25,1.88-3.25-1.88v-3.75l3.25-1.88zM417.95,321.24v3.75l-3.25,1.88-3.25-1.88v-3.75l3.25-1.88zM437.45,321.24v3.75l-3.25,1.88-3.25-1.88v-3.75l3.25-1.88zM443.95,321.24v3.75l-3.25,1.88-3.25-1.88v-3.75l3.25-1.88zM450.45,321.24v3.75l-3.25,1.88-3.25-1.88v-3.75l3.25-1.88zM456.95,321.24v3.75l-3.25,1.88-3.25-1.88v-3.75l3.25-1.88zM482.95,321.24v3.75l-3.25,1.88-3.25-1.88v-3.75l3.25-1.88zM502.45,321.24v3.75l-3.25,1.88-3.25-1.88v-3.75l3.25-1.88zM388.7,326.87v3.75l-3.25,1.88-3.25-1.88v-3.75l3.25-1.88zM395.2,326.87v3.75l-3.25,1.88-3.25-1.88v-3.75l3.25-1.88zM401.7,326.87v3.75l-3.25,1.88-3.25-1.88v-3.75l3.25-1.88zM408.2,326.87v3.75l-3.25,1.88-3.25-1.88v-3.75l3.25-1.88zM414.7,326.87v3.75l-3.25,1.88-3.25-1.88v-3.75l3.25-1.88zM421.2,326.87v3.75l-3.25,1.88-3.25-1.88v-3.75l3.25-1.88zM427.7,326.87v3.75l-3.25,1.88-3.25-1.88v-3.75l3.25-1.88zM434.2,326.87v3.75l-3.25,1.88-3.25-1.88v-3.75l3.25-1.88zM440.7,326.87v3.75l-3.25,1.88-3.25-1.88v-3.75l3.25-1.88zM447.2,326.87v3.75l-3.25,1.88-3.25-1.88v-3.75l3.25-1.88zM466.7,326.87v3.75l-3.25,1.88-3.25-1.88v-3.75l3.25-1.88zM486.2,326.87v3.75l-3.25,1.88-3.25-1.88v-3.75l3.25-1.88zM352.95,332.51v3.75l-3.25,1.88-3.25-1.88v-3.75l3.25-1.88zM391.95,332.51v3.75l-3.25,1.88-3.25-1.88v-3.75l3.25-1.88zM398.45,332.51v3.75l-3.25,1.88-3.25-1.88v-3.75l3.25-1.88zM404.95,332.51v3.75l-3.25,1.88-3.25-1.88v-3.75l3.25-1.88zM411.45,332.51v3.75l-3.25,1.88-3.25-1.88v-3.75l3.25-1.88zM417.95,332.51v3.75l-3.25,1.88-3.25-1.88v-3.75l3.25-1.88zM424.45,332.51v3.75l-3.25,1.88-3.25-1.88v-3.75l3.25-1.88zM430.95,332.51v3.75l-3.25,1.88-3.25-1.88v-3.75l3.25-1.88zM437.45,332.51v3.75l-3.25,1.88-3.25-1.88v-3.75l3.25-1.88zM443.95,332.51v3.75l-3.25,1.88-3.25-1.88v-3.75l3.25-1.88zM450.45,332.51v3.75l-3.25,1.88-3.25-1.88v-3.75l3.25-1.88zM463.45,332.51v3.75l-3.25,1.88-3.25-1.88v-3.75l3.25-1.88zM469.95,332.51v3.75l-3.25,1.88-3.25-1.88v-3.75l3.25-1.88zM356.2,338.14v3.75l-3.25,1.88-3.25-1.88v-3.75l3.25-1.88zM362.7,338.14v3.75l-3.25,1.88-3.25-1.88v-3.75l3.25-1.88zM375.7,338.14v3.75l-3.25,1.88-3.25-1.88v-3.75l3.25-1.88zM388.7,338.14v3.75l-3.25,1.88-3.25-1.88v-3.75l3.25-1.88zM395.2,338.14v3.75l-3.25,1.88-3.25-1.88v-3.75l3.25-1.88zM401.7,338.14v3.75l-3.25,1.88-3.25-1.88v-3.75l3.25-1.88zM408.2,338.14v3.75l-3.25,1.88-3.25-1.88v-3.75l3.25-1.88zM414.7,338.14v3.75l-3.25,1.88-3.25-1.88v-3.75l3.25-1.88zM421.2,338.14v3.75l-3.25,1.88-3.25-1.88v-3.75l3.25-1.88zM427.7,338.14v3.75l-3.25,1.88-3.25-1.88v-3.75l3.25-1.88zM434.2,338.14v3.75l-3.25,1.88-3.25-1.88v-3.75l3.25-1.88zM440.7,338.14v3.75l-3.25,1.88-3.25-1.88v-3.75l3.25-1.88zM447.2,338.14v3.75l-3.25,1.88-3.25-1.88v-3.75l3.25-1.88zM453.7,338.14v3.75l-3.25,1.88-3.25-1.88v-3.75l3.25-1.88zM460.2,338.14v3.75l-3.25,1.88-3.25-1.88v-3.75l3.25-1.88zM372.45,343.77v3.75l-3.25,1.88-3.25-1.88v-3.75l3.25-1.88zM378.95,343.77v3.75l-3.25,1.88-3.25-1.88v-3.75l3.25-1.88zM385.45,343.77v3.75l-3.25,1.88-3.25-1.88v-3.75l3.25-1.88zM391.95,343.77v3.75l-3.25,1.88-3.25-1.88v-3.75l3.25-1.88zM398.45,343.77v3.75l-3.25,1.88-3.25-1.88v-3.75l3.25-1.88zM404.95,343.77v3.75l-3.25,1.88-3.25-1.88v-3.75l3.25-1.88zM411.45,343.77v3.75l-3.25,1.88-3.25-1.88v-3.75l3.25-1.88zM417.95,343.77v3.75l-3.25,1.88-3.25-1.88v-3.75l3.25-1.88zM424.45,343.77v3.75l-3.25,1.88-3.25-1.88v-3.75l3.25-1.88zM430.95,343.77v3.75l-3.25,1.88-3.25-1.88v-3.75l3.25-1.88zM437.45,343.77v3.75l-3.25,1.88-3.25-1.88v-3.75l3.25-1.88zM443.95,343.77v3.75l-3.25,1.88-3.25-1.88v-3.75l3.25-1.88zM450.45,343.77v3.75l-3.25,1.88-3.25-1.88v-3.75l3.25-1.88zM456.95,343.77v3.75l-3.25,1.88-3.25-1.88v-3.75l3.25-1.88zM343.2,349.41v3.75l-3.25,1.88-3.25-1.88v-3.75l3.25-1.88zM382.2,349.41v3.75l-3.25,1.88-3.25-1.88v-3.75l3.25-1.88zM388.7,349.41v3.75l-3.25,1.88-3.25-1.88v-3.75l3.25-1.88zM395.2,349.41v3.75l-3.25,1.88-3.25-1.88v-3.75l3.25-1.88zM401.7,349.41v3.75l-3.25,1.88-3.25-1.88v-3.75l3.25-1.88zM408.2,349.41v3.75l-3.25,1.88-3.25-1.88v-3.75l3.25-1.88zM414.7,349.41v3.75l-3.25,1.88-3.25-1.88v-3.75l3.25-1.88zM421.2,349.41v3.75l-3.25,1.88-3.25-1.88v-3.75l3.25-1.88zM427.7,349.41v3.75l-3.25,1.88-3.25-1.88v-3.75l3.25-1.88zM434.2,349.41v3.75l-3.25,1.88-3.25-1.88v-3.75l3.25-1.88zM440.7,349.41v3.75l-3.25,1.88-3.25-1.88v-3.75l3.25-1.88zM447.2,349.41v3.75l-3.25,1.88-3.25-1.88v-3.75l3.25-1.88zM453.7,349.41v3.75l-3.25,1.88-3.25-1.88v-3.75l3.25-1.88zM512.2,349.41v3.75l-3.25,1.88-3.25-1.88v-3.75l3.25-1.88zM352.95,355.04v3.75l-3.25,1.88-3.25-1.88v-3.75l3.25-1.88zM385.45,355.04v3.75l-3.25,1.88-3.25-1.88v-3.75l3.25-1.88zM391.95,355.04v3.75l-3.25,1.88-3.25-1.88v-3.75l3.25-1.88zM398.45,355.04v3.75l-3.25,1.88-3.25-1.88v-3.75l3.25-1.88zM404.95,355.04v3.75l-3.25,1.88-3.25-1.88v-3.75l3.25-1.88zM411.45,355.04v3.75l-3.25,1.88-3.25-1.88v-3.75l3.25-1.88zM417.95,355.04v3.75l-3.25,1.88-3.25-1.88v-3.75l3.25-1.88zM424.45,355.04v3.75l-3.25,1.88-3.25-1.88v-3.75l3.25-1.88zM430.95,355.04v3.75l-3.25,1.88-3.25-1.88v-3.75l3.25-1.88zM437.45,355.04v3.75l-3.25,1.88-3.25-1.88v-3.75l3.25-1.88zM443.95,355.04v3.75l-3.25,1.88-3.25-1.88v-3.75l3.25-1.88zM450.45,355.04v3.75l-3.25,1.88-3.25-1.88v-3.75l3.25-1.88zM356.2,360.67v3.75l-3.25,1.88-3.25-1.88v-3.75l3.25-1.88zM362.7,360.67v3.75l-3.25,1.88-3.25-1.88v-3.75l3.25-1.88zM369.2,360.67v3.75l-3.25,1.88-3.25-1.88v-3.75l3.25-1.88zM375.7,360.67v3.75l-3.25,1.88-3.25-1.88v-3.75l3.25-1.88zM382.2,360.67v3.75l-3.25,1.88-3.25-1.88v-3.75l3.25-1.88zM388.7,360.67v3.75l-3.25,1.88-3.25-1.88v-3.75l3.25-1.88zM395.2,360.67v3.75l-3.25,1.88-3.25-1.88v-3.75l3.25-1.88zM401.7,360.67v3.75l-3.25,1.88-3.25-1.88v-3.75l3.25-1.88zM408.2,360.67v3.75l-3.25,1.88-3.25-1.88v-3.75l3.25-1.88zM414.7,360.67v3.75l-3.25,1.88-3.25-1.88v-3.75l3.25-1.88zM421.2,360.67v3.75l-3.25,1.88-3.25-1.88v-3.75l3.25-1.88zM427.7,360.67v3.75l-3.25,1.88-3.25-1.88v-3.75l3.25-1.88zM434.2,360.67v3.75l-3.25,1.88-3.25-1.88v-3.75l3.25-1.88zM440.7,360.67v3.75l-3.25,1.88-3.25-1.88v-3.75l3.25-1.88zM447.2,360.67v3.75l-3.25,1.88-3.25-1.88v-3.75l3.25-1.88zM453.7,360.67v3.75l-3.25,1.88-3.25-1.88v-3.75l3.25-1.88zM352.95,366.31v3.75l-3.25,1.88-3.25-1.88v-3.75l3.25-1.88zM359.45,366.31v3.75l-3.25,1.88-3.25-1.88v-3.75l3.25-1.88zM365.95,366.31v3.75l-3.25,1.88-3.25-1.88v-3.75l3.25-1.88zM372.45,366.31v3.75l-3.25,1.88-3.25-1.88v-3.75l3.25-1.88zM378.95,366.31v3.75l-3.25,1.88-3.25-1.88v-3.75l3.25-1.88zM385.45,366.31v3.75l-3.25,1.88-3.25-1.88v-3.75l3.25-1.88zM391.95,366.31v3.75l-3.25,1.88-3.25-1.88v-3.75l3.25-1.88zM398.45,366.31v3.75l-3.25,1.88-3.25-1.88v-3.75l3.25-1.88zM404.95,366.31v3.75l-3.25,1.88-3.25-1.88v-3.75l3.25-1.88zM411.45,366.31v3.75l-3.25,1.88-3.25-1.88v-3.75l3.25-1.88zM417.95,366.31v3.75l-3.25,1.88-3.25-1.88v-3.75l3.25-1.88zM424.45,366.31v3.75l-3.25,1.88-3.25-1.88v-3.75l3.25-1.88zM430.95,366.31v3.75l-3.25,1.88-3.25-1.88v-3.75l3.25-1.88zM437.45,366.31v3.75l-3.25,1.88-3.25-1.88v-3.75l3.25-1.88zM443.95,366.31v3.75l-3.25,1.88-3.25-1.88v-3.75l3.25-1.88zM450.45,366.31v3.75l-3.25,1.88-3.25-1.88v-3.75l3.25-1.88zM369.2,371.94v3.75l-3.25,1.88-3.25-1.88v-3.75l3.25-1.88zM375.7,371.94v3.75l-3.25,1.88-3.25-1.88v-3.75l3.25-1.88zM382.2,371.94v3.75l-3.25,1.88-3.25-1.88v-3.75l3.25-1.88zM388.7,371.94v3.75l-3.25,1.88-3.25-1.88v-3.75l3.25-1.88zM395.2,371.94v3.75l-3.25,1.88-3.25-1.88v-3.75l3.25-1.88zM401.7,371.94v3.75l-3.25,1.88-3.25-1.88v-3.75l3.25-1.88zM408.2,371.94v3.75l-3.25,1.88-3.25-1.88v-3.75l3.25-1.88zM414.7,371.94v3.75l-3.25,1.88-3.25-1.88v-3.75l3.25-1.88zM421.2,371.94v3.75l-3.25,1.88-3.25-1.88v-3.75l3.25-1.88zM427.7,371.94v3.75l-3.25,1.88-3.25-1.88v-3.75l3.25-1.88zM434.2,371.94v3.75l-3.25,1.88-3.25-1.88v-3.75l3.25-1.88zM440.7,371.94v3.75l-3.25,1.88-3.25-1.88v-3.75l3.25-1.88zM447.2,371.94v3.75l-3.25,1.88-3.25-1.88v-3.75l3.25-1.88zM453.7,371.94v3.75l-3.25,1.88-3.25-1.88v-3.75l3.25-1.88zM372.45,377.57v3.75l-3.25,1.88-3.25-1.88v-3.75l3.25-1.88zM378.95,377.57v3.75l-3.25,1.88-3.25-1.88v-3.75l3.25-1.88zM385.45,377.57v3.75l-3.25,1.88-3.25-1.88v-3.75l3.25-1.88zM391.95,377.57v3.75l-3.25,1.88-3.25-1.88v-3.75l3.25-1.88zM398.45,377.57v3.75l-3.25,1.88-3.25-1.88v-3.75l3.25-1.88zM404.95,377.57v3.75l-3.25,1.88-3.25-1.88v-3.75l3.25-1.88zM411.45,377.57v3.75l-3.25,1.88-3.25-1.88v-3.75l3.25-1.88zM417.95,377.57v3.75l-3.25,1.88-3.25-1.88v-3.75l3.25-1.88zM424.45,377.57v3.75l-3.25,1.88-3.25-1.88v-3.75l3.25-1.88zM430.95,377.57v3.75l-3.25,1.88-3.25-1.88v-3.75l3.25-1.88zM437.45,377.57v3.75l-3.25,1.88-3.25-1.88v-3.75l3.25-1.88zM443.95,377.57v3.75l-3.25,1.88-3.25-1.88v-3.75l3.25-1.88zM450.45,377.57v3.75l-3.25,1.88-3.25-1.88v-3.75l3.25-1.88zM375.7,383.2v3.75l-3.25,1.88-3.25-1.88v-3.75l3.25-1.88zM382.2,383.2v3.75l-3.25,1.88-3.25-1.88v-3.75l3.25-1.88zM388.7,383.2v3.75l-3.25,1.88-3.25-1.88v-3.75l3.25-1.88zM395.2,383.2v3.75l-3.25,1.88-3.25-1.88v-3.75l3.25-1.88zM401.7,383.2v3.75l-3.25,1.88-3.25-1.88v-3.75l3.25-1.88zM408.2,383.2v3.75l-3.25,1.88-3.25-1.88v-3.75l3.25-1.88zM414.7,383.2v3.75l-3.25,1.88-3.25-1.88v-3.75l3.25-1.88zM421.2,383.2v3.75l-3.25,1.88-3.25-1.88v-3.75l3.25-1.88zM427.7,383.2v3.75l-3.25,1.88-3.25-1.88v-3.75l3.25-1.88zM434.2,383.2v3.75l-3.25,1.88-3.25-1.88v-3.75l3.25-1.88zM440.7,383.2v3.75l-3.25,1.88-3.25-1.88v-3.75l3.25-1.88zM447.2,383.2v3.75l-3.25,1.88-3.25-1.88v-3.75l3.25-1.88zM385.45,388.84v3.75l-3.25,1.88-3.25-1.88v-3.75l3.25-1.88zM391.95,388.84v3.75l-3.25,1.88-3.25-1.88v-3.75l3.25-1.88zM398.45,388.84v3.75l-3.25,1.88-3.25-1.88v-3.75l3.25-1.88zM404.95,388.84v3.75l-3.25,1.88-3.25-1.88v-3.75l3.25-1.88zM411.45,388.84v3.75l-3.25,1.88-3.25-1.88v-3.75l3.25-1.88zM417.95,388.84v3.75l-3.25,1.88-3.25-1.88v-3.75l3.25-1.88zM424.45,388.84v3.75l-3.25,1.88-3.25-1.88v-3.75l3.25-1.88zM430.95,388.84v3.75l-3.25,1.88-3.25-1.88v-3.75l3.25-1.88zM437.45,388.84v3.75l-3.25,1.88-3.25-1.88v-3.75l3.25-1.88zM443.95,388.84v3.75l-3.25,1.88-3.25-1.88v-3.75l3.25-1.88zM388.7,394.47v3.75l-3.25,1.88-3.25-1.88v-3.75l3.25-1.88zM395.2,394.47v3.75l-3.25,1.88-3.25-1.88v-3.75l3.25-1.88zM401.7,394.47v3.75l-3.25,1.88-3.25-1.88v-3.75l3.25-1.88zM408.2,394.47v3.75l-3.25,1.88-3.25-1.88v-3.75l3.25-1.88zM414.7,394.47v3.75l-3.25,1.88-3.25-1.88v-3.75l3.25-1.88zM421.2,394.47v3.75l-3.25,1.88-3.25-1.88v-3.75l3.25-1.88zM427.7,394.47v3.75l-3.25,1.88-3.25-1.88v-3.75l3.25-1.88zM440.7,394.47v3.75l-3.25,1.88-3.25-1.88v-3.75l3.25-1.88zM385.45,400.1v3.75l-3.25,1.88-3.25-1.88v-3.75l3.25-1.88zM391.95,400.1v3.75l-3.25,1.88-3.25-1.88v-3.75l3.25-1.88zM398.45,400.1v3.75l-3.25,1.88-3.25-1.88v-3.75l3.25-1.88zM404.95,400.1v3.75l-3.25,1.88-3.25-1.88v-3.75l3.25-1.88zM411.45,400.1v3.75l-3.25,1.88-3.25-1.88v-3.75l3.25-1.88zM417.95,400.1v3.75l-3.25,1.88-3.25-1.88v-3.75l3.25-1.88zM424.45,400.1v3.75l-3.25,1.88-3.25-1.88v-3.75l3.25-1.88zM382.2,405.74v3.75l-3.25,1.88-3.25-1.88v-3.75l3.25-1.88zM388.7,405.74v3.75l-3.25,1.88-3.25-1.88v-3.75l3.25-1.88zM395.2,405.74v3.75l-3.25,1.88-3.25-1.88v-3.75l3.25-1.88zM372.45,411.37v3.75l-3.25,1.88-3.25-1.88v-3.75l3.25-1.88zM378.95,411.37v3.75l-3.25,1.88-3.25-1.88v-3.75l3.25-1.88zM385.45,411.37v3.75l-3.25,1.88-3.25-1.88v-3.75l3.25-1.88z"/>
<path fill="none" stroke="rgba(50,60,50,0.65)" stroke-width="1.1" stroke-linecap="round" d="M382.2,90.29l0,3.75M375.7,94.04l0,-3.75M375.7,90.29l3.25,-1.88M378.95,88.41l3.25,1.88M369.2,101.55l-3.25,-1.88M365.95,99.67l0,-3.75M365.95,95.92l3.25,-1.88M369.2,94.05l3.25,1.88M372.45,95.92l3.25,-1.88M385.45,95.92l0,3.75M382.2,94.05l3.25,1.88M372.45,107.18l-3.25,-1.88M369.2,105.31l0,-3.75M388.7,101.55l0,3.75M388.7,105.31l-3.25,1.88M385.45,99.68l3.25,1.88M339.95,110.94l0,-3.75M339.95,107.19l3.25,-1.88M343.2,105.31l3.25,1.88M352.95,107.19l0,3.75M352.95,110.94l-3.25,1.88M346.45,107.19l3.25,-1.88M349.7,105.31l3.25,1.88M375.7,112.82l-3.25,-1.88M372.45,110.94l0,-3.75M385.45,107.19l0,3.75M323.7,112.82l0,3.75M317.2,116.57l0,-3.75M317.2,112.82l3.25,-1.88M320.45,110.94l3.25,1.88M343.2,116.57l-3.25,1.88M336.7,116.57l0,-3.75M336.7,112.82l3.25,-1.88M349.7,112.82l0,3.75M349.7,116.57l-3.25,1.88M346.45,118.45l-3.25,-1.88M378.95,118.45l-3.25,-1.88M375.7,116.57l0,-3.75M385.45,110.94l3.25,1.88M388.7,112.82l3.25,-1.88M391.95,110.94l3.25,1.88M395.2,112.82l3.25,-1.88M398.45,110.94l3.25,1.88M401.7,112.82l3.25,-1.88M404.95,110.94l3.25,1.88M414.7,112.82l0,3.75M408.2,112.82l3.25,-1.88M411.45,110.94l3.25,1.88M307.45,122.21l0,-3.75M307.45,118.45l3.25,-1.88M310.7,116.58l3.25,1.88M313.95,118.45l3.25,-1.88M326.95,118.45l0,3.75M326.95,122.21l-3.25,1.88M323.7,116.58l3.25,1.88M339.95,118.45l0,3.75M339.95,122.21l-3.25,1.88M336.7,124.08l-3.25,-1.88M333.45,122.21l0,-3.75M333.45,118.45l3.25,-1.88M382.2,124.08l-3.25,-1.88M378.95,122.21l0,-3.75M417.95,118.45l0,3.75M414.7,116.58l3.25,1.88M297.7,127.84l0,-3.75M297.7,124.09l3.25,-1.88M300.95,122.21l3.25,1.88M304.2,124.09l3.25,-1.88M317.2,127.84l-3.25,1.88M323.7,124.09l0,3.75M323.7,127.84l-3.25,1.88M320.45,129.72l-3.25,-1.88M382.2,127.84l0,-3.75M421.2,124.09l0,3.75M421.2,127.84l-3.25,1.88M417.95,122.21l3.25,1.88M294.45,133.47l-3.25,1.88M291.2,135.35l-3.25,-1.88M287.95,133.47l0,-3.75M287.95,129.72l3.25,-1.88M291.2,127.84l3.25,1.88M297.7,135.35l-3.25,-1.88M294.45,129.72l3.25,-1.88M307.45,133.47l-3.25,1.88M313.95,129.72l0,3.75M313.95,133.47l-3.25,1.88M310.7,135.35l-3.25,-1.88M382.2,135.35l-3.25,-1.88M378.95,133.47l0,-3.75M378.95,129.72l3.25,-1.88M417.95,129.72l0,3.75M304.2,135.35l0,3.75M304.2,139.11l-3.25,1.88M300.95,140.98l-3.25,-1.88M297.7,139.11l0,-3.75M382.2,139.11l0,-3.75M417.95,133.48l3.25,1.88M427.7,135.35l0,3.75M421.2,135.35l3.25,-1.88M424.45,133.48l3.25,1.88M382.2,146.61l-3.25,-1.88M378.95,144.74l0,-3.75M378.95,140.99l3.25,-1.88M430.95,140.99l0,3.75M430.95,144.74l-3.25,1.88M427.7,139.11l3.25,1.88M385.45,152.25l-3.25,-1.88M382.2,150.37l0,-3.75M421.2,150.37l-3.25,1.88M427.7,146.62l0,3.75M427.7,150.37l-3.25,1.88M424.45,152.25l-3.25,-1.88M385.45,156l0,-3.75M417.95,152.25l0,3.75M417.95,156l-3.25,1.88M385.45,163.51l-3.25,-1.88M382.2,161.64l0,-3.75M382.2,157.88l3.25,-1.88M408.2,161.64l-3.25,1.88M414.7,157.88l0,3.75M414.7,161.64l-3.25,1.88M411.45,163.51l-3.25,-1.88M297.7,169.15l-3.25,-1.88M294.45,167.27l0,-3.75M294.45,163.52l3.25,-1.88M297.7,161.64l3.25,1.88M307.45,167.27l-3.25,1.88M300.95,163.52l3.25,-1.88M304.2,161.64l3.25,1.88M313.95,167.27l-3.25,1.88M310.7,169.15l-3.25,-1.88M307.45,163.52l3.25,-1.88M310.7,161.64l3.25,1.88M320.45,163.52l0,3.75M320.45,167.27l-3.25,1.88M317.2,169.15l-3.25,-1.88M313.95,163.52l3.25,-1.88M317.2,161.64l3.25,1.88M388.7,169.15l-3.25,-1.88M385.45,167.27l0,-3.75M398.45,167.27l-3.25,1.88M404.95,163.52l0,3.75M404.95,167.27l-3.25,1.88M401.7,169.15l-3.25,-1.88M508.95,167.27l0,-3.75M508.95,163.52l3.25,-1.88M512.2,161.64l3.25,1.88M521.95,163.52l0,3.75M515.45,163.52l3.25,-1.88M518.7,161.64l3.25,1.88M304.2,169.15l0,3.75M304.2,172.9l-3.25,1.88M300.95,174.78l-3.25,-1.88M297.7,172.9l0,-3.75M395.2,169.15l0,3.75M395.2,172.9l-3.25,1.88M388.7,172.9l0,-3.75M466.7,169.15l0,3.75M460.2,172.9l0,-3.75M460.2,169.15l3.25,-1.88M463.45,167.27l3.25,1.88M505.7,172.9l0,-3.75M505.7,169.15l3.25,-1.88M521.95,167.27l3.25,1.88M531.7,169.15l0,3.75M525.2,169.15l3.25,-1.88M528.45,167.27l3.25,1.88M391.95,174.78l0,3.75M391.95,178.54l-3.25,1.88M388.7,180.41l-3.25,-1.88M385.45,178.54l0,-3.75M385.45,174.78l3.25,-1.88M460.2,180.41l-3.25,-1.88M456.95,178.54l0,-3.75M456.95,174.78l3.25,-1.88M469.95,174.78l0,3.75M466.7,172.91l3.25,1.88M502.45,178.54l0,-3.75M502.45,174.78l3.25,-1.88M534.95,174.78l0,3.75M531.7,172.91l3.25,1.88M245.7,184.17l0,-3.75M245.7,180.42l3.25,-1.88M248.95,178.54l3.25,1.88M258.7,180.42l0,3.75M252.2,180.42l3.25,-1.88M255.45,178.54l3.25,1.88M463.45,186.05l-3.25,-1.88M460.2,184.17l0,-3.75M473.2,180.42l0,3.75M469.95,178.54l3.25,1.88M486.2,184.17l0,-3.75M486.2,180.42l3.25,-1.88M489.45,178.54l3.25,1.88M492.7,180.42l3.25,-1.88M495.95,178.54l3.25,1.88M499.2,180.42l3.25,-1.88M538.2,180.42l0,3.75M534.95,178.54l3.25,1.88M245.7,191.68l-3.25,-1.88M242.45,189.8l0,-3.75M242.45,186.05l3.25,-1.88M261.95,186.05l0,3.75M261.95,189.8l-3.25,1.88M258.7,184.17l3.25,1.88M463.45,189.8l0,-3.75M473.2,184.17l3.25,1.88M476.45,186.05l3.25,-1.88M479.7,184.17l3.25,1.88M482.95,186.05l3.25,-1.88M541.45,186.05l0,3.75M541.45,189.8l-3.25,1.88M538.2,184.17l3.25,1.88M252.2,195.44l-3.25,1.88M245.7,195.44l0,-3.75M258.7,191.68l0,3.75M258.7,195.44l-3.25,1.88M255.45,197.31l-3.25,-1.88M398.45,197.31l-3.25,-1.88M395.2,195.44l0,-3.75M395.2,191.68l3.25,-1.88M398.45,189.81l3.25,1.88M401.7,191.68l3.25,-1.88M404.95,189.81l3.25,1.88M408.2,191.68l3.25,-1.88M411.45,189.81l3.25,1.88M421.2,191.68l0,3.75M414.7,191.68l3.25,-1.88M417.95,189.81l3.25,1.88M460.2,195.44l0,-3.75M460.2,191.68l3.25,-1.88M538.2,191.68l0,3.75M248.95,197.32l0,3.75M242.45,201.07l0,-3.75M242.45,197.32l3.25,-1.88M401.7,202.94l-3.25,-1.88M398.45,201.07l0,-3.75M421.2,195.44l3.25,1.88M424.45,197.32l3.25,-1.88M427.7,195.44l3.25,1.88M437.45,197.32l0,3.75M437.45,201.07l-3.25,1.88M434.2,202.94l-3.25,-1.88M430.95,201.07l0,-3.75M430.95,197.32l3.25,-1.88M434.2,195.44l3.25,1.88M437.45,197.32l3.25,-1.88M440.7,195.44l3.25,1.88M443.95,197.32l3.25,-1.88M447.2,195.44l3.25,1.88M450.45,197.32l3.25,-1.88M453.7,195.44l3.25,1.88M456.95,197.32l3.25,-1.88M534.95,201.07l-3.25,1.88M541.45,197.32l0,3.75M541.45,201.07l-3.25,1.88M538.2,202.94l-3.25,-1.88M538.2,195.44l3.25,1.88M239.2,206.7l0,-3.75M239.2,202.95l3.25,-1.88M252.2,202.95l0,3.75M248.95,201.07l3.25,1.88M271.7,206.7l0,-3.75M271.7,202.95l3.25,-1.88M274.95,201.07l3.25,1.88M278.2,202.95l3.25,-1.88M281.45,201.07l3.25,1.88M284.7,202.95l3.25,-1.88M287.95,201.07l3.25,1.88M297.7,202.95l0,3.75M291.2,202.95l3.25,-1.88M294.45,201.07l3.25,1.88M401.7,206.7l0,-3.75M440.7,206.7l-3.25,1.88M447.2,206.7l-3.25,1.88M443.95,208.58l-3.25,-1.88M453.7,206.7l-3.25,1.88M450.45,208.58l-3.25,-1.88M460.2,206.7l-3.25,1.88M456.95,208.58l-3.25,-1.88M463.45,208.58l-3.25,-1.88M525.2,206.7l-3.25,1.88M531.7,202.95l0,3.75M531.7,206.7l-3.25,1.88M528.45,208.58l-3.25,-1.88M235.95,212.33l0,-3.75M235.95,208.58l3.25,-1.88M248.95,212.33l-3.25,1.88M255.45,208.58l0,3.75M255.45,212.33l-3.25,1.88M252.2,214.21l-3.25,-1.88M252.2,206.71l3.25,1.88M261.95,212.33l0,-3.75M261.95,208.58l3.25,-1.88M265.2,206.71l3.25,1.88M268.45,208.58l3.25,-1.88M300.95,208.58l0,3.75M297.7,206.71l3.25,1.88M398.45,212.33l0,-3.75M398.45,208.58l3.25,-1.88M430.95,212.33l-3.25,1.88M437.45,208.58l0,3.75M437.45,212.33l-3.25,1.88M434.2,214.21l-3.25,-1.88M463.45,212.33l0,-3.75M521.95,208.58l0,3.75M239.2,217.97l-3.25,1.88M235.95,219.84l-3.25,-1.88M232.7,217.97l0,-3.75M232.7,214.21l3.25,-1.88M245.7,214.21l0,3.75M245.7,217.97l-3.25,1.88M242.45,219.84l-3.25,-1.88M258.7,217.97l0,-3.75M258.7,214.21l3.25,-1.88M304.2,214.21l0,3.75M300.95,212.34l3.25,1.88M395.2,217.97l0,-3.75M395.2,214.21l3.25,-1.88M421.2,214.21l0,3.75M421.2,217.97l-3.25,1.88M417.95,219.84l-3.25,-1.88M414.7,217.97l0,-3.75M414.7,214.21l3.25,-1.88M417.95,212.34l3.25,1.88M427.7,214.21l0,3.75M460.2,217.97l0,-3.75M460.2,214.21l3.25,-1.88M525.2,214.21l0,3.75M525.2,217.97l-3.25,1.88M521.95,212.34l3.25,1.88M258.7,225.48l-3.25,-1.88M255.45,223.6l0,-3.75M255.45,219.85l3.25,-1.88M307.45,219.85l0,3.75M304.2,217.97l3.25,1.88M385.45,223.6l0,-3.75M385.45,219.85l3.25,-1.88M388.7,217.97l3.25,1.88M391.95,219.85l3.25,-1.88M427.7,217.97l3.25,1.88M430.95,219.85l3.25,-1.88M434.2,217.97l3.25,1.88M437.45,219.85l3.25,-1.88M440.7,217.97l3.25,1.88M443.95,219.85l3.25,-1.88M447.2,217.97l3.25,1.88M450.45,219.85l3.25,-1.88M453.7,217.97l3.25,1.88M456.95,219.85l3.25,-1.88M521.95,219.85l0,3.75M521.95,223.6l-3.25,1.88M541.45,223.6l-3.25,1.88M534.95,223.6l0,-3.75M534.95,219.85l3.25,-1.88M538.2,217.97l3.25,1.88M547.95,219.85l0,3.75M544.7,225.48l-3.25,-1.88M541.45,219.85l3.25,-1.88M544.7,217.97l3.25,1.88M583.7,225.48l-3.25,-1.88M580.45,223.6l0,-3.75M580.45,219.85l3.25,-1.88M583.7,217.97l3.25,1.88M586.95,219.85l3.25,-1.88M590.2,217.97l3.25,1.88M593.45,219.85l3.25,-1.88M596.7,217.97l3.25,1.88M606.45,219.85l0,3.75M599.95,219.85l3.25,-1.88M603.2,217.97l3.25,1.88M265.2,229.23l-3.25,1.88M261.95,231.11l-3.25,-1.88M258.7,229.23l0,-3.75M271.7,229.23l-3.25,1.88M268.45,231.11l-3.25,-1.88M274.95,231.11l-3.25,-1.88M310.7,225.48l0,3.75M310.7,229.23l-3.25,1.88M307.45,223.6l3.25,1.88M385.45,231.11l-3.25,-1.88M382.2,229.23l0,-3.75M382.2,225.48l3.25,-1.88M518.7,225.48l0,3.75M518.7,229.23l-3.25,1.88M525.2,229.23l0,-3.75M525.2,225.48l3.25,-1.88M528.45,223.6l3.25,1.88M538.2,225.48l0,3.75M538.2,229.23l-3.25,1.88M531.7,225.48l3.25,-1.88M551.2,225.48l0,3.75M547.95,231.11l-3.25,-1.88M544.7,229.23l0,-3.75M547.95,223.6l3.25,1.88M586.95,231.11l-3.25,-1.88M583.7,229.23l0,-3.75M609.7,225.48l0,3.75M609.7,229.23l-3.25,1.88M606.45,223.6l3.25,1.88M278.2,236.74l-3.25,-1.88M274.95,234.87l0,-3.75M307.45,231.11l0,3.75M307.45,234.87l-3.25,1.88M385.45,234.87l0,-3.75M421.2,236.74l-3.25,-1.88M417.95,234.87l0,-3.75M417.95,231.11l3.25,-1.88M421.2,229.24l3.25,1.88M430.95,231.11l0,3.75M424.45,231.11l3.25,-1.88M427.7,229.24l3.25,1.88M502.45,231.11l0,3.75M502.45,234.87l-3.25,1.88M499.2,236.74l-3.25,-1.88M495.95,234.87l0,-3.75M495.95,231.11l3.25,-1.88M499.2,229.24l3.25,1.88M515.45,231.11l0,3.75M515.45,234.87l-3.25,1.88M521.95,234.87l0,-3.75M521.95,231.11l3.25,-1.88M534.95,231.11l0,3.75M534.95,234.87l-3.25,1.88M554.45,231.11l0,3.75M554.45,234.87l-3.25,1.88M551.2,236.74l-3.25,-1.88M547.95,234.87l0,-3.75M551.2,229.24l3.25,1.88M590.2,236.74l-3.25,-1.88M586.95,234.87l0,-3.75M606.45,231.11l0,3.75M606.45,234.87l-3.25,1.88M265.2,236.75l0,3.75M265.2,240.5l-3.25,1.88M258.7,240.5l0,-3.75M258.7,236.75l3.25,-1.88M261.95,234.87l3.25,1.88M278.2,240.5l0,-3.75M304.2,236.75l0,3.75M385.45,242.38l-3.25,-1.88M382.2,240.5l0,-3.75M382.2,236.75l3.25,-1.88M427.7,240.5l-3.25,1.88M424.45,242.38l-3.25,-1.88M421.2,240.5l0,-3.75M434.2,236.75l0,3.75M434.2,240.5l-3.25,1.88M430.95,242.38l-3.25,-1.88M430.95,234.87l3.25,1.88M512.2,236.75l0,3.75M518.7,240.5l0,-3.75M518.7,236.75l3.25,-1.88M531.7,236.75l0,3.75M531.7,240.5l-3.25,1.88M596.7,240.5l-3.25,1.88M593.45,242.38l-3.25,-1.88M590.2,240.5l0,-3.75M603.2,236.75l0,3.75M603.2,240.5l-3.25,1.88M599.95,242.38l-3.25,-1.88M242.45,246.13l0,-3.75M242.45,242.38l3.25,-1.88M245.7,240.5l3.25,1.88M248.95,242.38l3.25,-1.88M252.2,240.5l3.25,1.88M261.95,242.38l0,3.75M255.45,242.38l3.25,-1.88M274.95,246.13l0,-3.75M274.95,242.38l3.25,-1.88M307.45,242.38l0,3.75M307.45,246.13l-3.25,1.88M304.2,240.5l3.25,1.88M385.45,246.13l0,-3.75M495.95,242.38l0,3.75M495.95,246.13l-3.25,1.88M489.45,246.13l0,-3.75M489.45,242.38l3.25,-1.88M492.7,240.5l3.25,1.88M512.2,240.5l3.25,1.88M515.45,242.38l3.25,-1.88M528.45,242.38l0,3.75M528.45,246.13l-3.25,1.88M239.2,251.77l0,-3.75M239.2,248.01l3.25,-1.88M265.2,248.01l0,3.75M261.95,246.14l3.25,1.88M271.7,251.77l0,-3.75M271.7,248.01l3.25,-1.88M297.7,251.77l-3.25,1.88M304.2,248.01l0,3.75M304.2,251.77l-3.25,1.88M300.95,253.64l-3.25,-1.88M385.45,253.64l-3.25,-1.88M382.2,251.77l0,-3.75M382.2,248.01l3.25,-1.88M479.7,251.77l0,-3.75M479.7,248.01l3.25,-1.88M482.95,246.14l3.25,1.88M492.7,248.01l0,3.75M492.7,251.77l-3.25,1.88M486.2,248.01l3.25,-1.88M518.7,251.77l-3.25,1.88M525.2,248.01l0,3.75M525.2,251.77l-3.25,1.88M521.95,253.64l-3.25,-1.88M564.2,251.77l0,-3.75M564.2,248.01l3.25,-1.88M567.45,246.14l3.25,1.88M570.7,248.01l3.25,-1.88M573.95,246.14l3.25,1.88M577.2,248.01l3.25,-1.88M580.45,246.14l3.25,1.88M583.7,248.01l3.25,-1.88M586.95,246.14l3.25,1.88M590.2,248.01l3.25,-1.88M593.45,246.14l3.25,1.88M596.7,248.01l3.25,-1.88M599.95,246.14l3.25,1.88M609.7,248.01l0,3.75M609.7,251.77l-3.25,1.88M603.2,248.01l3.25,-1.88M606.45,246.14l3.25,1.88M235.95,257.4l0,-3.75M235.95,253.65l3.25,-1.88M265.2,251.77l3.25,1.88M268.45,253.65l3.25,-1.88M294.45,253.65l0,3.75M385.45,257.4l0,-3.75M417.95,253.65l0,3.75M417.95,257.4l-3.25,1.88M414.7,259.27l-3.25,-1.88M411.45,257.4l0,-3.75M411.45,253.65l3.25,-1.88M414.7,251.77l3.25,1.88M482.95,257.4l-3.25,1.88M479.7,259.27l-3.25,-1.88M476.45,257.4l0,-3.75M476.45,253.65l3.25,-1.88M489.45,253.65l0,3.75M489.45,257.4l-3.25,1.88M486.2,259.27l-3.25,-1.88M515.45,253.65l0,3.75M515.45,257.4l-3.25,1.88M554.45,257.4l0,-3.75M554.45,253.65l3.25,-1.88M557.7,251.77l3.25,1.88M560.95,253.65l3.25,-1.88M606.45,253.65l0,3.75M664.95,253.65l0,3.75M658.45,257.4l0,-3.75M658.45,253.65l3.25,-1.88M661.7,251.77l3.25,1.88M200.2,263.03l0,-3.75M200.2,259.28l3.25,-1.88M203.45,257.4l3.25,1.88M206.7,259.28l3.25,-1.88M209.95,257.4l3.25,1.88M219.7,259.28l0,3.75M213.2,259.28l3.25,-1.88M216.45,257.4l3.25,1.88M232.7,263.03l0,-3.75M232.7,259.28l3.25,-1.88M297.7,259.28l0,3.75M294.45,257.4l3.25,1.88M388.7,263.03l-3.25,1.88M385.45,264.91l-3.25,-1.88M382.2,263.03l0,-3.75M382.2,259.28l3.25,-1.88M391.95,264.91l-3.25,-1.88M421.2,263.03l0,-3.75M421.2,259.28l3.25,-1.88M424.45,257.4l3.25,1.88M434.2,259.28l0,3.75M434.2,263.03l-3.25,1.88M427.7,259.28l3.25,-1.88M430.95,257.4l3.25,1.88M460.2,263.03l0,-3.75M460.2,259.28l3.25,-1.88M463.45,257.4l3.25,1.88M473.2,259.28l0,3.75M466.7,259.28l3.25,-1.88M469.95,257.4l3.25,1.88M512.2,259.28l0,3.75M551.2,263.03l0,-3.75M551.2,259.28l3.25,-1.88M609.7,259.28l0,3.75M606.45,257.4l3.25,1.88M658.45,264.91l-3.25,-1.88M655.2,263.03l0,-3.75M655.2,259.28l3.25,-1.88M668.2,259.28l0,3.75M668.2,263.03l-3.25,1.88M664.95,257.4l3.25,1.88M170.95,268.66l0,-3.75M170.95,264.91l3.25,-1.88M174.2,263.04l3.25,1.88M177.45,264.91l3.25,-1.88M180.7,263.04l3.25,1.88M183.95,264.91l3.25,-1.88M187.2,263.04l3.25,1.88M190.45,264.91l3.25,-1.88M193.7,263.04l3.25,1.88M196.95,264.91l3.25,-1.88M219.7,263.04l3.25,1.88M222.95,264.91l3.25,-1.88M226.2,263.04l3.25,1.88M229.45,264.91l3.25,-1.88M297.7,263.04l3.25,1.88M307.45,264.91l0,3.75M300.95,264.91l3.25,-1.88M304.2,263.04l3.25,1.88M395.2,270.54l-3.25,-1.88M391.95,268.66l0,-3.75M417.95,268.66l0,-3.75M417.95,264.91l3.25,-1.88M430.95,264.91l0,3.75M450.45,268.66l-3.25,1.88M447.2,270.54l-3.25,-1.88M443.95,268.66l0,-3.75M443.95,264.91l3.25,-1.88M447.2,263.04l3.25,1.88M456.95,268.66l-3.25,1.88M453.7,270.54l-3.25,-1.88M450.45,264.91l3.25,-1.88M453.7,263.04l3.25,1.88M460.2,270.54l-3.25,-1.88M456.95,264.91l3.25,-1.88M476.45,264.91l0,3.75M473.2,263.04l3.25,1.88M515.45,264.91l0,3.75M515.45,268.66l-3.25,1.88M512.2,263.04l3.25,1.88M547.95,268.66l0,-3.75M547.95,264.91l3.25,-1.88M612.95,264.91l0,3.75M609.7,263.04l3.25,1.88M664.95,264.91l0,3.75M664.95,268.66l-3.25,1.88M658.45,268.66l0,-3.75M167.7,274.3l0,-3.75M167.7,270.54l3.25,-1.88M307.45,268.67l3.25,1.88M317.2,270.54l0,3.75M310.7,270.54l3.25,-1.88M313.95,268.67l3.25,1.88M398.45,276.17l-3.25,-1.88M395.2,274.3l0,-3.75M421.2,274.3l-3.25,1.88M417.95,276.17l-3.25,-1.88M414.7,274.3l0,-3.75M414.7,270.54l3.25,-1.88M427.7,274.3l-3.25,1.88M424.45,276.17l-3.25,-1.88M434.2,270.54l0,3.75M434.2,274.3l-3.25,1.88M430.95,276.17l-3.25,-1.88M430.95,268.67l3.25,1.88M466.7,274.3l-3.25,1.88M460.2,274.3l0,-3.75M473.2,274.3l-3.25,1.88M469.95,276.17l-3.25,-1.88M479.7,270.54l0,3.75M479.7,274.3l-3.25,1.88M476.45,276.17l-3.25,-1.88M476.45,268.67l3.25,1.88M512.2,270.54l0,3.75M544.7,274.3l0,-3.75M544.7,270.54l3.25,-1.88M616.2,270.54l0,3.75M612.95,268.67l3.25,1.88M661.7,270.54l0,3.75M661.7,274.3l-3.25,1.88M655.2,274.3l0,-3.75M655.2,270.54l3.25,-1.88M157.95,279.93l0,-3.75M157.95,276.18l3.25,-1.88M161.2,274.3l3.25,1.88M164.45,276.18l3.25,-1.88M320.45,276.18l0,3.75M317.2,274.3l3.25,1.88M398.45,279.93l0,-3.75M463.45,276.18l0,3.75M460.2,281.81l-3.25,-1.88M456.95,279.93l0,-3.75M456.95,276.18l3.25,-1.88M515.45,276.18l0,3.75M512.2,274.3l3.25,1.88M541.45,279.93l0,-3.75M541.45,276.18l3.25,-1.88M619.45,276.18l0,3.75M616.2,274.3l3.25,1.88M658.45,276.18l0,3.75M658.45,279.93l-3.25,1.88M651.95,279.93l0,-3.75M651.95,276.18l3.25,-1.88M154.7,285.56l0,-3.75M154.7,281.81l3.25,-1.88M304.2,281.81l0,3.75M304.2,285.56l-3.25,1.88M300.95,287.44l-3.25,-1.88M297.7,285.56l0,-3.75M297.7,281.81l3.25,-1.88M300.95,279.93l3.25,1.88M320.45,279.93l3.25,1.88M323.7,281.81l3.25,-1.88M326.95,279.93l3.25,1.88M330.2,281.81l3.25,-1.88M333.45,279.93l3.25,1.88M336.7,281.81l3.25,-1.88M339.95,279.93l3.25,1.88M349.7,281.81l0,3.75M343.2,281.81l3.25,-1.88M346.45,279.93l3.25,1.88M382.2,285.56l0,-3.75M382.2,281.81l3.25,-1.88M385.45,279.93l3.25,1.88M388.7,281.81l3.25,-1.88M391.95,279.93l3.25,1.88M395.2,281.81l3.25,-1.88M408.2,285.56l0,-3.75M408.2,281.81l3.25,-1.88M411.45,279.93l3.25,1.88M414.7,281.81l3.25,-1.88M417.95,279.93l3.25,1.88M421.2,281.81l3.25,-1.88M424.45,279.93l3.25,1.88M434.2,281.81l0,3.75M434.2,285.56l-3.25,1.88M427.7,281.81l3.25,-1.88M430.95,279.93l3.25,1.88M466.7,281.81l0,3.75M460.2,285.56l0,-3.75M463.45,279.93l3.25,1.88M518.7,281.81l0,3.75M515.45,279.93l3.25,1.88M525.2,285.56l0,-3.75M525.2,281.81l3.25,-1.88M528.45,279.93l3.25,1.88M531.7,281.81l3.25,-1.88M534.95,279.93l3.25,1.88M538.2,281.81l3.25,-1.88M622.7,281.81l0,3.75M619.45,279.93l3.25,1.88M655.2,281.81l0,3.75M655.2,285.56l-3.25,1.88M651.95,287.44l-3.25,-1.88M648.7,285.56l0,-3.75M648.7,281.81l3.25,-1.88M154.7,293.07l-3.25,-1.88M151.45,291.2l0,-3.75M151.45,287.44l3.25,-1.88M320.45,287.44l0,3.75M320.45,291.2l-3.25,1.88M313.95,291.2l0,-3.75M313.95,287.44l3.25,-1.88M317.2,285.57l3.25,1.88M352.95,287.44l0,3.75M349.7,285.57l3.25,1.88M365.95,291.2l0,-3.75M365.95,287.44l3.25,-1.88M369.2,285.57l3.25,1.88M372.45,287.44l3.25,-1.88M375.7,285.57l3.25,1.88M378.95,287.44l3.25,-1.88M404.95,291.2l0,-3.75M404.95,287.44l3.25,-1.88M430.95,287.44l0,3.75M456.95,291.2l0,-3.75M456.95,287.44l3.25,-1.88M469.95,287.44l0,3.75M466.7,285.57l3.25,1.88M518.7,285.57l3.25,1.88M521.95,287.44l3.25,-1.88M625.95,287.44l0,3.75M622.7,285.57l3.25,1.88M157.95,298.71l-3.25,-1.88M154.7,296.83l0,-3.75M200.2,296.83l-3.25,1.88M203.45,298.71l-3.25,-1.88M226.2,296.83l-3.25,1.88M229.45,298.71l-3.25,-1.88M317.2,293.08l0,3.75M317.2,296.83l-3.25,1.88M310.7,296.83l0,-3.75M310.7,293.08l3.25,-1.88M330.2,296.83l0,-3.75M330.2,293.08l3.25,-1.88M333.45,291.2l3.25,1.88M343.2,293.08l0,3.75M336.7,293.08l3.25,-1.88M339.95,291.2l3.25,1.88M352.95,291.2l3.25,1.88M356.2,293.08l3.25,-1.88M359.45,291.2l3.25,1.88M362.7,293.08l3.25,-1.88M401.7,296.83l0,-3.75M401.7,293.08l3.25,-1.88M427.7,293.08l0,3.75M427.7,296.83l-3.25,1.88M421.2,296.83l0,-3.75M421.2,293.08l3.25,-1.88M424.45,291.2l3.25,1.88M430.95,291.2l3.25,1.88M434.2,293.08l3.25,-1.88M437.45,291.2l3.25,1.88M447.2,293.08l0,3.75M440.7,293.08l3.25,-1.88M443.95,291.2l3.25,1.88M453.7,296.83l0,-3.75M453.7,293.08l3.25,-1.88M469.95,291.2l3.25,1.88M479.7,293.08l0,3.75M473.2,293.08l3.25,-1.88M476.45,291.2l3.25,1.88M629.2,293.08l0,3.75M629.2,296.83l-3.25,1.88M625.95,291.2l3.25,1.88M125.45,302.46l0,-3.75M125.45,298.71l3.25,-1.88M128.7,296.83l3.25,1.88M138.45,298.71l0,3.75M131.95,298.71l3.25,-1.88M135.2,296.83l3.25,1.88M164.45,302.46l-3.25,1.88M161.2,304.34l-3.25,-1.88M157.95,302.46l0,-3.75M170.95,302.46l-3.25,1.88M167.7,304.34l-3.25,-1.88M174.2,304.34l-3.25,-1.88M196.95,298.71l0,3.75M196.95,302.46l-3.25,1.88M203.45,302.46l0,-3.75M222.95,298.71l0,3.75M222.95,302.46l-3.25,1.88M232.7,304.34l-3.25,-1.88M229.45,302.46l0,-3.75M248.95,298.71l0,3.75M248.95,302.46l-3.25,1.88M245.7,304.34l-3.25,-1.88M242.45,302.46l0,-3.75M242.45,298.71l3.25,-1.88M245.7,296.83l3.25,1.88M313.95,298.71l0,3.75M313.95,302.46l-3.25,1.88M310.7,304.34l-3.25,-1.88M307.45,302.46l0,-3.75M307.45,298.71l3.25,-1.88M326.95,302.46l0,-3.75M326.95,298.71l3.25,-1.88M339.95,302.46l-3.25,1.88M343.2,304.34l-3.25,-1.88M343.2,296.83l3.25,1.88M346.45,298.71l3.25,-1.88M349.7,296.83l3.25,1.88M352.95,298.71l3.25,-1.88M356.2,296.83l3.25,1.88M365.95,298.71l0,3.75M359.45,298.71l3.25,-1.88M362.7,296.83l3.25,1.88M391.95,302.46l0,-3.75M391.95,298.71l3.25,-1.88M395.2,296.83l3.25,1.88M398.45,298.71l3.25,-1.88M424.45,298.71l0,3.75M424.45,302.46l-3.25,1.88M417.95,302.46l0,-3.75M417.95,298.71l3.25,-1.88M447.2,296.83l3.25,1.88M450.45,298.71l3.25,-1.88M463.45,298.71l0,3.75M463.45,302.46l-3.25,1.88M460.2,304.34l-3.25,-1.88M456.95,302.46l0,-3.75M456.95,298.71l3.25,-1.88M460.2,296.83l3.25,1.88M479.7,296.83l3.25,1.88M482.95,298.71l3.25,-1.88M486.2,296.83l3.25,1.88M495.95,298.71l0,3.75M489.45,298.71l3.25,-1.88M492.7,296.83l3.25,1.88M625.95,298.71l0,3.75M625.95,302.46l-3.25,1.88M125.45,309.97l-3.25,-1.88M122.2,308.1l0,-3.75M122.2,304.34l3.25,-1.88M141.7,304.34l0,3.75M141.7,308.1l-3.25,1.88M138.45,302.47l3.25,1.88M177.45,309.97l-3.25,-1.88M174.2,308.1l0,-3.75M193.7,304.34l0,3.75M193.7,308.1l-3.25,1.88M200.2,308.1l0,-3.75M200.2,304.34l3.25,-1.88M219.7,304.34l0,3.75M219.7,308.1l-3.25,1.88M232.7,308.1l0,-3.75M330.2,308.1l-3.25,1.88M326.95,309.97l-3.25,-1.88M323.7,308.1l0,-3.75M323.7,304.34l3.25,-1.88M336.7,304.34l0,3.75M336.7,308.1l-3.25,1.88M333.45,309.97l-3.25,-1.88M346.45,309.97l-3.25,-1.88M343.2,308.1l0,-3.75M365.95,302.47l3.25,1.88M369.2,304.34l3.25,-1.88M372.45,302.47l3.25,1.88M375.7,304.34l3.25,-1.88M378.95,302.47l3.25,1.88M382.2,304.34l3.25,-1.88M385.45,302.47l3.25,1.88M388.7,304.34l3.25,-1.88M408.2,308.1l0,-3.75M408.2,304.34l3.25,-1.88M411.45,302.47l3.25,1.88M421.2,304.34l0,3.75M414.7,304.34l3.25,-1.88M499.2,304.34l0,3.75M495.95,302.47l3.25,1.88M616.2,308.1l-3.25,1.88M622.7,304.34l0,3.75M622.7,308.1l-3.25,1.88M619.45,309.97l-3.25,-1.88M131.95,313.73l-3.25,1.88M128.7,315.6l-3.25,-1.88M125.45,313.73l0,-3.75M138.45,309.98l0,3.75M138.45,313.73l-3.25,1.88M135.2,315.6l-3.25,-1.88M180.7,315.6l-3.25,-1.88M177.45,313.73l0,-3.75M190.45,309.98l0,3.75M196.95,313.73l0,-3.75M196.95,309.98l3.25,-1.88M216.45,309.98l0,3.75M232.7,315.6l-3.25,-1.88M229.45,313.73l0,-3.75M229.45,309.98l3.25,-1.88M349.7,315.6l-3.25,-1.88M346.45,313.73l0,-3.75M359.45,309.98l0,3.75M359.45,313.73l-3.25,1.88M356.2,315.6l-3.25,-1.88M352.95,313.73l0,-3.75M352.95,309.98l3.25,-1.88M356.2,308.1l3.25,1.88M408.2,315.6l-3.25,-1.88M404.95,313.73l0,-3.75M404.95,309.98l3.25,-1.88M424.45,309.98l0,3.75M424.45,313.73l-3.25,1.88M421.2,308.1l3.25,1.88M443.95,313.73l0,-3.75M443.95,309.98l3.25,-1.88M447.2,308.1l3.25,1.88M456.95,309.98l0,3.75M456.95,313.73l-3.25,1.88M450.45,309.98l3.25,-1.88M453.7,308.1l3.25,1.88M502.45,309.98l0,3.75M499.2,308.1l3.25,1.88M521.95,309.98l0,3.75M515.45,313.73l0,-3.75M515.45,309.98l3.25,-1.88M518.7,308.1l3.25,1.88M528.45,313.73l0,-3.75M528.45,309.98l3.25,-1.88M531.7,308.1l3.25,1.88M541.45,309.98l0,3.75M534.95,309.98l3.25,-1.88M538.2,308.1l3.25,1.88M567.45,309.98l0,3.75M567.45,313.73l-3.25,1.88M564.2,315.6l-3.25,-1.88M560.95,313.73l0,-3.75M560.95,309.98l3.25,-1.88M564.2,308.1l3.25,1.88M593.45,309.98l0,3.75M593.45,313.73l-3.25,1.88M590.2,315.6l-3.25,-1.88M586.95,313.73l0,-3.75M586.95,309.98l3.25,-1.88M590.2,308.1l3.25,1.88M612.95,309.98l0,3.75M612.95,313.73l-3.25,1.88M180.7,319.36l0,-3.75M190.45,313.73l3.25,1.88M200.2,319.36l-3.25,1.88M193.7,315.61l3.25,-1.88M206.7,319.36l-3.25,1.88M203.45,321.24l-3.25,-1.88M209.95,321.24l-3.25,-1.88M216.45,313.73l3.25,1.88M226.2,315.61l0,3.75M226.2,319.36l-3.25,1.88M219.7,315.61l3.25,-1.88M222.95,313.73l3.25,1.88M239.2,319.36l-3.25,1.88M235.95,321.24l-3.25,-1.88M232.7,319.36l0,-3.75M242.45,321.24l-3.25,-1.88M310.7,315.61l0,3.75M304.2,319.36l0,-3.75M304.2,315.61l3.25,-1.88M307.45,313.73l3.25,1.88M349.7,319.36l0,-3.75M369.2,315.61l0,3.75M369.2,319.36l-3.25,1.88M365.95,321.24l-3.25,-1.88M362.7,319.36l0,-3.75M362.7,315.61l3.25,-1.88M365.95,313.73l3.25,1.88M408.2,319.36l0,-3.75M421.2,315.61l0,3.75M421.2,319.36l-3.25,1.88M440.7,319.36l0,-3.75M440.7,315.61l3.25,-1.88M453.7,315.61l0,3.75M502.45,313.73l3.25,1.88M505.7,315.61l3.25,-1.88M508.95,313.73l3.25,1.88M512.2,315.61l3.25,-1.88M521.95,313.73l3.25,1.88M525.2,315.61l3.25,-1.88M544.7,315.61l0,3.75M544.7,319.36l-3.25,1.88M541.45,313.73l3.25,1.88M609.7,315.61l0,3.75M609.7,319.36l-3.25,1.88M177.45,324.99l0,-3.75M177.45,321.24l3.25,-1.88M196.95,321.24l0,3.75M196.95,324.99l-3.25,1.88M216.45,324.99l-3.25,1.88M213.2,326.87l-3.25,-1.88M209.95,324.99l0,-3.75M222.95,321.24l0,3.75M222.95,324.99l-3.25,1.88M219.7,326.87l-3.25,-1.88M245.7,326.87l-3.25,-1.88M242.45,324.99l0,-3.75M278.2,326.87l-3.25,-1.88M274.95,324.99l0,-3.75M274.95,321.24l3.25,-1.88M278.2,319.37l3.25,1.88M287.95,321.24l0,3.75M281.45,321.24l3.25,-1.88M284.7,319.37l3.25,1.88M300.95,324.99l0,-3.75M300.95,321.24l3.25,-1.88M313.95,321.24l0,3.75M310.7,319.37l3.25,1.88M346.45,324.99l0,-3.75M346.45,321.24l3.25,-1.88M391.95,321.24l0,3.75M385.45,324.99l0,-3.75M385.45,321.24l3.25,-1.88M388.7,319.37l3.25,1.88M404.95,324.99l0,-3.75M404.95,321.24l3.25,-1.88M417.95,321.24l0,3.75M430.95,324.99l0,-3.75M430.95,321.24l3.25,-1.88M434.2,319.37l3.25,1.88M437.45,321.24l3.25,-1.88M450.45,324.99l-3.25,1.88M456.95,321.24l0,3.75M456.95,324.99l-3.25,1.88M453.7,326.87l-3.25,-1.88M453.7,319.37l3.25,1.88M482.95,321.24l0,3.75M479.7,326.87l-3.25,-1.88M476.45,324.99l0,-3.75M476.45,321.24l3.25,-1.88M479.7,319.37l3.25,1.88M502.45,321.24l0,3.75M502.45,324.99l-3.25,1.88M499.2,326.87l-3.25,-1.88M495.95,324.99l0,-3.75M495.95,321.24l3.25,-1.88M499.2,319.37l3.25,1.88M541.45,321.24l0,3.75M541.45,324.99l-3.25,1.88M593.45,324.99l-3.25,1.88M599.95,324.99l-3.25,1.88M596.7,326.87l-3.25,-1.88M606.45,321.24l0,3.75M606.45,324.99l-3.25,1.88M603.2,326.87l-3.25,-1.88M174.2,330.63l0,-3.75M174.2,326.87l3.25,-1.88M187.2,330.63l-3.25,1.88M193.7,326.87l0,3.75M193.7,330.63l-3.25,1.88M190.45,332.5l-3.25,-1.88M248.95,332.5l-3.25,-1.88M245.7,330.63l0,-3.75M278.2,330.63l0,-3.75M291.2,326.87l0,3.75M291.2,330.63l-3.25,1.88M287.95,325l3.25,1.88M297.7,330.63l0,-3.75M297.7,326.87l3.25,-1.88M313.95,325l3.25,1.88M317.2,326.87l3.25,-1.88M320.45,325l3.25,1.88M330.2,326.87l0,3.75M323.7,326.87l3.25,-1.88M326.95,325l3.25,1.88M336.7,330.63l0,-3.75M336.7,326.87l3.25,-1.88M339.95,325l3.25,1.88M343.2,326.87l3.25,-1.88M385.45,332.5l-3.25,-1.88M382.2,330.63l0,-3.75M382.2,326.87l3.25,-1.88M391.95,325l3.25,1.88M395.2,326.87l3.25,-1.88M398.45,325l3.25,1.88M401.7,326.87l3.25,-1.88M417.95,325l3.25,1.88M421.2,326.87l3.25,-1.88M424.45,325l3.25,1.88M427.7,326.87l3.25,-1.88M447.2,326.87l0,3.75M466.7,326.87l0,3.75M460.2,330.63l0,-3.75M460.2,326.87l3.25,-1.88M463.45,325l3.25,1.88M486.2,326.87l0,3.75M486.2,330.63l-3.25,1.88M482.95,332.5l-3.25,-1.88M479.7,330.63l0,-3.75M482.95,325l3.25,1.88M512.2,330.63l-3.25,1.88M518.7,330.63l-3.25,1.88M515.45,332.5l-3.25,-1.88M525.2,330.63l-3.25,1.88M521.95,332.5l-3.25,-1.88M531.7,330.63l-3.25,1.88M528.45,332.5l-3.25,-1.88M538.2,326.87l0,3.75M538.2,330.63l-3.25,1.88M534.95,332.5l-3.25,-1.88M590.2,326.87l0,3.75M590.2,330.63l-3.25,1.88M161.2,338.14l-3.25,-1.88M157.95,336.26l0,-3.75M157.95,332.51l3.25,-1.88M161.2,330.63l3.25,1.88M170.95,336.26l-3.25,1.88M164.45,332.51l3.25,-1.88M167.7,330.63l3.25,1.88M177.45,336.26l-3.25,1.88M174.2,338.14l-3.25,-1.88M170.95,332.51l3.25,-1.88M183.95,332.51l0,3.75M183.95,336.26l-3.25,1.88M180.7,338.14l-3.25,-1.88M252.2,338.14l-3.25,-1.88M248.95,336.26l0,-3.75M281.45,336.26l-3.25,1.88M278.2,338.14l-3.25,-1.88M274.95,336.26l0,-3.75M274.95,332.51l3.25,-1.88M287.95,332.51l0,3.75M287.95,336.26l-3.25,1.88M284.7,338.14l-3.25,-1.88M300.95,336.26l-3.25,1.88M297.7,338.14l-3.25,-1.88M294.45,336.26l0,-3.75M294.45,332.51l3.25,-1.88M304.2,338.14l-3.25,-1.88M330.2,330.63l3.25,1.88M333.45,332.51l3.25,-1.88M352.95,332.51l0,3.75M349.7,338.14l-3.25,-1.88M346.45,336.26l0,-3.75M346.45,332.51l3.25,-1.88M349.7,330.63l3.25,1.88M385.45,336.26l0,-3.75M450.45,332.51l0,3.75M447.2,330.63l3.25,1.88M463.45,336.26l-3.25,1.88M456.95,336.26l0,-3.75M456.95,332.51l3.25,-1.88M469.95,332.51l0,3.75M469.95,336.26l-3.25,1.88M466.7,338.14l-3.25,-1.88M466.7,330.63l3.25,1.88M508.95,332.51l0,3.75M580.45,336.26l-3.25,1.88M586.95,332.51l0,3.75M583.7,338.14l-3.25,-1.88M167.7,338.14l0,3.75M161.2,341.89l0,-3.75M252.2,341.89l0,-3.75M265.2,341.89l-3.25,1.88M268.45,343.77l-3.25,-1.88M310.7,341.89l-3.25,1.88M307.45,343.77l-3.25,-1.88M304.2,341.89l0,-3.75M313.95,343.77l-3.25,-1.88M356.2,341.89l-3.25,1.88M352.95,343.77l-3.25,-1.88M349.7,341.89l0,-3.75M352.95,336.26l3.25,1.88M362.7,338.14l0,3.75M362.7,341.89l-3.25,1.88M359.45,343.77l-3.25,-1.88M356.2,338.14l3.25,-1.88M359.45,336.26l3.25,1.88M375.7,338.14l0,3.75M369.2,341.89l0,-3.75M369.2,338.14l3.25,-1.88M372.45,336.26l3.25,1.88M382.2,341.89l0,-3.75M382.2,338.14l3.25,-1.88M450.45,336.26l3.25,1.88M460.2,338.14l0,3.75M460.2,341.89l-3.25,1.88M453.7,338.14l3.25,-1.88M508.95,336.26l3.25,1.88M518.7,338.14l0,3.75M512.2,338.14l3.25,-1.88M515.45,336.26l3.25,1.88M564.2,341.89l-3.25,1.88M567.45,343.77l-3.25,-1.88M577.2,338.14l0,3.75M252.2,349.4l-3.25,-1.88M248.95,347.53l0,-3.75M248.95,343.77l3.25,-1.88M261.95,343.77l0,3.75M271.7,349.4l-3.25,-1.88M268.45,347.53l0,-3.75M317.2,349.4l-3.25,-1.88M313.95,347.53l0,-3.75M372.45,347.53l-3.25,1.88M369.2,349.4l-3.25,-1.88M365.95,347.53l0,-3.75M365.95,343.77l3.25,-1.88M375.7,349.4l-3.25,-1.88M375.7,341.9l3.25,1.88M378.95,343.77l3.25,-1.88M456.95,343.77l0,3.75M456.95,347.53l-3.25,1.88M476.45,347.53l-3.25,1.88M482.95,347.53l-3.25,1.88M479.7,349.4l-3.25,-1.88M486.2,349.4l-3.25,-1.88M518.7,341.9l3.25,1.88M521.95,343.77l3.25,-1.88M525.2,341.9l3.25,1.88M534.95,343.77l0,3.75M534.95,347.53l-3.25,1.88M528.45,343.77l3.25,-1.88M531.7,341.9l3.25,1.88M560.95,343.77l0,3.75M258.7,353.16l-3.25,1.88M255.45,355.04l-3.25,-1.88M252.2,353.16l0,-3.75M265.2,349.41l0,3.75M261.95,355.04l-3.25,-1.88M261.95,347.53l3.25,1.88M271.7,353.16l0,-3.75M323.7,353.16l-3.25,1.88M320.45,355.04l-3.25,-1.88M317.2,353.16l0,-3.75M330.2,353.16l-3.25,1.88M326.95,355.04l-3.25,-1.88M333.45,355.04l-3.25,-1.88M343.2,349.41l0,3.75M343.2,353.16l-3.25,1.88M339.95,355.04l-3.25,-1.88M336.7,353.16l0,-3.75M336.7,349.41l3.25,-1.88M339.95,347.53l3.25,1.88M378.95,355.04l-3.25,-1.88M375.7,353.16l0,-3.75M453.7,349.41l0,3.75M453.7,353.16l-3.25,1.88M460.2,353.16l-3.25,1.88M456.95,355.04l-3.25,-1.88M466.7,353.16l-3.25,1.88M463.45,355.04l-3.25,-1.88M473.2,349.41l0,3.75M473.2,353.16l-3.25,1.88M469.95,355.04l-3.25,-1.88M489.45,355.04l-3.25,-1.88M486.2,353.16l0,-3.75M512.2,349.41l0,3.75M512.2,353.16l-3.25,1.88M508.95,355.04l-3.25,-1.88M505.7,353.16l0,-3.75M505.7,349.41l3.25,-1.88M508.95,347.53l3.25,1.88M518.7,353.16l-3.25,1.88M525.2,353.16l-3.25,1.88M521.95,355.04l-3.25,-1.88M531.7,349.41l0,3.75M528.45,355.04l-3.25,-1.88M336.7,360.67l-3.25,-1.88M333.45,358.79l0,-3.75M352.95,355.04l0,3.75M349.7,360.67l-3.25,-1.88M346.45,358.79l0,-3.75M346.45,355.04l3.25,-1.88M349.7,353.16l3.25,1.88M378.95,358.79l0,-3.75M450.45,355.04l0,3.75M469.95,358.79l-3.25,1.88M476.45,358.79l-3.25,1.88M473.2,360.67l-3.25,-1.88M482.95,358.79l-3.25,1.88M479.7,360.67l-3.25,-1.88M486.2,360.67l-3.25,-1.88M492.7,360.67l-3.25,-1.88M489.45,358.79l0,-3.75M515.45,355.04l0,3.75M281.45,366.3l-3.25,-1.88M317.2,360.67l0,3.75M313.95,366.3l-3.25,-1.88M310.7,364.43l0,-3.75M310.7,360.67l3.25,-1.88M313.95,358.8l3.25,1.88M339.95,366.3l-3.25,-1.88M336.7,364.43l0,-3.75M349.7,364.43l0,-3.75M352.95,358.8l3.25,1.88M356.2,360.67l3.25,-1.88M359.45,358.8l3.25,1.88M362.7,360.67l3.25,-1.88M365.95,358.8l3.25,1.88M369.2,360.67l3.25,-1.88M372.45,358.8l3.25,1.88M375.7,360.67l3.25,-1.88M453.7,360.67l0,3.75M453.7,364.43l-3.25,1.88M450.45,358.8l3.25,1.88M460.2,364.43l-3.25,1.88M466.7,360.67l0,3.75M466.7,364.43l-3.25,1.88M463.45,366.3l-3.25,-1.88M486.2,364.43l0,-3.75M495.95,366.3l-3.25,-1.88M492.7,364.43l0,-3.75M284.7,371.93l-3.25,-1.88M281.45,370.06l0,-3.75M320.45,366.31l0,3.75M320.45,370.06l-3.25,1.88M317.2,371.93l-3.25,-1.88M313.95,370.06l0,-3.75M317.2,364.43l3.25,1.88M339.95,370.06l0,-3.75M352.95,370.06l-3.25,1.88M349.7,371.93l-3.25,-1.88M346.45,370.06l0,-3.75M346.45,366.31l3.25,-1.88M359.45,370.06l-3.25,1.88M356.2,371.93l-3.25,-1.88M362.7,371.93l-3.25,-1.88M450.45,366.31l0,3.75M456.95,366.31l0,3.75M456.95,370.06l-3.25,1.88M486.2,371.93l-3.25,-1.88M482.95,370.06l0,-3.75M482.95,366.31l3.25,-1.88M284.7,375.69l0,-3.75M339.95,377.57l-3.25,-1.88M336.7,375.69l0,-3.75M336.7,371.94l3.25,-1.88M365.95,377.57l-3.25,-1.88M362.7,375.69l0,-3.75M453.7,371.94l0,3.75M453.7,375.69l-3.25,1.88M450.45,370.06l3.25,1.88M343.2,383.2l-3.25,-1.88M339.95,381.32l0,-3.75M369.2,383.2l-3.25,-1.88M365.95,381.32l0,-3.75M450.45,377.57l0,3.75M450.45,381.32l-3.25,1.88M456.95,377.57l0,3.75M453.7,375.7l3.25,1.88M317.2,383.2l0,3.75M317.2,386.96l-3.25,1.88M313.95,388.83l-3.25,-1.88M310.7,386.96l0,-3.75M310.7,383.2l3.25,-1.88M313.95,381.33l3.25,1.88M349.7,386.96l-3.25,1.88M346.45,388.83l-3.25,-1.88M343.2,386.96l0,-3.75M356.2,386.96l-3.25,1.88M352.95,388.83l-3.25,-1.88M359.45,388.83l-3.25,-1.88M375.7,386.96l-3.25,1.88M372.45,388.83l-3.25,-1.88M369.2,386.96l0,-3.75M378.95,388.83l-3.25,-1.88M447.2,383.2l0,3.75M447.2,386.96l-3.25,1.88M453.7,383.2l0,3.75M450.45,381.33l3.25,1.88M460.2,383.2l0,3.75M456.95,381.33l3.25,1.88M320.45,392.59l-3.25,1.88M323.7,394.47l-3.25,-1.88M320.45,392.59l0,-3.75M320.45,388.84l3.25,-1.88M323.7,386.96l3.25,1.88M333.45,388.84l0,3.75M326.95,388.84l3.25,-1.88M330.2,386.96l3.25,1.88M362.7,394.47l-3.25,-1.88M359.45,392.59l0,-3.75M382.2,394.47l-3.25,-1.88M378.95,392.59l0,-3.75M430.95,392.59l-3.25,1.88M434.2,394.47l-3.25,-1.88M443.95,388.84l0,3.75M443.95,392.59l-3.25,1.88M450.45,392.59l-3.25,1.88M456.95,388.84l0,3.75M456.95,392.59l-3.25,1.88M453.7,394.47l-3.25,-1.88M453.7,386.96l3.25,1.88M460.2,386.96l3.25,1.88M330.2,398.22l-3.25,1.88M323.7,398.22l0,-3.75M333.45,400.1l-3.25,-1.88M333.45,392.59l3.25,1.88M336.7,394.47l3.25,-1.88M339.95,392.59l3.25,1.88M349.7,394.47l0,3.75M343.2,394.47l3.25,-1.88M346.45,392.59l3.25,1.88M362.7,398.22l0,-3.75M382.2,398.22l0,-3.75M427.7,394.47l0,3.75M427.7,398.22l-3.25,1.88M440.7,394.47l0,3.75M440.7,398.22l-3.25,1.88M437.45,400.1l-3.25,-1.88M434.2,398.22l0,-3.75M447.2,394.47l0,3.75M443.95,400.1l-3.25,-1.88M339.95,403.86l-3.25,1.88M333.45,403.86l0,-3.75M343.2,405.73l-3.25,-1.88M352.95,403.86l-3.25,1.88M349.7,398.23l3.25,1.88M356.2,405.73l-3.25,-1.88M352.95,400.1l3.25,-1.88M356.2,398.23l3.25,1.88M359.45,400.1l3.25,-1.88M378.95,403.86l0,-3.75M378.95,400.1l3.25,-1.88M398.45,403.86l-3.25,1.88M404.95,403.86l-3.25,1.88M401.7,405.73l-3.25,-1.88M411.45,403.86l-3.25,1.88M408.2,405.73l-3.25,-1.88M417.95,403.86l-3.25,1.88M414.7,405.73l-3.25,-1.88M424.45,400.1l0,3.75M424.45,403.86l-3.25,1.88M421.2,405.73l-3.25,-1.88M437.45,403.86l0,-3.75M443.95,403.86l0,-3.75M447.2,398.23l3.25,1.88M349.7,405.74l0,3.75M349.7,409.49l-3.25,1.88M343.2,409.49l0,-3.75M352.95,411.37l-3.25,-1.88M359.45,411.37l-3.25,-1.88M356.2,409.49l0,-3.75M375.7,409.49l0,-3.75M375.7,405.74l3.25,-1.88M395.2,405.74l0,3.75M401.7,409.49l0,-3.75M414.7,405.74l0,3.75M414.7,409.49l-3.25,1.88M440.7,405.74l3.25,-1.88M352.95,415.12l0,-3.75M359.45,415.12l0,-3.75M365.95,415.12l0,-3.75M365.95,411.37l3.25,-1.88M369.2,409.49l3.25,1.88M372.45,411.37l3.25,-1.88M372.45,426.39l0,-3.75M369.2,432.02l0,-3.75M369.2,428.27l3.25,-1.88M365.95,433.9l3.25,-1.88M378.95,437.65l-3.25,1.88M385.45,433.9l0,3.75M385.45,437.65l-3.25,1.88M382.2,439.53l-3.25,-1.88M382.2,439.53l0,3.75M382.2,443.29l-3.25,1.88"/>
<path fill="none" stroke="#383838" stroke-width="1.3" stroke-linecap="round" d="M359.45,62.12l0,3.75M352.95,65.88l0,-3.75M352.95,62.12l3.25,-1.88M356.2,60.25l3.25,1.88M372.45,62.12l0,3.75M365.95,65.88l0,-3.75M365.95,62.12l3.25,-1.88M369.2,60.25l3.25,1.88M343.2,71.51l0,-3.75M343.2,67.76l3.25,-1.88M346.45,65.88l3.25,1.88M349.7,67.76l3.25,-1.88M359.45,65.88l3.25,1.88M362.7,67.76l3.25,-1.88M375.7,67.76l0,3.75M372.45,65.88l3.25,1.88M395.2,67.76l0,3.75M388.7,71.51l0,-3.75M388.7,67.76l3.25,-1.88M391.95,65.88l3.25,1.88M333.45,77.14l0,-3.75M333.45,73.39l3.25,-1.88M336.7,71.51l3.25,1.88M339.95,73.39l3.25,-1.88M378.95,73.39l0,3.75M375.7,71.51l3.25,1.88M385.45,77.14l0,-3.75M385.45,73.39l3.25,-1.88M395.2,71.51l3.25,1.88M404.95,73.39l0,3.75M398.45,73.39l3.25,-1.88M401.7,71.51l3.25,1.88M323.7,82.78l0,-3.75M323.7,79.02l3.25,-1.88M326.95,77.15l3.25,1.88M330.2,79.02l3.25,-1.88M378.95,77.15l3.25,1.88M382.2,79.02l3.25,-1.88M404.95,77.15l3.25,1.88M414.7,79.02l0,3.75M408.2,79.02l3.25,-1.88M411.45,77.15l3.25,1.88M313.95,88.41l0,-3.75M313.95,84.66l3.25,-1.88M317.2,82.78l3.25,1.88M320.45,84.66l3.25,-1.88M414.7,82.78l3.25,1.88M424.45,84.66l0,3.75M417.95,84.66l3.25,-1.88M421.2,82.78l3.25,1.88M310.7,94.04l0,-3.75M310.7,90.29l3.25,-1.88M421.2,94.04l-3.25,1.88M427.7,90.29l0,3.75M427.7,94.04l-3.25,1.88M424.45,95.92l-3.25,-1.88M424.45,88.41l3.25,1.88M203.45,99.67l0,-3.75M203.45,95.92l3.25,-1.88M206.7,94.05l3.25,1.88M216.45,95.92l0,3.75M209.95,95.92l3.25,-1.88M213.2,94.05l3.25,1.88M294.45,99.67l0,-3.75M294.45,95.92l3.25,-1.88M297.7,94.05l3.25,1.88M300.95,95.92l3.25,-1.88M304.2,94.05l3.25,1.88M307.45,95.92l3.25,-1.88M417.95,95.92l0,3.75M187.2,105.31l0,-3.75M187.2,101.55l3.25,-1.88M190.45,99.68l3.25,1.88M193.7,101.55l3.25,-1.88M196.95,99.68l3.25,1.88M200.2,101.55l3.25,-1.88M216.45,99.68l3.25,1.88M226.2,101.55l0,3.75M219.7,101.55l3.25,-1.88M222.95,99.68l3.25,1.88M284.7,105.31l0,-3.75M284.7,101.55l3.25,-1.88M287.95,99.68l3.25,1.88M291.2,101.55l3.25,-1.88M417.95,99.68l3.25,1.88M421.2,101.55l3.25,-1.88M424.45,99.68l3.25,1.88M434.2,101.55l0,3.75M427.7,101.55l3.25,-1.88M430.95,99.68l3.25,1.88M177.45,110.94l0,-3.75M177.45,107.19l3.25,-1.88M180.7,105.31l3.25,1.88M183.95,107.19l3.25,-1.88M229.45,107.19l0,3.75M226.2,105.31l3.25,1.88M281.45,110.94l0,-3.75M281.45,107.19l3.25,-1.88M437.45,107.19l0,3.75M434.2,105.31l3.25,1.88M174.2,116.57l0,-3.75M174.2,112.82l3.25,-1.88M232.7,112.82l0,3.75M229.45,110.94l3.25,1.88M278.2,116.57l0,-3.75M278.2,112.82l3.25,-1.88M440.7,112.82l0,3.75M437.45,110.94l3.25,1.88M170.95,122.21l0,-3.75M170.95,118.45l3.25,-1.88M232.7,116.58l3.25,1.88M235.95,118.45l3.25,-1.88M239.2,116.58l3.25,1.88M242.45,118.45l3.25,-1.88M245.7,116.58l3.25,1.88M248.95,118.45l3.25,-1.88M252.2,116.58l3.25,1.88M255.45,118.45l3.25,-1.88M258.7,116.58l3.25,1.88M261.95,118.45l3.25,-1.88M265.2,116.58l3.25,1.88M268.45,118.45l3.25,-1.88M271.7,116.58l3.25,1.88M274.95,118.45l3.25,-1.88M443.95,118.45l0,3.75M440.7,116.58l3.25,1.88M161.2,127.84l0,-3.75M161.2,124.09l3.25,-1.88M164.45,122.21l3.25,1.88M167.7,124.09l3.25,-1.88M447.2,124.09l0,3.75M447.2,127.84l-3.25,1.88M443.95,122.21l3.25,1.88M144.95,133.47l0,-3.75M144.95,129.72l3.25,-1.88M148.2,127.84l3.25,1.88M151.45,129.72l3.25,-1.88M154.7,127.84l3.25,1.88M157.95,129.72l3.25,-1.88M443.95,129.72l0,3.75M443.95,133.47l-3.25,1.88M463.45,133.47l0,-3.75M463.45,129.72l3.25,-1.88M466.7,127.84l3.25,1.88M476.45,129.72l0,3.75M469.95,129.72l3.25,-1.88M473.2,127.84l3.25,1.88M128.7,139.11l0,-3.75M128.7,135.35l3.25,-1.88M131.95,133.48l3.25,1.88M135.2,135.35l3.25,-1.88M138.45,133.48l3.25,1.88M141.7,135.35l3.25,-1.88M440.7,135.35l0,3.75M460.2,139.11l0,-3.75M460.2,135.35l3.25,-1.88M476.45,133.48l3.25,1.88M479.7,135.35l3.25,-1.88M482.95,133.48l3.25,1.88M492.7,135.35l0,3.75M486.2,135.35l3.25,-1.88M489.45,133.48l3.25,1.88M125.45,144.74l0,-3.75M125.45,140.99l3.25,-1.88M443.95,140.99l0,3.75M440.7,139.11l3.25,1.88M456.95,144.74l0,-3.75M456.95,140.99l3.25,-1.88M495.95,140.99l0,3.75M492.7,139.11l3.25,1.88M125.45,152.25l-3.25,-1.88M122.2,150.37l0,-3.75M122.2,146.62l3.25,-1.88M443.95,144.74l3.25,1.88M447.2,146.62l3.25,-1.88M450.45,144.74l3.25,1.88M453.7,146.62l3.25,-1.88M495.95,144.74l3.25,1.88M505.7,146.62l0,3.75M499.2,146.62l3.25,-1.88M502.45,144.74l3.25,1.88M531.7,146.62l0,3.75M525.2,150.37l0,-3.75M525.2,146.62l3.25,-1.88M528.45,144.74l3.25,1.88M125.45,156l0,-3.75M505.7,150.38l3.25,1.88M508.95,152.25l3.25,-1.88M512.2,150.38l3.25,1.88M515.45,152.25l3.25,-1.88M518.7,150.38l3.25,1.88M521.95,152.25l3.25,-1.88M534.95,152.25l0,3.75M531.7,150.38l3.25,1.88M122.2,161.64l0,-3.75M122.2,157.88l3.25,-1.88M534.95,156.01l3.25,1.88M544.7,157.88l0,3.75M538.2,157.88l3.25,-1.88M541.45,156.01l3.25,1.88M118.95,167.27l0,-3.75M118.95,163.52l3.25,-1.88M544.7,161.64l3.25,1.88M554.45,163.52l0,3.75M547.95,163.52l3.25,-1.88M551.2,161.64l3.25,1.88M109.2,172.9l0,-3.75M109.2,169.15l3.25,-1.88M112.45,167.27l3.25,1.88M115.7,169.15l3.25,-1.88M557.7,169.15l0,3.75M554.45,167.27l3.25,1.88M109.2,180.41l-3.25,-1.88M105.95,178.54l0,-3.75M105.95,174.78l3.25,-1.88M560.95,174.78l0,3.75M557.7,172.91l3.25,1.88M109.2,184.17l0,-3.75M564.2,180.42l0,3.75M560.95,178.54l3.25,1.88M109.2,191.68l-3.25,-1.88M105.95,189.8l0,-3.75M105.95,186.05l3.25,-1.88M567.45,186.05l0,3.75M564.2,184.17l3.25,1.88M109.2,195.44l0,-3.75M570.7,191.68l0,3.75M567.45,189.81l3.25,1.88M105.95,201.07l0,-3.75M105.95,197.32l3.25,-1.88M573.95,197.32l0,3.75M570.7,195.44l3.25,1.88M638.95,201.07l0,-3.75M638.95,197.32l3.25,-1.88M642.2,195.44l3.25,1.88M645.45,197.32l3.25,-1.88M648.7,195.44l3.25,1.88M658.45,197.32l0,3.75M651.95,197.32l3.25,-1.88M655.2,195.44l3.25,1.88M671.45,197.32l0,3.75M664.95,201.07l0,-3.75M664.95,197.32l3.25,-1.88M668.2,195.44l3.25,1.88M102.7,206.7l0,-3.75M102.7,202.95l3.25,-1.88M573.95,201.07l3.25,1.88M583.7,202.95l0,3.75M577.2,202.95l3.25,-1.88M580.45,201.07l3.25,1.88M635.7,206.7l0,-3.75M635.7,202.95l3.25,-1.88M658.45,201.07l3.25,1.88M661.7,202.95l3.25,-1.88M671.45,201.07l3.25,1.88M681.2,202.95l0,3.75M674.7,202.95l3.25,-1.88M677.95,201.07l3.25,1.88M99.45,212.33l0,-3.75M99.45,208.58l3.25,-1.88M583.7,206.71l3.25,1.88M593.45,208.58l0,3.75M586.95,208.58l3.25,-1.88M590.2,206.71l3.25,1.88M632.45,212.33l0,-3.75M632.45,208.58l3.25,-1.88M684.45,208.58l0,3.75M681.2,206.71l3.25,1.88M96.2,217.97l0,-3.75M96.2,214.21l3.25,-1.88M593.45,212.34l3.25,1.88M596.7,214.21l3.25,-1.88M599.95,212.34l3.25,1.88M603.2,214.21l3.25,-1.88M606.45,212.34l3.25,1.88M609.7,214.21l3.25,-1.88M612.95,212.34l3.25,1.88M622.7,214.21l0,3.75M616.2,214.21l3.25,-1.88M619.45,212.34l3.25,1.88M629.2,217.97l0,-3.75M629.2,214.21l3.25,-1.88M687.7,214.21l0,3.75M684.45,212.34l3.25,1.88M92.95,223.6l0,-3.75M92.95,219.85l3.25,-1.88M622.7,217.97l3.25,1.88M625.95,219.85l3.25,-1.88M690.95,219.85l0,3.75M687.7,217.97l3.25,1.88M89.7,229.23l0,-3.75M89.7,225.48l3.25,-1.88M694.2,225.48l0,3.75M694.2,229.23l-3.25,1.88M690.95,223.6l3.25,1.88M86.45,234.87l0,-3.75M86.45,231.11l3.25,-1.88M690.95,231.11l0,3.75M83.2,240.5l0,-3.75M83.2,236.75l3.25,-1.88M690.95,234.87l3.25,1.88M694.2,236.75l3.25,-1.88M697.45,234.87l3.25,1.88M707.2,236.75l0,3.75M700.7,236.75l3.25,-1.88M703.95,234.87l3.25,1.88M79.95,246.13l0,-3.75M79.95,242.38l3.25,-1.88M707.2,240.5l3.25,1.88M710.45,242.38l3.25,-1.88M713.7,240.5l3.25,1.88M723.45,242.38l0,3.75M716.95,242.38l3.25,-1.88M720.2,240.5l3.25,1.88M76.7,251.77l0,-3.75M76.7,248.01l3.25,-1.88M723.45,246.14l3.25,1.88M733.2,248.01l0,3.75M726.7,248.01l3.25,-1.88M729.95,246.14l3.25,1.88M73.45,257.4l0,-3.75M73.45,253.65l3.25,-1.88M736.45,253.65l0,3.75M736.45,257.4l-3.25,1.88M733.2,251.77l3.25,1.88M70.2,263.03l0,-3.75M70.2,259.28l3.25,-1.88M733.2,259.28l0,3.75M60.45,268.66l0,-3.75M60.45,264.91l3.25,-1.88M63.7,263.04l3.25,1.88M66.95,264.91l3.25,-1.88M736.45,264.91l0,3.75M736.45,268.66l-3.25,1.88M733.2,263.04l3.25,1.88M60.45,276.17l-3.25,-1.88M57.2,274.3l0,-3.75M57.2,270.54l3.25,-1.88M733.2,270.54l0,3.75M733.2,274.3l-3.25,1.88M60.45,279.93l0,-3.75M729.95,276.18l0,3.75M729.95,279.93l-3.25,1.88M60.45,287.44l-3.25,-1.88M57.2,285.56l0,-3.75M57.2,281.81l3.25,-1.88M726.7,281.81l0,3.75M726.7,285.56l-3.25,1.88M60.45,291.2l0,-3.75M723.45,287.44l0,3.75M723.45,291.2l-3.25,1.88M57.2,296.83l0,-3.75M57.2,293.08l3.25,-1.88M720.2,293.08l0,3.75M720.2,296.83l-3.25,1.88M53.95,302.46l0,-3.75M53.95,298.71l3.25,-1.88M716.95,298.71l0,3.75M50.7,308.1l0,-3.75M50.7,304.34l3.25,-1.88M720.2,304.34l0,3.75M716.95,302.47l3.25,1.88M50.7,315.6l-3.25,-1.88M47.45,313.73l0,-3.75M47.45,309.98l3.25,-1.88M723.45,309.98l0,3.75M720.2,308.1l3.25,1.88M50.7,319.36l0,-3.75M726.7,315.61l0,3.75M726.7,319.36l-3.25,1.88M723.45,313.73l3.25,1.88M47.45,324.99l0,-3.75M47.45,321.24l3.25,-1.88M66.95,324.99l-3.25,1.88M70.2,326.87l-3.25,-1.88M79.95,324.99l-3.25,1.88M86.45,324.99l-3.25,1.88M83.2,326.87l-3.25,-1.88M89.7,326.87l-3.25,-1.88M632.45,324.99l-3.25,1.88M638.95,324.99l-3.25,1.88M635.7,326.87l-3.25,-1.88M645.45,324.99l-3.25,1.88M642.2,326.87l-3.25,-1.88M651.95,324.99l-3.25,1.88M648.7,326.87l-3.25,-1.88M655.2,326.87l-3.25,-1.88M703.95,324.99l-3.25,1.88M710.45,324.99l-3.25,1.88M707.2,326.87l-3.25,-1.88M716.95,324.99l-3.25,1.88M713.7,326.87l-3.25,-1.88M723.45,321.24l0,3.75M723.45,324.99l-3.25,1.88M720.2,326.87l-3.25,-1.88M44.2,330.63l0,-3.75M44.2,326.87l3.25,-1.88M63.7,326.87l0,3.75M63.7,330.63l-3.25,1.88M76.7,326.87l0,3.75M76.7,330.63l-3.25,1.88M73.45,332.5l-3.25,-1.88M70.2,330.63l0,-3.75M89.7,330.63l0,-3.75M609.7,330.63l-3.25,1.88M616.2,330.63l-3.25,1.88M612.95,332.5l-3.25,-1.88M622.7,330.63l-3.25,1.88M619.45,332.5l-3.25,-1.88M629.2,326.87l0,3.75M629.2,330.63l-3.25,1.88M625.95,332.5l-3.25,-1.88M661.7,330.63l-3.25,1.88M658.45,332.5l-3.25,-1.88M655.2,330.63l0,-3.75M668.2,330.63l-3.25,1.88M664.95,332.5l-3.25,-1.88M674.7,330.63l-3.25,1.88M671.45,332.5l-3.25,-1.88M677.95,332.5l-3.25,-1.88M694.2,330.63l-3.25,1.88M700.7,326.87l0,3.75M700.7,330.63l-3.25,1.88M697.45,332.5l-3.25,-1.88M40.95,336.26l0,-3.75M40.95,332.51l3.25,-1.88M60.45,332.51l0,3.75M92.95,336.26l-3.25,1.88M89.7,338.14l-3.25,-1.88M86.45,336.26l0,-3.75M86.45,332.51l3.25,-1.88M96.2,338.14l-3.25,-1.88M138.45,336.26l-3.25,1.88M141.7,338.14l-3.25,-1.88M196.95,336.26l-3.25,1.88M200.2,338.14l-3.25,-1.88M586.95,336.26l-3.25,1.88M593.45,336.26l-3.25,1.88M590.2,338.14l-3.25,-1.88M599.95,336.26l-3.25,1.88M596.7,338.14l-3.25,-1.88M606.45,332.51l0,3.75M606.45,336.26l-3.25,1.88M603.2,338.14l-3.25,-1.88M684.45,336.26l-3.25,1.88M681.2,338.14l-3.25,-1.88M677.95,336.26l0,-3.75M690.95,332.51l0,3.75M690.95,336.26l-3.25,1.88M687.7,338.14l-3.25,-1.88M37.7,341.89l0,-3.75M37.7,338.14l3.25,-1.88M63.7,338.14l0,3.75M60.45,336.26l3.25,1.88M96.2,341.89l0,-3.75M135.2,338.14l0,3.75M144.95,343.77l-3.25,-1.88M141.7,341.89l0,-3.75M161.2,341.89l-3.25,1.88M167.7,341.89l-3.25,1.88M164.45,343.77l-3.25,-1.88M170.95,343.77l-3.25,-1.88M180.7,341.89l-3.25,1.88M187.2,341.89l-3.25,1.88M183.95,343.77l-3.25,-1.88M193.7,338.14l0,3.75M190.45,343.77l-3.25,-1.88M203.45,343.77l-3.25,-1.88M200.2,341.89l0,-3.75M570.7,341.89l-3.25,1.88M577.2,341.89l-3.25,1.88M573.95,343.77l-3.25,-1.88M583.7,338.14l0,3.75M583.7,341.89l-3.25,1.88M580.45,343.77l-3.25,-1.88M37.7,349.4l-3.25,-1.88M34.45,347.53l0,-3.75M34.45,343.77l3.25,-1.88M66.95,343.77l0,3.75M63.7,341.9l3.25,1.88M92.95,347.53l0,-3.75M92.95,343.77l3.25,-1.88M125.45,347.53l-3.25,1.88M128.7,349.4l-3.25,-1.88M138.45,343.77l0,3.75M138.45,347.53l-3.25,1.88M135.2,341.9l3.25,1.88M148.2,349.4l-3.25,-1.88M144.95,347.53l0,-3.75M157.95,343.77l0,3.75M177.45,343.77l0,3.75M177.45,347.53l-3.25,1.88M174.2,349.4l-3.25,-1.88M170.95,347.53l0,-3.75M196.95,343.77l0,3.75M193.7,349.4l-3.25,-1.88M190.45,347.53l0,-3.75M193.7,341.9l3.25,1.88M209.95,347.53l-3.25,1.88M206.7,349.4l-3.25,-1.88M203.45,347.53l0,-3.75M213.2,349.4l-3.25,-1.88M547.95,347.53l-3.25,1.88M554.45,347.53l-3.25,1.88M551.2,349.4l-3.25,-1.88M560.95,347.53l-3.25,1.88M557.7,349.4l-3.25,-1.88M567.45,343.77l0,3.75M567.45,347.53l-3.25,1.88M564.2,349.4l-3.25,-1.88M37.7,353.16l0,-3.75M70.2,349.41l0,3.75M66.95,347.53l3.25,1.88M89.7,353.16l-3.25,1.88M86.45,355.04l-3.25,-1.88M83.2,353.16l0,-3.75M83.2,349.41l3.25,-1.88M86.45,347.53l3.25,1.88M96.2,353.16l-3.25,1.88M92.95,355.04l-3.25,-1.88M89.7,349.41l3.25,-1.88M99.45,355.04l-3.25,-1.88M122.2,349.41l0,3.75M122.2,353.16l-3.25,1.88M135.2,349.41l0,3.75M131.95,355.04l-3.25,-1.88M128.7,353.16l0,-3.75M154.7,353.16l-3.25,1.88M151.45,355.04l-3.25,-1.88M148.2,353.16l0,-3.75M161.2,349.41l0,3.75M161.2,353.16l-3.25,1.88M157.95,355.04l-3.25,-1.88M157.95,347.53l3.25,1.88M200.2,349.41l0,3.75M200.2,353.16l-3.25,1.88M196.95,355.04l-3.25,-1.88M193.7,353.16l0,-3.75M196.95,347.53l3.25,1.88M219.7,353.16l-3.25,1.88M216.45,355.04l-3.25,-1.88M213.2,353.16l0,-3.75M226.2,353.16l-3.25,1.88M222.95,355.04l-3.25,-1.88M232.7,353.16l-3.25,1.88M229.45,355.04l-3.25,-1.88M239.2,353.16l-3.25,1.88M235.95,355.04l-3.25,-1.88M245.7,353.16l-3.25,1.88M242.45,355.04l-3.25,-1.88M248.95,355.04l-3.25,-1.88M265.2,353.16l-3.25,1.88M271.7,353.16l-3.25,1.88M268.45,355.04l-3.25,-1.88M274.95,355.04l-3.25,-1.88M531.7,353.16l-3.25,1.88M538.2,353.16l-3.25,1.88M534.95,355.04l-3.25,-1.88M544.7,349.41l0,3.75M544.7,353.16l-3.25,1.88M541.45,355.04l-3.25,-1.88M34.45,358.79l0,-3.75M34.45,355.04l3.25,-1.88M73.45,355.04l0,3.75M70.2,353.16l3.25,1.88M102.7,360.67l-3.25,-1.88M99.45,358.79l0,-3.75M118.95,355.04l0,3.75M138.45,355.04l0,3.75M138.45,358.79l-3.25,1.88M135.2,360.67l-3.25,-1.88M131.95,358.79l0,-3.75M135.2,353.16l3.25,1.88M255.45,358.79l-3.25,1.88M252.2,360.67l-3.25,-1.88M248.95,358.79l0,-3.75M261.95,355.04l0,3.75M261.95,358.79l-3.25,1.88M258.7,360.67l-3.25,-1.88M278.2,360.67l-3.25,-1.88M274.95,358.79l0,-3.75M515.45,358.79l-3.25,1.88M521.95,358.79l-3.25,1.88M518.7,360.67l-3.25,-1.88M528.45,355.04l0,3.75M528.45,358.79l-3.25,1.88M525.2,360.67l-3.25,-1.88M34.45,366.3l-3.25,-1.88M31.2,364.43l0,-3.75M31.2,360.67l3.25,-1.88M76.7,360.67l0,3.75M73.45,358.8l3.25,1.88M109.2,364.43l-3.25,1.88M105.95,366.3l-3.25,-1.88M102.7,364.43l0,-3.75M112.45,366.3l-3.25,-1.88M122.2,360.67l0,3.75M122.2,364.43l-3.25,1.88M118.95,358.8l3.25,1.88M278.2,364.43l0,-3.75M499.2,364.43l-3.25,1.88M505.7,364.43l-3.25,1.88M502.45,366.3l-3.25,-1.88M512.2,360.67l0,3.75M512.2,364.43l-3.25,1.88M508.95,366.3l-3.25,-1.88M37.7,371.93l-3.25,-1.88M34.45,370.06l0,-3.75M79.95,366.31l0,3.75M76.7,364.43l3.25,1.88M118.95,366.31l0,3.75M118.95,370.06l-3.25,1.88M115.7,371.93l-3.25,-1.88M112.45,370.06l0,-3.75M278.2,371.93l-3.25,-1.88M274.95,370.06l0,-3.75M274.95,366.31l3.25,-1.88M489.45,370.06l-3.25,1.88M495.95,366.31l0,3.75M495.95,370.06l-3.25,1.88M492.7,371.93l-3.25,-1.88M37.7,375.69l0,-3.75M83.2,371.94l0,3.75M79.95,370.06l3.25,1.88M284.7,375.69l-3.25,1.88M281.45,377.57l-3.25,-1.88M278.2,375.69l0,-3.75M291.2,375.69l-3.25,1.88M287.95,377.57l-3.25,-1.88M294.45,377.57l-3.25,-1.88M486.2,371.94l0,3.75M486.2,375.69l-3.25,1.88M34.45,381.32l0,-3.75M34.45,377.57l3.25,-1.88M86.45,377.57l0,3.75M86.45,381.32l-3.25,1.88M83.2,375.7l3.25,1.88M300.95,381.32l-3.25,1.88M297.7,383.2l-3.25,-1.88M294.45,381.32l0,-3.75M304.2,383.2l-3.25,-1.88M476.45,381.32l-3.25,1.88M482.95,377.57l0,3.75M482.95,381.32l-3.25,1.88M479.7,383.2l-3.25,-1.88M31.2,386.96l0,-3.75M31.2,383.2l3.25,-1.88M76.7,386.96l-3.25,1.88M83.2,383.2l0,3.75M83.2,386.96l-3.25,1.88M79.95,388.83l-3.25,-1.88M307.45,388.83l-3.25,-1.88M304.2,386.96l0,-3.75M466.7,386.96l-3.25,1.88M473.2,383.2l0,3.75M473.2,386.96l-3.25,1.88M469.95,388.83l-3.25,-1.88M21.45,392.59l0,-3.75M21.45,388.84l3.25,-1.88M24.7,386.96l3.25,1.88M27.95,388.84l3.25,-1.88M73.45,388.84l0,3.75M73.45,392.59l-3.25,1.88M313.95,392.59l-3.25,1.88M310.7,394.47l-3.25,-1.88M307.45,392.59l0,-3.75M317.2,394.47l-3.25,-1.88M463.45,388.84l0,3.75M463.45,392.59l-3.25,1.88M21.45,400.1l-3.25,-1.88M18.2,398.22l0,-3.75M18.2,394.47l3.25,-1.88M70.2,394.47l0,3.75M70.2,398.22l-3.25,1.88M323.7,398.22l-3.25,1.88M320.45,400.1l-3.25,-1.88M317.2,398.22l0,-3.75M326.95,400.1l-3.25,-1.88M453.7,398.22l-3.25,1.88M460.2,394.47l0,3.75M460.2,398.22l-3.25,1.88M456.95,400.1l-3.25,-1.88M21.45,403.86l0,-3.75M66.95,400.1l0,3.75M66.95,403.86l-3.25,1.88M333.45,403.86l-3.25,1.88M330.2,405.73l-3.25,-1.88M326.95,403.86l0,-3.75M336.7,405.73l-3.25,-1.88M437.45,403.86l-3.25,1.88M440.7,405.73l-3.25,-1.88M450.45,400.1l0,3.75M450.45,403.86l-3.25,1.88M21.45,411.37l-3.25,-1.88M18.2,409.49l0,-3.75M18.2,405.74l3.25,-1.88M50.7,409.49l-3.25,1.88M57.2,409.49l-3.25,1.88M53.95,411.37l-3.25,-1.88M63.7,405.74l0,3.75M63.7,409.49l-3.25,1.88M60.45,411.37l-3.25,-1.88M343.2,409.49l-3.25,1.88M339.95,411.37l-3.25,-1.88M336.7,409.49l0,-3.75M346.45,411.37l-3.25,-1.88M388.7,409.49l-3.25,1.88M395.2,409.49l-3.25,1.88M391.95,411.37l-3.25,-1.88M401.7,409.49l-3.25,1.88M398.45,411.37l-3.25,-1.88M408.2,409.49l-3.25,1.88M404.95,411.37l-3.25,-1.88M411.45,411.37l-3.25,-1.88M421.2,409.49l-3.25,1.88M424.45,411.37l-3.25,-1.88M447.2,405.74l0,3.75M447.2,409.49l-3.25,1.88M443.95,411.37l-3.25,-1.88M440.7,409.49l0,-3.75M24.7,417l-3.25,-1.88M21.45,415.12l0,-3.75M40.95,415.12l-3.25,1.88M47.45,411.37l0,3.75M47.45,415.12l-3.25,1.88M44.2,417l-3.25,-1.88M352.95,415.12l-3.25,1.88M349.7,417l-3.25,-1.88M346.45,415.12l0,-3.75M359.45,415.12l-3.25,1.88M356.2,417l-3.25,-1.88M365.95,415.12l-3.25,1.88M362.7,417l-3.25,-1.88M372.45,415.12l-3.25,1.88M369.2,417l-3.25,-1.88M378.95,415.12l-3.25,1.88M375.7,417l-3.25,-1.88M385.45,411.37l0,3.75M385.45,415.12l-3.25,1.88M382.2,417l-3.25,-1.88M24.7,420.76l0,-3.75M37.7,417l0,3.75M37.7,420.76l-3.25,1.88M21.45,426.39l0,-3.75M21.45,422.64l3.25,-1.88M34.45,422.64l0,3.75M34.45,426.39l-3.25,1.88M18.2,432.02l0,-3.75M18.2,428.27l3.25,-1.88M31.2,428.27l0,3.75M31.2,432.02l-3.25,1.88M18.2,439.53l-3.25,-1.88M14.95,437.65l0,-3.75M14.95,433.9l3.25,-1.88M27.95,433.9l0,3.75M18.2,443.29l0,-3.75M31.2,439.53l0,3.75M27.95,437.66l3.25,1.88M14.95,448.92l0,-3.75M14.95,445.17l3.25,-1.88M34.45,445.17l0,3.75M31.2,443.29l3.25,1.88M18.2,454.55l-3.25,1.88M14.95,456.43l-3.25,-1.88M11.7,454.55l0,-3.75M11.7,450.8l3.25,-1.88M21.45,456.43l-3.25,-1.88M37.7,450.8l0,3.75M37.7,454.55l-3.25,1.88M34.45,448.92l3.25,1.88M27.95,460.19l-3.25,1.88M24.7,462.06l-3.25,-1.88M21.45,460.19l0,-3.75M34.45,456.43l0,3.75M34.45,460.19l-3.25,1.88M31.2,462.06l-3.25,-1.88M268.45,377.57l0,3.75M261.95,381.32l0,-3.75M261.95,377.57l3.25,-1.88M265.2,375.7l3.25,1.88M261.95,388.83l-3.25,-1.88M258.7,386.96l0,-3.75M258.7,383.2l3.25,-1.88M268.45,381.33l3.25,1.88M271.7,383.2l3.25,-1.88M274.95,381.33l3.25,1.88M284.7,383.2l0,3.75M278.2,383.2l3.25,-1.88M281.45,381.33l3.25,1.88M268.45,392.59l-3.25,1.88M265.2,394.47l-3.25,-1.88M261.95,392.59l0,-3.75M271.7,394.47l-3.25,-1.88M284.7,386.96l3.25,1.88M287.95,388.84l3.25,-1.88M291.2,386.96l3.25,1.88M300.95,388.84l0,3.75M300.95,392.59l-3.25,1.88M294.45,388.84l3.25,-1.88M297.7,386.96l3.25,1.88M278.2,398.22l-3.25,1.88M274.95,400.1l-3.25,-1.88M271.7,398.22l0,-3.75M281.45,400.1l-3.25,-1.88M297.7,394.47l0,3.75M297.7,398.22l-3.25,1.88M287.95,403.86l-3.25,1.88M284.7,405.73l-3.25,-1.88M281.45,403.86l0,-3.75M294.45,400.1l0,3.75M294.45,403.86l-3.25,1.88M291.2,405.73l-3.25,-1.88M388.7,420.76l0,-3.75M388.7,417l3.25,-1.88M391.95,415.13l3.25,1.88M395.2,417l3.25,-1.88M398.45,415.13l3.25,1.88M408.2,417l0,3.75M408.2,420.76l-3.25,1.88M401.7,417l3.25,-1.88M404.95,415.13l3.25,1.88M391.95,426.39l-3.25,1.88M388.7,428.26l-3.25,-1.88M385.45,426.39l0,-3.75M385.45,422.64l3.25,-1.88M398.45,426.39l-3.25,1.88M395.2,428.26l-3.25,-1.88M404.95,422.64l0,3.75M404.95,426.39l-3.25,1.88M401.7,428.26l-3.25,-1.88M356.2,428.26l-3.25,-1.88M352.95,426.39l0,-3.75M352.95,422.64l3.25,-1.88M356.2,420.76l3.25,1.88M359.45,422.64l3.25,-1.88M362.7,420.76l3.25,1.88M365.95,422.64l3.25,-1.88M369.2,420.76l3.25,1.88M378.95,422.64l0,3.75M372.45,422.64l3.25,-1.88M375.7,420.76l3.25,1.88M362.7,432.02l-3.25,1.88M359.45,433.9l-3.25,-1.88M356.2,432.02l0,-3.75M365.95,433.9l-3.25,-1.88M382.2,428.27l0,3.75M378.95,426.39l3.25,1.88M372.45,437.65l-3.25,1.88M369.2,439.53l-3.25,-1.88M365.95,437.65l0,-3.75M375.7,439.53l-3.25,-1.88M382.2,432.03l3.25,1.88M385.45,433.9l3.25,-1.88M388.7,432.03l3.25,1.88M391.95,433.9l3.25,-1.88M395.2,432.03l3.25,1.88M398.45,433.9l3.25,-1.88M401.7,432.03l3.25,1.88M404.95,433.9l3.25,-1.88M408.2,432.03l3.25,1.88M417.95,437.65l-3.25,1.88M411.45,433.9l3.25,-1.88M414.7,432.03l3.25,1.88M424.45,433.9l0,3.75M424.45,437.65l-3.25,1.88M421.2,439.53l-3.25,-1.88M417.95,433.9l3.25,-1.88M421.2,432.03l3.25,1.88M378.95,445.16l-3.25,-1.88M375.7,443.29l0,-3.75M414.7,439.53l0,3.75M414.7,443.29l-3.25,1.88M385.45,448.92l-3.25,1.88M382.2,450.8l-3.25,-1.88M378.95,448.92l0,-3.75M388.7,450.8l-3.25,-1.88M411.45,445.17l0,3.75M411.45,448.92l-3.25,1.88M391.95,456.43l-3.25,-1.88M388.7,454.55l0,-3.75M401.7,454.55l-3.25,1.88M408.2,450.8l0,3.75M408.2,454.55l-3.25,1.88M404.95,456.43l-3.25,-1.88M398.45,456.43l0,3.75M398.45,460.19l-3.25,1.88M395.2,462.06l-3.25,-1.88M391.95,460.19l0,-3.75M434.2,405.74l0,3.75M434.2,409.49l-3.25,1.88M417.95,411.37l0,3.75M417.95,415.12l-3.25,1.88M414.7,417l-3.25,-1.88M411.45,415.12l0,-3.75M430.95,411.37l0,3.75M430.95,415.12l-3.25,1.88M427.7,417l-3.25,-1.88M424.45,415.12l0,-3.75"/>
<polygon points="496.50,443.80 491.30,446.80 486.10,443.80 486.10,437.80 491.30,434.80 496.50,437.80" fill="#006837" stroke="#333" stroke-width="1"/>
<polygon points="549.60,443.80 544.40,446.80 539.20,443.80 539.20,437.80 544.40,434.80 549.60,437.80" fill="#31a354" stroke="#333" stroke-width="1"/>
<polygon points="602.20,443.80 597.00,446.80 591.80,443.80 591.80,437.80 597.00,434.80 602.20,437.80" fill="#78c679" stroke="#333" stroke-width="1"/>
<polygon points="654.80,443.80 649.60,446.80 644.40,443.80 644.40,437.80 649.60,434.80 654.80,437.80" fill="#c2e699" stroke="#333" stroke-width="1"/>
</svg>
<div class="copy">© 2017 keylocation.sg</div>
<div class="lg" style="left:500.5px">15 min</div>
<div class="lg" style="left:553px">30 min</div>
<div class="lg" style="left:605.7px">40 min</div>
<div class="lg" style="left:658.5px">60 min</div>
</body></html>
